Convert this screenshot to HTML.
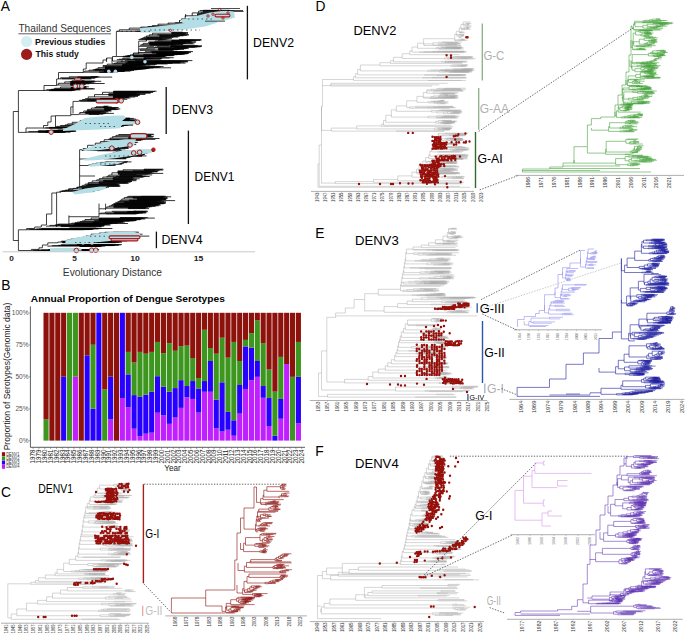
<!DOCTYPE html>
<html><head><meta charset="utf-8"><style>
html,body{margin:0;padding:0;background:#fff;}
svg{display:block;font-family:"Liberation Sans",sans-serif;}
</style></head><body>
<svg width="685" height="634" viewBox="0 0 685 634">
<rect width="685" height="634" fill="#fff"/>
<text x="0.8" y="10.8" font-size="13.8" fill="#000">A</text>
<text x="1.2" y="289.7" font-size="13.8" fill="#000">B</text>
<text x="0.9" y="497.2" font-size="13.8" fill="#000">C</text>
<text x="315.6" y="10.6" font-size="13.8" fill="#000">D</text>
<text x="315.2" y="238.1" font-size="13.8" fill="#000">E</text>
<text x="315.2" y="455.9" font-size="13.8" fill="#000">F</text>
<rect x="43.50" y="419.39" width="5.12" height="21.21" fill="#3d961e"/>
<rect x="43.50" y="312.80" width="5.12" height="106.59" fill="#8e120c"/>
<rect x="49.37" y="312.80" width="5.12" height="127.80" fill="#8e120c"/>
<rect x="55.24" y="312.80" width="5.12" height="127.80" fill="#8e120c"/>
<rect x="61.10" y="376.70" width="5.12" height="63.90" fill="#2800ff"/>
<rect x="61.10" y="312.80" width="5.12" height="63.90" fill="#8e120c"/>
<rect x="66.97" y="312.80" width="5.12" height="127.80" fill="#3d961e"/>
<rect x="72.84" y="376.70" width="5.12" height="63.90" fill="#c020ff"/>
<rect x="72.84" y="312.80" width="5.12" height="63.90" fill="#3d961e"/>
<rect x="78.71" y="312.80" width="5.12" height="127.80" fill="#8e120c"/>
<rect x="84.58" y="355.36" width="5.12" height="85.24" fill="#2800ff"/>
<rect x="84.58" y="312.80" width="5.12" height="42.56" fill="#8e120c"/>
<rect x="90.45" y="408.65" width="5.12" height="31.95" fill="#2800ff"/>
<rect x="90.45" y="344.75" width="5.12" height="63.90" fill="#3d961e"/>
<rect x="90.45" y="312.80" width="5.12" height="31.95" fill="#8e120c"/>
<rect x="96.31" y="312.80" width="5.12" height="127.80" fill="#2800ff"/>
<rect x="102.18" y="389.48" width="5.12" height="51.12" fill="#3d961e"/>
<rect x="102.18" y="312.80" width="5.12" height="76.68" fill="#8e120c"/>
<rect x="108.05" y="419.39" width="5.12" height="21.21" fill="#c020ff"/>
<rect x="108.05" y="376.70" width="5.12" height="42.69" fill="#2800ff"/>
<rect x="108.05" y="312.80" width="5.12" height="63.90" fill="#8e120c"/>
<rect x="113.92" y="312.80" width="5.12" height="127.80" fill="#8e120c"/>
<rect x="119.79" y="398.04" width="5.12" height="42.56" fill="#c020ff"/>
<rect x="119.79" y="312.80" width="5.12" height="85.24" fill="#2800ff"/>
<rect x="125.65" y="407.12" width="5.12" height="33.48" fill="#c020ff"/>
<rect x="125.65" y="374.40" width="5.12" height="32.72" fill="#2800ff"/>
<rect x="125.65" y="351.91" width="5.12" height="22.49" fill="#3d961e"/>
<rect x="125.65" y="312.80" width="5.12" height="39.11" fill="#8e120c"/>
<rect x="131.52" y="428.71" width="5.12" height="11.89" fill="#c020ff"/>
<rect x="131.52" y="395.10" width="5.12" height="33.61" fill="#2800ff"/>
<rect x="131.52" y="362.51" width="5.12" height="32.59" fill="#3d961e"/>
<rect x="131.52" y="312.80" width="5.12" height="49.71" fill="#8e120c"/>
<rect x="137.39" y="436.13" width="5.12" height="4.47" fill="#c020ff"/>
<rect x="137.39" y="396.89" width="5.12" height="39.23" fill="#2800ff"/>
<rect x="137.39" y="351.91" width="5.12" height="44.99" fill="#3d961e"/>
<rect x="137.39" y="312.80" width="5.12" height="39.11" fill="#8e120c"/>
<rect x="143.26" y="433.70" width="5.12" height="6.90" fill="#c020ff"/>
<rect x="143.26" y="394.72" width="5.12" height="38.98" fill="#2800ff"/>
<rect x="143.26" y="353.70" width="5.12" height="41.02" fill="#3d961e"/>
<rect x="143.26" y="312.80" width="5.12" height="40.90" fill="#8e120c"/>
<rect x="149.13" y="432.68" width="5.12" height="7.92" fill="#c020ff"/>
<rect x="149.13" y="391.78" width="5.12" height="40.90" fill="#2800ff"/>
<rect x="149.13" y="351.91" width="5.12" height="39.87" fill="#3d961e"/>
<rect x="149.13" y="312.80" width="5.12" height="39.11" fill="#8e120c"/>
<rect x="155.00" y="412.74" width="5.12" height="27.86" fill="#c020ff"/>
<rect x="155.00" y="376.19" width="5.12" height="36.55" fill="#2800ff"/>
<rect x="155.00" y="341.94" width="5.12" height="34.25" fill="#3d961e"/>
<rect x="155.00" y="312.80" width="5.12" height="29.14" fill="#8e120c"/>
<rect x="160.86" y="415.42" width="5.12" height="25.18" fill="#c020ff"/>
<rect x="160.86" y="386.80" width="5.12" height="28.63" fill="#2800ff"/>
<rect x="160.86" y="353.18" width="5.12" height="33.61" fill="#3d961e"/>
<rect x="160.86" y="312.80" width="5.12" height="40.38" fill="#8e120c"/>
<rect x="166.73" y="423.86" width="5.12" height="16.74" fill="#c020ff"/>
<rect x="166.73" y="391.78" width="5.12" height="32.08" fill="#2800ff"/>
<rect x="166.73" y="343.22" width="5.12" height="48.56" fill="#3d961e"/>
<rect x="166.73" y="312.80" width="5.12" height="30.42" fill="#8e120c"/>
<rect x="172.60" y="417.60" width="5.12" height="23.00" fill="#c020ff"/>
<rect x="172.60" y="388.07" width="5.12" height="29.52" fill="#2800ff"/>
<rect x="172.60" y="350.76" width="5.12" height="37.32" fill="#3d961e"/>
<rect x="172.60" y="312.80" width="5.12" height="37.96" fill="#8e120c"/>
<rect x="178.47" y="407.88" width="5.12" height="32.72" fill="#c020ff"/>
<rect x="178.47" y="380.15" width="5.12" height="27.73" fill="#2800ff"/>
<rect x="178.47" y="346.16" width="5.12" height="33.99" fill="#3d961e"/>
<rect x="178.47" y="312.80" width="5.12" height="33.36" fill="#8e120c"/>
<rect x="184.34" y="397.28" width="5.12" height="43.32" fill="#c020ff"/>
<rect x="184.34" y="386.03" width="5.12" height="11.25" fill="#2800ff"/>
<rect x="184.34" y="345.64" width="5.12" height="40.38" fill="#3d961e"/>
<rect x="184.34" y="312.80" width="5.12" height="32.84" fill="#8e120c"/>
<rect x="190.20" y="398.94" width="5.12" height="41.66" fill="#c020ff"/>
<rect x="190.20" y="381.05" width="5.12" height="17.89" fill="#2800ff"/>
<rect x="190.20" y="358.04" width="5.12" height="23.00" fill="#3d961e"/>
<rect x="190.20" y="312.80" width="5.12" height="45.24" fill="#8e120c"/>
<rect x="196.07" y="412.61" width="5.12" height="27.99" fill="#c020ff"/>
<rect x="196.07" y="388.46" width="5.12" height="24.15" fill="#2800ff"/>
<rect x="196.07" y="377.98" width="5.12" height="10.48" fill="#3d961e"/>
<rect x="196.07" y="312.80" width="5.12" height="65.18" fill="#8e120c"/>
<rect x="201.94" y="391.78" width="5.12" height="48.82" fill="#c020ff"/>
<rect x="201.94" y="381.05" width="5.12" height="10.74" fill="#2800ff"/>
<rect x="201.94" y="329.80" width="5.12" height="51.25" fill="#3d961e"/>
<rect x="201.94" y="312.80" width="5.12" height="17.00" fill="#8e120c"/>
<rect x="207.81" y="391.78" width="5.12" height="48.82" fill="#c020ff"/>
<rect x="207.81" y="360.98" width="5.12" height="30.80" fill="#2800ff"/>
<rect x="207.81" y="348.07" width="5.12" height="12.91" fill="#3d961e"/>
<rect x="207.81" y="312.80" width="5.12" height="35.27" fill="#8e120c"/>
<rect x="213.68" y="428.20" width="5.12" height="12.40" fill="#c020ff"/>
<rect x="213.68" y="399.58" width="5.12" height="28.63" fill="#2800ff"/>
<rect x="213.68" y="353.70" width="5.12" height="45.88" fill="#3d961e"/>
<rect x="213.68" y="312.80" width="5.12" height="40.90" fill="#8e120c"/>
<rect x="219.55" y="431.53" width="5.12" height="9.07" fill="#c020ff"/>
<rect x="219.55" y="382.32" width="5.12" height="49.20" fill="#2800ff"/>
<rect x="219.55" y="337.72" width="5.12" height="44.60" fill="#3d961e"/>
<rect x="219.55" y="312.80" width="5.12" height="24.92" fill="#8e120c"/>
<rect x="225.41" y="429.74" width="5.12" height="10.86" fill="#c020ff"/>
<rect x="225.41" y="411.85" width="5.12" height="17.89" fill="#2800ff"/>
<rect x="225.41" y="357.66" width="5.12" height="54.19" fill="#3d961e"/>
<rect x="225.41" y="312.80" width="5.12" height="44.86" fill="#8e120c"/>
<rect x="231.28" y="435.74" width="5.12" height="4.86" fill="#c020ff"/>
<rect x="231.28" y="420.28" width="5.12" height="15.46" fill="#2800ff"/>
<rect x="231.28" y="341.94" width="5.12" height="78.34" fill="#3d961e"/>
<rect x="231.28" y="312.80" width="5.12" height="29.14" fill="#8e120c"/>
<rect x="237.15" y="413.63" width="5.12" height="26.97" fill="#c020ff"/>
<rect x="237.15" y="385.01" width="5.12" height="28.63" fill="#2800ff"/>
<rect x="237.15" y="360.98" width="5.12" height="24.03" fill="#3d961e"/>
<rect x="237.15" y="312.80" width="5.12" height="48.18" fill="#8e120c"/>
<rect x="243.02" y="388.97" width="5.12" height="51.63" fill="#c020ff"/>
<rect x="243.02" y="346.41" width="5.12" height="42.56" fill="#2800ff"/>
<rect x="243.02" y="339.89" width="5.12" height="6.52" fill="#3d961e"/>
<rect x="243.02" y="312.80" width="5.12" height="27.09" fill="#8e120c"/>
<rect x="248.89" y="380.15" width="5.12" height="60.45" fill="#c020ff"/>
<rect x="248.89" y="347.69" width="5.12" height="32.46" fill="#2800ff"/>
<rect x="248.89" y="333.12" width="5.12" height="14.57" fill="#3d961e"/>
<rect x="248.89" y="312.80" width="5.12" height="20.32" fill="#8e120c"/>
<rect x="254.75" y="376.83" width="5.12" height="63.77" fill="#c020ff"/>
<rect x="254.75" y="360.98" width="5.12" height="15.85" fill="#2800ff"/>
<rect x="254.75" y="320.47" width="5.12" height="40.51" fill="#3d961e"/>
<rect x="254.75" y="312.80" width="5.12" height="7.67" fill="#8e120c"/>
<rect x="260.62" y="397.79" width="5.12" height="42.81" fill="#c020ff"/>
<rect x="260.62" y="386.03" width="5.12" height="11.76" fill="#2800ff"/>
<rect x="260.62" y="343.09" width="5.12" height="42.94" fill="#3d961e"/>
<rect x="260.62" y="312.80" width="5.12" height="30.29" fill="#8e120c"/>
<rect x="266.49" y="426.03" width="5.12" height="14.57" fill="#c020ff"/>
<rect x="266.49" y="398.04" width="5.12" height="27.99" fill="#2800ff"/>
<rect x="266.49" y="369.54" width="5.12" height="28.50" fill="#3d961e"/>
<rect x="266.49" y="312.80" width="5.12" height="56.74" fill="#8e120c"/>
<rect x="272.36" y="435.74" width="5.12" height="4.86" fill="#2800ff"/>
<rect x="272.36" y="391.65" width="5.12" height="44.09" fill="#3d961e"/>
<rect x="272.36" y="312.80" width="5.12" height="78.85" fill="#8e120c"/>
<rect x="278.23" y="418.75" width="5.12" height="21.85" fill="#c020ff"/>
<rect x="278.23" y="398.94" width="5.12" height="19.81" fill="#2800ff"/>
<rect x="278.23" y="356.89" width="5.12" height="42.05" fill="#3d961e"/>
<rect x="278.23" y="312.80" width="5.12" height="44.09" fill="#8e120c"/>
<rect x="284.10" y="364.05" width="5.12" height="76.55" fill="#c020ff"/>
<rect x="284.10" y="312.80" width="5.12" height="51.25" fill="#8e120c"/>
<rect x="289.96" y="376.83" width="5.12" height="63.77" fill="#3d961e"/>
<rect x="289.96" y="312.80" width="5.12" height="64.03" fill="#8e120c"/>
<rect x="295.83" y="423.22" width="5.12" height="17.38" fill="#c020ff"/>
<rect x="295.83" y="376.83" width="5.12" height="46.39" fill="#2800ff"/>
<rect x="295.83" y="341.94" width="5.12" height="34.89" fill="#3d961e"/>
<rect x="295.83" y="312.80" width="5.12" height="29.14" fill="#8e120c"/>
<line x1="30.4" y1="306.4" x2="30.4" y2="447.3" stroke="#333" stroke-width="0.8"/>
<line x1="30.4" y1="447.3" x2="305" y2="447.3" stroke="#333" stroke-width="0.8"/>
<text x="28.6" y="315.4" font-size="6.6" fill="#555" text-anchor="end">100%</text>
<line x1="28.9" y1="313.1" x2="30.4" y2="313.1" stroke="#555" stroke-width="0.5"/>
<text x="28.6" y="347.3" font-size="6.6" fill="#555" text-anchor="end">75%</text>
<line x1="28.9" y1="345" x2="30.4" y2="345" stroke="#555" stroke-width="0.5"/>
<text x="28.6" y="379.1" font-size="6.6" fill="#555" text-anchor="end">50%</text>
<line x1="28.9" y1="376.8" x2="30.4" y2="376.8" stroke="#555" stroke-width="0.5"/>
<text x="28.6" y="411.3" font-size="6.6" fill="#555" text-anchor="end">25%</text>
<line x1="28.9" y1="409" x2="30.4" y2="409" stroke="#555" stroke-width="0.5"/>
<text x="28.6" y="443" font-size="6.6" fill="#555" text-anchor="end">0%</text>
<line x1="28.9" y1="440.7" x2="30.4" y2="440.7" stroke="#555" stroke-width="0.5"/>
<line x1="33.1" y1="447.3" x2="33.1" y2="449" stroke="#555" stroke-width="0.5"/>
<text transform="translate(35.4,463.4) rotate(-90)" font-size="6.5" fill="#222" textLength="13.8" lengthAdjust="spacingAndGlyphs">1978</text>
<line x1="38.9" y1="447.3" x2="38.9" y2="449" stroke="#555" stroke-width="0.5"/>
<text transform="translate(41.2,463.4) rotate(-90)" font-size="6.5" fill="#222" textLength="13.8" lengthAdjust="spacingAndGlyphs">1979</text>
<line x1="44.8" y1="447.3" x2="44.8" y2="449" stroke="#555" stroke-width="0.5"/>
<text transform="translate(47.1,463.4) rotate(-90)" font-size="6.5" fill="#222" textLength="13.8" lengthAdjust="spacingAndGlyphs">1980</text>
<line x1="50.6" y1="447.3" x2="50.6" y2="449" stroke="#555" stroke-width="0.5"/>
<text transform="translate(52.9,463.4) rotate(-90)" font-size="6.5" fill="#222" textLength="13.8" lengthAdjust="spacingAndGlyphs">1981</text>
<line x1="56.5" y1="447.3" x2="56.5" y2="449" stroke="#555" stroke-width="0.5"/>
<text transform="translate(58.8,463.4) rotate(-90)" font-size="6.5" fill="#222" textLength="13.8" lengthAdjust="spacingAndGlyphs">1982</text>
<line x1="62.3" y1="447.3" x2="62.3" y2="449" stroke="#555" stroke-width="0.5"/>
<text transform="translate(64.6,463.4) rotate(-90)" font-size="6.5" fill="#222" textLength="13.8" lengthAdjust="spacingAndGlyphs">1983</text>
<line x1="68.1" y1="447.3" x2="68.1" y2="449" stroke="#555" stroke-width="0.5"/>
<text transform="translate(70.4,463.4) rotate(-90)" font-size="6.5" fill="#222" textLength="13.8" lengthAdjust="spacingAndGlyphs">1984</text>
<line x1="74" y1="447.3" x2="74" y2="449" stroke="#555" stroke-width="0.5"/>
<text transform="translate(76.3,463.4) rotate(-90)" font-size="6.5" fill="#222" textLength="13.8" lengthAdjust="spacingAndGlyphs">1985</text>
<line x1="79.8" y1="447.3" x2="79.8" y2="449" stroke="#555" stroke-width="0.5"/>
<text transform="translate(82.1,463.4) rotate(-90)" font-size="6.5" fill="#222" textLength="13.8" lengthAdjust="spacingAndGlyphs">1986</text>
<line x1="85.7" y1="447.3" x2="85.7" y2="449" stroke="#555" stroke-width="0.5"/>
<text transform="translate(88.0,463.4) rotate(-90)" font-size="6.5" fill="#222" textLength="13.8" lengthAdjust="spacingAndGlyphs">1987</text>
<line x1="91.5" y1="447.3" x2="91.5" y2="449" stroke="#555" stroke-width="0.5"/>
<text transform="translate(93.8,463.4) rotate(-90)" font-size="6.5" fill="#222" textLength="13.8" lengthAdjust="spacingAndGlyphs">1988</text>
<line x1="97.3" y1="447.3" x2="97.3" y2="449" stroke="#555" stroke-width="0.5"/>
<text transform="translate(99.6,463.4) rotate(-90)" font-size="6.5" fill="#222" textLength="13.8" lengthAdjust="spacingAndGlyphs">1989</text>
<line x1="103.2" y1="447.3" x2="103.2" y2="449" stroke="#555" stroke-width="0.5"/>
<text transform="translate(105.5,463.4) rotate(-90)" font-size="6.5" fill="#222" textLength="13.8" lengthAdjust="spacingAndGlyphs">1990</text>
<line x1="109" y1="447.3" x2="109" y2="449" stroke="#555" stroke-width="0.5"/>
<text transform="translate(111.3,463.4) rotate(-90)" font-size="6.5" fill="#222" textLength="13.8" lengthAdjust="spacingAndGlyphs">1991</text>
<line x1="114.9" y1="447.3" x2="114.9" y2="449" stroke="#555" stroke-width="0.5"/>
<text transform="translate(117.2,463.4) rotate(-90)" font-size="6.5" fill="#222" textLength="13.8" lengthAdjust="spacingAndGlyphs">1992</text>
<line x1="120.7" y1="447.3" x2="120.7" y2="449" stroke="#555" stroke-width="0.5"/>
<text transform="translate(123.0,463.4) rotate(-90)" font-size="6.5" fill="#222" textLength="13.8" lengthAdjust="spacingAndGlyphs">1993</text>
<line x1="126.5" y1="447.3" x2="126.5" y2="449" stroke="#555" stroke-width="0.5"/>
<text transform="translate(128.8,463.4) rotate(-90)" font-size="6.5" fill="#222" textLength="13.8" lengthAdjust="spacingAndGlyphs">1994</text>
<line x1="132.4" y1="447.3" x2="132.4" y2="449" stroke="#555" stroke-width="0.5"/>
<text transform="translate(134.7,463.4) rotate(-90)" font-size="6.5" fill="#222" textLength="13.8" lengthAdjust="spacingAndGlyphs">1995</text>
<line x1="138.2" y1="447.3" x2="138.2" y2="449" stroke="#555" stroke-width="0.5"/>
<text transform="translate(140.5,463.4) rotate(-90)" font-size="6.5" fill="#222" textLength="13.8" lengthAdjust="spacingAndGlyphs">1996</text>
<line x1="144.1" y1="447.3" x2="144.1" y2="449" stroke="#555" stroke-width="0.5"/>
<text transform="translate(146.4,463.4) rotate(-90)" font-size="6.5" fill="#222" textLength="13.8" lengthAdjust="spacingAndGlyphs">1997</text>
<line x1="149.9" y1="447.3" x2="149.9" y2="449" stroke="#555" stroke-width="0.5"/>
<text transform="translate(152.2,463.4) rotate(-90)" font-size="6.5" fill="#222" textLength="13.8" lengthAdjust="spacingAndGlyphs">1998</text>
<line x1="155.7" y1="447.3" x2="155.7" y2="449" stroke="#555" stroke-width="0.5"/>
<text transform="translate(158.0,463.4) rotate(-90)" font-size="6.5" fill="#222" textLength="13.8" lengthAdjust="spacingAndGlyphs">1999</text>
<line x1="161.6" y1="447.3" x2="161.6" y2="449" stroke="#555" stroke-width="0.5"/>
<text transform="translate(163.9,463.4) rotate(-90)" font-size="6.5" fill="#222" textLength="13.8" lengthAdjust="spacingAndGlyphs">2000</text>
<line x1="167.4" y1="447.3" x2="167.4" y2="449" stroke="#555" stroke-width="0.5"/>
<text transform="translate(169.7,463.4) rotate(-90)" font-size="6.5" fill="#222" textLength="13.8" lengthAdjust="spacingAndGlyphs">2001</text>
<line x1="173.3" y1="447.3" x2="173.3" y2="449" stroke="#555" stroke-width="0.5"/>
<text transform="translate(175.6,463.4) rotate(-90)" font-size="6.5" fill="#222" textLength="13.8" lengthAdjust="spacingAndGlyphs">2002</text>
<line x1="179.1" y1="447.3" x2="179.1" y2="449" stroke="#555" stroke-width="0.5"/>
<text transform="translate(181.4,463.4) rotate(-90)" font-size="6.5" fill="#222" textLength="13.8" lengthAdjust="spacingAndGlyphs">2003</text>
<line x1="184.9" y1="447.3" x2="184.9" y2="449" stroke="#555" stroke-width="0.5"/>
<text transform="translate(187.2,463.4) rotate(-90)" font-size="6.5" fill="#222" textLength="13.8" lengthAdjust="spacingAndGlyphs">2004</text>
<line x1="190.8" y1="447.3" x2="190.8" y2="449" stroke="#555" stroke-width="0.5"/>
<text transform="translate(193.1,463.4) rotate(-90)" font-size="6.5" fill="#222" textLength="13.8" lengthAdjust="spacingAndGlyphs">2005</text>
<line x1="196.6" y1="447.3" x2="196.6" y2="449" stroke="#555" stroke-width="0.5"/>
<text transform="translate(198.9,463.4) rotate(-90)" font-size="6.5" fill="#222" textLength="13.8" lengthAdjust="spacingAndGlyphs">2006</text>
<line x1="202.5" y1="447.3" x2="202.5" y2="449" stroke="#555" stroke-width="0.5"/>
<text transform="translate(204.8,463.4) rotate(-90)" font-size="6.5" fill="#222" textLength="13.8" lengthAdjust="spacingAndGlyphs">2007</text>
<line x1="208.3" y1="447.3" x2="208.3" y2="449" stroke="#555" stroke-width="0.5"/>
<text transform="translate(210.6,463.4) rotate(-90)" font-size="6.5" fill="#222" textLength="13.8" lengthAdjust="spacingAndGlyphs">2008</text>
<line x1="214.1" y1="447.3" x2="214.1" y2="449" stroke="#555" stroke-width="0.5"/>
<text transform="translate(216.4,463.4) rotate(-90)" font-size="6.5" fill="#222" textLength="13.8" lengthAdjust="spacingAndGlyphs">2009</text>
<line x1="220" y1="447.3" x2="220" y2="449" stroke="#555" stroke-width="0.5"/>
<text transform="translate(222.3,463.4) rotate(-90)" font-size="6.5" fill="#222" textLength="13.8" lengthAdjust="spacingAndGlyphs">2010</text>
<line x1="225.8" y1="447.3" x2="225.8" y2="449" stroke="#555" stroke-width="0.5"/>
<text transform="translate(228.1,463.4) rotate(-90)" font-size="6.5" fill="#222" textLength="13.8" lengthAdjust="spacingAndGlyphs">2011</text>
<line x1="231.7" y1="447.3" x2="231.7" y2="449" stroke="#555" stroke-width="0.5"/>
<text transform="translate(234.0,463.4) rotate(-90)" font-size="6.5" fill="#222" textLength="13.8" lengthAdjust="spacingAndGlyphs">2012</text>
<line x1="237.5" y1="447.3" x2="237.5" y2="449" stroke="#555" stroke-width="0.5"/>
<text transform="translate(239.8,463.4) rotate(-90)" font-size="6.5" fill="#222" textLength="13.8" lengthAdjust="spacingAndGlyphs">2013</text>
<line x1="243.3" y1="447.3" x2="243.3" y2="449" stroke="#555" stroke-width="0.5"/>
<text transform="translate(245.6,463.4) rotate(-90)" font-size="6.5" fill="#222" textLength="13.8" lengthAdjust="spacingAndGlyphs">2014</text>
<line x1="249.2" y1="447.3" x2="249.2" y2="449" stroke="#555" stroke-width="0.5"/>
<text transform="translate(251.5,463.4) rotate(-90)" font-size="6.5" fill="#222" textLength="13.8" lengthAdjust="spacingAndGlyphs">2015</text>
<line x1="255" y1="447.3" x2="255" y2="449" stroke="#555" stroke-width="0.5"/>
<text transform="translate(257.3,463.4) rotate(-90)" font-size="6.5" fill="#222" textLength="13.8" lengthAdjust="spacingAndGlyphs">2016</text>
<line x1="260.9" y1="447.3" x2="260.9" y2="449" stroke="#555" stroke-width="0.5"/>
<text transform="translate(263.2,463.4) rotate(-90)" font-size="6.5" fill="#222" textLength="13.8" lengthAdjust="spacingAndGlyphs">2017</text>
<line x1="266.7" y1="447.3" x2="266.7" y2="449" stroke="#555" stroke-width="0.5"/>
<text transform="translate(269.0,463.4) rotate(-90)" font-size="6.5" fill="#222" textLength="13.8" lengthAdjust="spacingAndGlyphs">2018</text>
<line x1="272.5" y1="447.3" x2="272.5" y2="449" stroke="#555" stroke-width="0.5"/>
<text transform="translate(274.8,463.4) rotate(-90)" font-size="6.5" fill="#222" textLength="13.8" lengthAdjust="spacingAndGlyphs">2019</text>
<line x1="278.4" y1="447.3" x2="278.4" y2="449" stroke="#555" stroke-width="0.5"/>
<text transform="translate(280.7,463.4) rotate(-90)" font-size="6.5" fill="#222" textLength="13.8" lengthAdjust="spacingAndGlyphs">2020</text>
<line x1="284.2" y1="447.3" x2="284.2" y2="449" stroke="#555" stroke-width="0.5"/>
<text transform="translate(286.5,463.4) rotate(-90)" font-size="6.5" fill="#222" textLength="13.8" lengthAdjust="spacingAndGlyphs">2021</text>
<line x1="290.1" y1="447.3" x2="290.1" y2="449" stroke="#555" stroke-width="0.5"/>
<text transform="translate(292.4,463.4) rotate(-90)" font-size="6.5" fill="#222" textLength="13.8" lengthAdjust="spacingAndGlyphs">2022</text>
<line x1="295.9" y1="447.3" x2="295.9" y2="449" stroke="#555" stroke-width="0.5"/>
<text transform="translate(298.2,463.4) rotate(-90)" font-size="6.5" fill="#222" textLength="13.8" lengthAdjust="spacingAndGlyphs">2023</text>
<line x1="301.7" y1="447.3" x2="301.7" y2="449" stroke="#555" stroke-width="0.5"/>
<text transform="translate(304.0,463.4) rotate(-90)" font-size="6.5" fill="#222" textLength="13.8" lengthAdjust="spacingAndGlyphs">2024</text>
<text x="172.5" y="471.2" font-size="8.2" fill="#222" text-anchor="middle">Year</text>
<text x="30.8" y="302.1" font-size="9.8" font-weight="700" fill="#000" textLength="194" lengthAdjust="spacingAndGlyphs">Annual Proportion of Dengue Serotypes</text>
<text transform="translate(9.5,450.3) rotate(-90)" font-size="9.2" fill="#222" textLength="147.7" lengthAdjust="spacingAndGlyphs">Proportion of Serotypes(Genomic data)</text>
<rect x="1.90" y="452.20" width="3.20" height="4.00" fill="#8e120c"/>
<text x="6.2" y="455.7" font-size="4.6" fill="#333" textLength="13.3" lengthAdjust="spacingAndGlyphs">DENV1</text>
<rect x="1.90" y="456.40" width="3.20" height="4.00" fill="#3d961e"/>
<text x="6.2" y="459.9" font-size="4.6" fill="#333" textLength="13.3" lengthAdjust="spacingAndGlyphs">DENV2</text>
<rect x="1.90" y="460.60" width="3.20" height="4.00" fill="#2800ff"/>
<text x="6.2" y="464.1" font-size="4.6" fill="#333" textLength="13.3" lengthAdjust="spacingAndGlyphs">DENV3</text>
<rect x="1.90" y="464.80" width="3.20" height="4.00" fill="#c020ff"/>
<text x="6.2" y="468.3" font-size="4.6" fill="#333" textLength="13.3" lengthAdjust="spacingAndGlyphs">DENV4</text>
<path d="M13.3 111.5V240.5M13.3 111.5H18.4M18.4 90.5V132.4M13.3 240.5H18.4M18.4 229.8V250.5M18.4 90.5H44M44 90.8V85.5H44M44 85.5V85.5H56.6M56.6 85.5V79H56.6M56.6 79V79H58.5M58.5 79V72.5H58.5M58.5 72.5V72.5H83.3M83.3 72.5V69H83.3M83.3 69V69H86.2M86.2 69V63H86.2M86.2 63V63H103M103 63V60H103M103 60V60H106.6M106.6 60V58H106.6M106.6 58V58H112.5M112.5 58V56.5H112.5M112.5 56.5V56.5H116.4M116.4 56.5V31.7H116.4M116.4 56.5H123M106.6 58V62M112.5 58V61H123M123 56.5V56.3H133.4M133.4 56.3V53H136M136 53V53H138.7M138.7 53V41.1H138.7M138.7 41.1V41.1H146.5M146.5 41.1V39.5H146.5M138.7 49H155M138.7 46.4H154M112 63.5V58M179.5 22.5V20.4M185.6 17V14M18.4 132.4H26M26 132.4V130H26M26 130V128H43.5M43.5 128V127.5H43.5M43.5 127.5V125.5H47.8M47.8 125.5V124H47.8M47.8 124V122H51.1M51.1 122V120H51.1M51.1 120V116H55.5M55.5 116V115.7H55.5M55.5 115.7V115.7H70.8M70.8 115.7V106.9H70.8M55.5 116V127M70.8 114.6H78.5M73 101.4V113.5M73 101.4H78.5M70.8 106.9H73M18.4 229.8H26.6M26.6 229.8V228.5H26.6M26.6 228.5V228.5H34.7M34.7 228.5V227H34.7M34.7 227V227H41.3M41.3 227V225H41.3M41.3 225V225H46.5M46.5 225V214H46.5M46.5 214V214H51.8M51.8 214V193H51.8M51.8 193V193H56.6M56.6 193V192.2H56.6M56.6 192.2V192.2H61M61 192.2V191.3H61M61 191.3V191.3H65M65 191.3V190.3H65M65 190.3V190.3H69M69 190.3V189.3H69M69 189.3V189.3H73M73 189.3V188.4H73M73 188.4V188.4H76.5M76.5 188.4V187.4H76.5M76.5 187.4V187.4H79.6M79.6 187.4V149.7H79.6M56.6 193V227M56.6 224.6H68.9M68.9 215.4V224.6M68.9 216.7H99M99 203.6V216.7M105.6 203.6V210M99 208.8H105.6M79.6 149.7H82M79.6 159H99M79.6 165.5H88.6M79.6 176H95M18.4 250.5H31.4M31.4 250.5V249.4H31.4M31.4 249.4V249.4H39M39 249.4V247.8H39M39 247.8V247.8H42.4M42.4 247.8V245H42.4M42.4 245V245H47.8M47.8 245V242.8H47.8M47.8 242.8V242.8H57.7" stroke="#111" stroke-width="0.8" fill="none"/>
<path d="M68.8 87H77.6M77.6 86.6V87.4M77.6 86.6H86.1M77.6 86.8H88.9M77.6 87H83.4M77.6 87.2H86.6M77.6 87.4H84.9M60.5 88.3H71M71 87.6V88.9M71 87.6H85.7M71 87.8H83.6M71 88H84.5M71 88.2H86.1M71 88.4H86.8M71 88.6H82.8M71 88.7H93.5M71 88.9H94.9M54.8 89.1H72.3M53.5 89.3H80M51 89.7H52.4M52.4 89.5V89.9M52.4 89.5H77.2M52.4 89.7H71.7M52.4 89.9H80.6M46.5 90.4H49.4M49.4 90.1V90.7M49.4 90.1H74M49.4 90.3H75.7M49.4 90.5H72.9M49.4 90.7H72.1M44 90.4V90.8M44 90.4H46.5M46.5 89.7V90.4M46.5 89.7H51M51 89.3V89.7M51 89.3H53.5M53.5 89.1V89.3M53.5 89.1H54.8M54.8 88.3V89.1M54.8 88.3H60.5M60.5 87V88.3M60.5 87H68.8M73.8 80.8H81.6M81.6 80.7V81M81.6 80.7H84.4M81.6 81H94.7M72.1 81.3H101.2M71 81.6H94.3M69.8 81.9H95.5M64.7 83.3H70.7M70.7 82.2V84.4M70.7 82.2H88.6M70.7 82.5H91.6M70.7 82.8H93.9M70.7 83.2H82.7M70.7 83.5H104.7M70.7 83.8H89.4M70.7 84.1H85.8M70.7 84.4H85.2M58.3 85H70.6M70.6 84.7V85.3M70.6 84.7H83.3M70.6 85H80.7M70.6 85.3H82.3M56.6 85V85.5M56.6 85H58.3M58.3 83.3V85M58.3 83.3H64.7M64.7 81.9V83.3M64.7 81.9H69.8M69.8 81.6V81.9M69.8 81.6H71M71 81.3V81.6M71 81.3H72.1M72.1 80.8V81.3M72.1 80.8H73.8M77.8 76.8H91.1M91.1 76.6V76.9M91.1 76.6H97.9M91.1 76.9H99.4M69.2 77.8H77.5M77.5 77.1V78.4M77.5 77.1H112.2M77.5 77.4H97.1M77.5 77.6H90M77.5 77.9H95.6M77.5 78.1H94.8M77.5 78.4H85.2M60.6 78.8H62M62 78.6V78.9M62 78.6H90.7M62 78.9H91.5M58.5 78.8V79M58.5 78.8H60.6M60.6 77.8V78.8M60.6 77.8H69.2M69.2 76.8V77.8M69.2 76.8H77.8M107.5 66.6H163.6M103.2 67.7H105.2M105.2 66.8V68.5M105.2 66.8H160.7M105.2 67.1H160.3M105.2 67.3H158.7M105.2 67.5H154.5M105.2 67.8H171.1M105.2 68H153.4M105.2 68.2H149.8M105.2 68.5H148.6M98 68.9H121.5M121.5 68.7V69.2M121.5 68.7H145.7M121.5 68.9H146.3M121.5 69.2H143.4M95.7 69.5H110.4M110.4 69.4V69.6M110.4 69.4H140.5M110.4 69.6H138.3M94.2 69.8H136.6M92.8 70.2H95M95 70.1V70.3M95 70.1H119.9M95 70.3H126.5M89 71.1H104M104 70.5V71.7M104 70.5H134M104 70.8H131.4M104 71H130.1M104 71.2H125.2M104 71.5H124.2M104 71.7H118.1M84.7 72.2H99.4M99.4 71.9V72.4M99.4 71.9H117.5M99.4 72.2H112.9M99.4 72.4H107.5M83.3 72.2V72.5M83.3 72.2H84.7M84.7 71.1V72.2M84.7 71.1H89M89 70.2V71.1M89 70.2H92.8M92.8 69.8V70.2M92.8 69.8H94.2M94.2 69.5V69.8M94.2 69.5H95.7M95.7 68.9V69.5M95.7 68.9H98M98 67.7V68.9M98 67.7H103.2M103.2 66.6V67.7M103.2 66.6H107.5M127 60.8H135.2M135.2 60.6V60.9M135.2 60.6H192.4M135.2 60.9H187.4M124.9 61.2H155M155 61.1V61.4M155 61.1H180.9M155 61.4H178.7M121.2 62.1H127.8M127.8 61.6V62.6M127.8 61.6H188.1M127.8 61.9H187.6M127.8 62.1H184.3M127.8 62.4H180.9M127.8 62.6H179.5M117.1 63.1H125.5M125.5 62.9V63.4M125.5 62.9H180.1M125.5 63.1H185.5M125.5 63.4H172.4M114.5 63.8H139.6M139.6 63.6V63.9M139.6 63.6H166.3M139.6 63.9H167.7M112.4 64.2H129.4M129.4 64.1V64.4M129.4 64.1H146M129.4 64.4H144.5M107.2 65.5H122.6M122.6 64.6V66.4M122.6 64.6H156.7M122.6 64.9H154.9M122.6 65.1H150.3M122.6 65.4H145.4M122.6 65.6H141.4M122.6 65.9H142.4M122.6 66.1H128.5M122.6 66.4H134.8M103 65.5V66.5M103 65.5H107.2M107.2 64.2V65.5M107.2 64.2H112.4M112.4 63.8V64.2M112.4 63.8H114.5M114.5 63.1V63.8M114.5 63.1H117.1M117.1 62.1V63.1M117.1 62.1H121.2M121.2 61.2V62.1M121.2 61.2H124.9M124.9 60.8V61.2M124.9 60.8H127M129.4 58.3H143.9M143.9 57.7V58.9M143.9 57.7H173.8M143.9 58H169.5M143.9 58.3H162.2M143.9 58.6H152.9M143.9 58.9H161.4M122.6 59.2H160.4M119.2 59.7H126.9M126.9 59.5V59.8M126.9 59.5H146.1M126.9 59.8H143.2M117 59.7V60M117 59.7H119.2M119.2 59.2V59.7M119.2 59.2H122.6M122.6 58.3V59.2M122.6 58.3H129.4M156.8 33.2H171.8M171.8 32.2V34.2M171.8 32.2H182.8M171.8 32.6H188.1M171.8 33H185.7M171.8 33.4H188M171.8 33.8H185.6M171.8 34.2H184.8M152.5 34.8H157.3M157.3 34.6V35M157.3 34.6H188.6M157.3 35H188.8M149.3 36H159.7M159.7 35.4V36.6M159.7 35.4H186.7M159.7 35.8H183.5M159.7 36.2H179.9M159.7 36.6H177.4M146.2 37.2H146.6M146.6 37V37.4M146.6 37H178.3M146.6 37.4H173.3M144 38H146.7M146.7 37.8V38.2M146.7 37.8H170.6M146.7 38.2H162.4M142.4 38.6H171.9M141.4 39H168.6M139.8 39.6H145.2M145.2 39.4V39.8M145.2 39.4H166.1M145.2 39.8H163.2M138.7 39.6V40M138.7 39.6H139.8M139.8 39V39.6M139.8 39H141.4M141.4 38.6V39M141.4 38.6H142.4M142.4 38V38.6M142.4 38H144M144 37.2V38M144 37.2H146.2M146.2 36V37.2M146.2 36H149.3M149.3 34.8V36M149.3 34.8H152.5M152.5 33.2V34.8M152.5 33.2H156.8M163.1 40H179.3M179.3 39.6V40.2M179.3 39.6H201.2M179.3 40H201.7M179.3 40.2H193.5M158.8 41H171.7M171.7 40.5V41.5M171.7 40.5H200.3M171.7 40.9H196.6M171.7 41.1H195.8M171.7 41.5H191.3M155 41.9H156.4M156.4 41.8V42M156.4 41.8H189.3M156.4 42H191.5M148.7 43.4H149.7M149.7 42.4V44.5M149.7 42.4H195.8M149.7 42.6H184.9M149.7 43H191.9M149.7 43.2H193M149.7 43.5H185.9M149.7 43.9H194.5M149.7 44.1H182.1M149.7 44.5H183.2M143.1 44.8H173.3M141.2 45.2H150.1M150.1 45V45.4M150.1 45H176.4M150.1 45.4H169.2M140 45.2V45.5M140 45.2H141.2M141.2 44.8V45.2M141.2 44.8H143.1M143.1 43.4V44.8M143.1 43.4H148.7M148.7 41.9V43.4M148.7 41.9H155M155 41V41.9M155 41H158.8M158.8 40V41M158.8 40H163.1M161.5 46.2H170.6M170.6 45.6V46.8M170.6 45.6H197.8M170.6 45.9H202M170.6 46.2H202M170.6 46.5H200.6M170.6 46.8H200.5M157.4 47H197.3M154.6 47.6H174.8M174.8 47.3V47.9M174.8 47.3H194.9M174.8 47.6H188.2M174.8 47.9H180M146.9 49.1H158.7M158.7 48.1V50.1M158.7 48.1H187.1M158.7 48.4H188.7M158.7 48.7H185.8M158.7 49H183.8M158.7 49.2H183.9M158.7 49.5H180.1M158.7 49.8H177.6M158.7 50.1H174.1M140.7 50.4H172.7M140 50.4V50.5M140 50.4H140.7M140.7 49.1V50.4M140.7 49.1H146.9M146.9 47.6V49.1M146.9 47.6H154.6M154.6 47V47.6M154.6 47H157.4M157.4 46.2V47M157.4 46.2H161.5M149 51.7H150.5M150.5 51.6V51.8M150.5 51.6H193M150.5 51.8H188.1M145.1 52.5H152.1M152.1 52V53M152.1 52H191M152.1 52.2H181.2M152.1 52.4H188.5M152.1 52.6H190.7M152.1 52.8H186.5M152.1 53H183.8M138.3 53.9H156.8M156.8 53.2V54.5M156.8 53.2H185.4M156.8 53.4H188.9M156.8 53.6H188.2M156.8 53.8H186.9M156.8 54H183.7M156.8 54.2H184.8M156.8 54.3H177.8M156.8 54.5H181.9M133 54.9H143.4M143.4 54.7V55.1M143.4 54.7H177.4M143.4 54.9H173.8M143.4 55.1H167.3M130.1 55.5H149.5M149.5 55.3V55.7M149.5 55.3H170.2M149.5 55.5H174.4M149.5 55.7H172.5M127.7 56H145.8M145.8 55.9V56.1M145.8 55.9H167M145.8 56.1H165.9M125.2 56.5H126.4M126.4 56.3V56.7M126.4 56.3H164.9M126.4 56.5H164.9M126.4 56.7H161.7M123.3 56.9H150.6M122.8 56.9V57M122.8 56.9H123.3M123.3 56.5V56.9M123.3 56.5H125.2M125.2 56V56.5M125.2 56H127.7M127.7 55.5V56M127.7 55.5H130.1M130.1 54.9V55.5M130.1 54.9H133M133 53.9V54.9M133 53.9H138.3M138.3 52.5V53.9M138.3 52.5H145.1M145.1 51.7V52.5M145.1 51.7H149M178.1 22.7H211.5M175.2 23.1H208.6M168 24.2H183.9M183.9 23.5V24.8M183.9 23.5H207.2M183.9 24H205.5M183.9 24.4H204.6M183.9 24.8H204.3M158 25.6H174M174 25.2V26.1M174 25.2H192.9M174 25.6H185.2M174 26.1H188.1M152.3 26.5H188.3M147.9 27.1H171.4M171.4 26.9V27.3M171.4 26.9H190.9M171.4 27.3H188.9M140.8 28.1H151.8M151.8 27.7V28.6M151.8 27.7H179.5M151.8 28.1H186.1M151.8 28.6H180.4M129.3 29.8H142.5M142.5 29V30.7M142.5 29H174.4M142.5 29.4H165.3M142.5 29.8H163.5M142.5 30.2H154.2M142.5 30.7H152.9M119.3 31.3H136.4M136.4 31.1V31.5M136.4 31.1H155.4M136.4 31.5H151.6M116.4 31.3V31.7M116.4 31.3H119.3M119.3 29.8V31.3M119.3 29.8H129.3M129.3 28.1V29.8M129.3 28.1H140.8M140.8 27.1V28.1M140.8 27.1H147.9M147.9 26.5V27.1M147.9 26.5H152.3M152.3 25.6V26.5M152.3 25.6H158M158 24.2V25.6M158 24.2H168M168 23.1V24.2M168 23.1H175.2M175.2 22.7V23.1M175.2 22.7H178.1M202.4 11.1H203.3M203.3 10.3V12M203.3 10.3H229.7M203.3 10.9H234.2M203.3 11.4H243.6M203.3 12H231.7M198.6 12.9H200.9M200.9 12.6V13.2M200.9 12.6H224.1M200.9 13.2H226.5M192.2 15.8H197.5M197.5 13.7V17.8M197.5 13.7H229.4M197.5 14.3H231.3M197.5 14.9H228.1M197.5 15.5H229.3M197.5 16H222.6M197.5 16.6H225.6M197.5 17.2H222.1M197.5 17.8H223.3M185.2 18.9H197M197 18.3V19.5M197 18.3H222.4M197 18.9H224.5M197 19.5H222.1M181.4 20.6H196.8M196.8 20.1V21.2M196.8 20.1H213M196.8 20.6H209.4M196.8 21.2H213.7M179.5 20.6V21.5M179.5 20.6H181.4M181.4 18.9V20.6M181.4 18.9H185.2M185.2 15.8V18.9M185.2 15.8H192.2M192.2 12.9V15.8M192.2 12.9H198.6M198.6 11.1V12.9M198.6 11.1H202.4M57.4 130.2H57.6M57.6 130.1V130.3M57.6 130.1H75.1M57.6 130.2H75.7M57.6 130.3H73.3M51.5 130.6H62.3M62.3 130.4V130.8M62.3 130.4H70.4M62.3 130.5H70.4M62.3 130.7H70.9M62.3 130.8H68.9M46.4 131H56.9M56.9 130.9V131M56.9 130.9H74.4M56.9 131H71.9M37.9 131.6H38.5M38.5 131.1V132M38.5 131.1H75.5M38.5 131.3H76.2M38.5 131.4H71.9M38.5 131.5H73.4M38.5 131.6H69.7M38.5 131.7H70.5M38.5 131.9H65.8M38.5 132H70.6M28.6 132.2H45.4M45.4 132.1V132.3M45.4 132.1H65.2M45.4 132.2H64.7M45.4 132.3H61.7M26 132.2V132.4M26 132.2H28.6M28.6 131.6V132.2M28.6 131.6H37.9M37.9 131V131.6M37.9 131H46.4M46.4 130.6V131M46.4 130.6H51.5M51.5 130.2V130.6M51.5 130.2H57.4M53.1 127.4H58.8M58.8 127.3V127.5M58.8 127.3H68.8M58.8 127.5H61.3M49.3 127.8H56.7M56.7 127.7V127.8M56.7 127.7H70.2M56.7 127.8H66.4M45.4 128.1H48.9M48.9 128V128.2M48.9 128H61.7M48.9 128.2H62.8M43.5 128.1V128.3M43.5 128.1H45.4M45.4 127.8V128.1M45.4 127.8H49.3M49.3 127.4V127.8M49.3 127.4H53.1M98.9 118.2H110M110 118.1V118.4M110 118.1H129.9M110 118.4H133.8M96.1 118.8H109.1M109.1 118.6V119.1M109.1 118.6H129.5M109.1 118.8H130.1M109.1 119.1H136M93.3 119.4H106M106 119.3V119.5M106 119.3H129.9M106 119.5H127.6M91.1 119.9H109.5M109.5 119.8V120M109.5 119.8H130.2M109.5 120H137.1M87.2 120.7H88.1M88.1 120.3V121.2M88.1 120.3H132.8M88.1 120.5H135M88.1 120.7H128.4M88.1 121H133.7M88.1 121.2H133.4M80 122.3H104.2M104.2 121.4V123.1M104.2 121.4H139.2M104.2 121.7H134.5M104.2 121.9H134.8M104.2 122.2H137.6M104.2 122.4H136.2M104.2 122.6H136.7M104.2 122.9H132.4M104.2 123.1H133.7M72.2 123.9H86.9M86.9 123.3V124.5M86.9 123.3H122.3M86.9 123.6H124.2M86.9 123.8H128.2M86.9 124.1H126.5M86.9 124.3H125.9M86.9 124.5H126.5M67.7 124.9H72.4M72.4 124.8V125M72.4 124.8H132.9M72.4 125H133.2M65 125.5H80.9M80.9 125.2V125.7M80.9 125.2H128.4M80.9 125.5H126.6M80.9 125.7H123.8M60.5 126.4H76.7M76.7 126V126.9M76.7 126H124.2M76.7 126.2H121.8M76.7 126.4H122.5M76.7 126.7H118.2M76.7 126.9H115.5M56.6 127.3H74.5M74.5 127.1V127.4M74.5 127.1H104.4M74.5 127.4H101.8M55.5 127.3V127.5M55.5 127.3H56.6M56.6 126.4V127.3M56.6 126.4H60.5M60.5 125.5V126.4M60.5 125.5H65M65 124.9V125.5M65 124.9H67.7M67.7 123.9V124.9M67.7 123.9H72.2M72.2 122.3V123.9M72.2 122.3H80M80 120.7V122.3M80 120.7H87.2M87.2 119.9V120.7M87.2 119.9H91.1M91.1 119.4V119.9M91.1 119.4H93.3M93.3 118.8V119.4M93.3 118.8H96.1M96.1 118.2V118.8M96.1 118.2H98.9M98.3 106.7H103.7M103.7 106.2V107.2M103.7 106.2H108.4M103.7 106.5H107.5M103.7 106.9H111.7M103.7 107.2H109.2M96.1 107.5H118.6M94.8 108.1H103.9M103.9 107.9V108.2M103.9 107.9H118M103.9 108.2H115.7M91.4 109.4H104.6M104.6 108.6V110.3M104.6 108.6H115.3M104.6 108.9H120.3M104.6 109.3H118.8M104.6 109.6H116.6M104.6 110H111.3M104.6 110.3H110.9M87.5 111H88M88 110.6V111.3M88 110.6H110.6M88 111H111.6M88 111.3H107.8M83.7 112.5H85.6M85.6 111.7V113.4M85.6 111.7H103.8M85.6 112H108.5M85.6 112.4H100.6M85.6 112.7H106.1M85.6 113.1H106.2M85.6 113.4H113.9M79.8 114.1H89M89 113.7V114.4M89 113.7H104.6M89 114.1H103.2M89 114.4H99.2M78.5 114.1V114.6M78.5 114.1H79.8M79.8 112.5V114.1M79.8 112.5H83.7M83.7 111V112.5M83.7 111H87.5M87.5 109.4V111M87.5 109.4H91.4M91.4 108.1V109.4M91.4 108.1H94.8M94.8 107.5V108.1M94.8 107.5H96.1M96.1 106.7V107.5M96.1 106.7H98.3M110.4 92.3H113.6M113.6 91.2V93.4M113.6 91.2H156.6M113.6 91.5H154.9M113.6 91.8H148.2M113.6 92.1H149.9M113.6 92.5H153.1M113.6 92.8H151M113.6 93.1H150.3M113.6 93.4H136.2M102.5 94.6H108.7M108.7 93.8V95.4M108.7 93.8H145.8M108.7 94.1H139.7M108.7 94.4H145.2M108.7 94.7H139.5M108.7 95.1H139.8M108.7 95.4H139.4M94.5 96.9H113.4M113.4 95.7V98M113.4 95.7H136.8M113.4 96H131.4M113.4 96.4H138M113.4 96.7H128.9M113.4 97H135.2M113.4 97.3H129.2M113.4 97.7H128.4M113.4 98H130.5M88.2 98.6H100.3M100.3 98.3V99M100.3 98.3H124.6M100.3 98.6H122.3M100.3 99H121.1M85.3 99.5H104.9M104.9 99.3V99.6M104.9 99.3H127.2M104.9 99.6H123.2M82.5 100.3H87.7M87.7 99.9V100.6M87.7 99.9H117.7M87.7 100.3H116.3M87.7 100.6H116.5M79.6 101.1H80.3M80.3 100.9V101.2M80.3 100.9H117.3M80.3 101.2H113.2M78.5 101.1V101.4M78.5 101.1H79.6M79.6 100.3V101.1M79.6 100.3H82.5M82.5 99.5V100.3M82.5 99.5H85.3M85.3 98.6V99.5M85.3 98.6H88.2M88.2 96.9V98.6M88.2 96.9H94.5M94.5 94.6V96.9M94.5 94.6H102.5M102.5 92.3V94.6M102.5 92.3H110.4M51.7 228.4H69.4M69.4 228.1V228.8M69.4 228.1H96.2M69.4 228.2H101.7M69.4 228.4H97.6M69.4 228.5H112.4M69.4 228.7H99.4M69.4 228.8H98M41.9 229H84M36.3 229.3H39.2M39.2 229.1V229.4M39.2 229.1H92.2M39.2 229.3H93.6M39.2 229.4H92.4M29.4 229.7H60.8M60.8 229.6V229.7M60.8 229.6H89.5M60.8 229.7H83.8M26.6 229.7V229.8M26.6 229.7H29.4M29.4 229.3V229.7M29.4 229.3H36.3M36.3 229V229.3M36.3 229H41.9M41.9 228.4V229M41.9 228.4H51.7M65 224.1H74.8M74.8 223.6V224.7M74.8 223.6H108.8M74.8 223.8H108.7M74.8 224H104.2M74.8 224.2H103.9M74.8 224.5H106.4M74.8 224.7H102M58.2 225H73.4M73.4 224.9V225.1M73.4 224.9H98.8M73.4 225.1H110.5M54.9 225.4H72.8M72.8 225.3V225.5M72.8 225.3H101.8M72.8 225.5H104.2M49.9 226.1H61.1M61.1 225.8V226.4M61.1 225.8H104.5M61.1 226H104.1M61.1 226.2H102.3M61.1 226.4H101M46.5 226.1V226.5M46.5 226.1H49.9M49.9 225.4V226.1M49.9 225.4H54.9M54.9 225V225.4M54.9 225H58.2M58.2 224.1V225M58.2 224.1H65M97.8 218H120.1M120.1 217.6V218.4M120.1 217.6H147.8M120.1 217.9H142M120.1 218.1H154.8M120.1 218.4H143.9M91.1 219.5H98.9M98.9 218.6V220.4M98.9 218.6H144.7M98.9 218.9H145.4M98.9 219.1H140.1M98.9 219.4H141.4M98.9 219.7H140.3M98.9 219.9H134M98.9 220.2H136.3M98.9 220.4H136.6M85 220.9H94.5M94.5 220.7V221.2M94.5 220.7H135.7M94.5 220.9H133.5M94.5 221.2H129.7M82.2 221.6H102.4M102.4 221.4V221.7M102.4 221.4H123.6M102.4 221.7H123.2M80 222.1H104.7M104.7 221.9V222.2M104.7 221.9H121.3M104.7 222.2H124.9M77.2 222.7H93M93 222.4V223M93 222.4H122.7M93 222.7H112.5M93 223H117.1M75 223.2H117.9M71.7 224H78.4M78.4 223.5V224.5M78.4 223.5H127.9M78.4 223.7H112.6M78.4 224H110.3M78.4 224.2H109.6M78.4 224.5H96M68.9 224V224.6M68.9 224H71.7M71.7 223.2V224M71.7 223.2H75M75 222.7V223.2M75 222.7H77.2M77.2 222.1V222.7M77.2 222.1H80M80 221.6V222.1M80 221.6H82.2M82.2 220.9V221.6M82.2 220.9H85M85 219.5V220.9M85 219.5H91.1M91.1 218V219.5M91.1 218H97.8M129.4 196.3H141.1M141.1 196.2V196.5M141.1 196.2H165.6M141.1 196.5H164.2M128.5 196.8H171.2M126.9 197.6H133M133 197.1V198.1M133 197.1H167.7M133 197.4H162.9M133 197.8H166.9M133 198.1H165.4M124.2 199H137.3M137.3 198.4V199.7M137.3 198.4H167.7M137.3 198.7H166.5M137.3 199H164.7M137.3 199.4H166M137.3 199.7H166.4M121.8 200.3H129.1M129.1 200V200.6M129.1 200H159.9M129.1 200.3H162.3M129.1 200.6H175.1M120.2 201.1H130.6M130.6 201V201.3M130.6 201H160.8M130.6 201.3H164M119.3 201.6H157.1M117.8 202.4H124.4M124.4 201.9V202.9M124.4 201.9H166M124.4 202.2H166M124.4 202.6H164.6M124.4 202.9H161.9M115.7 203.5H117M117 203.2V203.8M117 203.2H164.3M117 203.5H165.7M117 203.8H163.6M113.8 204.5H114.1M114.1 204.2V204.8M114.1 204.2H159.6M114.1 204.5H159.4M114.1 204.8H159.6M112.3 205.3H114.1M114.1 205.1V205.4M114.1 205.1H160.8M114.1 205.4H156.8M111.1 205.9H124.4M124.4 205.8V206.1M124.4 205.8H158.7M124.4 206.1H150.5M109.3 206.9H113.8M113.8 206.4V207.4M113.8 206.4H155.5M113.8 206.7H152.2M113.8 207H150.1M113.8 207.4H147.7M106.8 208.2H128.3M128.3 207.7V208.6M128.3 207.7H146.1M128.3 208H145.5M128.3 208.3H145.5M128.3 208.6H149.1M105.6 208.2V208.8M105.6 208.2H106.8M106.8 206.9V208.2M106.8 206.9H109.3M109.3 205.9V206.9M109.3 205.9H111.1M111.1 205.3V205.9M111.1 205.3H112.3M112.3 204.5V205.3M112.3 204.5H113.8M113.8 203.5V204.5M113.8 203.5H115.7M115.7 202.4V203.5M115.7 202.4H117.8M117.8 201.6V202.4M117.8 201.6H119.3M119.3 201.1V201.6M119.3 201.1H120.2M120.2 200.3V201.1M120.2 200.3H121.8M121.8 199V200.3M121.8 199H124.2M124.2 197.6V199M124.2 197.6H126.9M126.9 196.8V197.6M126.9 196.8H128.5M128.5 196.3V196.8M128.5 196.3H129.4M117.9 211.3H133.7M133.7 211.1V211.5M133.7 211.1H147.6M133.7 211.3H136M133.7 211.5H145.9M112.3 212.1H127.2M127.2 211.7V212.5M127.2 211.7H147.8M127.2 211.9H143.7M127.2 212.1H145.6M127.2 212.3H143.1M127.2 212.5H138.4M105.3 213.1H114.1M114.1 212.7V213.5M114.1 212.7H146.5M114.1 212.9H145.9M114.1 213.1H142.8M114.1 213.3H135.2M114.1 213.5H139.5M100.4 213.8H106.2M106.2 213.7V213.9M106.2 213.7H137.5M106.2 213.9H136.3M99 213.8V214M99 213.8H100.4M100.4 213.1V213.8M100.4 213.1H105.3M105.3 212.1V213.1M105.3 212.1H112.3M112.3 211.3V212.1M112.3 211.3H117.9M88 187.1H97.8M97.8 186.6V187.7M97.8 186.6H98.5M97.8 186.9H104M97.8 187.2H106.9M97.8 187.4H102.1M97.8 187.7H106.6M77.5 188.8H82.3M82.3 187.9V189.8M82.3 187.9H99.6M82.3 188.2H98.9M82.3 188.4H97.1M82.3 188.7H92.2M82.3 189H91M82.3 189.2H93.9M82.3 189.5H92.9M82.3 189.8H90.4M68.6 190.3H79.3M79.3 190V190.5M79.3 190H99.6M79.3 190.3H96.5M79.3 190.5H98.3M65.4 190.8H93.9M62.1 191.3H74.5M74.5 191V191.6M74.5 191H90.4M74.5 191.3H94.3M74.5 191.6H94.3M59.7 191.3V191.7M59.7 191.3H62.1M62.1 190.8V191.3M62.1 190.8H65.4M65.4 190.3V190.8M65.4 190.3H68.6M68.6 188.8V190.3M68.6 188.8H77.5M77.5 187.1V188.8M77.5 187.1H88M126 169.8H144.1M144.1 169.2V170.3M144.1 169.2H163.4M144.1 169.6H161.9M144.1 170H163.3M144.1 170.3H155.2M123 170.9H133M133 170.7V171.1M133 170.7H159.4M133 171.1H158.1M117.9 172.8H118.3M118.3 171.5V174.2M118.3 171.5H157.4M118.3 171.9H157.2M118.3 172.3H151.7M118.3 172.6H151.6M118.3 173H153.7M118.3 173.4H163.2M118.3 173.8H150M118.3 174.2H147.7M111.9 175.1H119.9M119.9 174.6V175.7M119.9 174.6H136.3M119.9 174.9H152.2M119.9 175.3H141.7M119.9 175.7H142.7M108.8 176.3H115.8M115.8 176.1V176.5M115.8 176.1H146.1M115.8 176.5H149.7M106.8 177.1H119M119 176.9V177.2M119 176.9H144.4M119 177.2H142.7M102.8 178.6H113.1M113.1 177.6V179.5M113.1 177.6H133M113.1 178H134.4M113.1 178.4H132.4M113.1 178.8H139.7M113.1 179.2H136.9M113.1 179.5H133.1M99.3 179.9H136.3M96.7 180.9H103.6M103.6 180.3V181.5M103.6 180.3H131.5M103.6 180.7H136.4M103.6 181.1H132M103.6 181.5H132M92.2 182.6H99M99 181.8V183.4M99 181.8H129.7M99 182.2H130.6M99 182.6H128M99 183H126.4M99 183.4H128.6M88.2 184.1H88.3M88.3 183.8V184.5M88.3 183.8H116.4M88.3 184.1H117.4M88.3 184.5H118.8M85.1 185.3H86.3M86.3 184.9V185.7M86.3 184.9H119.6M86.3 185.3H119.7M86.3 185.7H118.5M82.6 186.2H100M100 186.1V186.4M100 186.1H120.5M100 186.4H119.5M81.1 186.8H105.7M80.1 187.2H109.1M79.6 187.2V187.4M79.6 187.2H80.1M80.1 186.8V187.2M80.1 186.8H81.1M81.1 186.2V186.8M81.1 186.2H82.6M82.6 185.3V186.2M82.6 185.3H85.1M85.1 184.1V185.3M85.1 184.1H88.2M88.2 182.6V184.1M88.2 182.6H92.2M92.2 180.9V182.6M92.2 180.9H96.7M96.7 179.9V180.9M96.7 179.9H99.3M99.3 178.6V179.9M99.3 178.6H102.8M102.8 177.1V178.6M102.8 177.1H106.8M106.8 176.3V177.1M106.8 176.3H108.8M108.8 175.1V176.3M108.8 175.1H111.9M111.9 172.8V175.1M111.9 172.8H117.9M117.9 170.9V172.8M117.9 170.9H123M123 169.8V170.9M123 169.8H126M108 161.9H117M117 161.6V162.1M117 161.6H127.9M117 161.9H131.5M117 162.1H123.6M105.3 162.4H124.4M100.6 163.2H100.7M100.7 162.6V163.9M100.7 162.6H126.9M100.7 162.9H121.8M100.7 163.1H118.6M100.7 163.4H122.1M100.7 163.6H123.8M100.7 163.9H121.5M96 164.1H121.7M91.9 164.9H93.2M93.2 164.4V165.4M93.2 164.4H113.1M93.2 164.6H116.2M93.2 164.9H114.5M93.2 165.1H111.8M93.2 165.4H115.6M88.6 164.9V165.5M88.6 164.9H91.9M91.9 164.1V164.9M91.9 164.1H96M96 163.2V164.1M96 163.2H100.6M100.6 162.4V163.2M100.6 162.4H105.3M105.3 161.9V162.4M105.3 161.9H108M119 151.4H119.4M119.4 151.2V151.5M119.4 151.2H153.9M119.4 151.5H154.2M116.2 152.5H124.7M124.7 151.9V153M124.7 151.9H148.1M124.7 152.3H149M124.7 152.6H148.3M124.7 153H147.4M113.3 153.5H123.7M123.7 153.4V153.7M123.7 153.4H145.1M123.7 153.7H142.9M111.4 154.3H115.3M115.3 154.1V154.5M115.3 154.1H144.9M115.3 154.5H144.7M109 155.2H115.6M115.6 154.8V155.5M115.6 154.8H143.6M115.6 155.2H138.2M115.6 155.5H142.6M106.6 156.1H118.7M118.7 155.9V156.3M118.7 155.9H146.5M118.7 156.3H142M104.2 157H115.9M115.9 156.6V157.4M115.9 156.6H132.6M115.9 157H129.1M115.9 157.4H130.5M101.9 157.9H107.4M107.4 157.7V158.1M107.4 157.7H127.8M107.4 158.1H121.4M100 158.6H104.1M104.1 158.5V158.8M104.1 158.5H125.9M104.1 158.8H126.4M99 158.6V159M99 158.6H100M100 157.9V158.6M100 157.9H101.9M101.9 157V157.9M101.9 157H104.2M104.2 156.1V157M104.2 156.1H106.6M106.6 155.2V156.1M106.6 155.2H109M109 154.3V155.2M109 154.3H111.4M111.4 153.5V154.3M111.4 153.5H113.3M113.3 152.5V153.5M113.3 152.5H116.2M116.2 151.4V152.5M116.2 151.4H119M120.9 134.5H136.2M136.2 134.2V134.7M136.2 134.2H153.4M136.2 134.7H154.1M118.7 135.4H135.3M135.3 135.2V135.7M135.3 135.2H151M135.3 135.7H151.4M115.9 136.6H129.6M129.6 136.1V137.1M129.6 136.1H151.1M129.6 136.6H153.8M129.6 137.1H152.8M112.6 138H128.5M128.5 137.5V138.5M128.5 137.5H142.6M128.5 138H143.9M128.5 138.5H159.5M110.3 139H145.4M108.7 139.7H109.9M109.9 139.4V139.9M109.9 139.4H155.3M109.9 139.9H142.8M104.2 141.6H117.6M117.6 140.4V142.7M117.6 140.4H141.1M117.6 140.8H133.4M117.6 141.3H134M117.6 141.8H129.9M117.6 142.3H138.2M117.6 142.7H136.7M100.3 143.2H133.6M95.3 145.3H107.3M107.3 143.7V147M107.3 143.7H131.1M107.3 144.2H132M107.3 144.6H136.2M107.3 145.1H129.7M107.3 145.6H129.6M107.3 146H130.7M107.3 146.5H130.3M107.3 147H126.8M87.6 148.6H94.7M94.7 147.5V149.8M94.7 147.5H128.2M94.7 147.9H129.2M94.7 148.4H128.4M94.7 148.9H125.4M94.7 149.3H120.1M94.7 149.8H120.7M83.1 150.5H97.3M97.3 150.3V150.8M97.3 150.3H121.7M97.3 150.8H115.9M82 150.5V151M82 150.5H83.1M83.1 148.6V150.5M83.1 148.6H87.6M87.6 145.3V148.6M87.6 145.3H95.3M95.3 143.2V145.3M95.3 143.2H100.3M100.3 141.6V143.2M100.3 141.6H104.2M104.2 139.7V141.6M104.2 139.7H108.7M108.7 139V139.7M108.7 139H110.3M110.3 138V139M110.3 138H112.6M112.6 136.6V138M112.6 136.6H115.9M115.9 135.4V136.6M115.9 135.4H118.7M118.7 134.5V135.4M118.7 134.5H120.9M57.1 249.6H70M70 249.6V249.7M70 249.6H99.1M70 249.7H98.2M48.6 249.9H75M75 249.8V250.1M75 249.8H92.4M75 249.8H94.4M75 249.9H87.1M75 250.1H92.4M41.4 250.2H93.8M37.1 250.3H62.9M62.9 250.2V250.3M62.9 250.2H80M62.9 250.3H85.1M32.8 250.4H93.9M31.4 250.4V250.5M31.4 250.4H32.8M32.8 250.3V250.4M32.8 250.3H37.1M37.1 250.2V250.3M37.1 250.2H41.4M41.4 249.9V250.2M41.4 249.9H48.6M48.6 249.6V249.9M48.6 249.6H57.1M66.3 244.8H77.2M77.2 244.6V245.1M77.2 244.6H121.8M77.2 244.7H112.5M77.2 244.8H120.8M77.2 245H119M77.2 245.1H118.4M61.1 245.3H61.6M61.6 245.2V245.4M61.6 245.2H106.3M61.6 245.4H110.6M58.2 245.6H76.7M76.7 245.5V245.6M76.7 245.5H114.8M76.7 245.6H114.3M52.2 246.1H79.8M79.8 245.8V246.4M79.8 245.8H104.9M79.8 245.9H105.3M79.8 246H99.8M79.8 246.2H101.1M79.8 246.3H98.5M79.8 246.4H101.7M47.8 246.1V246.5M47.8 246.1H52.2M52.2 245.6V246.1M52.2 245.6H58.2M58.2 245.3V245.6M58.2 245.3H61.1M61.1 244.8V245.3M61.1 244.8H66.3M108.5 232.3H113.1M113.1 232.2V232.4M113.1 232.2H139M113.1 232.4H137.4M104.9 233.1H107.9M107.9 232.8V233.3M107.9 232.8H134.3M107.9 233.1H134M107.9 233.3H136.4M99.1 234.2H104.6M104.6 233.7V234.8M104.6 233.7H134.1M104.6 233.9H139.4M104.6 234.2H142.5M104.6 234.6H139.9M104.6 234.8H139.9M91.1 235.9H108.6M108.6 235.2V236.7M108.6 235.2H137.4M108.6 235.5H134M108.6 235.8H136.5M108.6 236.1H149.3M108.6 236.3H134.7M108.6 236.7H138.6M86 237H138.5M83.1 237.6H99.6M99.6 237.2V237.8M99.6 237.2H136.7M99.6 237.6H138.7M99.6 237.8H137.5M79.5 238.3H103.4M103.4 238.2V238.5M103.4 238.2H134.4M103.4 238.5H139.6M75.9 239.1H100M100 238.8V239.3M100 238.8H131.9M100 239.1H136.3M100 239.3H130.8M70.8 240.1H103M103 239.7V240.6M103 239.7H136.5M103 240H134.9M103 240.2H132.3M103 240.6H126.5M67.1 240.9H127.1M65.7 241.2H116.2M61.3 242.1H62.5M62.5 241.5V242.7M62.5 241.5H120.7M62.5 241.8H121.8M62.5 242.1H121.9M62.5 242.4H119.2M62.5 242.7H115.9M57.7 242.1V242.8M57.7 242.1H61.3M61.3 241.2V242.1M61.3 241.2H65.7M65.7 240.9V241.2M65.7 240.9H67.1M67.1 240.1V240.9M67.1 240.1H70.8M70.8 239.1V240.1M70.8 239.1H75.9M75.9 238.3V239.1M75.9 238.3H79.5M79.5 237.6V238.3M79.5 237.6H83.1M83.1 237V237.6M83.1 237H86M86 235.9V237M86 235.9H91.1M91.1 234.2V235.9M91.1 234.2H99.1M99.1 233.1V234.2M99.1 233.1H104.9M104.9 232.3V233.1M104.9 232.3H108.5" stroke="#000" stroke-width="0.8" fill="none"/>
<polygon points="140,28.2 150,27.2 170,25 190,22.2 211,19.8 218,22.5 205,26.5 185,29.5 165,31.5 150,32.5 140,32.5" fill="#b3dee6"/>
<polygon points="180,20 195,16.2 210,12.5 225,10.5 234,11.5 235,17.5 225,20.5 210,22 195,23 183,23.3" fill="#b3dee6"/>
<polygon points="63,129.5 75,124 85,118 100,116.5 115,115.6 124,115.6 126,118 122,121 135,121.2 139,122.8 135,124.3 122,125 120,128.2 100,129.5 80,130.2 63,131" fill="#b3dee6"/>
<polyline points="97,101.4 121,100.9" fill="none" stroke="#b3dee6" stroke-width="2.4" stroke-linecap="round" stroke-linejoin="round"/>
<polygon points="82,150 95,145 110,141 125,139.2 136,139.2 134,145.5 120,147.5 100,150 85,151" fill="#b3dee6"/>
<polygon points="82,159.6 100,155 120,151 140,149.2 153.4,149 152,152.5 135,155.5 115,158.3 95,160.2 85,160.6" fill="#b3dee6"/>
<polygon points="88,165 100,162.5 115,161.5 125,161.5 118,164 100,166 90,166.8" fill="#b3dee6"/>
<polygon points="72,192 85,188.5 100,186.5 107,186.5 104,189.5 90,192.5 75,194.5" fill="#b3dee6"/>
<polygon points="65.4,240.6 80,237 95,234 109,231.9 133,231.6 140,233.5 140,238.4 120,240 100,242 80,243.5 65.4,244.3" fill="#b3dee6"/>
<polygon points="50,248.3 65,247.8 80.7,248 82,250.5 65,251.6 50,251.6" fill="#b3dee6"/>
<path d="M75 242.6H100M90 236.2H108M100 126.5H118M85 123.5H112M150 30H200M188 19H215M95 147.5H122M105 156H132M100 164H115M117 31.3H150" stroke="#000" stroke-width="0.6" stroke-dasharray="1.5 3"/>
<path d="M200 10.5H243M211 8.5H240M205 21.2H225" stroke="#000" stroke-width="0.7"/>
<circle cx="78.5" cy="86" r="1.8" fill="#b3dee6"/><circle cx="108.8" cy="71.2" r="1.8" fill="#b3dee6"/><circle cx="115.4" cy="71.2" r="1.8" fill="#b3dee6"/><circle cx="131.8" cy="57.4" r="1.8" fill="#b3dee6"/><circle cx="145" cy="61.8" r="1.8" fill="#b3dee6"/><circle cx="83" cy="243" r="1.8" fill="#b3dee6"/><circle cx="92" cy="243" r="1.8" fill="#b3dee6"/>
<circle cx="75.3" cy="86.2" r="2.3" fill="#b3dee6" stroke="#b01515" stroke-width="1.0"/><circle cx="81.8" cy="86.2" r="2.3" fill="#b3dee6" stroke="#b01515" stroke-width="1.0"/><circle cx="51.1" cy="132.1" r="2.3" fill="#b3dee6" stroke="#b01515" stroke-width="1.0"/><circle cx="137.6" cy="122.2" r="2.3" fill="#b3dee6" stroke="#b01515" stroke-width="1.0"/><circle cx="116.8" cy="100.8" r="2.3" fill="#b3dee6" stroke="#b01515" stroke-width="1.0"/><circle cx="121.2" cy="100.8" r="2.3" fill="#b3dee6" stroke="#b01515" stroke-width="1.0"/><circle cx="111.8" cy="148.2" r="2.3" fill="#b3dee6" stroke="#b01515" stroke-width="1.0"/><circle cx="130" cy="145" r="2.3" fill="#b3dee6" stroke="#b01515" stroke-width="1.0"/><circle cx="133.7" cy="153" r="2.3" fill="#b3dee6" stroke="#b01515" stroke-width="1.0"/><circle cx="139.6" cy="152.3" r="2.3" fill="#b3dee6" stroke="#b01515" stroke-width="1.0"/><circle cx="76.3" cy="250.5" r="2.3" fill="#b3dee6" stroke="#b01515" stroke-width="1.0"/><circle cx="91.6" cy="250.2" r="2.3" fill="#b3dee6" stroke="#b01515" stroke-width="1.0"/><circle cx="95.8" cy="250.2" r="2.3" fill="#b3dee6" stroke="#b01515" stroke-width="1.0"/>
<circle cx="153.4" cy="149.7" r="1.8" fill="#b01515" stroke="#b01515" stroke-width="0.9"/>
<rect x="74.5" y="78" width="6.5" height="2.4" rx="1.2" fill="#b3dee6" stroke="#b01515" stroke-width="1.1"/>
<rect x="96" y="99.5" width="22" height="3.4" rx="1.7" fill="#b3dee6" stroke="#b01515" stroke-width="1.1"/>
<rect x="130.2" y="133.6" width="16.8" height="4.8" rx="2.4" fill="#b3dee6" stroke="#b01515" stroke-width="1.1"/>
<rect x="109" y="235.9" width="31" height="2.6" rx="1.3" fill="#b3dee6" stroke="#b01515" stroke-width="1.1"/>
<rect x="111" y="238.7" width="27" height="2.2" rx="1.1" fill="#b3dee6" stroke="#b01515" stroke-width="1.1"/>
<rect x="215" y="14.3" width="15" height="2.6" rx="1.3" fill="#b3dee6" stroke="#b01515" stroke-width="1.1"/>
<circle cx="219.6" cy="9.5" r="1.2" fill="none" stroke="#b01515" stroke-width="0.9"/><circle cx="213" cy="14.2" r="1.2" fill="none" stroke="#b01515" stroke-width="0.9"/><circle cx="170.3" cy="30.4" r="1.2" fill="none" stroke="#b01515" stroke-width="0.9"/><circle cx="223" cy="18" r="1.2" fill="none" stroke="#b01515" stroke-width="0.9"/><circle cx="228" cy="13" r="1.2" fill="none" stroke="#b01515" stroke-width="0.9"/><circle cx="208" cy="16" r="1.2" fill="none" stroke="#b01515" stroke-width="0.9"/>
<text x="18.4" y="31.9" font-size="10.1" fill="#333" textLength="92.6" lengthAdjust="spacingAndGlyphs">Thailand Sequences</text>
<line x1="18.4" y1="33.8" x2="111" y2="33.8" stroke="#333" stroke-width="0.8"/>
<circle cx="26.6" cy="41.5" r="5.6" fill="#d4eff2"/>
<circle cx="26.6" cy="54.4" r="5.6" fill="#9b1c1c"/>
<text x="35.1" y="45.1" font-size="9.6" font-weight="700" fill="#111" textLength="70.2" lengthAdjust="spacingAndGlyphs">Previous studies</text>
<text x="35.5" y="57.1" font-size="9.6" font-weight="700" fill="#111" textLength="43.3" lengthAdjust="spacingAndGlyphs">This study</text>
<text x="253" y="46.7" font-size="12.8" fill="#000" textLength="41" lengthAdjust="spacingAndGlyphs">DENV2</text>
<text x="172" y="114" font-size="12.8" fill="#000" textLength="41" lengthAdjust="spacingAndGlyphs">DENV3</text>
<text x="194.6" y="181.3" font-size="12.8" fill="#000" textLength="39.8" lengthAdjust="spacingAndGlyphs">DENV1</text>
<text x="161.4" y="243.7" font-size="12.8" fill="#000" textLength="41.2" lengthAdjust="spacingAndGlyphs">DENV4</text>
<line x1="247.4" y1="5.8" x2="247.4" y2="79.4" stroke="#111" stroke-width="1.3"/>
<line x1="166.2" y1="87" x2="166.2" y2="134" stroke="#111" stroke-width="1.3"/>
<line x1="188.4" y1="130.6" x2="188.4" y2="224" stroke="#111" stroke-width="1.3"/>
<line x1="156.4" y1="231.6" x2="156.4" y2="248.2" stroke="#111" stroke-width="1.3"/>
<line x1="2.5" y1="251.8" x2="255" y2="251.8" stroke="#c8c8c8" stroke-width="1.0"/>
<text x="11.6" y="261.2" font-size="7.4" font-weight="700" fill="#222" text-anchor="middle" textLength="4.6" lengthAdjust="spacingAndGlyphs">0</text>
<text x="74.6" y="261.2" font-size="7.4" font-weight="700" fill="#222" text-anchor="middle" textLength="4.6" lengthAdjust="spacingAndGlyphs">5</text>
<text x="135" y="261.2" font-size="7.4" font-weight="700" fill="#222" text-anchor="middle" textLength="9.6" lengthAdjust="spacingAndGlyphs">10</text>
<text x="198.6" y="261.2" font-size="7.4" font-weight="700" fill="#222" text-anchor="middle" textLength="9.6" lengthAdjust="spacingAndGlyphs">15</text>
<text x="62.8" y="275.7" font-size="10.6" fill="#333" textLength="99.2" lengthAdjust="spacingAndGlyphs">Evolutionary Distance</text>
<text x="38.3" y="493.3" font-size="12.9" fill="#000" textLength="34.8" lengthAdjust="spacingAndGlyphs">DENV1</text>
<path d="M121.9 483.6H125.1M121.9 483.9H126.7M121.9 483.6V483.9M120.6 483.8H121.9M120.6 484.2H125.7M120.6 483.8V484.2M116.7 484H120.6M119.7 484.5H127.8M121.7 484.7H129.2M121.7 485H126.2M121.7 484.7V485M120.7 484.9H121.7M122.6 485.3H128.4M122.6 485.6H127.8M122.6 485.3V485.6M120.7 485.4H122.6M120.7 484.9V485.4M119.7 485.1H120.7M119.7 484.5V485.1M116.7 484.8H119.7M116.7 484V484.8M113.4 484.4H116.7M116 485.8H124.2M117.3 486.1H126.9M117.3 486.4H127.1M117.3 486.1V486.4M116 486.2H117.3M116 485.8V486.2M113.4 486H116M113.4 484.4V486M99.6 485.2H113.4M123.5 488H123.9M123.5 488.2H128.5M123.5 488V488.2M122.9 488.1H123.5M122.9 488.5H126M122.9 488.1V488.5M120.9 488.3H122.9M124.4 488.7H128.9M124.4 489H124.8M124.4 488.7V489M123.1 488.8H124.4M124.9 489.2H125.3M124.9 489.5H129.2M124.9 489.2V489.5M123.1 489.4H124.9M123.1 488.8V489.4M121.6 489.1H123.1M124.7 489.7H126.5M125.3 490H126.6M127.1 490.3H128.5M127.1 490.5H127.5M127.1 490.3V490.5M126.4 490.4H127.1M126.4 490.8H128.5M126.4 490.4V490.8M125.3 490.6H126.4M125.3 490V490.6M124.7 490.3H125.3M124.7 489.7V490.3M123.5 490H124.7M123.5 491H129.1M123.5 490V491M121.6 490.5H123.5M121.6 489.1V490.5M120.9 489.8H121.6M120.9 488.3V489.8M99.6 489H120.9M99.6 485.2V489M97.3 488.1H99.6M104.4 492.8H125.4M104.4 493.3H118.7M104.4 492.8V493.3M99.8 493H104.4M99.8 493.8H121.5M99.8 493V493.8M97.3 493.4H99.8M97.3 488.1V493.4M95.4 492.1H97.3M109.7 495.3H131.9M112.1 495.6H131.4M112.1 495.9H124.3M112.1 495.6V495.9M109.7 495.7H112.1M109.7 495.3V495.7M101.9 495.5H109.7M101.9 496.1H124.1M101.9 495.5V496.1M95.4 495.8H101.9M95.4 492.1V495.8M93.9 494.9H95.4M94.4 497.2H129.6M107.7 497.5H129.1M107.7 497.7H127.6M107.7 497.5V497.7M102.8 497.6H107.7M102.8 498H127.6M102.8 497.6V498M94.4 497.8H102.8M94.4 497.2V497.8M93.9 497.5H94.4M93.9 494.9V497.5M90.3 496.9H93.9M108 500.1H123.5M108 500.5H119.2M108 500.1V500.5M106.6 500.3H108M106.6 501H122.4M106.6 500.3V501M102.8 500.6H106.6M109.7 501.4H120.8M109.7 501.9H122.5M109.7 501.4V501.9M104.8 501.7H109.7M104.8 502.4H122.2M104.8 501.7V502.4M102.8 502H104.8M102.8 500.6V502M90.3 501.3H102.8M90.3 496.9V501.3M89.3 500.2H90.3M107.8 503.8H114.7M107.8 504H117.5M107.8 503.8V504M104.9 503.9H107.8M104.9 504.2H116.5M104.9 503.9V504.2M100.8 504.1H104.9M100.8 504.5H115.6M100.8 504.1V504.5M98.8 504.3H100.8M98.8 504.7H112.2M98.8 504.3V504.7M89.3 504.5H98.8M89.3 500.2V504.5M87.3 503.4H89.3M93.2 506.2H108.5M93.2 506.6H109.1M93.2 506.2V506.6M89.4 506.4H93.2M94.8 507H110.5M99.7 507.4H110.4M100.6 507.9H110.4M100.6 508.3H107M100.6 507.9V508.3M99.7 508.1H100.6M99.7 507.4V508.1M94.8 507.8H99.7M94.8 507V507.8M89.4 507.4H94.8M89.4 506.4V507.4M87.8 506.9H89.4M93.2 508.7H111.3M93.2 509.2H109.3M93.2 508.7V509.2M87.8 508.9H93.2M87.8 506.9V508.9M87.3 507.9H87.8M87.3 503.4V507.9M85.7 506.8H87.3M102.7 511.6H111.7M104.6 512H115.9M104.6 512.4H111.3M104.6 512V512.4M102.7 512.2H104.6M102.7 511.6V512.2M100.5 511.9H102.7M100.5 512.7H113.2M100.5 511.9V512.7M96.6 512.3H100.5M96.6 513.1H117.4M96.6 512.3V513.1M89.3 512.7H96.6M89.3 513.5H118.4M89.3 512.7V513.5M87.4 513.1H89.3M87.4 513.8H113.4M87.4 513.1V513.8M85.7 513.5H87.4M85.7 506.8V513.5M85 511.8H85.7M106.5 515.5H115.4M106.5 515.8H114.7M106.5 515.5V515.8M105 515.6H106.5M105 516.1H113.3M105 515.6V516.1M85 515.9H105M85 511.8V515.9M84.4 514.8H85M107.6 517.3H119.2M113.6 517.5H116.4M113.6 517.8H119.5M113.6 517.5V517.8M111.9 517.6H113.6M111.9 518H115.8M111.9 517.6V518M111.1 517.8H111.9M111.1 518.3H111.5M111.1 517.8V518.3M110.4 518H111.1M110.4 518.5H114.8M110.4 518V518.5M107.6 518.3H110.4M107.6 517.3V518.3M84.4 517.8H107.6M84.4 514.8V517.8M83.7 517H84.4M96 520.8H113.8M96 521.1H108.9M96 520.8V521.1M88.3 520.9H96M95.5 521.4H115.2M102.8 521.7H114.3M108.2 522H116M108.2 522.3H115.8M108.2 522V522.3M106.7 522.1H108.2M106.7 522.6H115.3M106.7 522.1V522.6M105.3 522.3H106.7M105.3 522.8H109.6M105.3 522.3V522.8M102.8 522.6H105.3M102.8 521.7V522.6M100.3 522.1H102.8M100.3 523.1H114.8M100.3 522.1V523.1M97.3 522.6H100.3M97.3 523.4H113.2M97.3 522.6V523.4M95.5 523H97.3M95.5 521.4V523M94.2 522.2H95.5M94.2 523.7H117.9M94.2 522.2V523.7M88.3 523H94.2M88.3 520.9V523M83.7 522H88.3M83.7 517V522M83.1 520.7H83.7M108 525.8H117.9M109.4 526H115M111.2 526.3H119.1M112.4 526.5H121.5M112.4 526.8H120.7M112.4 526.5V526.8M111.2 526.7H112.4M111.2 526.3V526.7M109.4 526.5H111.2M109.4 526V526.5M108 526.2H109.4M108 525.8V526.2M106.8 526H108M111.1 527H117.2M111.1 527.3H117.9M111.1 527V527.3M106.8 527.2H111.1M106.8 526V527.2M103.9 526.6H106.8M109.5 527.6H113.3M109.5 527.8H121.1M109.5 527.6V527.8M103.9 527.7H109.5M103.9 526.6V527.7M83.1 527.1H103.9M83.1 520.7V527.1M82.4 525.5H83.1M123.4 529H125.9M125.1 529.3H126.3M126.1 529.6H126.5M126.1 529.9H129.6M126.1 529.6V529.9M125.1 529.8H126.1M125.1 529.3V529.8M124.1 529.5H125.1M124.1 530.3H127.9M124.1 529.5V530.3M123.4 529.9H124.1M123.4 529V529.9M122.7 529.4H123.4M122.7 530.6H126.6M122.7 529.4V530.6M121.8 530H122.7M121.8 530.9H129.6M121.8 530V530.9M120.6 530.5H121.8M122.4 531.3H129M122.4 531.6H122.8M122.4 531.3V531.6M120.6 531.4H122.4M120.6 530.5V531.4M119 531H120.6M119 531.9H127.4M119 531V531.9M116 531.4H119M116 532.3H126.8M116 531.4V532.3M82.4 531.9H116M82.4 525.5V531.9M81.8 530.3H82.4M120.6 533.7H121M120.6 533.9H126.7M120.6 533.7V533.9M119.9 533.8H120.6M119.9 534.1H122.7M119.9 533.8V534.1M118.3 533.9H119.9M120.4 534.3H127.2M122.7 534.6H123.3M122.7 534.8H125.6M122.7 534.6V534.8M120.4 534.7H122.7M120.4 534.3V534.7M118.3 534.5H120.4M118.3 533.9V534.5M115.2 534.2H118.3M115.2 535H120.1M115.2 534.2V535M110.8 534.6H115.2M115.3 535.2H128.1M115.3 535.5H128.7M115.3 535.2V535.5M110.8 535.4H115.3M110.8 534.6V535.4M81.8 535H110.8M81.8 530.3V535M81.1 533.8H81.8M81.1 536.7H133.6M81.1 533.8V536.7M80.5 536H81.1M114.9 537.9H129.3M114.9 538.2H129.7M114.9 537.9V538.2M110.8 538H114.9M117.5 538.5H126.3M121.2 538.8H131.9M121.2 539.1H126.6M121.2 538.8V539.1M117.5 539H121.2M117.5 538.5V539M113.2 538.7H117.5M113.2 539.4H131.7M113.2 538.7V539.4M110.8 539.1H113.2M110.8 538V539.1M106.8 538.6H110.8M112.6 539.7H128.4M112.6 540H132.5M112.6 539.7V540M106.8 539.9H112.6M106.8 538.6V539.9M104.9 539.2H106.8M104.9 540.3H131.8M104.9 539.2V540.3M101.9 539.8H104.9M106.8 540.6H132.3M106.8 540.9H130.4M106.8 540.6V540.9M101.9 540.8H106.8M101.9 539.8V540.8M94.1 540.3H101.9M102.2 541.3H132.8M102.2 541.6H131M102.2 541.3V541.6M94.1 541.4H102.2M94.1 540.3V541.4M80.5 540.8H94.1M80.5 536V540.8M79.8 539.6H80.5M110.5 543.2H133.1M113.2 543.6H129.3M113.2 543.9H132M113.2 543.6V543.9M110.5 543.8H113.2M110.5 543.2V543.8M103.1 543.5H110.5M111.8 544.3H129.6M116.1 544.6H132.5M120.4 545H132.8M120.4 545.4H132.2M120.4 545V545.4M118.8 545.2H120.4M118.8 545.7H130.2M118.8 545.2V545.7M116.1 545.4H118.8M116.1 544.6V545.4M111.8 545H116.1M111.8 544.3V545M106.1 544.7H111.8M106.1 546.1H132.6M106.1 544.7V546.1M103.1 545.4H106.1M103.1 543.5V545.4M79.8 544.4H103.1M79.8 539.6V544.4M79.2 543.2H79.8M108.7 548H124.2M108.7 548.4H131M108.7 548V548.4M100.4 548.2H108.7M117.7 548.8H130.5M117.7 549.2H127.2M117.7 548.8V549.2M113.7 549H117.7M113.7 549.6H130.8M113.7 549V549.6M110.5 549.3H113.7M110.5 550H129.8M110.5 549.3V550M108.3 549.6H110.5M108.3 550.4H130.4M108.3 549.6V550.4M100.4 550H108.3M100.4 548.2V550M79.2 549.1H100.4M79.2 543.2V549.1M78.5 547.6H79.2M121 551.5H127.4M121 551.9H127.8M121 551.5V551.9M117.4 551.7H121M117.4 552.2H127.7M117.4 551.7V552.2M116.1 552H117.4M123.2 552.6H129.4M123.2 552.9H129.7M123.2 552.6V552.9M120.2 552.7H123.2M120.2 553.2H129.8M120.2 552.7V553.2M118 553H120.2M118 553.6H124M118 553V553.6M116.1 553.3H118M116.1 552V553.3M114.1 552.6H116.1M118.4 553.9H129.2M118.4 554.3H131.1M118.4 553.9V554.3M114.1 554.1H118.4M114.1 552.6V554.1M108.5 553.4H114.1M111.3 554.6H127.6M111.3 555H127.3M111.3 554.6V555M108.5 554.8H111.3M108.5 553.4V554.8M78.5 554.1H108.5M78.5 547.6V554.1M77.9 552.5H78.5M83.3 556.9H121.2M83.3 557.5H119.9M83.3 556.9V557.5M77.9 557.2H83.3M77.9 552.5V557.2M75.7 556H77.9M101.1 559.8H125.5M114.9 560.1H127.7M114.9 560.4H130.5M114.9 560.1V560.4M108 560.2H114.9M110.3 560.7H127.8M110.3 560.9H124.8M110.3 560.7V560.9M108 560.8H110.3M108 560.2V560.8M105.9 560.5H108M111.4 561.2H121.4M111.4 561.5H125.4M111.4 561.2V561.5M105.9 561.4H111.4M105.9 560.5V561.4M101.1 560.9H105.9M101.1 559.8V560.9M75.7 560.4H101.1M75.7 556V560.4M69.3 559.3H75.7M87.8 563.5H123.5M104.7 563.8H122M104.7 564.1H118.1M104.7 563.8V564.1M100 563.9H104.7M100 564.4H121M100 563.9V564.4M97.9 564.2H100M97.9 564.8H114M97.9 564.2V564.8M92.9 564.5H97.9M102.8 565.1H119M108.6 565.4H110.4M108.6 565.7H114.8M108.6 565.4V565.7M107 565.6H108.6M107 566H119.3M107 565.6V566M102.8 565.8H107M102.8 565.1V565.8M99.1 565.4H102.8M99.1 566.4H117.3M99.1 565.4V566.4M96.4 565.9H99.1M96.4 566.7H116M96.4 565.9V566.7M94.5 566.3H96.4M94.5 567H116.3M94.5 566.3V567M92.9 566.7H94.5M92.9 564.5V566.7M87.8 565.6H92.9M87.8 563.5V565.6M69.3 564.5H87.8M69.3 559.3V564.5M63.6 563.2H69.3M85 569.5H102.2M85 569.7H106.2M85 569.5V569.7M82.4 569.6H85M82.4 570H105.3M82.4 569.6V570M79.3 569.8H82.4M98.2 570.2H101.1M100.4 570.5H107.7M100.4 570.7H106.6M100.4 570.5V570.7M98.2 570.6H100.4M98.2 570.2V570.6M95.9 570.4H98.2M95.9 570.9H103.4M95.9 570.4V570.9M93 570.7H95.9M93 571.2H108.7M93 570.7V571.2M87.7 570.9H93M87.7 571.4H102.7M87.7 570.9V571.4M79.3 571.2H87.7M79.3 569.8V571.2M75.4 570.5H79.3M75.4 571.7H106M75.4 570.5V571.7M71 571.1H75.4M71 571.9H106M71 571.1V571.9M63.6 571.5H71M63.6 563.2V571.5M57.1 569.4H63.6M84.3 573.5H104.9M88.9 573.8H104.6M88.9 574H105.6M88.9 573.8V574M85.7 573.9H88.9M93.3 574.3H97.3M93.3 574.6H105.4M93.3 574.3V574.6M89.2 574.4H93.3M89.2 574.8H104.9M89.2 574.4V574.8M85.7 574.6H89.2M85.7 573.9V574.6M84.3 574.3H85.7M84.3 573.5V574.3M57.1 573.9H84.3M57.1 569.4V573.9M55.1 572.8H57.1M55.1 575.7H109.2M55.1 572.8V575.7M45.3 575H55.1M90.8 577.6H109.1M97.6 577.9H102.5M97.6 578.1H111.7M97.6 577.9V578.1M90.8 578H97.6M90.8 577.6V578M83.6 577.8H90.8M83.6 578.4H110M83.6 577.8V578.4M78.6 578.1H83.6M99 578.6H111.4M99 578.9H110.7M99 578.6V578.9M94.8 578.8H99M94.8 579.2H111.8M94.8 578.8V579.2M92.2 579H94.8M92.2 579.4H109.7M92.2 579V579.4M87 579.2H92.2M87 579.7H104.1M87 579.2V579.7M78.6 579.4H87M78.6 578.1V579.4M45.3 578.8H78.6M45.3 575V578.8M38.4 577.8H45.3M97.8 580.6H104.6M98.6 580.9H105.3M100.2 581.3H100.6M100.2 581.6H102.4M100.2 581.3V581.6M98.6 581.4H100.2M98.6 580.9V581.4M97.8 581.2H98.6M97.8 580.6V581.2M95.6 580.9H97.8M95.6 582H100.3M95.6 580.9V582M38.4 581.4H95.6M38.4 577.8V581.4M35.4 580.5H38.4M35.4 582.9H104.7M35.4 580.5V582.9M30.8 582.3H35.4M80 584.2H90.9M80 584.4H94.4M80 584.2V584.4M30.8 584.3H80M30.8 582.3V584.3M7.8 583.8H30.8M92.5 586.3H114.6M99.7 587H108.5M99.7 587.6H114.2M99.7 587V587.6M92.5 587.3H99.7M92.5 586.3V587.3M82.7 586.8H92.5M82.7 588.3H121.8M82.7 586.8V588.3M67.3 587.5H82.7M125.8 589.8H133.4M127.7 590.3H129.2M129.5 590.7H130.5M129.5 591.1H133.3M129.5 590.7V591.1M127.7 590.9H129.5M127.7 590.3V590.9M125.8 590.6H127.7M125.8 589.8V590.6M125.2 590.2H125.8M125.2 591.6H135.6M125.2 590.2V591.6M67.3 590.9H125.2M67.3 587.5V590.9M60.4 590.1H67.3M117.2 592.8H121.6M117.2 593.4H126M117.2 592.8V593.4M116.1 593.1H117.2M116.1 593.9H120.5M116.1 593.1V593.9M113.5 593.5H116.1M118.1 594.5H124.7M118.1 595.1H124.8M118.1 594.5V595.1M113.5 594.8H118.1M113.5 593.5V594.8M60.4 594.1H113.5M60.4 590.1V594.1M52.5 593.1H60.4M108.9 596.3H126.8M117.3 597H126.9M117.3 597.7H128.8M117.3 597V597.7M115.1 597.3H117.3M115.1 598.3H123.1M115.1 597.3V598.3M108.9 597.8H115.1M108.9 596.3V597.8M105.5 597.1H108.9M105.5 599H131.1M105.5 597.1V599M52.5 598.1H105.5M52.5 593.1V598.1M46.6 596.8H52.5M114.2 601.3H131.9M114.2 601.9H125M114.2 601.3V601.9M46.6 601.6H114.2M46.6 596.8V601.6M37.6 600.4H46.6M101.6 603.4H136.5M109 603.9H136.2M120.7 604.3H130.9M120.7 604.8H134.3M120.7 604.3V604.8M116.2 604.6H120.7M116.2 605.3H131.7M116.2 604.6V605.3M115 604.9H116.2M115 605.7H124.6M115 604.9V605.7M111 605.3H115M111 606.2H133.5M111 605.3V606.2M109 605.8H111M109 603.9V605.8M101.6 604.8H109M101.6 603.4V604.8M37.6 604.1H101.6M37.6 600.4V604.1M26.5 603.2H37.6M107.3 608.7H129.3M107.3 609.4H130.6M107.3 608.7V609.4M103 609.1H107.3M103 610.1H127M103 609.1V610.1M100.9 609.6H103M100.9 610.8H130.4M100.9 609.6V610.8M98.5 610.2H100.9M98.5 611.5H129.7M98.5 610.2V611.5M26.5 610.9H98.5M26.5 603.2V610.9M16.8 609H26.5M110.4 613.6H121.2M110.4 614.1H130.8M110.4 613.6V614.1M108.9 613.8H110.4M115.8 614.6H130.3M115.8 615.1H130.1M115.8 614.6V615.1M114 614.9H115.8M114 615.6H128.9M114 614.9V615.6M110.5 615.2H114M110.5 616.1H126.6M110.5 615.2V616.1M108.9 615.7H110.5M108.9 613.8V615.7M100.3 614.8H108.9M100.3 616.6H124.9M100.3 614.8V616.6M16.8 615.7H100.3M16.8 609V615.7M11.2 614H16.8M81.8 618.9H118.2M81.8 619.6H120.5M81.8 618.9V619.6M11.2 619.3H81.8M11.2 614V619.3M7.8 617.9H11.2M7.8 583.8V617.9" stroke="#a4a4a4" stroke-width="0.45" fill="none"/>
<path d="M118.3 484.1a1.2 1.2 0 1 0 2.4 0a1.2 1.2 0 1 0 -2.4 0M120.4 484a1.2 1.2 0 1 0 2.4 0a1.2 1.2 0 1 0 -2.4 0M125.4 483.9a1.2 1.2 0 1 0 2.4 0a1.2 1.2 0 1 0 -2.4 0M127.3 483.8a1.2 1.2 0 1 0 2.4 0a1.2 1.2 0 1 0 -2.4 0M117.1 486.1a1.2 1.2 0 1 0 2.4 0a1.2 1.2 0 1 0 -2.4 0M120.8 485.7a1.2 1.2 0 1 0 2.4 0a1.2 1.2 0 1 0 -2.4 0M122.8 486.1a1.2 1.2 0 1 0 2.4 0a1.2 1.2 0 1 0 -2.4 0M124.2 486a1.2 1.2 0 1 0 2.4 0a1.2 1.2 0 1 0 -2.4 0M126.6 485.6a1.2 1.2 0 1 0 2.4 0a1.2 1.2 0 1 0 -2.4 0M117.9 487.8a1.2 1.2 0 1 0 2.4 0a1.2 1.2 0 1 0 -2.4 0M119.4 487.8a1.2 1.2 0 1 0 2.4 0a1.2 1.2 0 1 0 -2.4 0M121.1 487.9a1.2 1.2 0 1 0 2.4 0a1.2 1.2 0 1 0 -2.4 0M124.7 487.5a1.2 1.2 0 1 0 2.4 0a1.2 1.2 0 1 0 -2.4 0M126.9 487.3a1.2 1.2 0 1 0 2.4 0a1.2 1.2 0 1 0 -2.4 0M104.6 489.3a1.2 1.2 0 1 0 2.4 0a1.2 1.2 0 1 0 -2.4 0M106.1 488.8a1.2 1.2 0 1 0 2.4 0a1.2 1.2 0 1 0 -2.4 0M107.9 488.8a1.2 1.2 0 1 0 2.4 0a1.2 1.2 0 1 0 -2.4 0M110 488.8a1.2 1.2 0 1 0 2.4 0a1.2 1.2 0 1 0 -2.4 0M111.3 489.3a1.2 1.2 0 1 0 2.4 0a1.2 1.2 0 1 0 -2.4 0M112.9 489.1a1.2 1.2 0 1 0 2.4 0a1.2 1.2 0 1 0 -2.4 0M114.8 488.7a1.2 1.2 0 1 0 2.4 0a1.2 1.2 0 1 0 -2.4 0M104.9 490.4a1.2 1.2 0 1 0 2.4 0a1.2 1.2 0 1 0 -2.4 0M106.7 490.7a1.2 1.2 0 1 0 2.4 0a1.2 1.2 0 1 0 -2.4 0M108.4 490.6a1.2 1.2 0 1 0 2.4 0a1.2 1.2 0 1 0 -2.4 0M110.4 490.5a1.2 1.2 0 1 0 2.4 0a1.2 1.2 0 1 0 -2.4 0M112.4 490.9a1.2 1.2 0 1 0 2.4 0a1.2 1.2 0 1 0 -2.4 0M115.1 490.7a1.2 1.2 0 1 0 2.4 0a1.2 1.2 0 1 0 -2.4 0M106.1 492.7a1.2 1.2 0 1 0 2.4 0a1.2 1.2 0 1 0 -2.4 0M107.9 492.2a1.2 1.2 0 1 0 2.4 0a1.2 1.2 0 1 0 -2.4 0M109.6 492.4a1.2 1.2 0 1 0 2.4 0a1.2 1.2 0 1 0 -2.4 0M111.4 492.3a1.2 1.2 0 1 0 2.4 0a1.2 1.2 0 1 0 -2.4 0M112.7 492.6a1.2 1.2 0 1 0 2.4 0a1.2 1.2 0 1 0 -2.4 0M114.6 492.7a1.2 1.2 0 1 0 2.4 0a1.2 1.2 0 1 0 -2.4 0M116.2 492.7a1.2 1.2 0 1 0 2.4 0a1.2 1.2 0 1 0 -2.4 0M105.7 493.8a1.2 1.2 0 1 0 2.4 0a1.2 1.2 0 1 0 -2.4 0M107.4 493.8a1.2 1.2 0 1 0 2.4 0a1.2 1.2 0 1 0 -2.4 0M109.7 493.9a1.2 1.2 0 1 0 2.4 0a1.2 1.2 0 1 0 -2.4 0M111.4 494.4a1.2 1.2 0 1 0 2.4 0a1.2 1.2 0 1 0 -2.4 0M112.5 494.4a1.2 1.2 0 1 0 2.4 0a1.2 1.2 0 1 0 -2.4 0M115.9 494.2a1.2 1.2 0 1 0 2.4 0a1.2 1.2 0 1 0 -2.4 0M104.2 495.9a1.2 1.2 0 1 0 2.4 0a1.2 1.2 0 1 0 -2.4 0M106.4 495.6a1.2 1.2 0 1 0 2.4 0a1.2 1.2 0 1 0 -2.4 0M108.1 495.7a1.2 1.2 0 1 0 2.4 0a1.2 1.2 0 1 0 -2.4 0M109.7 495.5a1.2 1.2 0 1 0 2.4 0a1.2 1.2 0 1 0 -2.4 0M111.2 495.8a1.2 1.2 0 1 0 2.4 0a1.2 1.2 0 1 0 -2.4 0M112.6 495.6a1.2 1.2 0 1 0 2.4 0a1.2 1.2 0 1 0 -2.4 0M114.8 495.6a1.2 1.2 0 1 0 2.4 0a1.2 1.2 0 1 0 -2.4 0M105.9 497.3a1.2 1.2 0 1 0 2.4 0a1.2 1.2 0 1 0 -2.4 0M107.4 497.5a1.2 1.2 0 1 0 2.4 0a1.2 1.2 0 1 0 -2.4 0M109 497.7a1.2 1.2 0 1 0 2.4 0a1.2 1.2 0 1 0 -2.4 0M110.5 497.2a1.2 1.2 0 1 0 2.4 0a1.2 1.2 0 1 0 -2.4 0M112.6 497.4a1.2 1.2 0 1 0 2.4 0a1.2 1.2 0 1 0 -2.4 0M115.7 497.7a1.2 1.2 0 1 0 2.4 0a1.2 1.2 0 1 0 -2.4 0M105.8 499.2a1.2 1.2 0 1 0 2.4 0a1.2 1.2 0 1 0 -2.4 0M107.6 499.4a1.2 1.2 0 1 0 2.4 0a1.2 1.2 0 1 0 -2.4 0M109.1 498.9a1.2 1.2 0 1 0 2.4 0a1.2 1.2 0 1 0 -2.4 0M110.9 499.5a1.2 1.2 0 1 0 2.4 0a1.2 1.2 0 1 0 -2.4 0M112.9 499a1.2 1.2 0 1 0 2.4 0a1.2 1.2 0 1 0 -2.4 0M114.5 498.9a1.2 1.2 0 1 0 2.4 0a1.2 1.2 0 1 0 -2.4 0M116.1 498.9a1.2 1.2 0 1 0 2.4 0a1.2 1.2 0 1 0 -2.4 0M104.4 501a1.2 1.2 0 1 0 2.4 0a1.2 1.2 0 1 0 -2.4 0M106.3 501.2a1.2 1.2 0 1 0 2.4 0a1.2 1.2 0 1 0 -2.4 0M108.3 501.1a1.2 1.2 0 1 0 2.4 0a1.2 1.2 0 1 0 -2.4 0M109.5 500.8a1.2 1.2 0 1 0 2.4 0a1.2 1.2 0 1 0 -2.4 0M113.2 500.7a1.2 1.2 0 1 0 2.4 0a1.2 1.2 0 1 0 -2.4 0M115 501.2a1.2 1.2 0 1 0 2.4 0a1.2 1.2 0 1 0 -2.4 0M94.3 501.6a1.2 1.2 0 1 0 2.4 0a1.2 1.2 0 1 0 -2.4 0M96 502.1a1.2 1.2 0 1 0 2.4 0a1.2 1.2 0 1 0 -2.4 0M97.5 501.8a1.2 1.2 0 1 0 2.4 0a1.2 1.2 0 1 0 -2.4 0M99 501.9a1.2 1.2 0 1 0 2.4 0a1.2 1.2 0 1 0 -2.4 0M100.7 501.6a1.2 1.2 0 1 0 2.4 0a1.2 1.2 0 1 0 -2.4 0M102.5 501.6a1.2 1.2 0 1 0 2.4 0a1.2 1.2 0 1 0 -2.4 0M103.9 501.8a1.2 1.2 0 1 0 2.4 0a1.2 1.2 0 1 0 -2.4 0M105.2 501.9a1.2 1.2 0 1 0 2.4 0a1.2 1.2 0 1 0 -2.4 0M106.5 502a1.2 1.2 0 1 0 2.4 0a1.2 1.2 0 1 0 -2.4 0M108.1 501.8a1.2 1.2 0 1 0 2.4 0a1.2 1.2 0 1 0 -2.4 0M109.3 502a1.2 1.2 0 1 0 2.4 0a1.2 1.2 0 1 0 -2.4 0M111 502.1a1.2 1.2 0 1 0 2.4 0a1.2 1.2 0 1 0 -2.4 0M112.7 501.5a1.2 1.2 0 1 0 2.4 0a1.2 1.2 0 1 0 -2.4 0M97 513.7a1.2 1.2 0 1 0 2.4 0a1.2 1.2 0 1 0 -2.4 0M98.5 513.2a1.2 1.2 0 1 0 2.4 0a1.2 1.2 0 1 0 -2.4 0M100.2 513.2a1.2 1.2 0 1 0 2.4 0a1.2 1.2 0 1 0 -2.4 0M102.1 513.3a1.2 1.2 0 1 0 2.4 0a1.2 1.2 0 1 0 -2.4 0M103.6 513.5a1.2 1.2 0 1 0 2.4 0a1.2 1.2 0 1 0 -2.4 0M105.7 513.6a1.2 1.2 0 1 0 2.4 0a1.2 1.2 0 1 0 -2.4 0M107.7 513.7a1.2 1.2 0 1 0 2.4 0a1.2 1.2 0 1 0 -2.4 0M109 513.3a1.2 1.2 0 1 0 2.4 0a1.2 1.2 0 1 0 -2.4 0M111 513.6a1.2 1.2 0 1 0 2.4 0a1.2 1.2 0 1 0 -2.4 0M112.7 513.3a1.2 1.2 0 1 0 2.4 0a1.2 1.2 0 1 0 -2.4 0M115 513.6a1.2 1.2 0 1 0 2.4 0a1.2 1.2 0 1 0 -2.4 0M116.6 513.7a1.2 1.2 0 1 0 2.4 0a1.2 1.2 0 1 0 -2.4 0M118.4 513.8a1.2 1.2 0 1 0 2.4 0a1.2 1.2 0 1 0 -2.4 0M95.4 515.5a1.2 1.2 0 1 0 2.4 0a1.2 1.2 0 1 0 -2.4 0M97.2 515.4a1.2 1.2 0 1 0 2.4 0a1.2 1.2 0 1 0 -2.4 0M99.2 515.2a1.2 1.2 0 1 0 2.4 0a1.2 1.2 0 1 0 -2.4 0M101.4 515.6a1.2 1.2 0 1 0 2.4 0a1.2 1.2 0 1 0 -2.4 0M102.9 515.2a1.2 1.2 0 1 0 2.4 0a1.2 1.2 0 1 0 -2.4 0M104.7 515.2a1.2 1.2 0 1 0 2.4 0a1.2 1.2 0 1 0 -2.4 0M106.7 515.3a1.2 1.2 0 1 0 2.4 0a1.2 1.2 0 1 0 -2.4 0M109.8 515a1.2 1.2 0 1 0 2.4 0a1.2 1.2 0 1 0 -2.4 0M111.7 515.1a1.2 1.2 0 1 0 2.4 0a1.2 1.2 0 1 0 -2.4 0M114 515.5a1.2 1.2 0 1 0 2.4 0a1.2 1.2 0 1 0 -2.4 0M118.9 515.5a1.2 1.2 0 1 0 2.4 0a1.2 1.2 0 1 0 -2.4 0M95.1 517.3a1.2 1.2 0 1 0 2.4 0a1.2 1.2 0 1 0 -2.4 0M96.9 516.8a1.2 1.2 0 1 0 2.4 0a1.2 1.2 0 1 0 -2.4 0M98.9 517.1a1.2 1.2 0 1 0 2.4 0a1.2 1.2 0 1 0 -2.4 0M100.8 517.2a1.2 1.2 0 1 0 2.4 0a1.2 1.2 0 1 0 -2.4 0M105.9 517.1a1.2 1.2 0 1 0 2.4 0a1.2 1.2 0 1 0 -2.4 0M107.6 517.3a1.2 1.2 0 1 0 2.4 0a1.2 1.2 0 1 0 -2.4 0M109.3 517a1.2 1.2 0 1 0 2.4 0a1.2 1.2 0 1 0 -2.4 0M111.1 516.8a1.2 1.2 0 1 0 2.4 0a1.2 1.2 0 1 0 -2.4 0M113.4 517.3a1.2 1.2 0 1 0 2.4 0a1.2 1.2 0 1 0 -2.4 0M114.8 517.2a1.2 1.2 0 1 0 2.4 0a1.2 1.2 0 1 0 -2.4 0M116.6 517a1.2 1.2 0 1 0 2.4 0a1.2 1.2 0 1 0 -2.4 0M118.3 517.4a1.2 1.2 0 1 0 2.4 0a1.2 1.2 0 1 0 -2.4 0M96.9 518.6a1.2 1.2 0 1 0 2.4 0a1.2 1.2 0 1 0 -2.4 0M98.3 518.9a1.2 1.2 0 1 0 2.4 0a1.2 1.2 0 1 0 -2.4 0M100.6 518.6a1.2 1.2 0 1 0 2.4 0a1.2 1.2 0 1 0 -2.4 0M102.2 518.9a1.2 1.2 0 1 0 2.4 0a1.2 1.2 0 1 0 -2.4 0M103.7 518.8a1.2 1.2 0 1 0 2.4 0a1.2 1.2 0 1 0 -2.4 0M105.8 518.8a1.2 1.2 0 1 0 2.4 0a1.2 1.2 0 1 0 -2.4 0M107.2 519.2a1.2 1.2 0 1 0 2.4 0a1.2 1.2 0 1 0 -2.4 0M109.1 518.8a1.2 1.2 0 1 0 2.4 0a1.2 1.2 0 1 0 -2.4 0M111.2 518.6a1.2 1.2 0 1 0 2.4 0a1.2 1.2 0 1 0 -2.4 0M113.1 518.9a1.2 1.2 0 1 0 2.4 0a1.2 1.2 0 1 0 -2.4 0M114.6 518.8a1.2 1.2 0 1 0 2.4 0a1.2 1.2 0 1 0 -2.4 0M116.4 519.1a1.2 1.2 0 1 0 2.4 0a1.2 1.2 0 1 0 -2.4 0M118.3 519.2a1.2 1.2 0 1 0 2.4 0a1.2 1.2 0 1 0 -2.4 0M101 526.8a1.2 1.2 0 1 0 2.4 0a1.2 1.2 0 1 0 -2.4 0M105.4 527.1a1.2 1.2 0 1 0 2.4 0a1.2 1.2 0 1 0 -2.4 0M109 527.1a1.2 1.2 0 1 0 2.4 0a1.2 1.2 0 1 0 -2.4 0M110.8 527a1.2 1.2 0 1 0 2.4 0a1.2 1.2 0 1 0 -2.4 0M112.8 526.8a1.2 1.2 0 1 0 2.4 0a1.2 1.2 0 1 0 -2.4 0M119.2 526.9a1.2 1.2 0 1 0 2.4 0a1.2 1.2 0 1 0 -2.4 0M123.4 527.2a1.2 1.2 0 1 0 2.4 0a1.2 1.2 0 1 0 -2.4 0M125.2 526.9a1.2 1.2 0 1 0 2.4 0a1.2 1.2 0 1 0 -2.4 0M105.6 528.8a1.2 1.2 0 1 0 2.4 0a1.2 1.2 0 1 0 -2.4 0M107.3 529.1a1.2 1.2 0 1 0 2.4 0a1.2 1.2 0 1 0 -2.4 0M109.4 529.3a1.2 1.2 0 1 0 2.4 0a1.2 1.2 0 1 0 -2.4 0M115.2 528.8a1.2 1.2 0 1 0 2.4 0a1.2 1.2 0 1 0 -2.4 0M117.6 529.3a1.2 1.2 0 1 0 2.4 0a1.2 1.2 0 1 0 -2.4 0M119.4 529.1a1.2 1.2 0 1 0 2.4 0a1.2 1.2 0 1 0 -2.4 0M123.1 528.7a1.2 1.2 0 1 0 2.4 0a1.2 1.2 0 1 0 -2.4 0M125.3 528.7a1.2 1.2 0 1 0 2.4 0a1.2 1.2 0 1 0 -2.4 0M100.9 531.2a1.2 1.2 0 1 0 2.4 0a1.2 1.2 0 1 0 -2.4 0M103.4 531.1a1.2 1.2 0 1 0 2.4 0a1.2 1.2 0 1 0 -2.4 0M104.9 531.2a1.2 1.2 0 1 0 2.4 0a1.2 1.2 0 1 0 -2.4 0M108.9 531.1a1.2 1.2 0 1 0 2.4 0a1.2 1.2 0 1 0 -2.4 0M119 531a1.2 1.2 0 1 0 2.4 0a1.2 1.2 0 1 0 -2.4 0M121.2 531.2a1.2 1.2 0 1 0 2.4 0a1.2 1.2 0 1 0 -2.4 0M123.4 530.8a1.2 1.2 0 1 0 2.4 0a1.2 1.2 0 1 0 -2.4 0M99.6 533.1a1.2 1.2 0 1 0 2.4 0a1.2 1.2 0 1 0 -2.4 0M102.1 532.9a1.2 1.2 0 1 0 2.4 0a1.2 1.2 0 1 0 -2.4 0M106.2 533.2a1.2 1.2 0 1 0 2.4 0a1.2 1.2 0 1 0 -2.4 0M108.1 533.1a1.2 1.2 0 1 0 2.4 0a1.2 1.2 0 1 0 -2.4 0M111.7 533a1.2 1.2 0 1 0 2.4 0a1.2 1.2 0 1 0 -2.4 0M113.9 533.3a1.2 1.2 0 1 0 2.4 0a1.2 1.2 0 1 0 -2.4 0M116.2 533a1.2 1.2 0 1 0 2.4 0a1.2 1.2 0 1 0 -2.4 0M118 532.8a1.2 1.2 0 1 0 2.4 0a1.2 1.2 0 1 0 -2.4 0M119.9 533.2a1.2 1.2 0 1 0 2.4 0a1.2 1.2 0 1 0 -2.4 0M124.2 533.3a1.2 1.2 0 1 0 2.4 0a1.2 1.2 0 1 0 -2.4 0M125.7 533a1.2 1.2 0 1 0 2.4 0a1.2 1.2 0 1 0 -2.4 0M93.9 535.8a1.2 1.2 0 1 0 2.4 0a1.2 1.2 0 1 0 -2.4 0M95.5 536.1a1.2 1.2 0 1 0 2.4 0a1.2 1.2 0 1 0 -2.4 0M97.2 536.1a1.2 1.2 0 1 0 2.4 0a1.2 1.2 0 1 0 -2.4 0M103 535.9a1.2 1.2 0 1 0 2.4 0a1.2 1.2 0 1 0 -2.4 0M104.6 535.7a1.2 1.2 0 1 0 2.4 0a1.2 1.2 0 1 0 -2.4 0M106.2 536.2a1.2 1.2 0 1 0 2.4 0a1.2 1.2 0 1 0 -2.4 0M108.3 536a1.2 1.2 0 1 0 2.4 0a1.2 1.2 0 1 0 -2.4 0M109.8 536a1.2 1.2 0 1 0 2.4 0a1.2 1.2 0 1 0 -2.4 0M111.6 535.7a1.2 1.2 0 1 0 2.4 0a1.2 1.2 0 1 0 -2.4 0M113.9 535.7a1.2 1.2 0 1 0 2.4 0a1.2 1.2 0 1 0 -2.4 0M115.2 536.2a1.2 1.2 0 1 0 2.4 0a1.2 1.2 0 1 0 -2.4 0M117.5 535.9a1.2 1.2 0 1 0 2.4 0a1.2 1.2 0 1 0 -2.4 0M120.9 536.2a1.2 1.2 0 1 0 2.4 0a1.2 1.2 0 1 0 -2.4 0M122.3 536.1a1.2 1.2 0 1 0 2.4 0a1.2 1.2 0 1 0 -2.4 0M124.3 536a1.2 1.2 0 1 0 2.4 0a1.2 1.2 0 1 0 -2.4 0M126.1 535.8a1.2 1.2 0 1 0 2.4 0a1.2 1.2 0 1 0 -2.4 0M94.2 538a1.2 1.2 0 1 0 2.4 0a1.2 1.2 0 1 0 -2.4 0M96.1 537.8a1.2 1.2 0 1 0 2.4 0a1.2 1.2 0 1 0 -2.4 0M97.2 537.7a1.2 1.2 0 1 0 2.4 0a1.2 1.2 0 1 0 -2.4 0M99.5 538.1a1.2 1.2 0 1 0 2.4 0a1.2 1.2 0 1 0 -2.4 0M101 538a1.2 1.2 0 1 0 2.4 0a1.2 1.2 0 1 0 -2.4 0M103.2 537.5a1.2 1.2 0 1 0 2.4 0a1.2 1.2 0 1 0 -2.4 0M106.9 537.8a1.2 1.2 0 1 0 2.4 0a1.2 1.2 0 1 0 -2.4 0M108.3 538a1.2 1.2 0 1 0 2.4 0a1.2 1.2 0 1 0 -2.4 0M110.1 538a1.2 1.2 0 1 0 2.4 0a1.2 1.2 0 1 0 -2.4 0M113.6 538.1a1.2 1.2 0 1 0 2.4 0a1.2 1.2 0 1 0 -2.4 0M115.5 537.8a1.2 1.2 0 1 0 2.4 0a1.2 1.2 0 1 0 -2.4 0M117.3 537.6a1.2 1.2 0 1 0 2.4 0a1.2 1.2 0 1 0 -2.4 0M119.4 538a1.2 1.2 0 1 0 2.4 0a1.2 1.2 0 1 0 -2.4 0M124.8 537.9a1.2 1.2 0 1 0 2.4 0a1.2 1.2 0 1 0 -2.4 0M126.4 538.1a1.2 1.2 0 1 0 2.4 0a1.2 1.2 0 1 0 -2.4 0M96.5 539.3a1.2 1.2 0 1 0 2.4 0a1.2 1.2 0 1 0 -2.4 0M98.4 539.5a1.2 1.2 0 1 0 2.4 0a1.2 1.2 0 1 0 -2.4 0M100.2 539.5a1.2 1.2 0 1 0 2.4 0a1.2 1.2 0 1 0 -2.4 0M102.1 539.3a1.2 1.2 0 1 0 2.4 0a1.2 1.2 0 1 0 -2.4 0M103.8 539.7a1.2 1.2 0 1 0 2.4 0a1.2 1.2 0 1 0 -2.4 0M105.8 539.6a1.2 1.2 0 1 0 2.4 0a1.2 1.2 0 1 0 -2.4 0M109.2 539.6a1.2 1.2 0 1 0 2.4 0a1.2 1.2 0 1 0 -2.4 0M110.9 539.4a1.2 1.2 0 1 0 2.4 0a1.2 1.2 0 1 0 -2.4 0M112.8 539.3a1.2 1.2 0 1 0 2.4 0a1.2 1.2 0 1 0 -2.4 0M114.9 539.9a1.2 1.2 0 1 0 2.4 0a1.2 1.2 0 1 0 -2.4 0M116.6 539.5a1.2 1.2 0 1 0 2.4 0a1.2 1.2 0 1 0 -2.4 0M118.4 539.6a1.2 1.2 0 1 0 2.4 0a1.2 1.2 0 1 0 -2.4 0M120.1 539.9a1.2 1.2 0 1 0 2.4 0a1.2 1.2 0 1 0 -2.4 0M121.9 539.8a1.2 1.2 0 1 0 2.4 0a1.2 1.2 0 1 0 -2.4 0M123.9 539.3a1.2 1.2 0 1 0 2.4 0a1.2 1.2 0 1 0 -2.4 0M125.1 539.5a1.2 1.2 0 1 0 2.4 0a1.2 1.2 0 1 0 -2.4 0M127.4 539.9a1.2 1.2 0 1 0 2.4 0a1.2 1.2 0 1 0 -2.4 0M94.9 541.1a1.2 1.2 0 1 0 2.4 0a1.2 1.2 0 1 0 -2.4 0M96.6 541.1a1.2 1.2 0 1 0 2.4 0a1.2 1.2 0 1 0 -2.4 0M98.2 541.1a1.2 1.2 0 1 0 2.4 0a1.2 1.2 0 1 0 -2.4 0M100.1 541.5a1.2 1.2 0 1 0 2.4 0a1.2 1.2 0 1 0 -2.4 0M104 541.5a1.2 1.2 0 1 0 2.4 0a1.2 1.2 0 1 0 -2.4 0M105.4 541.7a1.2 1.2 0 1 0 2.4 0a1.2 1.2 0 1 0 -2.4 0M107.5 541.5a1.2 1.2 0 1 0 2.4 0a1.2 1.2 0 1 0 -2.4 0M109.4 541.6a1.2 1.2 0 1 0 2.4 0a1.2 1.2 0 1 0 -2.4 0M111.2 541.7a1.2 1.2 0 1 0 2.4 0a1.2 1.2 0 1 0 -2.4 0M113.1 541.1a1.2 1.2 0 1 0 2.4 0a1.2 1.2 0 1 0 -2.4 0M114.9 541.3a1.2 1.2 0 1 0 2.4 0a1.2 1.2 0 1 0 -2.4 0M116.3 541.3a1.2 1.2 0 1 0 2.4 0a1.2 1.2 0 1 0 -2.4 0M118.2 541.2a1.2 1.2 0 1 0 2.4 0a1.2 1.2 0 1 0 -2.4 0M120.3 541.3a1.2 1.2 0 1 0 2.4 0a1.2 1.2 0 1 0 -2.4 0M122.1 541.5a1.2 1.2 0 1 0 2.4 0a1.2 1.2 0 1 0 -2.4 0M123.9 541.7a1.2 1.2 0 1 0 2.4 0a1.2 1.2 0 1 0 -2.4 0M125 541.6a1.2 1.2 0 1 0 2.4 0a1.2 1.2 0 1 0 -2.4 0M127.1 541.7a1.2 1.2 0 1 0 2.4 0a1.2 1.2 0 1 0 -2.4 0M95.3 543.1a1.2 1.2 0 1 0 2.4 0a1.2 1.2 0 1 0 -2.4 0M96.9 543.4a1.2 1.2 0 1 0 2.4 0a1.2 1.2 0 1 0 -2.4 0M98.9 543.3a1.2 1.2 0 1 0 2.4 0a1.2 1.2 0 1 0 -2.4 0M102.2 543.4a1.2 1.2 0 1 0 2.4 0a1.2 1.2 0 1 0 -2.4 0M104.3 543.2a1.2 1.2 0 1 0 2.4 0a1.2 1.2 0 1 0 -2.4 0M106.1 543.1a1.2 1.2 0 1 0 2.4 0a1.2 1.2 0 1 0 -2.4 0M108.2 543.4a1.2 1.2 0 1 0 2.4 0a1.2 1.2 0 1 0 -2.4 0M109.8 543.1a1.2 1.2 0 1 0 2.4 0a1.2 1.2 0 1 0 -2.4 0M113.3 543.4a1.2 1.2 0 1 0 2.4 0a1.2 1.2 0 1 0 -2.4 0M116.9 543.3a1.2 1.2 0 1 0 2.4 0a1.2 1.2 0 1 0 -2.4 0M118.6 543.3a1.2 1.2 0 1 0 2.4 0a1.2 1.2 0 1 0 -2.4 0M120.2 542.9a1.2 1.2 0 1 0 2.4 0a1.2 1.2 0 1 0 -2.4 0M122.2 542.9a1.2 1.2 0 1 0 2.4 0a1.2 1.2 0 1 0 -2.4 0M124.2 543.1a1.2 1.2 0 1 0 2.4 0a1.2 1.2 0 1 0 -2.4 0M125.8 543.5a1.2 1.2 0 1 0 2.4 0a1.2 1.2 0 1 0 -2.4 0M127.8 543.1a1.2 1.2 0 1 0 2.4 0a1.2 1.2 0 1 0 -2.4 0M92.7 569.2a1.2 1.2 0 1 0 2.4 0a1.2 1.2 0 1 0 -2.4 0M94.1 569.3a1.2 1.2 0 1 0 2.4 0a1.2 1.2 0 1 0 -2.4 0M95.3 569.2a1.2 1.2 0 1 0 2.4 0a1.2 1.2 0 1 0 -2.4 0M97 569.2a1.2 1.2 0 1 0 2.4 0a1.2 1.2 0 1 0 -2.4 0M98.3 569.1a1.2 1.2 0 1 0 2.4 0a1.2 1.2 0 1 0 -2.4 0M99.7 569.3a1.2 1.2 0 1 0 2.4 0a1.2 1.2 0 1 0 -2.4 0M101.4 569.3a1.2 1.2 0 1 0 2.4 0a1.2 1.2 0 1 0 -2.4 0M102.9 569.3a1.2 1.2 0 1 0 2.4 0a1.2 1.2 0 1 0 -2.4 0M104.1 569.2a1.2 1.2 0 1 0 2.4 0a1.2 1.2 0 1 0 -2.4 0M105.4 569.4a1.2 1.2 0 1 0 2.4 0a1.2 1.2 0 1 0 -2.4 0M106.8 568.9a1.2 1.2 0 1 0 2.4 0a1.2 1.2 0 1 0 -2.4 0M100.5 579.2a1.2 1.2 0 1 0 2.4 0a1.2 1.2 0 1 0 -2.4 0M101.8 579.2a1.2 1.2 0 1 0 2.4 0a1.2 1.2 0 1 0 -2.4 0M103.7 579a1.2 1.2 0 1 0 2.4 0a1.2 1.2 0 1 0 -2.4 0M105.9 579.6a1.2 1.2 0 1 0 2.4 0a1.2 1.2 0 1 0 -2.4 0M107.5 579.3a1.2 1.2 0 1 0 2.4 0a1.2 1.2 0 1 0 -2.4 0M109.4 579.3a1.2 1.2 0 1 0 2.4 0a1.2 1.2 0 1 0 -2.4 0M110.9 579a1.2 1.2 0 1 0 2.4 0a1.2 1.2 0 1 0 -2.4 0M91.2 581.1a1.2 1.2 0 1 0 2.4 0a1.2 1.2 0 1 0 -2.4 0M94.7 581a1.2 1.2 0 1 0 2.4 0a1.2 1.2 0 1 0 -2.4 0M96.2 581.3a1.2 1.2 0 1 0 2.4 0a1.2 1.2 0 1 0 -2.4 0M98.1 581.3a1.2 1.2 0 1 0 2.4 0a1.2 1.2 0 1 0 -2.4 0M99.8 581.4a1.2 1.2 0 1 0 2.4 0a1.2 1.2 0 1 0 -2.4 0M101.6 580.8a1.2 1.2 0 1 0 2.4 0a1.2 1.2 0 1 0 -2.4 0M103.9 581.4a1.2 1.2 0 1 0 2.4 0a1.2 1.2 0 1 0 -2.4 0M73.2 583.1a1.2 1.2 0 1 0 2.4 0a1.2 1.2 0 1 0 -2.4 0M75.3 582.6a1.2 1.2 0 1 0 2.4 0a1.2 1.2 0 1 0 -2.4 0M77.1 583a1.2 1.2 0 1 0 2.4 0a1.2 1.2 0 1 0 -2.4 0M79.2 582.6a1.2 1.2 0 1 0 2.4 0a1.2 1.2 0 1 0 -2.4 0M84.5 583a1.2 1.2 0 1 0 2.4 0a1.2 1.2 0 1 0 -2.4 0M86.1 582.9a1.2 1.2 0 1 0 2.4 0a1.2 1.2 0 1 0 -2.4 0M89.7 582.9a1.2 1.2 0 1 0 2.4 0a1.2 1.2 0 1 0 -2.4 0M91.5 583.2a1.2 1.2 0 1 0 2.4 0a1.2 1.2 0 1 0 -2.4 0M93.4 582.9a1.2 1.2 0 1 0 2.4 0a1.2 1.2 0 1 0 -2.4 0M72.9 584.5a1.2 1.2 0 1 0 2.4 0a1.2 1.2 0 1 0 -2.4 0M74.4 584.9a1.2 1.2 0 1 0 2.4 0a1.2 1.2 0 1 0 -2.4 0M76.7 584.8a1.2 1.2 0 1 0 2.4 0a1.2 1.2 0 1 0 -2.4 0M94.8 492a1.2 1.2 0 1 0 2.4 0a1.2 1.2 0 1 0 -2.4 0M122.8 491.5a1.2 1.2 0 1 0 2.4 0a1.2 1.2 0 1 0 -2.4 0M126.8 492a1.2 1.2 0 1 0 2.4 0a1.2 1.2 0 1 0 -2.4 0M37 617a1.2 1.2 0 1 0 2.4 0a1.2 1.2 0 1 0 -2.4 0M42.5 617a1.2 1.2 0 1 0 2.4 0a1.2 1.2 0 1 0 -2.4 0M44.3 617a1.2 1.2 0 1 0 2.4 0a1.2 1.2 0 1 0 -2.4 0M70.8 615.7a1.2 1.2 0 1 0 2.4 0a1.2 1.2 0 1 0 -2.4 0M73.3 615.7a1.2 1.2 0 1 0 2.4 0a1.2 1.2 0 1 0 -2.4 0M75.4 615.7a1.2 1.2 0 1 0 2.4 0a1.2 1.2 0 1 0 -2.4 0M134.8 545.8a1.2 1.2 0 1 0 2.4 0a1.2 1.2 0 1 0 -2.4 0M125.6 554.2a1.2 1.2 0 1 0 2.4 0a1.2 1.2 0 1 0 -2.4 0M122.8 563.7a1.2 1.2 0 1 0 2.4 0a1.2 1.2 0 1 0 -2.4 0M124.8 564.5a1.2 1.2 0 1 0 2.4 0a1.2 1.2 0 1 0 -2.4 0M126.5 565a1.2 1.2 0 1 0 2.4 0a1.2 1.2 0 1 0 -2.4 0M111.8 578.7a1.2 1.2 0 1 0 2.4 0a1.2 1.2 0 1 0 -2.4 0M115.5 583.8a1.2 1.2 0 1 0 2.4 0a1.2 1.2 0 1 0 -2.4 0M128.3 490a1.2 1.2 0 1 0 2.4 0a1.2 1.2 0 1 0 -2.4 0" fill="#960f0a"/>
<line x1="1" y1="623.2" x2="149" y2="623.2" stroke="#9a9a9a" stroke-width="0.8"/>
<text transform="translate(8.3,633.3) rotate(-90)" font-size="4.6" fill="#333" textLength="8.6" lengthAdjust="spacingAndGlyphs">1941</text>
<text transform="translate(15,633.3) rotate(-90)" font-size="4.6" fill="#333" textLength="8.6" lengthAdjust="spacingAndGlyphs">1945</text>
<text transform="translate(21.7,633.3) rotate(-90)" font-size="4.6" fill="#333" textLength="8.6" lengthAdjust="spacingAndGlyphs">1949</text>
<text transform="translate(28.4,633.3) rotate(-90)" font-size="4.6" fill="#333" textLength="8.6" lengthAdjust="spacingAndGlyphs">1953</text>
<text transform="translate(35.1,633.3) rotate(-90)" font-size="4.6" fill="#333" textLength="8.6" lengthAdjust="spacingAndGlyphs">1957</text>
<text transform="translate(41.8,633.3) rotate(-90)" font-size="4.6" fill="#333" textLength="8.6" lengthAdjust="spacingAndGlyphs">1961</text>
<text transform="translate(48.5,633.3) rotate(-90)" font-size="4.6" fill="#333" textLength="8.6" lengthAdjust="spacingAndGlyphs">1965</text>
<text transform="translate(55.2,633.3) rotate(-90)" font-size="4.6" fill="#333" textLength="8.6" lengthAdjust="spacingAndGlyphs">1969</text>
<text transform="translate(61.9,633.3) rotate(-90)" font-size="4.6" fill="#333" textLength="8.6" lengthAdjust="spacingAndGlyphs">1973</text>
<text transform="translate(68.6,633.3) rotate(-90)" font-size="4.6" fill="#333" textLength="8.6" lengthAdjust="spacingAndGlyphs">1977</text>
<text transform="translate(75.3,633.3) rotate(-90)" font-size="4.6" fill="#333" textLength="8.6" lengthAdjust="spacingAndGlyphs">1981</text>
<text transform="translate(82,633.3) rotate(-90)" font-size="4.6" fill="#333" textLength="8.6" lengthAdjust="spacingAndGlyphs">1985</text>
<text transform="translate(88.7,633.3) rotate(-90)" font-size="4.6" fill="#333" textLength="8.6" lengthAdjust="spacingAndGlyphs">1989</text>
<text transform="translate(95.4,633.3) rotate(-90)" font-size="4.6" fill="#333" textLength="8.6" lengthAdjust="spacingAndGlyphs">1993</text>
<text transform="translate(102.1,633.3) rotate(-90)" font-size="4.6" fill="#333" textLength="8.6" lengthAdjust="spacingAndGlyphs">1997</text>
<text transform="translate(108.8,633.3) rotate(-90)" font-size="4.6" fill="#333" textLength="8.6" lengthAdjust="spacingAndGlyphs">2001</text>
<text transform="translate(115.5,633.3) rotate(-90)" font-size="4.6" fill="#333" textLength="8.6" lengthAdjust="spacingAndGlyphs">2005</text>
<text transform="translate(122.2,633.3) rotate(-90)" font-size="4.6" fill="#333" textLength="8.6" lengthAdjust="spacingAndGlyphs">2009</text>
<text transform="translate(128.9,633.3) rotate(-90)" font-size="4.6" fill="#333" textLength="8.6" lengthAdjust="spacingAndGlyphs">2013</text>
<text transform="translate(135.6,633.3) rotate(-90)" font-size="4.6" fill="#333" textLength="8.6" lengthAdjust="spacingAndGlyphs">2017</text>
<text transform="translate(142.3,633.3) rotate(-90)" font-size="4.6" fill="#333" textLength="8.6" lengthAdjust="spacingAndGlyphs">2021</text>
<text transform="translate(149,633.3) rotate(-90)" font-size="4.6" fill="#333" textLength="8.6" lengthAdjust="spacingAndGlyphs">2025</text>
<path d="M6.6 623.2V624.5M13.3 623.2V624.5M20 623.2V624.5M26.7 623.2V624.5M33.4 623.2V624.5M40.1 623.2V624.5M46.8 623.2V624.5M53.5 623.2V624.5M60.2 623.2V624.5M66.9 623.2V624.5M73.6 623.2V624.5M80.3 623.2V624.5M87 623.2V624.5M93.7 623.2V624.5M100.4 623.2V624.5M107.1 623.2V624.5M113.8 623.2V624.5M120.5 623.2V624.5M127.2 623.2V624.5M133.9 623.2V624.5M140.6 623.2V624.5M147.3 623.2V624.5" stroke="#9a9a9a" stroke-width="0.5" fill="none"/>
<line x1="143.4" y1="484.2" x2="143.4" y2="583.2" stroke="#a8201a" stroke-width="1.4"/>
<line x1="142.7" y1="605.7" x2="142.7" y2="616" stroke="#e8a0a0" stroke-width="1.2"/>
<text x="145.3" y="537.8" font-size="13" fill="#000" textLength="14" lengthAdjust="spacingAndGlyphs">G-I</text>
<text x="145.3" y="615.3" font-size="13" fill="#c0c0c0" textLength="17" lengthAdjust="spacingAndGlyphs">G-II</text>
<line x1="143.9" y1="484.2" x2="283.6" y2="484.2" stroke="#444" stroke-width="0.8" stroke-dasharray="1.4 1.4"/>
<line x1="143.9" y1="583.8" x2="171" y2="612.3" stroke="#444" stroke-width="0.8" stroke-dasharray="1.4 1.4"/>
<path d="M171.4 598V613M171.4 598V598M171.4 598H205.7M205.7 590V598M205.7 590V590M205.7 590H234.8M234.8 582V590M234.8 560V582M234.8 560H237M237 533V560M237 533H240.5M240.5 518V533M240.5 518H244M244 508V518M244 508H254M254 487V508M254 487H256.5M171.4 613H225M205.7 598V606M205.7 606H222M240.7 597.1H254.9M240.7 597.4H252.4M240.7 597.1V597.4M238 597.3H240.7M248.9 597.7H255M248.9 598H254.6M248.9 597.7V598M247.5 597.9H248.9M247.5 598.3H251.7M247.5 597.9V598.3M245.6 598.1H247.5M245.6 598.6H253.2M245.6 598.1V598.6M244 598.3H245.6M244 598.9H254.3M244 598.3V598.9M241.9 598.6H244M241.9 599.2H251.9M241.9 598.6V599.2M238 598.9H241.9M238 597.3V598.9M236.6 598.1H238M243 599.5H251.4M243 599.8H246M243 599.5V599.8M241.7 599.6H243M244.7 600.1H253.2M247.2 600.3H247.6M247.2 600.6H247.6M247.2 600.3V600.6M246.2 600.5H247.2M246.2 600.9H249.9M246.2 600.5V600.9M244.7 600.7H246.2M244.7 600.1V600.7M241.7 600.4H244.7M241.7 599.6V600.4M238.6 600H241.7M244.6 601.2H251.1M244.6 601.5H251.1M244.6 601.2V601.5M243.4 601.4H244.6M243.4 601.8H248.5M243.4 601.4V601.8M241 601.6H243.4M241 602.1H247.1M241 601.6V602.1M240.2 601.8H241M245.6 602.4H246.2M245.6 602.7H249M245.6 602.4V602.7M244.8 602.5H245.6M245.4 603H245.8M245.4 603.3H245.8M245.4 603V603.3M244.8 603.1H245.4M244.8 602.5V603.1M243.5 602.8H244.8M243.5 603.5H244.6M243.5 602.8V603.5M241.9 603.2H243.5M241.9 603.8H246.7M241.9 603.2V603.8M240.2 603.5H241.9M240.2 601.8V603.5M238.6 602.7H240.2M238.6 600V602.7M236.6 601.3H238.6M236.6 598.1V601.3M230.7 599.7H236.6M230.7 604.6H254.5M230.7 599.7V604.6M226.2 603.4H230.7M231.2 605.9H244.5M232.6 606.3H239.1M232.6 606.7H236.7M232.6 606.3V606.7M231.2 606.5H232.6M231.2 605.9V606.5M226.7 606.2H231.2M232.7 607.1H242.9M237.6 607.4H244M237.6 607.8H243.3M237.6 607.4V607.8M235.4 607.6H237.6M235.4 608.2H238.6M235.4 607.6V608.2M232.7 607.9H235.4M232.7 607.1V607.9M230.9 607.5H232.7M239.9 608.5H240.3M239.9 608.9H240.9M239.9 608.5V608.9M238.3 608.7H239.9M238.3 609.3H239.8M238.3 608.7V609.3M236.5 609H238.3M236.5 609.6H239.8M236.5 609V609.6M234.6 609.3H236.5M237.4 610H237.8M237.4 610.4H237.8M237.4 610V610.4M236.1 610.2H237.4M236.1 610.8H240.6M236.1 610.2V610.8M234.6 610.5H236.1M234.6 609.3V610.5M233.6 609.9H234.6M233.6 611.1H237.9M233.6 609.9V611.1M230.9 610.5H233.6M230.9 607.5V610.5M228.9 609H230.9M231.4 611.5H237.9M231.4 611.9H237.6M231.4 611.5V611.9M228.9 611.7H231.4M228.9 609V611.7M226.7 610.3H228.9M226.7 606.2V610.3M226.2 608.3H226.7M226.2 603.4V608.3M225.6 607.1H226.2M226.1 612.7H233.7M226.1 612.9H235.2M226.1 612.7V612.9M225.6 612.8H226.1M225.6 607.1V612.8M222 611.4H225.6M222 606V611.4M248.9 574H285.8M281.3 575.2H287.7M282.1 575.7H285.4M282.1 576.1H288.2M282.1 575.7V576.1M281.3 575.9H282.1M281.3 575.2V575.9M280.8 575.5H281.3M283.3 576.5H284.5M283.6 576.9H287.1M283.6 577.3H285.1M283.6 576.9V577.3M283.3 577.1H283.6M283.3 576.5V577.1M282.1 576.8H283.3M282.1 577.7H282.8M282.1 576.8V577.7M280.8 577.3H282.1M280.8 575.5V577.3M280 576.4H280.8M281 578.1H284.1M281 578.6H283.5M281 578.1V578.6M280 578.3H281M280 576.4V578.3M248.9 577.4H280M248.9 574V577.4M247 576.5H248.9M275.3 579.5H283.1M276.5 580H280.2M276.5 580.4H281.4M276.5 580V580.4M276.1 580.2H276.5M277.4 580.8H278.9M277.4 581.3H278M277.4 580.8V581.3M276.1 581.1H277.4M276.1 580.2V581.1M275.3 580.6H276.1M275.3 579.5V580.6M272.7 580.1H275.3M272.7 581.7H279.5M272.7 580.1V581.7M270.4 580.9H272.7M271.5 582.2H276.3M271.5 582.6H275M271.5 582.2V582.6M270.4 582.4H271.5M270.4 580.9V582.4M269 581.6H270.4M269 583.1H271.8M269 581.6V583.1M265 582.4H269M267.9 583.5H275.8M267.9 584H268.3M267.9 583.5V584M265 583.7H267.9M265 582.4V583.7M247 583H265M247 576.5V583M244 581.4H247M251.5 585.9H260.7M256 586.3H259.8M256 586.8H261.8M256 586.3V586.8M255.3 586.6H256M255.3 587.3H258.5M255.3 586.6V587.3M253.6 587H255.3M256.1 587.8H259.7M256.1 588.3H256.5M256.1 587.8V588.3M255.3 588.1H256.1M255.3 588.8H257.5M255.3 588.1V588.8M253.6 588.4H255.3M253.6 587V588.4M251.5 587.7H253.6M251.5 585.9V587.7M249.9 586.8H251.5M253.5 589.3H255.3M253.5 589.8H254.7M253.5 589.3V589.8M252.6 589.6H253.5M252.6 590.3H256.6M252.6 589.6V590.3M251.1 589.9H252.6M251.1 590.8H254.2M251.1 589.9V590.8M249.9 590.4H251.1M249.9 586.8V590.4M247.7 588.6H249.9M247.7 591.3H252.9M247.7 588.6V591.3M244.5 589.9H247.7M246.8 591.8H252.8M246.8 592.3H251.3M246.8 591.8V592.3M245.8 592H246.8M245.8 592.8H246.3M245.8 592V592.8M244.5 592.4H245.8M244.5 589.9V592.4M244 591.2H244.5M244 581.4V591.2M242.6 588.7H244M252.5 593.6H267.6M255.6 594H261M255.6 594.4H262M255.6 594V594.4M254.4 594.2H255.6M256.3 594.8H261.2M258.7 595.2H260.9M258.7 595.6H263.4M258.7 595.2V595.6M256.3 595.4H258.7M256.3 594.8V595.4M255.6 595.1H256.3M256.7 596H262.2M256.7 596.4H260.7M256.7 596V596.4M255.6 596.2H256.7M255.6 595.1V596.2M254.8 595.6H255.6M254.8 596.8H260M254.8 595.6V596.8M254.4 596.2H254.8M254.4 594.2V596.2M252.5 595.2H254.4M252.5 593.6V595.2M242.6 594.4H252.5M242.6 588.7V594.4M237 593H242.6M237 585V593M284.1 553.8H291.4M284.1 554.4H288.9M284.1 553.8V554.4M282 554.1H284.1M284.5 555H288.1M284.5 555.6H287.7M284.5 555V555.6M283.8 555.3H284.5M283.8 556.2H287.2M283.8 555.3V556.2M282.8 555.8H283.8M282.8 556.8H285M282.8 555.8V556.8M282 556.3H282.8M282 554.1V556.3M280.3 555.2H282M280.3 557.5H283.4M280.3 555.2V557.5M278.5 556.3H280.3M280 558.1H283.8M280 558.7H282.2M280 558.1V558.7M278.5 558.4H280M278.5 556.3V558.4M276.4 557.4H278.5M277.6 559.3H278M277.6 559.9H279.6M277.6 559.3V559.9M276.4 559.6H277.6M276.4 557.4V559.6M275.1 558.5H276.4M276.4 560.5H282M276.4 561.1H281.9M276.4 560.5V561.1M275.1 560.8H276.4M275.1 558.5V560.8M250.7 559.6H275.1M250.7 561.9H291M250.7 559.6V561.9M250 561.3H250.7M250 562.9H291.7M250 561.3V562.9M246.5 562.5H250M280.7 564H281.1M280.7 564.4H284.6M280.7 564V564.4M279.1 564.2H280.7M279.1 564.9H283.5M279.1 564.2V564.9M276.9 564.5H279.1M276.9 565.3H283M276.9 564.5V565.3M276.3 564.9H276.9M277.3 565.8H289M277.9 566.2H282.2M280.5 566.6H285M280.5 567.1H282.3M280.5 566.6V567.1M277.9 566.9H280.5M277.9 566.2V566.9M277.3 566.5H277.9M277.3 565.8V566.5M276.3 566.1H277.3M276.3 564.9V566.1M274.3 565.5H276.3M274.3 567.5H285.7M274.3 565.5V567.5M272.9 566.5H274.3M273.5 568H285.8M276.5 568.4H283.2M276.5 568.8H278.2M276.5 568.4V568.8M273.5 568.6H276.5M273.5 568V568.6M272.9 568.3H273.5M272.9 566.5V568.3M246.5 567.4H272.9M246.5 562.5V567.4M244.4 566.2H246.5M285.9 569.7H292M285.9 570.3H288.7M285.9 569.7V570.3M284.4 570H285.9M284.4 570.8H289.1M284.4 570V570.8M282.1 570.4H284.4M282.1 571.4H286M282.1 570.4V571.4M280.4 570.9H282.1M280.4 572H283.4M280.4 570.9V572M279.6 571.4H280.4M279.6 572.5H286.3M279.6 571.4V572.5M244.4 572H279.6M244.4 566.2V572M238 570.5H244.4M238 563V570.5M263.2 533.3H276.3M266.2 534H276.1M266.2 534.6H273.4M266.2 534V534.6M263.2 534.3H266.2M263.2 533.3V534.3M261.3 533.8H263.2M261.3 535.2H270.6M261.3 533.8V535.2M260 534.5H261.3M269.4 535.9H269.8M269.4 536.5H274.5M269.4 535.9V536.5M268.4 536.2H269.4M268.4 537.2H269.7M268.4 536.2V537.2M266.3 536.7H268.4M267.6 537.8H272.4M267.6 538.5H268M267.6 537.8V538.5M267.2 538.1H267.6M267.2 539.1H272.4M267.2 538.1V539.1M266.3 538.6H267.2M266.3 536.7V538.6M264.1 537.6H266.3M266.1 539.7H272.9M268.5 540.4H268.9M268.5 541H271.7M268.5 540.4V541M266.9 540.7H268.5M266.9 541.7H269.7M266.9 540.7V541.7M266.1 541.2H266.9M266.1 539.7V541.2M264.1 540.5H266.1M264.1 537.6V540.5M262.4 539.1H264.1M262.4 542.3H270.8M262.4 539.1V542.3M260 540.7H262.4M260 534.5V540.7M245.5 537.6H260M259 543.3H269.5M259 543.8H263M259 543.3V543.8M256.1 543.5H259M256.1 544.3H265.5M256.1 543.5V544.3M254.9 543.9H256.1M262 544.8H266.7M262 545.3H265.9M262 544.8V545.3M259.9 545.1H262M262.4 545.8H269.2M262.4 546.3H265.6M262.4 545.8V546.3M259.9 546.1H262.4M259.9 545.1V546.1M258.3 545.6H259.9M259.1 546.8H267.8M259.1 547.3H264.2M259.1 546.8V547.3M258.3 547.1H259.1M258.3 545.6V547.1M254.9 546.3H258.3M254.9 543.9V546.3M245.5 545.1H254.9M245.5 537.6V545.1M243.6 543.2H245.5M265.5 548.5H265.9M265.5 548.9H265.9M265.5 548.5V548.9M264.3 548.7H265.5M264.3 549.3H264.7M264.3 548.7V549.3M263.9 549H264.3M265.6 549.8H267.8M265.6 550.2H266M265.6 549.8V550.2M265 550H265.6M265 550.6H266.1M265 550V550.6M263.9 550.3H265M263.9 549V550.3M263.3 549.7H263.9M263.3 551.1H264.8M263.3 549.7V551.1M261.8 550.4H263.3M261.8 551.5H267M261.8 550.4V551.5M259.8 550.9H261.8M262.1 551.9H266.4M262.8 552.4H265.3M262.8 552.8H266.6M262.8 552.4V552.8M262.1 552.6H262.8M262.1 551.9V552.6M259.8 552.2H262.1M259.8 550.9V552.2M243.6 551.6H259.8M243.6 543.2V551.6M240.5 549.5H243.6M240.5 543V549.5M278.1 504.2H281.1M278.1 504.7H278.5M278.1 504.2V504.7M277.3 504.4H278.1M277.3 505.1H280.6M277.3 504.4V505.1M276.1 504.8H277.3M276.1 505.6H276.5M276.1 504.8V505.6M275.2 505.2H276.1M275.2 506H278M275.2 505.2V506M273.3 505.6H275.2M273.3 506.4H277.9M273.3 505.6V506.4M272.5 506H273.3M275 506.9H278.5M275 507.3H276.4M275 506.9V507.3M272.5 507.1H275M272.5 506V507.1M270.8 506.6H272.5M275.8 507.8H276.2M275.8 508.2H278.8M275.8 507.8V508.2M275.2 508H275.8M275.2 508.7H275.6M275.2 508V508.7M273.7 508.3H275.2M275.5 509.1H280.5M275.5 509.5H280.2M275.5 509.1V509.5M274.9 509.3H275.5M274.9 510H275.3M274.9 509.3V510M273.7 509.7H274.9M273.7 508.3V509.7M270.8 509H273.7M270.8 506.6V509M268.8 507.8H270.8M268.8 510.4H278.4M268.8 507.8V510.4M258.8 509.1H268.8M258.8 511.4H278.1M258.8 509.1V511.4M258.1 510.8H258.8M258.1 512.2H275.5M258.1 510.8V512.2M257.5 511.9H258.1M263.1 514H266.3M267.4 514.4H267.8M268.7 514.8H270.7M268.7 515.2H269.1M268.7 514.8V515.2M267.4 515H268.7M267.4 514.4V515M265.4 514.7H267.4M267.1 515.7H268.4M268.9 516.1H271.6M268.9 516.5H271.5M268.9 516.1V516.5M268.7 516.3H268.9M268.7 516.9H269.1M268.7 516.3V516.9M267.9 516.6H268.7M267.9 517.3H268.3M267.9 516.6V517.3M267.1 517H267.9M267.1 515.7V517M265.4 516.3H267.1M265.4 514.7V516.3M263.1 515.5H265.4M263.1 514V515.5M260.5 514.7H263.1M260.5 517.8H265.7M260.5 514.7V517.8M258 516.3H260.5M258 518.2H268.9M258 516.3V518.2M257.5 517.2H258M257.5 511.9V517.2M256.8 515.9H257.5M258.6 519H261.7M259.6 519.7H261.6M259.6 520.3H260M259.6 519.7V520.3M259.4 520H259.6M259.4 520.9H259.8M259.4 520V520.9M258.6 520.5H259.4M258.6 519V520.5M257.3 519.7H258.6M257.3 521.6H260.8M257.3 519.7V521.6M256.8 520.7H257.3M256.8 515.9V520.7M256.2 519.5H256.8M264.8 522.6H272.8M264.8 523.1H272.2M264.8 522.6V523.1M262.7 522.8H264.8M266.1 523.7H271.7M266.1 524.3H267.1M266.1 523.7V524.3M263.8 524H266.1M263.8 524.8H267.5M263.8 524V524.8M262.7 524.4H263.8M262.7 522.8V524.4M261.3 523.6H262.7M261.3 525.4H268.1M261.3 523.6V525.4M260.5 524.5H261.3M260.5 526H270.1M260.5 524.5V526M259.1 525.2H260.5M259.1 526.5H259.5M259.1 525.2V526.5M256.2 525.9H259.1M256.2 519.5V525.9M255.5 524.3H256.2M259.7 527.8H266.1M261 528.3H266.5M261 528.8H268.2M261 528.3V528.8M259.7 528.6H261M259.7 527.8V528.6M258.3 528.2H259.7M258.3 529.3H265.3M258.3 528.2V529.3M256.9 528.8H258.3M259.8 529.8H265.8M261.8 530.3H262.3M261.8 530.8H264.7M261.8 530.3V530.8M260.2 530.5H261.8M260.2 531.3H264.6M260.2 530.5V531.3M259.8 530.9H260.2M259.8 529.8V530.9M256.9 530.4H259.8M256.9 528.8V530.4M256 529.6H256.9M256 531.8H258.3M256 529.6V531.8M255.5 530.7H256M255.5 524.3V530.7M244 529.1H255.5M244 518V529.1M282.6 484H286.2M283.7 484.7H286.5M283.7 485.4H285.2M283.7 484.7V485.4M282.6 485.1H283.7M282.6 484V485.1M282.2 484.6H282.6M282.2 486.1H286.3M282.2 484.6V486.1M280.4 485.4H282.2M282 486.8H284.3M282 487.5H284.5M282 486.8V487.5M280.8 487.2H282M283.9 488.2H284.3M283.9 488.9H285.8M283.9 488.2V488.9M282.5 488.6H283.9M282.5 489.6H284.7M282.5 488.6V489.6M280.8 489.1H282.5M280.8 487.2V489.1M280.4 488.1H280.8M280.4 485.4V488.1M266.9 486.7H280.4M266.9 491.3H289.1M266.9 486.7V491.3M263.8 490.2H266.9M285.2 493H289.5M285.2 493.6H285.6M285.2 493V493.6M283.9 493.3H285.2M283.9 494.2H287.4M283.9 493.3V494.2M281.5 493.8H283.9M283.6 494.9H284M284.6 495.5H286.9M284.6 496.1H289.1M284.6 495.5V496.1M283.6 495.8H284.6M283.6 494.9V495.8M282.6 495.3H283.6M282.6 496.7H288.1M282.6 495.3V496.7M281.5 496H282.6M281.5 493.8V496M281.1 494.9H281.5M281.1 497.3H281.5M281.1 494.9V497.3M279.1 496.1H281.1M279.1 498H279.5M279.1 496.1V498M263.8 497H279.1M263.8 490.2V497M263 495.3H263.8M263 499.6H283.7M263 495.3V499.6M260.6 498.6H263M273.5 500.8H275.8M273.5 501.3H279.3M273.5 500.8V501.3M272.2 501.1H273.5M272.2 501.8H275.7M272.2 501.1V501.8M270.5 501.5H272.2M270.5 502.3H278.4M270.5 501.5V502.3M268.3 501.9H270.5M268.3 502.8H279.2M268.3 501.9V502.8M265.7 502.3H268.3M267.5 503.3H277.9M267.5 503.8H277.8M267.5 503.3V503.8M265.7 503.5H267.5M265.7 502.3V503.5M261.1 502.9H265.7M264.9 504.3H276.3M264.9 504.8H267.2M264.9 504.3V504.8M261.1 504.5H264.9M261.1 502.9V504.5M260.6 503.7H261.1M260.6 498.6V503.7M256.5 502.4H260.6M256.5 487V502.4" stroke="#8a0e0a" stroke-width="0.6" fill="none"/>
<line x1="165.3" y1="615.9" x2="306.9" y2="615.9" stroke="#9a9a9a" stroke-width="0.8"/>
<text transform="translate(176.6,626.5) rotate(-90)" font-size="4.8" fill="#333" textLength="9.7" lengthAdjust="spacingAndGlyphs">1968</text>
<text transform="translate(188,626.5) rotate(-90)" font-size="4.8" fill="#333" textLength="9.7" lengthAdjust="spacingAndGlyphs">1973</text>
<text transform="translate(199.4,626.5) rotate(-90)" font-size="4.8" fill="#333" textLength="9.7" lengthAdjust="spacingAndGlyphs">1978</text>
<text transform="translate(210.8,626.5) rotate(-90)" font-size="4.8" fill="#333" textLength="9.7" lengthAdjust="spacingAndGlyphs">1983</text>
<text transform="translate(222.2,626.5) rotate(-90)" font-size="4.8" fill="#333" textLength="9.7" lengthAdjust="spacingAndGlyphs">1988</text>
<text transform="translate(233.6,626.5) rotate(-90)" font-size="4.8" fill="#333" textLength="9.7" lengthAdjust="spacingAndGlyphs">1993</text>
<text transform="translate(245,626.5) rotate(-90)" font-size="4.8" fill="#333" textLength="9.7" lengthAdjust="spacingAndGlyphs">1998</text>
<text transform="translate(256.4,626.5) rotate(-90)" font-size="4.8" fill="#333" textLength="9.7" lengthAdjust="spacingAndGlyphs">2003</text>
<text transform="translate(267.8,626.5) rotate(-90)" font-size="4.8" fill="#333" textLength="9.7" lengthAdjust="spacingAndGlyphs">2008</text>
<text transform="translate(279.2,626.5) rotate(-90)" font-size="4.8" fill="#333" textLength="9.7" lengthAdjust="spacingAndGlyphs">2013</text>
<text transform="translate(290.6,626.5) rotate(-90)" font-size="4.8" fill="#333" textLength="9.7" lengthAdjust="spacingAndGlyphs">2018</text>
<text transform="translate(302,626.5) rotate(-90)" font-size="4.8" fill="#333" textLength="9.7" lengthAdjust="spacingAndGlyphs">2023</text>
<path d="M174.9 615.9V617.2M186.3 615.9V617.2M197.7 615.9V617.2M209.1 615.9V617.2M220.5 615.9V617.2M231.9 615.9V617.2M243.3 615.9V617.2M254.7 615.9V617.2M266.1 615.9V617.2M277.5 615.9V617.2M288.9 615.9V617.2M300.3 615.9V617.2" stroke="#9a9a9a" stroke-width="0.5" fill="none"/>
<text x="353.4" y="35" font-size="12.9" fill="#000" textLength="43" lengthAdjust="spacingAndGlyphs">DENV2</text>
<path d="M463.3 22H470.5M466.6 23.2H470.3M467.5 23.7H471.4M467.5 24.1H469.1M467.5 23.7V24.1M466.6 23.9H467.5M466.6 23.2V23.9M465.8 23.5H466.6M467.7 24.5H469.2M467.7 24.9H468.8M467.7 24.5V24.9M467.2 24.7H467.7M467.2 25.4H467.6M467.2 24.7V25.4M465.8 25H467.2M465.8 23.5V25M463.8 24.3H465.8M463.8 25.8H471.4M463.8 24.3V25.8M463.3 25H463.8M463.3 22V25M461 24.3H463.3M466 26.9H471.2M466.9 27.3H469.1M466.9 27.7H470.1M466.9 27.3V27.7M466 27.5H466.9M466 26.9V27.5M464.2 27.2H466M467.3 28.1H468.2M467.3 28.5H468.6M467.3 28.1V28.5M466.5 28.3H467.3M466.5 28.9H469.5M466.5 28.3V28.9M464.2 28.6H466.5M464.2 27.2V28.6M462.8 27.9H464.2M462.8 29.3H470.9M462.8 27.9V29.3M461.5 28.6H462.8M461.5 29.7H465.3M461.5 28.6V29.7M461 29.2H461.5M461 24.3V29.2M459.3 27.9H461M460.6 31.8H462.5M460.6 32.1H464.7M460.6 31.8V32.1M460.2 32H460.6M460.2 32.5H461.8M460.2 32V32.5M459.8 32.2H460.2M459.8 32.8H464.5M459.8 32.2V32.8M459.3 32.5H459.8M459.3 27.9V32.5M456.3 31.4H459.3M456.8 34.4H464.1M459.2 34.8H464.2M459.2 35.2H464M459.2 34.8V35.2M458.8 35H459.2M462.5 35.6H464.3M462.9 36H463.3M462.9 36.4H463.3M462.9 36V36.4M462.5 36.2H462.9M462.5 35.6V36.2M461.6 35.9H462.5M461.6 36.8H462M461.6 35.9V36.8M461 36.3H461.6M461 37.2H461.4M461 36.3V37.2M459.7 36.7H461M460.3 37.6H460.7M460.3 38H460.7M460.3 37.6V38M459.7 37.8H460.3M459.7 36.7V37.8M458.8 37.3H459.7M458.8 35V37.3M456.8 36.1H458.8M456.8 34.4V36.1M456.3 35.2H456.8M456.3 31.4V35.2M454.7 34.3H456.3M462.1 38.9H463.3M462.1 39.3H465.2M462.1 38.9V39.3M461.5 39.1H462.1M461.5 39.7H464.7M461.5 39.1V39.7M459.1 39.4H461.5M459.1 40.2H467.9M459.1 39.4V40.2M455.2 39.8H459.1M455.2 40.6H465.3M455.2 39.8V40.6M454.7 40.2H455.2M454.7 34.3V40.2M423.6 38.7H454.7M443 42H461.8M443 42.4H457.7M443 42V42.4M438.5 42.2H443M441.3 42.8H458M446.7 43.2H460.4M448 43.6H460.1M448 44H460.2M448 43.6V44M446.7 43.8H448M446.7 43.2V43.8M445.2 43.5H446.7M445.2 44.4H456.2M445.2 43.5V44.4M441.3 43.9H445.2M441.3 42.8V43.9M438.5 43.4H441.3M438.5 42.2V43.4M432.9 42.8H438.5M438.1 44.7H457.2M438.1 45.1H461.4M438.1 44.7V45.1M432.9 44.9H438.1M432.9 42.8V44.9M424.1 43.9H432.9M424.1 45.5H460.7M424.1 43.9V45.5M423.6 44.7H424.1M423.6 38.7V44.7M417.6 43.2H423.6M446.8 46.7H457.2M446.8 46.9H461.8M446.8 46.7V46.9M441 46.8H446.8M445.5 47.2H461.3M445.5 47.4H461.1M445.5 47.2V47.4M442.4 47.3H445.5M442.4 47.6H463.4M442.4 47.3V47.6M441 47.4H442.4M441 46.8V47.4M437.9 47.1H441M450.5 47.9H462.4M454.3 48.1H461.2M454.3 48.3H461.4M454.3 48.1V48.3M450.5 48.2H454.3M450.5 47.9V48.2M445.5 48H450.5M445.5 48.5H460.9M445.5 48V48.5M437.9 48.3H445.5M437.9 47.1V48.3M436 47.7H437.9M439.3 48.8H459.1M439.3 49H463.9M439.3 48.8V49M436 48.9H439.3M436 47.7V48.9M417.6 48.3H436M417.6 43.2V48.3M412.1 47H417.6M438.3 51.2H464M443.7 51.4H465.4M443.7 51.7H466.5M443.7 51.4V51.7M438.3 51.5H443.7M438.3 51.2V51.5M432.7 51.4H438.3M432.7 51.9H463.3M432.7 51.4V51.9M423.6 51.6H432.7M423.6 52.1H466.1M423.6 51.6V52.1M419.4 51.9H423.6M419.4 52.4H463.7M419.4 51.9V52.4M412.1 52.1H419.4M412.1 47V52.1M409.8 50.9H412.1M409.8 54.7H459.7M409.8 50.9V54.7M402.2 53.7H409.8M455.3 56.5H472.8M455.3 56.9H471.3M455.3 56.5V56.9M451.3 56.7H455.3M453.3 57.2H473.1M458.5 57.6H471.8M461.2 58H471.5M461.2 58.3H475.6M461.2 58V58.3M458.5 58.1H461.2M458.5 57.6V58.1M453.3 57.9H458.5M453.3 57.2V57.9M451.3 57.6H453.3M451.3 56.7V57.6M447.9 57.1H451.3M447.9 58.7H467.5M447.9 57.1V58.7M444.5 57.9H447.9M444.5 59H473.8M444.5 57.9V59M402.2 58.5H444.5M402.2 53.7V58.5M393.4 57.3H402.2M445.4 61.2H467.6M448.1 61.5H463.3M448.1 61.8H466.1M448.1 61.5V61.8M445.4 61.6H448.1M445.4 61.2V61.6M441.6 61.4H445.4M444.6 62.1H466.8M444.6 62.4H461.9M444.6 62.1V62.4M441.6 62.2H444.6M441.6 61.4V62.2M393.4 61.8H441.6M393.4 57.3V61.8M390.4 60.7H393.4M390.4 63.4H462.6M390.4 60.7V63.4M379.9 62.7H390.4M453.2 64.8H467.7M457.8 65.1H466.8M463.2 65.3H468.2M463.2 65.6H463.6M463.2 65.3V65.6M461.6 65.5H463.2M461.6 65.9H462M461.6 65.5V65.9M460.8 65.7H461.6M460.8 66.2H466.3M460.8 65.7V66.2M457.8 66H460.8M457.8 65.1V66M453.2 65.5H457.8M453.2 64.8V65.5M451 65.1H453.2M451 66.5H466.7M451 65.1V66.5M379.9 65.8H451M379.9 62.7V65.8M360.4 65H379.9M452.9 68.7H473.7M463.9 68.9H474.2M463.9 69.1H473.3M463.9 68.9V69.1M462.7 69H463.9M462.7 69.4H471.9M462.7 69V69.4M460.6 69.2H462.7M460.6 69.6H471.7M460.6 69.2V69.6M455.1 69.4H460.6M455.1 69.8H472.1M455.1 69.4V69.8M452.9 69.6H455.1M452.9 68.7V69.6M445.5 69.2H452.9M445.5 70H468.9M445.5 69.2V70M440.6 69.6H445.5M440.6 70.2H474.5M440.6 69.6V70.2M431.2 69.9H440.6M431.2 70.5H472.2M431.2 69.9V70.5M427.9 70.2H431.2M441.5 70.7H473.2M450.9 70.9H470.6M453.3 71.1H469.3M453.3 71.3H472.1M453.3 71.1V71.3M450.9 71.2H453.3M450.9 70.9V71.2M445.2 71.1H450.9M445.2 71.5H467.2M445.2 71.1V71.5M441.5 71.3H445.2M441.5 70.7V71.3M439.4 71H441.5M454 71.8H470.5M454 72H472.4M454 71.8V72M450.4 71.9H454M450.4 72.2H469.2M450.4 71.9V72.2M449.2 72H450.4M449.2 72.4H468.5M449.2 72V72.4M439.4 72.2H449.2M439.4 71V72.2M427.9 71.6H439.4M427.9 70.2V71.6M360.4 70.9H427.9M360.4 65V70.9M357.7 69.4H360.4M424.9 74.5H466.2M448.8 74.8H464.7M448.8 75H461.4M448.8 74.8V75M445.6 74.9H448.8M445.6 75.3H465.6M445.6 74.9V75.3M437.2 75.1H445.6M437.2 75.6H465.9M437.2 75.1V75.6M424.9 75.4H437.2M424.9 74.5V75.4M357.7 74.9H424.9M357.7 69.4V74.9M355.6 73.6H357.7M432.2 77.3H465.9M432.2 77.7H465.5M432.2 77.3V77.7M422.8 77.5H432.2M422.8 78.1H467.1M422.8 77.5V78.1M355.6 77.8H422.8M355.6 73.6V77.8M353.5 76.7H355.6M428.2 80.4H461.6M428.2 80.5H466M428.2 80.4V80.5M353.5 80.4H428.2M353.5 76.7V80.4M322.5 79.5H353.5M331.1 83.3H447.7M331.1 84.9H439.3M331.1 83.3V84.9M330.5 84.5H331.1M330.5 86H432M330.5 84.5V86M322.5 85.6H330.5M445.2 88.2H465.6M445.2 88.6H460.5M445.2 88.2V88.6M438.5 88.4H445.2M443.5 88.9H460.8M443.5 89.3H466M443.5 88.9V89.3M438.5 89.1H443.5M438.5 88.4V89.1M436.7 88.7H438.5M442.2 89.7H461.2M442.2 90H462M442.2 89.7V90M436.7 89.8H442.2M436.7 88.7V89.8M430.9 89.3H436.7M430.9 90.4H463.1M430.9 89.3V90.4M427.2 89.8H430.9M433.9 90.8H462.3M433.9 91.1H464.4M433.9 90.8V91.1M427.2 91H433.9M427.2 89.8V91M426.7 90.4H427.2M433 92.8H458.5M441.9 93.1H456.8M441.9 93.4H454.4M441.9 93.1V93.4M439.9 93.3H441.9M442.7 93.7H454.5M442.7 94H454.9M442.7 93.7V94M439.9 93.9H442.7M439.9 93.3V93.9M433 93.6H439.9M433 92.8V93.6M426.7 93.2H433M426.7 90.4V93.2M423.3 92.5H426.7M440.1 94.8H448M444.8 95.1H455.8M444.8 95.3H458M444.8 95.1V95.3M442.2 95.2H444.8M446 95.6H448.1M449.6 95.9H458.2M450.9 96.1H457.2M450.9 96.4H455.7M450.9 96.1V96.4M449.6 96.2H450.9M449.6 95.9V96.2M446 96H449.6M446 95.6V96M442.2 95.8H446M442.2 95.2V95.8M440.1 95.5H442.2M440.1 94.8V95.5M439 95.2H440.1M439 96.6H455M439 95.2V96.6M433.4 95.9H439M438.5 96.9H456.9M443.1 97.1H458.2M446.1 97.4H454.8M446.1 97.6H458.3M446.1 97.4V97.6M443.1 97.5H446.1M443.1 97.1V97.5M438.5 97.3H443.1M438.5 96.9V97.3M433.4 97.1H438.5M433.4 95.9V97.1M431.1 96.5H433.4M431.1 97.9H455.8M431.1 96.5V97.9M423.8 97.2H431.1M429.6 98.1H455.1M429.6 98.4H457.7M429.6 98.1V98.4M423.8 98.2H429.6M423.8 97.2V98.2M423.3 97.7H423.8M423.3 92.5V97.7M416.9 96.4H423.3M441.1 100.3H445.1M441.1 100.6H443.2M441.1 100.3V100.6M440.2 100.5H441.1M440.2 101H444.4M440.2 100.5V101M437.7 100.7H440.2M437.7 101.3H444M437.7 100.7V101.3M433.1 101H437.7M433.1 101.7H448.4M433.1 101V101.7M430.8 101.4H433.1M430.8 102H441.6M430.8 101.4V102M428.3 101.7H430.8M434.4 102.4H447M440.5 102.7H440.9M441.6 103.1H448.5M441.6 103.4H444.8M441.6 103.1V103.4M440.5 103.3H441.6M440.5 102.7V103.3M437.6 103H440.5M437.6 103.8H445.8M437.6 103V103.8M434.4 103.4H437.6M434.4 102.4V103.4M428.3 102.9H434.4M428.3 101.7V102.9M416.9 102.3H428.3M416.9 96.4V102.3M406.7 100.8H416.9M415.9 106.3H453M438.3 106.7H453.4M438.3 107.1H452.9M438.3 106.7V107.1M433.5 106.9H438.3M433.5 107.4H456.1M433.5 106.9V107.4M427.3 107.2H433.5M427.3 107.8H454.7M427.3 107.2V107.8M415.9 107.5H427.3M415.9 106.3V107.5M409.3 106.9H415.9M409.3 108.2H449.4M409.3 106.9V108.2M406.7 107.6H409.3M406.7 100.8V107.6M396.3 105.9H406.7M441.5 110H461.4M441.5 110.4H460.4M441.5 110V110.4M439 110.2H441.5M439 110.8H461.2M439 110.2V110.8M431.3 110.5H439M436.8 111.1H458.6M447.3 111.5H462.1M454 111.8H461.7M454 112.2H460.9M454 111.8V112.2M453.5 112H454M453.5 112.6H459.7M453.5 112V112.6M451.7 112.3H453.5M451.7 112.9H462.3M451.7 112.3V112.9M450.7 112.6H451.7M450.7 113.3H460.5M450.7 112.6V113.3M447.3 113H450.7M447.3 111.5V113M443.5 112.2H447.3M443.5 113.7H458.8M443.5 112.2V113.7M436.8 112.9H443.5M436.8 111.1V112.9M431.3 112H436.8M431.3 110.5V112M396.3 111.3H431.3M396.3 105.9V111.3M391.4 109.9H396.3M436.8 115.7H455.4M444.8 116.1H459.5M444.8 116.4H458.1M444.8 116.1V116.4M443.4 116.2H444.8M443.4 116.7H455.2M443.4 116.2V116.7M441.7 116.5H443.4M441.7 117.1H455.5M441.7 116.5V117.1M436.8 116.8H441.7M436.8 115.7V116.8M428 116.3H436.8M439.5 117.4H456.9M439.5 117.8H458.5M439.5 117.4V117.8M436 117.6H439.5M436 118.1H456.6M436 117.6V118.1M428 117.9H436M428 116.3V117.9M391.4 117.1H428M391.4 109.9V117.1M385.8 115.3H391.4M441.1 120.4H452M443.1 120.7H451M443.1 120.9H446.7M443.1 120.7V120.9M441.1 120.8H443.1M441.1 120.4V120.8M438.1 120.6H441.1M446 121.1H456.5M446 121.4H456.8M446 121.1V121.4M444 121.3H446M446.8 121.6H455M447.4 121.9H452.6M447.4 122.1H455.1M447.4 121.9V122.1M446.8 122H447.4M446.8 121.6V122M444 121.8H446.8M444 121.3V121.8M442.8 121.5H444M442.8 122.3H455M442.8 121.5V122.3M441.5 121.9H442.8M441.5 122.6H454.5M441.5 121.9V122.6M438.1 122.2H441.5M438.1 120.6V122.2M435.7 121.4H438.1M440.3 122.8H451.2M446.1 123H455.2M446.1 123.3H447.9M446.1 123V123.3M443.7 123.2H446.1M443.7 123.5H451.4M443.7 123.2V123.5M443 123.3H443.7M443 123.7H452.8M443 123.3V123.7M440.3 123.5H443M440.3 122.8V123.5M435.7 123.2H440.3M435.7 121.4V123.2M385.8 122.3H435.7M385.8 115.3V122.3M383.5 120.5H385.8M383.5 125.3H450.8M383.5 120.5V125.3M381.6 124.1H383.5M381.6 126.4H453.3M381.6 124.1V126.4M356.7 125.9H381.6M437.3 127.7H452.2M441.9 127.9H451.4M444.6 128.2H449.6M444.6 128.5H452M444.6 128.2V128.5M441.9 128.3H444.6M441.9 127.9V128.3M438.9 128.1H441.9M438.9 128.7H450.7M438.9 128.1V128.7M437.3 128.4H438.9M437.3 127.7V128.4M434.6 128H437.3M443.3 129H451M445.1 129.3H448.5M445.1 129.5H450M445.1 129.3V129.5M443.3 129.4H445.1M443.3 129V129.4M441.6 129.2H443.3M441.6 129.8H450.5M441.6 129.2V129.8M437.7 129.5H441.6M437.7 130H449.9M437.7 129.5V130M434.6 129.8H437.7M434.6 128V129.8M356.7 128.9H434.6M356.7 125.9V128.9M331.2 128.1H356.7M396.5 130.9H444M396.5 131.3H444.6M396.5 130.9V131.3M331.2 131.1H396.5M331.2 128.1V131.1M321.5 130.4H331.2M445.1 133.2H468M445.1 133.6H467.9M445.1 133.2V133.6M438.6 133.4H445.1M452.1 133.9H462.9M453.8 134.3H466M454.6 134.7H464.9M454.6 135H466M454.6 134.7V135M453.8 134.9H454.6M453.8 134.3V134.9M452.1 134.6H453.8M452.1 133.9V134.6M449.5 134.3H452.1M449.5 135.4H465.9M449.5 134.3V135.4M442.2 134.8H449.5M442.2 135.8H464.8M442.2 134.8V135.8M438.6 135.3H442.2M438.6 133.4V135.3M438.1 134.3H438.6M449.3 138H459.4M449.3 138.2H461.2M449.3 138V138.2M446.9 138.1H449.3M446.9 138.5H462.8M446.9 138.1V138.5M444.9 138.3H446.9M446.9 138.7H462.6M456.3 139H462.4M456.3 139.2H462.9M456.3 139V139.2M453.1 139.1H456.3M453.7 139.4H461.6M453.7 139.7H464.4M453.7 139.4V139.7M453.1 139.6H453.7M453.1 139.1V139.6M450.6 139.3H453.1M451.4 139.9H461.8M455 140.2H462.3M455 140.4H463.6M455 140.2V140.4M451.4 140.3H455M451.4 139.9V140.3M450.6 140.1H451.4M450.6 139.3V140.1M446.9 139.7H450.6M446.9 138.7V139.7M444.9 139.2H446.9M444.9 138.3V139.2M438.6 138.8H444.9M438.6 140.6H462M438.6 138.8V140.6M438.1 139.7H438.6M438.1 134.3V139.7M435.9 138.4H438.1M448.8 142.9H460.6M448.8 143.2H459.1M448.8 142.9V143.2M442.2 143H448.8M442.2 143.6H460.5M442.2 143V143.6M438.9 143.3H442.2M438.9 143.9H452.8M438.9 143.3V143.9M436.4 143.6H438.9M436.4 144.3H455.9M436.4 143.6V144.3M435.9 143.9H436.4M435.9 138.4V143.9M433.9 142.5H435.9M438.1 146.6H462.4M444.2 147H465.3M444.2 147.4H468.5M444.2 147V147.4M438.1 147.2H444.2M438.1 146.6V147.2M434.5 146.9H438.1M434.5 147.7H465.1M434.5 146.9V147.7M433.9 147.3H434.5M433.9 142.5V147.3M432.4 146.1H433.9M455.4 148.7H469.8M456.5 149H467.7M456.5 149.4H466.5M456.5 149V149.4M455.4 149.2H456.5M455.4 148.7V149.2M450.3 148.9H455.4M453.1 149.7H469.1M453.1 150H468.5M453.1 149.7V150M451.9 149.9H453.1M451.9 150.4H466.4M451.9 149.9V150.4M450.3 150.1H451.9M450.3 148.9V150.1M432.4 149.5H450.3M432.4 146.1V149.5M431.6 148.7H432.4M439.7 151.4H463.4M439.7 151.8H459.1M439.7 151.4V151.8M437.9 151.6H439.7M437.9 152.2H461.9M437.9 151.6V152.2M431.6 151.9H437.9M431.6 148.7V151.9M429.8 151.1H431.6M440.4 154.4H465.9M446.6 154.8H468.3M451.4 155.2H468.5M455.4 155.5H464.8M455.4 155.9H468.1M455.4 155.5V155.9M451.4 155.7H455.4M451.4 155.2V155.7M446.6 155.5H451.4M446.6 154.8V155.5M440.4 155.1H446.6M440.4 154.4V155.1M437.2 154.8H440.4M437.2 156.3H467.4M437.2 154.8V156.3M434.5 155.5H437.2M434.5 156.7H467.6M434.5 155.5V156.7M429.8 156.1H434.5M429.8 151.1V156.1M428.8 154.8H429.8M450.7 157.6H467.4M458.7 157.8H461.9M458.7 158.1H467.4M458.7 157.8V158.1M457.4 158H458.7M457.4 158.4H463.3M457.4 158V158.4M454.9 158.2H457.4M454.9 158.6H463.2M454.9 158.2V158.6M450.7 158.4H454.9M450.7 157.6V158.4M444.8 158H450.7M451.5 158.9H467.4M454.4 159.1H463.6M454.4 159.4H463M454.4 159.1V159.4M451.5 159.2H454.4M451.5 158.9V159.2M444.8 159H451.5M444.8 158V159M428.8 158.5H444.8M428.8 154.8V158.5M425.6 157.6H428.8M427.7 161.3H455.5M427.7 161.6H457.2M427.7 161.3V161.6M426.1 161.5H427.7M435 161.8H457.3M447.2 162.1H454.3M448.5 162.4H457.7M448.5 162.6H452.5M448.5 162.4V162.6M447.2 162.5H448.5M447.2 162.1V162.5M445.7 162.3H447.2M445.7 162.9H455.8M445.7 162.3V162.9M441.2 162.6H445.7M441.2 163.1H456.2M441.2 162.6V163.1M435 162.9H441.2M435 161.8V162.9M430.3 162.4H435M438 163.4H456.6M438 163.6H457.2M438 163.4V163.6M430.3 163.5H438M430.3 162.4V163.5M426.1 162.9H430.3M426.1 161.5V162.9M425.6 162.2H426.1M425.6 157.6V162.2M422.8 161H425.6M436.3 165.7H457.1M436.3 166.1H455.7M436.3 165.7V166.1M433.3 165.9H436.3M433.3 166.4H459.1M433.3 165.9V166.4M426.8 166.1H433.3M426.8 166.7H451.4M426.8 166.1V166.7M423.3 166.4H426.8M423.3 167.1H459.3M423.3 166.4V167.1M422.8 166.8H423.3M422.8 161V166.8M419 165.3H422.8M427.5 168.4H452.9M436.6 168.7H458.1M436.6 169H455.7M436.6 168.7V169M427.5 168.9H436.6M427.5 168.4V168.9M423.9 168.6H427.5M443.2 169.3H454.1M445 169.6H455.6M445 170H457.8M445 169.6V170M443.2 169.8H445M443.2 169.3V169.8M441 169.6H443.2M441 170.3H457.8M441 169.6V170.3M437.1 169.9H441M437.1 170.6H449.8M437.1 169.9V170.6M430.5 170.3H437.1M430.5 170.9H450.5M430.5 170.3V170.9M423.9 170.6H430.5M423.9 168.6V170.6M419.5 169.6H423.9M426.8 171.2H454.3M426.8 171.5H452.3M426.8 171.2V171.5M419.5 171.4H426.8M419.5 169.6V171.4M419 170.5H419.5M419 165.3V170.5M416.5 169.2H419M426.7 172.4H458.6M435.3 172.7H459.4M437.4 172.9H459.3M437.4 173.2H460.1M437.4 172.9V173.2M435.3 173.1H437.4M435.3 172.7V173.1M426.7 172.9H435.3M426.7 172.4V172.9M417 172.6H426.7M421.2 173.5H457.9M432.4 173.7H459.9M432.4 174H455.6M432.4 173.7V174M421.2 173.9H432.4M421.2 173.5V173.9M417 173.7H421.2M417 172.6V173.7M416.5 173.2H417M416.5 169.2V173.2M411.9 172.2H416.5M441.9 176.4H464.7M456.2 176.9H464.2M456.2 177.3H462M456.2 176.9V177.3M451.7 177.1H456.2M451.7 177.7H462.9M451.7 177.1V177.7M447.8 177.4H451.7M452.9 178.2H463.6M452.9 178.6H464.1M452.9 178.2V178.6M447.8 178.4H452.9M447.8 177.4V178.4M441.9 177.9H447.8M441.9 176.4V177.9M411.9 177.2H441.9M411.9 172.2V177.2M397.8 175.9H411.9M397.8 180.8H461.8M397.8 175.9V180.8M373.5 179.6H397.8M373.5 182.3H464.2M373.5 179.6V182.3M335.2 181.6H373.5M430.7 183.4H461M430.7 183.8H462.8M430.7 183.4V183.8M335.2 183.6H430.7M335.2 181.6V183.6M321.5 183.1H335.2M322.5 79.5V106.5M321.5 106.5H322.5M321.5 106.5V183.1M321.5 106.5V130.4M319.2 145V186.3M319.2 145H321.5M318 164V187.3M318 164H319.2M319.2 186.3H460M318 187.3H470" stroke="#a4a4a4" stroke-width="0.45" fill="none"/>
<path d="M465.1 37.3a1.2 1.2 0 1 0 2.4 0a1.2 1.2 0 1 0 -2.4 0M466.4 37.3a1.2 1.2 0 1 0 2.4 0a1.2 1.2 0 1 0 -2.4 0M445.4 55.2a1.2 1.2 0 1 0 2.4 0a1.2 1.2 0 1 0 -2.4 0M449.8 55.5a1.2 1.2 0 1 0 2.4 0a1.2 1.2 0 1 0 -2.4 0M449.8 57.8a1.2 1.2 0 1 0 2.4 0a1.2 1.2 0 1 0 -2.4 0M445.4 77a1.2 1.2 0 1 0 2.4 0a1.2 1.2 0 1 0 -2.4 0M407 132.9a1.2 1.2 0 1 0 2.4 0a1.2 1.2 0 1 0 -2.4 0M411.6 132.9a1.2 1.2 0 1 0 2.4 0a1.2 1.2 0 1 0 -2.4 0M443.8 176.1a1.2 1.2 0 1 0 2.4 0a1.2 1.2 0 1 0 -2.4 0M445.5 183.7a1.2 1.2 0 1 0 2.4 0a1.2 1.2 0 1 0 -2.4 0M459.5 182a1.2 1.2 0 1 0 2.4 0a1.2 1.2 0 1 0 -2.4 0M433.8 184.3a1.2 1.2 0 1 0 2.4 0a1.2 1.2 0 1 0 -2.4 0M425.7 183.7a1.2 1.2 0 1 0 2.4 0a1.2 1.2 0 1 0 -2.4 0M446.1 187.2a1.2 1.2 0 1 0 2.4 0a1.2 1.2 0 1 0 -2.4 0M398.8 183.2a1.2 1.2 0 1 0 2.4 0a1.2 1.2 0 1 0 -2.4 0M407.3 183.5a1.2 1.2 0 1 0 2.4 0a1.2 1.2 0 1 0 -2.4 0M411.4 183.5a1.2 1.2 0 1 0 2.4 0a1.2 1.2 0 1 0 -2.4 0M464.2 133.5a1.2 1.2 0 1 0 2.4 0a1.2 1.2 0 1 0 -2.4 0M464.8 141.5a1.2 1.2 0 1 0 2.4 0a1.2 1.2 0 1 0 -2.4 0M468.3 141.5a1.2 1.2 0 1 0 2.4 0a1.2 1.2 0 1 0 -2.4 0M458.8 156.5a1.2 1.2 0 1 0 2.4 0a1.2 1.2 0 1 0 -2.4 0M357.8 184a1.2 1.2 0 1 0 2.4 0a1.2 1.2 0 1 0 -2.4 0M378.8 184a1.2 1.2 0 1 0 2.4 0a1.2 1.2 0 1 0 -2.4 0M389.8 184a1.2 1.2 0 1 0 2.4 0a1.2 1.2 0 1 0 -2.4 0M391.8 184a1.2 1.2 0 1 0 2.4 0a1.2 1.2 0 1 0 -2.4 0M431.3 136.7a1.2 1.2 0 1 0 2.4 0a1.2 1.2 0 1 0 -2.4 0M433.6 137.1a1.2 1.2 0 1 0 2.4 0a1.2 1.2 0 1 0 -2.4 0M435.4 137.2a1.2 1.2 0 1 0 2.4 0a1.2 1.2 0 1 0 -2.4 0M436.9 137.3a1.2 1.2 0 1 0 2.4 0a1.2 1.2 0 1 0 -2.4 0M439.2 136.9a1.2 1.2 0 1 0 2.4 0a1.2 1.2 0 1 0 -2.4 0M433.8 139a1.2 1.2 0 1 0 2.4 0a1.2 1.2 0 1 0 -2.4 0M435.5 139.2a1.2 1.2 0 1 0 2.4 0a1.2 1.2 0 1 0 -2.4 0M437.7 138.8a1.2 1.2 0 1 0 2.4 0a1.2 1.2 0 1 0 -2.4 0M439.4 139.2a1.2 1.2 0 1 0 2.4 0a1.2 1.2 0 1 0 -2.4 0M431.2 140.9a1.2 1.2 0 1 0 2.4 0a1.2 1.2 0 1 0 -2.4 0M432.9 140.9a1.2 1.2 0 1 0 2.4 0a1.2 1.2 0 1 0 -2.4 0M435 140.5a1.2 1.2 0 1 0 2.4 0a1.2 1.2 0 1 0 -2.4 0M437.1 141.1a1.2 1.2 0 1 0 2.4 0a1.2 1.2 0 1 0 -2.4 0M438.7 140.8a1.2 1.2 0 1 0 2.4 0a1.2 1.2 0 1 0 -2.4 0M457.2 134.3a1.2 1.2 0 1 0 2.4 0a1.2 1.2 0 1 0 -2.4 0M452.6 136.2a1.2 1.2 0 1 0 2.4 0a1.2 1.2 0 1 0 -2.4 0M454.5 135.7a1.2 1.2 0 1 0 2.4 0a1.2 1.2 0 1 0 -2.4 0M456.6 135.6a1.2 1.2 0 1 0 2.4 0a1.2 1.2 0 1 0 -2.4 0M454 139.5a1.2 1.2 0 1 0 2.4 0a1.2 1.2 0 1 0 -2.4 0M432.9 142.9a1.2 1.2 0 1 0 2.4 0a1.2 1.2 0 1 0 -2.4 0M435.1 142.8a1.2 1.2 0 1 0 2.4 0a1.2 1.2 0 1 0 -2.4 0M437.3 142.8a1.2 1.2 0 1 0 2.4 0a1.2 1.2 0 1 0 -2.4 0M439.2 142.5a1.2 1.2 0 1 0 2.4 0a1.2 1.2 0 1 0 -2.4 0M440.6 142.9a1.2 1.2 0 1 0 2.4 0a1.2 1.2 0 1 0 -2.4 0M442.7 143a1.2 1.2 0 1 0 2.4 0a1.2 1.2 0 1 0 -2.4 0M444.3 142.9a1.2 1.2 0 1 0 2.4 0a1.2 1.2 0 1 0 -2.4 0M431.7 144.8a1.2 1.2 0 1 0 2.4 0a1.2 1.2 0 1 0 -2.4 0M433.8 144.7a1.2 1.2 0 1 0 2.4 0a1.2 1.2 0 1 0 -2.4 0M435.8 144.8a1.2 1.2 0 1 0 2.4 0a1.2 1.2 0 1 0 -2.4 0M437.3 144.5a1.2 1.2 0 1 0 2.4 0a1.2 1.2 0 1 0 -2.4 0M439.2 144.7a1.2 1.2 0 1 0 2.4 0a1.2 1.2 0 1 0 -2.4 0M441.2 144.5a1.2 1.2 0 1 0 2.4 0a1.2 1.2 0 1 0 -2.4 0M443.5 144.8a1.2 1.2 0 1 0 2.4 0a1.2 1.2 0 1 0 -2.4 0M445 144.6a1.2 1.2 0 1 0 2.4 0a1.2 1.2 0 1 0 -2.4 0M432.3 146.6a1.2 1.2 0 1 0 2.4 0a1.2 1.2 0 1 0 -2.4 0M434.4 146.3a1.2 1.2 0 1 0 2.4 0a1.2 1.2 0 1 0 -2.4 0M436.2 146.9a1.2 1.2 0 1 0 2.4 0a1.2 1.2 0 1 0 -2.4 0M438.3 146.9a1.2 1.2 0 1 0 2.4 0a1.2 1.2 0 1 0 -2.4 0M440.2 146.8a1.2 1.2 0 1 0 2.4 0a1.2 1.2 0 1 0 -2.4 0M442.4 146.6a1.2 1.2 0 1 0 2.4 0a1.2 1.2 0 1 0 -2.4 0M443.8 146.9a1.2 1.2 0 1 0 2.4 0a1.2 1.2 0 1 0 -2.4 0M431.4 148.7a1.2 1.2 0 1 0 2.4 0a1.2 1.2 0 1 0 -2.4 0M433.6 148.5a1.2 1.2 0 1 0 2.4 0a1.2 1.2 0 1 0 -2.4 0M435.2 148.5a1.2 1.2 0 1 0 2.4 0a1.2 1.2 0 1 0 -2.4 0M437 148.4a1.2 1.2 0 1 0 2.4 0a1.2 1.2 0 1 0 -2.4 0M439.4 148.6a1.2 1.2 0 1 0 2.4 0a1.2 1.2 0 1 0 -2.4 0M441 148.5a1.2 1.2 0 1 0 2.4 0a1.2 1.2 0 1 0 -2.4 0M442.9 148.3a1.2 1.2 0 1 0 2.4 0a1.2 1.2 0 1 0 -2.4 0M445.2 148.3a1.2 1.2 0 1 0 2.4 0a1.2 1.2 0 1 0 -2.4 0M445.5 142.4a1.2 1.2 0 1 0 2.4 0a1.2 1.2 0 1 0 -2.4 0M450.4 142.3a1.2 1.2 0 1 0 2.4 0a1.2 1.2 0 1 0 -2.4 0M455.2 142.3a1.2 1.2 0 1 0 2.4 0a1.2 1.2 0 1 0 -2.4 0M457.8 142.3a1.2 1.2 0 1 0 2.4 0a1.2 1.2 0 1 0 -2.4 0M462.6 142.4a1.2 1.2 0 1 0 2.4 0a1.2 1.2 0 1 0 -2.4 0M464.5 142.5a1.2 1.2 0 1 0 2.4 0a1.2 1.2 0 1 0 -2.4 0M452.7 144.7a1.2 1.2 0 1 0 2.4 0a1.2 1.2 0 1 0 -2.4 0M455 144.6a1.2 1.2 0 1 0 2.4 0a1.2 1.2 0 1 0 -2.4 0M434.6 156.6a1.2 1.2 0 1 0 2.4 0a1.2 1.2 0 1 0 -2.4 0M439 156.4a1.2 1.2 0 1 0 2.4 0a1.2 1.2 0 1 0 -2.4 0M440.4 156.3a1.2 1.2 0 1 0 2.4 0a1.2 1.2 0 1 0 -2.4 0M442.8 156.6a1.2 1.2 0 1 0 2.4 0a1.2 1.2 0 1 0 -2.4 0M444.4 156.2a1.2 1.2 0 1 0 2.4 0a1.2 1.2 0 1 0 -2.4 0M446 156.4a1.2 1.2 0 1 0 2.4 0a1.2 1.2 0 1 0 -2.4 0M448.1 156.6a1.2 1.2 0 1 0 2.4 0a1.2 1.2 0 1 0 -2.4 0M450.3 156.3a1.2 1.2 0 1 0 2.4 0a1.2 1.2 0 1 0 -2.4 0M452.3 156a1.2 1.2 0 1 0 2.4 0a1.2 1.2 0 1 0 -2.4 0M453.8 156.2a1.2 1.2 0 1 0 2.4 0a1.2 1.2 0 1 0 -2.4 0M435.4 158.4a1.2 1.2 0 1 0 2.4 0a1.2 1.2 0 1 0 -2.4 0M437.5 158.4a1.2 1.2 0 1 0 2.4 0a1.2 1.2 0 1 0 -2.4 0M440.8 158.2a1.2 1.2 0 1 0 2.4 0a1.2 1.2 0 1 0 -2.4 0M443.3 158.3a1.2 1.2 0 1 0 2.4 0a1.2 1.2 0 1 0 -2.4 0M447 158.2a1.2 1.2 0 1 0 2.4 0a1.2 1.2 0 1 0 -2.4 0M449 158.5a1.2 1.2 0 1 0 2.4 0a1.2 1.2 0 1 0 -2.4 0M450.9 158a1.2 1.2 0 1 0 2.4 0a1.2 1.2 0 1 0 -2.4 0M452.7 158.3a1.2 1.2 0 1 0 2.4 0a1.2 1.2 0 1 0 -2.4 0M454.3 158.5a1.2 1.2 0 1 0 2.4 0a1.2 1.2 0 1 0 -2.4 0M435.4 160.4a1.2 1.2 0 1 0 2.4 0a1.2 1.2 0 1 0 -2.4 0M437.3 160a1.2 1.2 0 1 0 2.4 0a1.2 1.2 0 1 0 -2.4 0M438.8 160.1a1.2 1.2 0 1 0 2.4 0a1.2 1.2 0 1 0 -2.4 0M441.3 159.8a1.2 1.2 0 1 0 2.4 0a1.2 1.2 0 1 0 -2.4 0M442.8 160.2a1.2 1.2 0 1 0 2.4 0a1.2 1.2 0 1 0 -2.4 0M445 160a1.2 1.2 0 1 0 2.4 0a1.2 1.2 0 1 0 -2.4 0M446.8 160.2a1.2 1.2 0 1 0 2.4 0a1.2 1.2 0 1 0 -2.4 0M450.2 160.3a1.2 1.2 0 1 0 2.4 0a1.2 1.2 0 1 0 -2.4 0M454.1 160.1a1.2 1.2 0 1 0 2.4 0a1.2 1.2 0 1 0 -2.4 0M431.2 160.7a1.2 1.2 0 1 0 2.4 0a1.2 1.2 0 1 0 -2.4 0M432.9 160.6a1.2 1.2 0 1 0 2.4 0a1.2 1.2 0 1 0 -2.4 0M438.7 160.4a1.2 1.2 0 1 0 2.4 0a1.2 1.2 0 1 0 -2.4 0M440.2 160.1a1.2 1.2 0 1 0 2.4 0a1.2 1.2 0 1 0 -2.4 0M442.2 160.3a1.2 1.2 0 1 0 2.4 0a1.2 1.2 0 1 0 -2.4 0M431.8 162.3a1.2 1.2 0 1 0 2.4 0a1.2 1.2 0 1 0 -2.4 0M434 162.6a1.2 1.2 0 1 0 2.4 0a1.2 1.2 0 1 0 -2.4 0M435.7 162.1a1.2 1.2 0 1 0 2.4 0a1.2 1.2 0 1 0 -2.4 0M437.5 162.3a1.2 1.2 0 1 0 2.4 0a1.2 1.2 0 1 0 -2.4 0M430.7 164.5a1.2 1.2 0 1 0 2.4 0a1.2 1.2 0 1 0 -2.4 0M432.8 164.1a1.2 1.2 0 1 0 2.4 0a1.2 1.2 0 1 0 -2.4 0M437 164.2a1.2 1.2 0 1 0 2.4 0a1.2 1.2 0 1 0 -2.4 0M438.6 164.3a1.2 1.2 0 1 0 2.4 0a1.2 1.2 0 1 0 -2.4 0M440.4 164.1a1.2 1.2 0 1 0 2.4 0a1.2 1.2 0 1 0 -2.4 0M442.7 164.3a1.2 1.2 0 1 0 2.4 0a1.2 1.2 0 1 0 -2.4 0M433.1 166.1a1.2 1.2 0 1 0 2.4 0a1.2 1.2 0 1 0 -2.4 0M435.4 166.3a1.2 1.2 0 1 0 2.4 0a1.2 1.2 0 1 0 -2.4 0M439.2 166a1.2 1.2 0 1 0 2.4 0a1.2 1.2 0 1 0 -2.4 0M443.1 166a1.2 1.2 0 1 0 2.4 0a1.2 1.2 0 1 0 -2.4 0M419.1 164.7a1.2 1.2 0 1 0 2.4 0a1.2 1.2 0 1 0 -2.4 0M420.9 165.2a1.2 1.2 0 1 0 2.4 0a1.2 1.2 0 1 0 -2.4 0M423.1 165.1a1.2 1.2 0 1 0 2.4 0a1.2 1.2 0 1 0 -2.4 0M424.8 165.3a1.2 1.2 0 1 0 2.4 0a1.2 1.2 0 1 0 -2.4 0M426.7 165.2a1.2 1.2 0 1 0 2.4 0a1.2 1.2 0 1 0 -2.4 0M428.8 164.9a1.2 1.2 0 1 0 2.4 0a1.2 1.2 0 1 0 -2.4 0M430.8 165.1a1.2 1.2 0 1 0 2.4 0a1.2 1.2 0 1 0 -2.4 0M432.2 164.9a1.2 1.2 0 1 0 2.4 0a1.2 1.2 0 1 0 -2.4 0M434.4 164.9a1.2 1.2 0 1 0 2.4 0a1.2 1.2 0 1 0 -2.4 0M436.4 165.1a1.2 1.2 0 1 0 2.4 0a1.2 1.2 0 1 0 -2.4 0M420.3 166.6a1.2 1.2 0 1 0 2.4 0a1.2 1.2 0 1 0 -2.4 0M421.8 167.1a1.2 1.2 0 1 0 2.4 0a1.2 1.2 0 1 0 -2.4 0M424 166.7a1.2 1.2 0 1 0 2.4 0a1.2 1.2 0 1 0 -2.4 0M425.6 166.6a1.2 1.2 0 1 0 2.4 0a1.2 1.2 0 1 0 -2.4 0M427.8 167.1a1.2 1.2 0 1 0 2.4 0a1.2 1.2 0 1 0 -2.4 0M430 166.9a1.2 1.2 0 1 0 2.4 0a1.2 1.2 0 1 0 -2.4 0M431.9 167a1.2 1.2 0 1 0 2.4 0a1.2 1.2 0 1 0 -2.4 0M433.2 166.8a1.2 1.2 0 1 0 2.4 0a1.2 1.2 0 1 0 -2.4 0M435.6 167.2a1.2 1.2 0 1 0 2.4 0a1.2 1.2 0 1 0 -2.4 0M437.5 166.7a1.2 1.2 0 1 0 2.4 0a1.2 1.2 0 1 0 -2.4 0M420.8 168.5a1.2 1.2 0 1 0 2.4 0a1.2 1.2 0 1 0 -2.4 0M422.3 169a1.2 1.2 0 1 0 2.4 0a1.2 1.2 0 1 0 -2.4 0M424.6 169.1a1.2 1.2 0 1 0 2.4 0a1.2 1.2 0 1 0 -2.4 0M426.3 169.1a1.2 1.2 0 1 0 2.4 0a1.2 1.2 0 1 0 -2.4 0M429.9 168.8a1.2 1.2 0 1 0 2.4 0a1.2 1.2 0 1 0 -2.4 0M432.2 169.1a1.2 1.2 0 1 0 2.4 0a1.2 1.2 0 1 0 -2.4 0M433.8 168.6a1.2 1.2 0 1 0 2.4 0a1.2 1.2 0 1 0 -2.4 0M436 168.8a1.2 1.2 0 1 0 2.4 0a1.2 1.2 0 1 0 -2.4 0M418.6 170.8a1.2 1.2 0 1 0 2.4 0a1.2 1.2 0 1 0 -2.4 0M420.4 170.6a1.2 1.2 0 1 0 2.4 0a1.2 1.2 0 1 0 -2.4 0M422.6 170.5a1.2 1.2 0 1 0 2.4 0a1.2 1.2 0 1 0 -2.4 0M424.1 170.6a1.2 1.2 0 1 0 2.4 0a1.2 1.2 0 1 0 -2.4 0M426.5 170.6a1.2 1.2 0 1 0 2.4 0a1.2 1.2 0 1 0 -2.4 0M428.1 170.6a1.2 1.2 0 1 0 2.4 0a1.2 1.2 0 1 0 -2.4 0M429.8 170.6a1.2 1.2 0 1 0 2.4 0a1.2 1.2 0 1 0 -2.4 0M432.2 170.4a1.2 1.2 0 1 0 2.4 0a1.2 1.2 0 1 0 -2.4 0M433.9 170.7a1.2 1.2 0 1 0 2.4 0a1.2 1.2 0 1 0 -2.4 0M435.9 170.6a1.2 1.2 0 1 0 2.4 0a1.2 1.2 0 1 0 -2.4 0M418.9 172.3a1.2 1.2 0 1 0 2.4 0a1.2 1.2 0 1 0 -2.4 0M420.7 172.3a1.2 1.2 0 1 0 2.4 0a1.2 1.2 0 1 0 -2.4 0M422.8 172.5a1.2 1.2 0 1 0 2.4 0a1.2 1.2 0 1 0 -2.4 0M426.3 172.9a1.2 1.2 0 1 0 2.4 0a1.2 1.2 0 1 0 -2.4 0M428.1 172.8a1.2 1.2 0 1 0 2.4 0a1.2 1.2 0 1 0 -2.4 0M430.1 172.6a1.2 1.2 0 1 0 2.4 0a1.2 1.2 0 1 0 -2.4 0M432.1 172.9a1.2 1.2 0 1 0 2.4 0a1.2 1.2 0 1 0 -2.4 0M434.1 172.7a1.2 1.2 0 1 0 2.4 0a1.2 1.2 0 1 0 -2.4 0M436.1 172.5a1.2 1.2 0 1 0 2.4 0a1.2 1.2 0 1 0 -2.4 0M419.6 174.5a1.2 1.2 0 1 0 2.4 0a1.2 1.2 0 1 0 -2.4 0M421.9 174.3a1.2 1.2 0 1 0 2.4 0a1.2 1.2 0 1 0 -2.4 0M423.9 174.3a1.2 1.2 0 1 0 2.4 0a1.2 1.2 0 1 0 -2.4 0M425.8 174.6a1.2 1.2 0 1 0 2.4 0a1.2 1.2 0 1 0 -2.4 0M427.3 174.2a1.2 1.2 0 1 0 2.4 0a1.2 1.2 0 1 0 -2.4 0M429.2 174.8a1.2 1.2 0 1 0 2.4 0a1.2 1.2 0 1 0 -2.4 0M431.3 174.7a1.2 1.2 0 1 0 2.4 0a1.2 1.2 0 1 0 -2.4 0M433 174.4a1.2 1.2 0 1 0 2.4 0a1.2 1.2 0 1 0 -2.4 0M435.3 174.6a1.2 1.2 0 1 0 2.4 0a1.2 1.2 0 1 0 -2.4 0M437 174.5a1.2 1.2 0 1 0 2.4 0a1.2 1.2 0 1 0 -2.4 0M419.9 176.7a1.2 1.2 0 1 0 2.4 0a1.2 1.2 0 1 0 -2.4 0M421.2 176.3a1.2 1.2 0 1 0 2.4 0a1.2 1.2 0 1 0 -2.4 0M423.7 176.4a1.2 1.2 0 1 0 2.4 0a1.2 1.2 0 1 0 -2.4 0M425.7 176.2a1.2 1.2 0 1 0 2.4 0a1.2 1.2 0 1 0 -2.4 0M427.3 176.1a1.2 1.2 0 1 0 2.4 0a1.2 1.2 0 1 0 -2.4 0M429.2 176.2a1.2 1.2 0 1 0 2.4 0a1.2 1.2 0 1 0 -2.4 0M430.9 176.5a1.2 1.2 0 1 0 2.4 0a1.2 1.2 0 1 0 -2.4 0M432.7 176.7a1.2 1.2 0 1 0 2.4 0a1.2 1.2 0 1 0 -2.4 0M434.7 176.5a1.2 1.2 0 1 0 2.4 0a1.2 1.2 0 1 0 -2.4 0M437.1 176.5a1.2 1.2 0 1 0 2.4 0a1.2 1.2 0 1 0 -2.4 0M420.7 178a1.2 1.2 0 1 0 2.4 0a1.2 1.2 0 1 0 -2.4 0M424 178.4a1.2 1.2 0 1 0 2.4 0a1.2 1.2 0 1 0 -2.4 0M426.2 178.4a1.2 1.2 0 1 0 2.4 0a1.2 1.2 0 1 0 -2.4 0M428.3 178a1.2 1.2 0 1 0 2.4 0a1.2 1.2 0 1 0 -2.4 0M432.2 178.3a1.2 1.2 0 1 0 2.4 0a1.2 1.2 0 1 0 -2.4 0M433.9 178.2a1.2 1.2 0 1 0 2.4 0a1.2 1.2 0 1 0 -2.4 0M435.4 178.2a1.2 1.2 0 1 0 2.4 0a1.2 1.2 0 1 0 -2.4 0M419.2 180.2a1.2 1.2 0 1 0 2.4 0a1.2 1.2 0 1 0 -2.4 0M421.4 180.4a1.2 1.2 0 1 0 2.4 0a1.2 1.2 0 1 0 -2.4 0M422.9 180a1.2 1.2 0 1 0 2.4 0a1.2 1.2 0 1 0 -2.4 0M424.9 180.4a1.2 1.2 0 1 0 2.4 0a1.2 1.2 0 1 0 -2.4 0M426.8 180a1.2 1.2 0 1 0 2.4 0a1.2 1.2 0 1 0 -2.4 0M428.7 180.5a1.2 1.2 0 1 0 2.4 0a1.2 1.2 0 1 0 -2.4 0M432.5 180.4a1.2 1.2 0 1 0 2.4 0a1.2 1.2 0 1 0 -2.4 0M434.6 180.5a1.2 1.2 0 1 0 2.4 0a1.2 1.2 0 1 0 -2.4 0M436.3 180a1.2 1.2 0 1 0 2.4 0a1.2 1.2 0 1 0 -2.4 0M421.6 182.4a1.2 1.2 0 1 0 2.4 0a1.2 1.2 0 1 0 -2.4 0M423.2 182.2a1.2 1.2 0 1 0 2.4 0a1.2 1.2 0 1 0 -2.4 0M425.2 182.3a1.2 1.2 0 1 0 2.4 0a1.2 1.2 0 1 0 -2.4 0M427.3 182.2a1.2 1.2 0 1 0 2.4 0a1.2 1.2 0 1 0 -2.4 0M428.9 182.3a1.2 1.2 0 1 0 2.4 0a1.2 1.2 0 1 0 -2.4 0M430.7 182a1.2 1.2 0 1 0 2.4 0a1.2 1.2 0 1 0 -2.4 0M433 182.2a1.2 1.2 0 1 0 2.4 0a1.2 1.2 0 1 0 -2.4 0M434.9 182a1.2 1.2 0 1 0 2.4 0a1.2 1.2 0 1 0 -2.4 0M436.7 182.4a1.2 1.2 0 1 0 2.4 0a1.2 1.2 0 1 0 -2.4 0" fill="#960f0a"/>
<line x1="311" y1="191.4" x2="474" y2="191.4" stroke="#9a9a9a" stroke-width="0.8"/>
<text transform="translate(318.7,201.9) rotate(-90)" font-size="4.8" fill="#333" textLength="9.3" lengthAdjust="spacingAndGlyphs">1943</text>
<text transform="translate(326.9,201.9) rotate(-90)" font-size="4.8" fill="#333" textLength="9.3" lengthAdjust="spacingAndGlyphs">1947</text>
<text transform="translate(335.1,201.9) rotate(-90)" font-size="4.8" fill="#333" textLength="9.3" lengthAdjust="spacingAndGlyphs">1951</text>
<text transform="translate(343.3,201.9) rotate(-90)" font-size="4.8" fill="#333" textLength="9.3" lengthAdjust="spacingAndGlyphs">1955</text>
<text transform="translate(351.5,201.9) rotate(-90)" font-size="4.8" fill="#333" textLength="9.3" lengthAdjust="spacingAndGlyphs">1959</text>
<text transform="translate(359.7,201.9) rotate(-90)" font-size="4.8" fill="#333" textLength="9.3" lengthAdjust="spacingAndGlyphs">1963</text>
<text transform="translate(367.9,201.9) rotate(-90)" font-size="4.8" fill="#333" textLength="9.3" lengthAdjust="spacingAndGlyphs">1967</text>
<text transform="translate(376.1,201.9) rotate(-90)" font-size="4.8" fill="#333" textLength="9.3" lengthAdjust="spacingAndGlyphs">1971</text>
<text transform="translate(384.3,201.9) rotate(-90)" font-size="4.8" fill="#333" textLength="9.3" lengthAdjust="spacingAndGlyphs">1975</text>
<text transform="translate(392.5,201.9) rotate(-90)" font-size="4.8" fill="#333" textLength="9.3" lengthAdjust="spacingAndGlyphs">1979</text>
<text transform="translate(400.7,201.9) rotate(-90)" font-size="4.8" fill="#333" textLength="9.3" lengthAdjust="spacingAndGlyphs">1983</text>
<text transform="translate(408.9,201.9) rotate(-90)" font-size="4.8" fill="#333" textLength="9.3" lengthAdjust="spacingAndGlyphs">1987</text>
<text transform="translate(417.1,201.9) rotate(-90)" font-size="4.8" fill="#333" textLength="9.3" lengthAdjust="spacingAndGlyphs">1991</text>
<text transform="translate(425.3,201.9) rotate(-90)" font-size="4.8" fill="#333" textLength="9.3" lengthAdjust="spacingAndGlyphs">1995</text>
<text transform="translate(433.5,201.9) rotate(-90)" font-size="4.8" fill="#333" textLength="9.3" lengthAdjust="spacingAndGlyphs">1999</text>
<text transform="translate(441.7,201.9) rotate(-90)" font-size="4.8" fill="#333" textLength="9.3" lengthAdjust="spacingAndGlyphs">2003</text>
<text transform="translate(449.9,201.9) rotate(-90)" font-size="4.8" fill="#333" textLength="9.3" lengthAdjust="spacingAndGlyphs">2007</text>
<text transform="translate(458.1,201.9) rotate(-90)" font-size="4.8" fill="#333" textLength="9.3" lengthAdjust="spacingAndGlyphs">2011</text>
<text transform="translate(466.3,201.9) rotate(-90)" font-size="4.8" fill="#333" textLength="9.3" lengthAdjust="spacingAndGlyphs">2015</text>
<text transform="translate(474.5,201.9) rotate(-90)" font-size="4.8" fill="#333" textLength="9.3" lengthAdjust="spacingAndGlyphs">2019</text>
<text transform="translate(482.7,201.9) rotate(-90)" font-size="4.8" fill="#333" textLength="9.3" lengthAdjust="spacingAndGlyphs">2023</text>
<path d="M317 191.4V192.7M325.2 191.4V192.7M333.4 191.4V192.7M341.6 191.4V192.7M349.8 191.4V192.7M358 191.4V192.7M366.2 191.4V192.7M374.4 191.4V192.7M382.6 191.4V192.7M390.8 191.4V192.7M399 191.4V192.7M407.2 191.4V192.7M415.4 191.4V192.7M423.6 191.4V192.7M431.8 191.4V192.7M440 191.4V192.7M448.2 191.4V192.7M456.4 191.4V192.7M464.6 191.4V192.7M472.8 191.4V192.7M481 191.4V192.7" stroke="#9a9a9a" stroke-width="0.5" fill="none"/>
<line x1="482.3" y1="23.4" x2="482.3" y2="80.5" stroke="#8fae8a" stroke-width="1.3"/>
<line x1="478.7" y1="88" x2="478.7" y2="129.8" stroke="#8fae8a" stroke-width="1.3"/>
<line x1="475.5" y1="132" x2="475.5" y2="188" stroke="#2f6b2a" stroke-width="1.4"/>
<text x="483.4" y="59.5" font-size="13" fill="#b0b0b0" textLength="21" lengthAdjust="spacingAndGlyphs">G-C</text>
<text x="479.7" y="112.7" font-size="13" fill="#b0b0b0" textLength="29.3" lengthAdjust="spacingAndGlyphs">G-AA</text>
<text x="477.4" y="163" font-size="13" fill="#000" textLength="25.3" lengthAdjust="spacingAndGlyphs">G-AI</text>
<path d="M522.4 169V172M522.4 169V169M522.4 169H549.8M549.8 167V169M549.8 167V167M549.8 167H563M563 163V167M563 163V163M563 163H574M574 146.7V163M574 146.7V146.7M574 146.7H587.4M587.4 125V146.7M587.4 125V125M587.4 125H591.4M591.4 118.6V125M591.4 118.6V118.6M591.4 118.6H600.8M600.8 117V118.6M600.8 117V117M600.8 117H615M615 105V117M615 105H618M618 95V105M618 95H622M622 85V95M622 85H626M626 72V85M626 72H629M629 55V72M629 55H631M631 26V55M631 26H632M522.4 172H651M522.4 170.5H600M549.8 168.5H640M563 166H620M633 155.2H642.7M633 155.7H643.1M633 155.2V155.7M631.9 155.5H633M637.3 156.2H647.9M637.3 156.6H649.2M637.3 156.2V156.6M631.9 156.4H637.3M631.9 155.5V156.4M628.6 155.9H631.9M628.6 157.1H651.7M628.6 155.9V157.1M625.1 156.5H628.6M637.4 157.5H647.9M639.8 158H650.5M645.6 158.5H652.5M645.6 158.9H651.3M645.6 158.5V158.9M643 158.7H645.6M643 159.4H656M643 158.7V159.4M642.2 159H643M642.2 159.8H654M642.2 159V159.8M639.8 159.4H642.2M639.8 158V159.4M637.4 158.7H639.8M637.4 157.5V158.7M631.4 158.1H637.4M634.9 160.3H656.9M639.5 160.8H651.9M641.5 161.2H654.2M641.5 161.7H646.9M641.5 161.2V161.7M639.5 161.5H641.5M639.5 160.8V161.5M634.9 161.1H639.5M634.9 160.3V161.1M631.4 160.7H634.9M631.4 158.1V160.7M629 159.4H631.4M629 162.1H651.9M629 159.4V162.1M625.1 160.8H629M625.1 156.5V160.8M615.6 158.6H625.1M632.8 163.3H637.7M632.8 163.8H639.9M632.8 163.3V163.8M630.7 163.5H632.8M630.7 164.3H640.5M630.7 163.5V164.3M627.6 163.9H630.7M632.5 164.8H638.4M632.5 165.3H638.2M632.5 164.8V165.3M630.2 165H632.5M630.2 165.8H634.3M630.2 165V165.8M627.6 165.4H630.2M627.6 163.9V165.4M615.6 164.7H627.6M615.6 158.6V164.7M574 163.1H615.6M574 160V163.1M627.7 139H638.4M627.7 139.6H637.2M627.7 139V139.6M625.9 139.3H627.7M634.9 140.3H635.3M634.9 140.9H635.7M634.9 140.3V140.9M634.4 140.6H634.9M634.4 141.5H639.1M634.4 140.6V141.5M633.3 141H634.4M633.3 142.1H638.8M633.3 141V142.1M630.6 141.6H633.3M633.4 142.8H639.2M633.4 143.4H636.2M633.4 142.8V143.4M630.6 143.1H633.4M630.6 141.6V143.1M629.4 142.3H630.6M629.4 144H642.9M629.4 142.3V144M625.9 143.2H629.4M625.9 139.3V143.2M606.2 141.3H625.9M638.8 145.8H643.7M638.8 146.2H639.2M638.8 145.8V146.2M637.6 146H638.8M637.6 146.6H641.6M637.6 146V146.6M634.5 146.3H637.6M638 147H638.5M640.5 147.4H641.7M640.5 147.8H642.3M640.5 147.4V147.8M639.8 147.6H640.5M639.8 148.2H640.4M639.8 147.6V148.2M638.9 147.9H639.8M638.9 148.6H639.3M638.9 147.9V148.6M638 148.3H638.9M638 147V148.3M637.1 147.6H638M637.1 149H642.1M637.1 147.6V149M636.9 148.3H637.1M637.8 149.4H638.2M637.8 149.8H641.3M637.8 149.4V149.8M636.9 149.6H637.8M636.9 148.3V149.6M636.4 149H636.9M637.1 150.2H640.2M637.1 150.6H637.5M637.1 150.2V150.6M636.4 150.4H637.1M636.4 149V150.4M635.4 149.7H636.4M636.6 151H639.9M636.6 151.4H638.1M636.6 151V151.4M635.4 151.2H636.6M635.4 149.7V151.2M634.5 150.5H635.4M634.5 146.3V150.5M633.8 148.4H634.5M633.8 151.8H637.6M633.8 148.4V151.8M632.1 150.1H633.8M632.1 152.2H638.1M632.1 150.1V152.2M630.6 151.2H632.1M632.1 152.6H637.8M632.1 153H634.6M632.1 152.6V153M630.6 152.8H632.1M630.6 151.2V152.8M606.2 152H630.6M606.2 141.3V152M605.6 149.3H606.2M625.1 154.1H632.8M625.1 154.6H630.7M625.1 154.1V154.6M605.6 154.3H625.1M605.6 149.3V154.3M587.4 153.1H605.6M587.4 147V153.1M630 120.2H634.5M632.2 120.6H635.6M632.2 121H632.6M632.2 120.6V121M630 120.8H632.2M630 120.2V120.8M627.9 120.5H630M627.9 121.4H635.7M627.9 120.5V121.4M626.2 121H627.9M630.2 121.8H638.3M632.4 122.2H632.8M632.4 122.6H638.7M632.4 122.2V122.6M630.2 122.4H632.4M630.2 121.8V122.4M627.9 122.1H630.2M627.9 123H636.5M627.9 122.1V123M626.2 122.6H627.9M626.2 121V122.6M625.3 121.8H626.2M629.2 123.5H631M629.2 123.9H637.8M629.2 123.5V123.9M625.3 123.7H629.2M625.3 121.8V123.7M609.6 122.7H625.3M625.2 125.4H632.2M627.3 126.1H634.2M627.3 126.7H637.1M627.3 126.1V126.7M625.2 126.4H627.3M625.2 125.4V126.4M623.2 125.9H625.2M623.2 127.4H631.3M623.2 125.9V127.4M622.5 126.6H623.2M622.5 128H632.7M622.5 126.6V128M620 127.3H622.5M620 128.7H633.3M620 127.3V128.7M609.6 128H620M609.6 122.7V128M608.6 126.7H609.6M630.7 129.6H637.4M630.7 129.9H633.1M630.7 129.6V129.9M629.4 129.7H630.7M629.4 130.3H636.8M629.4 129.7V130.3M626.6 130H629.4M629.2 130.7H632.2M629.2 131.1H630.4M629.2 130.7V131.1M626.6 130.9H629.2M626.6 130V130.9M623.7 130.4H626.6M623.7 131.4H634.2M623.7 130.4V131.4M619.9 130.9H623.7M619.9 131.8H634.5M619.9 130.9V131.8M608.6 131.4H619.9M608.6 126.7V131.4M591.4 130.2H608.6M591.4 128V130.2M622.3 104.1H633.6M622.3 104.4H630.5M622.3 104.1V104.4M620.9 104.2H622.3M626.1 104.6H632.8M628.9 104.9H631.4M628.9 105.1H633M628.9 104.9V105.1M628.3 105H628.9M628.3 105.4H632.3M628.3 105V105.4M626.1 105.2H628.3M626.1 104.6V105.2M623.5 104.9H626.1M623.5 105.6H628.6M623.5 104.9V105.6M620.9 105.3H623.5M620.9 104.2V105.3M618.7 104.8H620.9M629.3 105.9H632.5M630.2 106.1H630.6M630.2 106.4H630.6M630.2 106.1V106.4M629.3 106.2H630.2M629.3 105.9V106.2M627.7 106H629.3M627.7 106.6H631.6M627.7 106V106.6M625.5 106.3H627.7M625.5 106.8H629.1M625.5 106.3V106.8M622.1 106.6H625.5M627.3 107.1H630.2M627.3 107.3H632.1M627.3 107.1V107.3M626.4 107.2H627.3M626.4 107.6H631.5M626.4 107.2V107.6M625.4 107.4H626.4M625.4 107.8H632.5M625.4 107.4V107.8M624.7 107.6H625.4M625.1 108.1H628.7M628.2 108.3H628.6M628.2 108.6H628.6M628.2 108.3V108.6M627.8 108.5H628.2M627.8 108.8H632.4M627.8 108.5V108.8M626.1 108.6H627.8M626.1 109.1H630.2M626.1 108.6V109.1M625.1 108.9H626.1M625.1 108.1V108.9M624.7 108.5H625.1M624.7 107.6V108.5M622.1 108H624.7M622.1 106.6V108M619.9 107.3H622.1M628 109.3H628.9M628 109.6H631.9M628 109.3V109.6M626.5 109.4H628M627.9 109.8H628.3M627.9 110.1H628.3M627.9 109.8V110.1M626.5 109.9H627.9M626.5 109.4V109.9M625.4 109.7H626.5M625.4 110.3H626.4M625.4 109.7V110.3M624.3 110H625.4M624.3 110.6H629.6M624.3 110V110.6M623.2 110.3H624.3M623.2 110.8H626.7M623.2 110.3V110.8M619.9 110.5H623.2M619.9 107.3V110.5M618.7 108.9H619.9M618.7 104.8V108.9M618.2 106.8H618.7M618.2 112.1H640.8M618.2 106.8V112.1M616.5 110.8H618.2M639 113.7H639.4M639 114H642.8M639 113.7V114M637.9 113.8H639M637.9 114.2H640.6M637.9 113.8V114.2M637 114H637.9M640.6 114.4H642.8M640.6 114.7H641M640.6 114.4V114.7M638.9 114.6H640.6M641.1 114.9H642.1M641.1 115.2H641.5M641.1 114.9V115.2M640.5 115.1H641.1M640.5 115.4H643M640.5 115.1V115.4M638.9 115.2H640.5M638.9 114.6V115.2M637 114.9H638.9M637 114V114.9M633.9 114.5H637M633.9 115.7H635.8M633.9 114.5V115.7M630.1 115.1H633.9M633.6 115.9H642.7M636.6 116.2H637M636.6 116.4H638.6M636.6 116.2V116.4M633.6 116.3H636.6M633.6 115.9V116.3M632.6 116.1H633.6M632.6 116.7H637.9M632.6 116.1V116.7M630.1 116.4H632.6M630.1 115.1V116.4M627.8 115.7H630.1M627.8 116.9H631.6M627.8 115.7V116.9M624.3 116.3H627.8M632.8 117.1H639.1M632.8 117.4H642.1M632.8 117.1V117.4M628.9 117.3H632.8M628.9 117.6H635.4M628.9 117.3V117.6M624.3 117.4H628.9M624.3 116.3V117.4M621.6 116.9H624.3M621.6 117.9H640M621.6 116.9V117.9M616.5 117.4H621.6M616.5 110.8V117.4M615 115.7H616.5M615 112V115.7M636.1 86.1H648.1M636.8 86.4H642.8M636.8 86.6H650.4M636.8 86.4V86.6M636.1 86.5H636.8M636.1 86.1V86.5M631.3 86.3H636.1M631.3 86.9H642.6M631.3 86.3V86.9M629.1 86.6H631.3M645.8 87.1H646.2M645.8 87.4H649.5M645.8 87.1V87.4M645.2 87.3H645.8M646.7 87.6H651.5M646.7 87.9H651.4M646.7 87.6V87.9M645.2 87.8H646.7M645.2 87.3V87.8M643.8 87.5H645.2M643.8 88.2H645.2M643.8 87.5V88.2M641.1 87.8H643.8M643.7 88.4H651.4M643.7 88.7H650.4M643.7 88.4V88.7M641.1 88.5H643.7M641.1 87.8V88.5M639.9 88.2H641.1M641.6 88.9H650.7M641.6 89.2H649.3M641.6 88.9V89.2M639.9 89H641.6M639.9 88.2V89M637.3 88.6H639.9M637.3 89.4H652.3M637.3 88.6V89.4M632 89H637.3M632 89.7H636.5M632 89V89.7M629.1 89.3H632M629.1 86.6V89.3M623.1 88H629.1M623.1 89.9H645.2M623.1 88V89.9M622.6 88.9H623.1M640 91H656.8M640 91.4H653.5M640 91V91.4M632.8 91.2H640M637.5 91.8H651.9M645.4 92.3H654.3M647 92.7H654.2M647 93.1H652.8M647 92.7V93.1M645.4 92.9H647M645.4 92.3V92.9M642.7 92.6H645.4M644.1 93.5H654.9M646.6 94H647.6M646.6 94.4H647M646.6 94V94.4M644.1 94.2H646.6M644.1 93.5V94.2M642.7 93.9H644.1M642.7 92.6V93.9M637.5 93.2H642.7M637.5 91.8V93.2M632.8 92.5H637.5M632.8 91.2V92.5M623.8 91.9H632.8M645 94.8H652.9M647.3 95.3H648.1M647.3 95.7H647.7M647.3 95.3V95.7M645.4 95.5H647.3M645.4 96.1H649.5M645.4 95.5V96.1M645 95.8H645.4M645 94.8V95.8M643.9 95.3H645M643.9 96.5H652.1M643.9 95.3V96.5M641.3 95.9H643.9M641.3 97H647.4M641.3 95.9V97M639.5 96.5H641.3M639.5 97.4H649.6M639.5 96.5V97.4M637.4 96.9H639.5M637.4 97.8H637.8M637.4 96.9V97.8M632.9 97.4H637.4M641.9 98.3H648.4M641.9 98.7H645.5M641.9 98.3V98.7M638.9 98.5H641.9M638.9 99.1H639.3M638.9 98.5V99.1M636.8 98.8H638.9M636.8 99.5H643.4M636.8 98.8V99.5M632.9 99.2H636.8M632.9 97.4V99.2M628.3 98.3H632.9M628.3 100H643.6M628.3 98.3V100M623.8 99.1H628.3M623.8 91.9V99.1M623.3 95.5H623.8M637.4 101.2H643.6M637.4 101.4H648.9M637.4 101.2V101.4M631.6 101.3H637.4M644.6 101.7H650.5M644.6 102H645M644.6 101.7V102M642.9 101.8H644.6M642.9 102.3H643.3M642.9 101.8V102.3M641.8 102.1H642.9M641.8 102.5H647.1M641.8 102.1V102.5M638.4 102.3H641.8M638.4 102.8H650.2M638.4 102.3V102.8M637.6 102.5H638.4M637.6 103.1H643.4M637.6 102.5V103.1M633.7 102.8H637.6M633.7 103.3H649.2M633.7 102.8V103.3M631.6 103.1H633.7M631.6 101.3V103.1M623.8 102.2H631.6M627 103.6H646.1M627 103.9H643.5M627 103.6V103.9M623.8 103.7H627M623.8 102.2V103.7M623.3 103H623.8M623.3 95.5V103M622.6 101.1H623.3M622.6 88.9V101.1M622 98.1H622.6M622 97V98.1M644.4 72.1H656.7M649 72.4H649.4M649 72.7H652.9M649 72.4V72.7M647.6 72.6H649M647.6 73H656M647.6 72.6V73M645.2 72.8H647.6M649.6 73.3H656.2M651.8 73.5H652.4M651.8 73.8H656.2M651.8 73.5V73.8M649.6 73.7H651.8M649.6 73.3V73.7M647.5 73.5H649.6M650.4 74.1H653.2M650.4 74.4H651.4M650.4 74.1V74.4M647.5 74.3H650.4M647.5 73.5V74.3M645.2 73.9H647.5M645.2 72.8V73.9M644.4 73.3H645.2M644.4 72.1V73.3M640.3 72.7H644.4M651.9 74.7H657.7M653.4 75H653.8M653.4 75.2H654.6M653.4 75V75.2M651.9 75.1H653.4M651.9 74.7V75.1M651 74.9H651.9M651 75.5H651.4M651 74.9V75.5M649.3 75.2H651M649.3 75.8H655.2M649.3 75.2V75.8M645.8 75.5H649.3M645.8 76.1H653.7M645.8 75.5V76.1M642.8 75.8H645.8M642.8 76.4H653.3M642.8 75.8V76.4M640.3 76.1H642.8M640.3 72.7V76.1M635.8 74.4H640.3M644.7 76.6H654M644.7 76.9H653.8M644.7 76.6V76.9M640.1 76.8H644.7M652.1 77.2H659.5M652.1 77.5H660.9M652.1 77.2V77.5M648.7 77.3H652.1M648.7 77.8H649.1M648.7 77.3V77.8M646.6 77.6H648.7M646.6 78.1H654.9M646.6 77.6V78.1M644.4 77.8H646.6M644.4 78.3H660M644.4 77.8V78.3M640.1 78.1H644.4M640.1 76.8V78.1M635.8 77.4H640.1M635.8 74.4V77.4M628.2 75.9H635.8M630 79.2H644.7M634.4 79.6H638M634.4 80H640.6M634.4 79.6V80M630 79.8H634.4M630 79.2V79.8M628.7 79.5H630M634.7 80.4H636.5M636.4 80.8H636.8M636.4 81.2H644.6M636.4 80.8V81.2M634.7 81H636.4M634.7 80.4V81M633.7 80.7H634.7M634.9 81.6H638M639.5 82H640M639.5 82.4H639.9M639.5 82V82.4M639 82.2H639.5M639 82.8H640.5M639 82.2V82.8M636.8 82.5H639M636.8 83.2H637.2M636.8 82.5V83.2M634.9 82.9H636.8M634.9 81.6V82.9M633.7 82.3H634.9M633.7 80.7V82.3M632.3 81.5H633.7M632.3 83.6H643M632.3 81.5V83.6M628.7 82.6H632.3M628.7 79.5V82.6M628.2 81H628.7M628.2 75.9V81M627.5 79.8H628.2M628 85.4H640.1M628 85.8H646.7M628 85.4V85.8M627.5 85.6H628M627.5 79.8V85.6M626 84.2H627.5M626 80V84.2M662.7 50.1H663.7M662.7 50.4H665.8M662.7 50.1V50.4M660.2 50.3H662.7M660.2 50.7H661.9M660.2 50.3V50.7M656.7 50.5H660.2M656.7 51H665M656.7 50.5V51M652.8 50.8H656.7M663.1 51.3H663.5M663.1 51.6H666.1M663.1 51.3V51.6M661.2 51.4H663.1M664 51.9H664.4M664 52.2H666.3M664 51.9V52.2M663.2 52H664M663.2 52.4H667.9M663.2 52V52.4M662.3 52.2H663.2M662.3 52.7H665.3M662.3 52.2V52.7M661.2 52.5H662.3M661.2 51.4V52.5M659.9 52H661.2M659.9 53H660.7M659.9 52V53M657.2 52.5H659.9M657.2 53.3H657.6M657.2 52.5V53.3M652.8 52.9H657.2M652.8 50.8V52.9M651.8 51.8H652.8M651.8 53.6H664.9M651.8 51.8V53.6M650.4 52.7H651.8M650.4 53.9H662.5M650.4 52.7V53.9M648.4 53.3H650.4M657.7 54.2H658.1M659.1 54.4H664.6M661 54.7H664.2M661 55H663.4M661 54.7V55M660 54.9H661M660 55.3H664.7M660 54.9V55.3M659.1 55.1H660M659.1 54.4V55.1M657.7 54.8H659.1M657.7 54.2V54.8M656.8 54.5H657.7M656.8 55.6H665.7M656.8 54.5V55.6M653.7 55H656.8M653.7 55.9H662.9M653.7 55V55.9M652.8 55.5H653.7M654.7 56.2H660.4M657.8 56.5H661.3M657.8 56.7H658.2M657.8 56.5V56.7M654.7 56.6H657.8M654.7 56.2V56.6M652.8 56.4H654.7M652.8 55.5V56.4M648.4 55.9H652.8M648.4 53.3V55.9M632.2 54.6H648.4M658.8 57.5H662M658.8 57.8H659.2M658.8 57.5V57.8M658.5 57.6H658.8M658.5 58.2H658.9M658.5 57.6V58.2M658 57.9H658.5M658 58.5H658.4M658 57.9V58.5M656.5 58.2H658M656.5 58.9H661.5M656.5 58.2V58.9M655.2 58.5H656.5M655.2 59.2H655.6M655.2 58.5V59.2M654.7 58.9H655.2M655.4 59.6H655.8M656 59.9H657.4M656 60.3H656.4M656 59.9V60.3M655.4 60.1H656M655.4 59.6V60.1M654.7 59.8H655.4M654.7 58.9V59.8M654.1 59.3H654.7M655.1 60.6H656.6M655.1 60.9H655.5M655.1 60.6V60.9M654.1 60.8H655.1M654.1 59.3V60.8M653.2 60.1H654.1M653.2 61.3H654.8M653.2 60.1V61.3M650.9 60.7H653.2M650.9 61.6H653.1M650.9 60.7V61.6M649.6 61.2H650.9M649.6 62H653.1M649.6 61.2V62M646.9 61.6H649.6M646.9 62.3H651.7M646.9 61.6V62.3M642 62H646.9M642 62.7H658.8M642 62V62.7M636.1 62.3H642M636.1 63H647.6M636.1 62.3V63M632.7 62.7H636.1M641.1 63.4H654.9M641.1 63.7H657.1M641.1 63.4V63.7M640 63.6H641.1M640 64.1H656.2M640 63.6V64.1M632.7 63.8H640M632.7 62.7V63.8M632.2 63.2H632.7M632.2 54.6V63.2M631.5 61.1H632.2M643.7 64.8H651.1M646.2 65.1H656.6M647.2 65.4H657.2M647.2 65.7H660.7M647.2 65.4V65.7M646.2 65.6H647.2M646.2 65.1V65.6M643.7 65.3H646.2M643.7 64.8V65.3M641.5 65.1H643.7M644.6 66.1H654.2M644.6 66.4H650.8M644.6 66.1V66.4M641.5 66.2H644.6M641.5 65.1V66.2M637 65.6H641.5M637 66.7H658.8M637 65.6V66.7M632 66.2H637M642.7 67H653.5M642.7 67.3H655.6M642.7 67V67.3M641 67.2H642.7M648.7 67.7H658.3M652 68H658M652 68.3H652.4M652 68V68.3M651.2 68.2H652M651.2 68.6H657.1M651.2 68.2V68.6M648.7 68.4H651.2M648.7 67.7V68.4M647 68H648.7M647 69H654.8M647 68V69M644 68.5H647M648.3 69.3H654.6M650.7 69.6H652.2M650.7 69.9H652.4M650.7 69.6V69.9M649.1 69.8H650.7M649.1 70.2H656.4M649.1 69.8V70.2M648.3 70H649.1M648.3 69.3V70M647.7 69.6H648.3M647.7 70.6H653.6M647.7 69.6V70.6M644 70.1H647.7M644 68.5V70.1M642.8 69.3H644M645 70.9H651.2M645 71.2H653.8M645 70.9V71.2M642.8 71H645M642.8 69.3V71M641 70.2H642.8M641 67.2V70.2M634.9 68.7H641M640.3 71.5H653.5M640.3 71.8H651.3M640.3 71.5V71.8M634.9 71.7H640.3M634.9 68.7V71.7M632 70.2H634.9M632 66.2V70.2M631.5 68.2H632M631.5 61.1V68.2M630 66.4H631.5M630 60V66.4M640.1 30.2H651.7M641.6 30.5H652.6M644.8 30.9H653M644.8 31.2H649.9M644.8 30.9V31.2M641.6 31.1H644.8M641.6 30.5V31.1M640.1 30.8H641.6M640.1 30.2V30.8M638.8 30.5H640.1M640.2 31.6H640.6M646.4 32H648.2M646.4 32.3H650.4M646.4 32V32.3M644.2 32.1H646.4M644.2 32.7H651.1M644.2 32.1V32.7M640.2 32.4H644.2M640.2 31.6V32.4M638.8 32H640.2M638.8 30.5V32M635.6 31.2H638.8M646.2 33H653.5M646.2 33.4H651.7M646.2 33V33.4M644.8 33.2H646.2M644.8 33.7H650.8M644.8 33.2V33.7M644.3 33.5H644.8M644.3 34.1H652M644.3 33.5V34.1M641.9 33.8H644.3M641.9 34.5H642.3M641.9 33.8V34.5M641 34.1H641.9M645.7 34.8H652.2M647.5 35.2H648.2M647.5 35.5H649.6M647.5 35.2V35.5M645.7 35.3H647.5M645.7 34.8V35.3M644.7 35.1H645.7M644.7 35.9H645.8M644.7 35.1V35.9M643.2 35.5H644.7M644.5 36.2H649.7M644.5 36.6H652.9M644.5 36.2V36.6M643.2 36.4H644.5M643.2 35.5V36.4M641 35.9H643.2M641 34.1V35.9M635.6 35H641M635.6 31.2V35M633.2 33.1H635.6M648.4 37.3H656.1M650.2 37.6H650.6M650.2 37.9H657.9M650.2 37.6V37.9M648.4 37.8H650.2M648.4 37.3V37.8M645.9 37.5H648.4M649.8 38.2H654.1M649.8 38.6H650.2M649.8 38.2V38.6M645.9 38.4H649.8M645.9 37.5V38.4M644.2 38H645.9M654.4 38.9H654.8M654.8 39.2H655.2M654.8 39.5H657.2M654.8 39.2V39.5M654.4 39.3H654.8M654.4 38.9V39.3M653.6 39.1H654.4M653.6 39.8H655.6M653.6 39.1V39.8M652.1 39.4H653.6M652.1 40.1H652.5M652.1 39.4V40.1M651.2 39.8H652.1M651.2 40.4H657.1M651.2 39.8V40.4M648.3 40.1H651.2M648.3 40.7H655.6M648.3 40.1V40.7M644.2 40.4H648.3M644.2 38V40.4M639.3 39.2H644.2M651 41H653.4M651 41.3H655.6M651 41V41.3M649.3 41.2H651M653.5 41.7H657.5M654.8 42H655.2M654.8 42.3H657.2M654.8 42V42.3M653.7 42.1H654.8M653.7 42.6H654.1M653.7 42.1V42.6M653.5 42.3H653.7M653.5 41.7V42.3M651.8 42H653.5M651.8 42.9H654.9M651.8 42V42.9M650.7 42.4H651.8M650.7 43.2H654.6M650.7 42.4V43.2M649.3 42.8H650.7M649.3 41.2V42.8M647.7 42H649.3M647.7 43.5H648.1M647.7 42V43.5M646.4 42.8H647.7M646.4 43.8H646.8M646.4 42.8V43.8M645.2 43.3H646.4M645.2 44.1H654.6M645.2 43.3V44.1M643.9 43.7H645.2M647.5 44.4H651.8M649.9 44.7H650.3M649.9 45.1H651.7M649.9 44.7V45.1M648.5 44.9H649.9M648.5 45.4H649.4M648.5 44.9V45.4M647.5 45.1H648.5M647.5 44.4V45.1M643.9 44.8H647.5M643.9 43.7V44.8M639.3 44.2H643.9M639.3 39.2V44.2M633.7 41.7H639.3M636 45.7H655.7M640.4 46H649.2M640.4 46.3H640.8M640.4 46V46.3M637.3 46.1H640.4M641.8 46.6H645.9M641.8 46.9H652M641.8 46.6V46.9M637.3 46.8H641.8M637.3 46.1V46.8M636 46.4H637.3M636 45.7V46.4M633.7 46.1H636M633.7 41.7V46.1M633.2 43.9H633.7M633.2 33.1V43.9M632.5 41.2H633.2M640 48.3H641.8M640 48.7H644.7M640 48.3V48.7M638.9 48.5H640M638.9 49H645.3M638.9 48.5V49M636.7 48.8H638.9M636.7 49.4H645.4M636.7 48.8V49.4M633.4 49.1H636.7M633.4 49.8H646.4M633.4 49.1V49.8M632.5 49.5H633.4M632.5 41.2V49.5M631 47.4H632.5M631 40V47.4M656.1 18.7H660.1M658.9 19.2H659.3M660.1 19.6H660.5M660.1 20H660.5M660.1 19.6V20M658.9 19.8H660.1M658.9 19.2V19.8M656.1 19.5H658.9M656.1 18.7V19.5M652.3 19.1H656.1M652.3 20.5H667.3M652.3 19.1V20.5M649.4 19.8H652.3M649.4 20.9H665M649.4 19.8V20.9M644.6 20.3H649.4M644.6 21.3H661.6M644.6 20.3V21.3M643 20.8H644.6M643 21.8H657.8M643 20.8V21.8M634.5 21.3H643M642.1 22.5H668.7M642.1 22.8H672.3M642.1 22.5V22.8M635 22.7H642.1M657.9 23.1H673.4M657.9 23.4H667M657.9 23.1V23.4M654.2 23.3H657.9M654.2 23.7H672M654.2 23.3V23.7M653 23.5H654.2M660.1 24H662.4M660.1 24.3H669.1M660.1 24V24.3M656.1 24.1H660.1M662 24.6H666.1M662 24.9H662.4M662 24.6V24.9M660.3 24.7H662M662.5 25.2H662.9M664 25.5H664.4M664 25.8H664.4M664 25.5V25.8M662.5 25.6H664M662.5 25.2V25.6M660.3 25.4H662.5M660.3 24.7V25.4M657.6 25.1H660.3M657.6 26.1H667.5M657.6 25.1V26.1M656.1 25.6H657.6M656.1 24.1V25.6M653 24.9H656.1M653 23.5V24.9M647.1 24.2H653M647.1 26.4H660.7M647.1 24.2V26.4M642.9 25.3H647.1M657.8 26.6H660.3M657.8 26.9H663M657.8 26.6V26.9M656 26.8H657.8M656 27.2H658.2M656 26.8V27.2M654.4 27H656M654.4 27.5H657.3M654.4 27V27.5M653.3 27.3H654.4M653.3 27.8H655M653.3 27.3V27.8M650 27.5H653.3M650 28.1H657M650 27.5V28.1M647 27.8H650M647 28.4H663M647 27.8V28.4M642.9 28.1H647M642.9 25.3V28.1M635 26.7H642.9M635 22.7V26.7M634.5 24.7H635M634.5 21.3V24.7M633.5 23.8H634.5M634 29.8H659.8M634 29.9H661.6M634 29.8V29.9M633.5 29.9H634M633.5 23.8V29.9M632 28.4H633.5M632 26V28.4" stroke="#379a2c" stroke-width="0.55" fill="none"/>
<line x1="515.3" y1="175.4" x2="684" y2="175.4" stroke="#9a9a9a" stroke-width="0.8"/>
<text transform="translate(530.4,188) rotate(-90)" font-size="5.5" fill="#333" textLength="11" lengthAdjust="spacingAndGlyphs">1966</text>
<text transform="translate(543.2,188) rotate(-90)" font-size="5.5" fill="#333" textLength="11" lengthAdjust="spacingAndGlyphs">1971</text>
<text transform="translate(556,188) rotate(-90)" font-size="5.5" fill="#333" textLength="11" lengthAdjust="spacingAndGlyphs">1976</text>
<text transform="translate(568.8,188) rotate(-90)" font-size="5.5" fill="#333" textLength="11" lengthAdjust="spacingAndGlyphs">1981</text>
<text transform="translate(581.6,188) rotate(-90)" font-size="5.5" fill="#333" textLength="11" lengthAdjust="spacingAndGlyphs">1986</text>
<text transform="translate(594.4,188) rotate(-90)" font-size="5.5" fill="#333" textLength="11" lengthAdjust="spacingAndGlyphs">1991</text>
<text transform="translate(607.2,188) rotate(-90)" font-size="5.5" fill="#333" textLength="11" lengthAdjust="spacingAndGlyphs">1996</text>
<text transform="translate(620,188) rotate(-90)" font-size="5.5" fill="#333" textLength="11" lengthAdjust="spacingAndGlyphs">2001</text>
<text transform="translate(632.8,188) rotate(-90)" font-size="5.5" fill="#333" textLength="11" lengthAdjust="spacingAndGlyphs">2006</text>
<text transform="translate(645.6,188) rotate(-90)" font-size="5.5" fill="#333" textLength="11" lengthAdjust="spacingAndGlyphs">2011</text>
<text transform="translate(658.4,188) rotate(-90)" font-size="5.5" fill="#333" textLength="11" lengthAdjust="spacingAndGlyphs">2016</text>
<text transform="translate(671.2,188) rotate(-90)" font-size="5.5" fill="#333" textLength="11" lengthAdjust="spacingAndGlyphs">2021</text>
<path d="M528.4 175.4V176.7M541.2 175.4V176.7M554 175.4V176.7M566.8 175.4V176.7M579.6 175.4V176.7M592.4 175.4V176.7M605.2 175.4V176.7M618 175.4V176.7M630.8 175.4V176.7M643.6 175.4V176.7M656.4 175.4V176.7M669.2 175.4V176.7" stroke="#9a9a9a" stroke-width="0.5" fill="none"/>
<line x1="478.7" y1="131.4" x2="633.1" y2="27.9" stroke="#444" stroke-width="0.8" stroke-dasharray="1.4 1.4"/>
<line x1="479.7" y1="189.9" x2="517.5" y2="175.8" stroke="#444" stroke-width="0.8" stroke-dasharray="1.4 1.4"/>
<text x="354.9" y="244.8" font-size="12.9" fill="#000" textLength="43.8" lengthAdjust="spacingAndGlyphs">DENV3</text>
<path d="M451.4 228.2H456.8M453.1 228.6H456.1M453.1 229H453.5M453.1 228.6V229M451.4 228.8H453.1M451.4 228.2V228.8M449 228.5H451.4M449 229.3H457.1M449 228.5V229.3M448.5 228.9H449M451.2 231.7H456.2M451.2 232H453.7M451.2 231.7V232M450 231.9H451.2M454.2 232.3H454.6M454.2 232.6H456M454.2 232.3V232.6M452.7 232.5H454.2M452.7 232.9H455.4M452.7 232.5V232.9M451.6 232.7H452.7M451.6 233.2H456.1M451.6 232.7V233.2M450 233H451.6M450 231.9V233M449.5 232.4H450M449.5 233.5H451.8M449.5 232.4V233.5M449 233H449.5M451.3 233.8H455.7M452.4 234.1H454.2M452.4 234.4H452.8M452.4 234.1V234.4M451.3 234.3H452.4M451.3 233.8V234.3M449 234.1H451.3M449 233V234.1M448.5 233.5H449M448.5 228.9V233.5M447.3 232.4H448.5M454.5 235.9H460.9M457 236.1H461.8M457 236.4H457.4M457 236.1V236.4M454.5 236.3H457M454.5 235.9V236.3M452 236.1H454.5M454.9 236.7H459.8M454.9 236.9H460.3M454.9 236.7V236.9M453 236.8H454.9M456.6 237.2H463.3M456.6 237.5H458.7M456.6 237.2V237.5M454.3 237.3H456.6M454.3 237.7H461.5M454.3 237.3V237.7M453 237.5H454.3M453 236.8V237.5M452 237.2H453M452 236.1V237.2M447.8 236.6H452M449.7 238H458.1M449.7 238.3H457.3M449.7 238V238.3M447.8 238.1H449.7M447.8 236.6V238.1M447.3 237.4H447.8M447.3 232.4V237.4M443 236.1H447.3M446.8 240.2H458.6M446.8 240.7H450.2M446.8 240.2V240.7M443.5 240.5H446.8M448.5 241.1H457.2M448.5 241.6H455.3M448.5 241.1V241.6M446.8 241.3H448.5M446.8 242H454.4M446.8 241.3V242M443.5 241.7H446.8M443.5 240.5V241.7M443 241.1H443.5M443 236.1V241.1M435.4 239.8H443M443.4 243.1H457.9M443.4 243.4H453.8M443.4 243.1V243.4M437.6 243.2H443.4M437.6 243.7H450.1M437.6 243.2V243.7M435.9 243.4H437.6M442.9 243.9H457.6M442.9 244.2H456.3M442.9 243.9V244.2M435.9 244.1H442.9M435.9 243.4V244.1M435.4 243.8H435.9M435.4 239.8V243.8M428.7 242.8H435.4M428.7 245.9H458.1M428.7 242.8V245.9M421.3 245.1H428.7M421.3 247.6H455.5M421.3 245.1V247.6M413 247H421.3M413.7 249.5H456.6M426.6 249.8H459.4M432.5 250.1H458.9M435.7 250.4H456.9M435.7 250.7H458M435.7 250.4V250.7M432.5 250.6H435.7M432.5 250.1V250.6M426.6 250.3H432.5M426.6 249.8V250.3M413.7 250.1H426.6M413.7 249.5V250.1M413 249.8H413.7M413 247V249.8M406.4 249.1H413M413.7 252.8H458.8M423.4 253.2H452.3M436.1 253.6H449.1M436.1 254.1H452.3M436.1 253.6V254.1M430 253.9H436.1M430 254.5H451.8M430 253.9V254.5M423.4 254.2H430M423.4 253.2V254.2M417.9 253.7H423.4M427.3 254.9H450.6M427.3 255.3H456.1M427.3 254.9V255.3M417.9 255.1H427.3M417.9 253.7V255.1M413.7 254.4H417.9M413.7 252.8V254.4M406.4 253.6H413.7M406.4 249.1V253.6M405.7 252.5H406.4M441.6 257.8H442.8M441.6 258.2H450.4M441.6 257.8V258.2M437.7 258H441.6M437.7 258.7H444.6M437.7 258V258.7M435.9 258.4H437.7M438.9 259.1H449.9M438.9 259.6H448.1M438.9 259.1V259.6M435.9 259.3H438.9M435.9 258.4V259.3M430 258.8H435.9M430 260H450.8M430 258.8V260M422.4 259.4H430M422.4 260.4H447.4M422.4 259.4V260.4M420.2 259.9H422.4M420.2 260.9H448.2M420.2 259.9V260.9M415.3 260.4H420.2M415.3 261.3H448.9M415.3 260.4V261.3M405.7 260.9H415.3M405.7 252.5V260.9M405.1 258.8H405.7M431 262.8H452.7M431 263.2H446.4M431 262.8V263.2M426.8 263H431M444.7 263.5H450.4M444.7 263.9H453.7M444.7 263.5V263.9M442.5 263.7H444.7M442.5 264.3H448.9M442.5 263.7V264.3M438.4 264H442.5M438.4 264.7H452M438.4 264V264.7M433.9 264.4H438.4M433.9 265.1H450.1M433.9 264.4V265.1M426.8 264.7H433.9M426.8 263V264.7M405.1 263.9H426.8M405.1 258.8V263.9M404.4 262.6H405.1M410.2 267.5H451.3M419.4 268H451.9M425 268.4H451.5M425 268.9H450.4M425 268.4V268.9M419.4 268.6H425M419.4 268V268.6M410.2 268.3H419.4M410.2 267.5V268.3M404.4 267.9H410.2M404.4 262.6V267.9M403.8 266.6H404.4M434 270.9H449.9M435.5 271.2H449.4M435.5 271.5H447.2M435.5 271.2V271.5M434 271.3H435.5M434 270.9V271.3M430.9 271.1H434M430.9 271.7H451M430.9 271.1V271.7M425.2 271.4H430.9M431.7 272H449.7M438.7 272.3H443.2M438.7 272.6H449.3M438.7 272.3V272.6M437.7 272.5H438.7M437.7 272.9H451.5M437.7 272.5V272.9M431.7 272.7H437.7M431.7 272V272.7M425.2 272.4H431.7M425.2 271.4V272.4M420 271.9H425.2M429.1 273.2H444M429.1 273.5H449.3M429.1 273.2V273.5M420 273.4H429.1M420 271.9V273.4M403.8 272.6H420M403.8 266.6V272.6M403.1 271.1H403.8M403.1 274.8H453.3M403.1 271.1V274.8M402.5 273.9H403.1M440.5 276H454.8M443.1 276.3H452.3M447.1 276.6H450.2M448.8 276.9H450.1M448.8 277.3H453.7M448.8 276.9V277.3M447.1 277.1H448.8M447.1 276.6V277.1M446.7 276.9H447.1M446.7 277.6H451.7M446.7 276.9V277.6M444.5 277.2H446.7M444.5 277.9H453.8M444.5 277.2V277.9M443.1 277.6H444.5M443.1 276.3V277.6M440.5 276.9H443.1M440.5 276V276.9M434.9 276.5H440.5M434.9 278.2H448.3M434.9 276.5V278.2M429.2 277.3H434.9M429.2 278.5H450.9M429.2 277.3V278.5M419.3 277.9H429.2M419.3 278.8H453.7M419.3 277.9V278.8M402.5 278.4H419.3M402.5 273.9V278.4M401.8 277.3H402.5M422.4 280.9H446.3M429.7 281.2H448.8M429.7 281.4H445.8M429.7 281.2V281.4M422.4 281.3H429.7M422.4 280.9V281.3M414.7 281.1H422.4M414.7 281.7H443.4M414.7 281.1V281.7M409.1 281.4H414.7M430.7 282H449.2M430.7 282.3H446.9M430.7 282V282.3M424.3 282.1H430.7M430.5 282.6H438M430.5 282.8H446.8M430.5 282.6V282.8M424.3 282.7H430.5M424.3 282.1V282.7M420 282.4H424.3M420 283.1H447.4M420 282.4V283.1M409.1 282.8H420M409.1 281.4V282.8M403.7 282.1H409.1M428.9 283.4H447.5M428.9 283.7H444.7M428.9 283.4V283.7M424 283.5H428.9M424 283.9H445.3M424 283.5V283.9M416.6 283.7H424M416.6 284.2H446.5M416.6 283.7V284.2M403.7 284H416.6M403.7 282.1V284M401.8 283H403.7M401.8 277.3V283M401.2 281.6H401.8M401.7 285.7H444.2M401.7 286.2H440.7M401.7 285.7V286.2M401.2 285.9H401.7M401.2 281.6V285.9M400.5 284.8H401.2M420 288.6H436.6M420 289H439M420 288.6V289M413.5 288.8H420M423.6 289.4H436.2M424.8 289.8H432.9M424.8 290.2H433M424.8 289.8V290.2M423.6 290H424.8M423.6 289.4V290M417.4 289.7H423.6M417.4 290.6H438.9M417.4 289.7V290.6M413.5 290.1H417.4M413.5 288.8V290.1M407.2 289.5H413.5M407.2 291H439.5M407.2 289.5V291M403 290.2H407.2M403 291.4H436M403 290.2V291.4M400.5 290.8H403M400.5 284.8V290.8M378.3 289.3H400.5M433.7 293.4H444.9M437.3 293.6H443.1M439.6 293.9H444.5M439.6 294.2H445.5M439.6 293.9V294.2M437.3 294.1H439.6M437.3 293.6V294.1M433.7 293.8H437.3M433.7 293.4V293.8M430.7 293.6H433.7M430.7 294.5H444.3M430.7 293.6V294.5M426.2 294H430.7M426.2 294.7H445.5M426.2 294V294.7M420 294.4H426.2M420 295H440.2M420 294.4V295M412.3 294.7H420M416.8 295.3H442.3M425.4 295.6H445.5M425.4 295.9H445.7M425.4 295.6V295.9M416.8 295.7H425.4M416.8 295.3V295.7M412.3 295.5H416.8M412.3 294.7V295.5M378.3 295.1H412.3M378.3 289.3V295.1M364.7 293.7H378.3M436.6 297.1H473.6M443.3 297.4H474.3M443.3 297.6H476.4M443.3 297.4V297.6M436.6 297.5H443.3M436.6 297.1V297.5M428 297.3H436.6M452.9 297.8H475.5M452.9 298.1H473.6M452.9 297.8V298.1M449.7 297.9H452.9M449.7 298.3H470.2M449.7 297.9V298.3M439.9 298.1H449.7M439.9 298.5H467.4M439.9 298.1V298.5M428 298.3H439.9M428 297.3V298.3M421.2 297.8H428M421.2 299.6H464.9M421.2 297.8V299.6M412.3 299.2H421.2M441.5 301H463.6M447.6 301.3H467M458.3 301.6H462.9M458.3 302H465M458.3 301.6V302M454.7 301.8H458.3M454.7 302.3H463.5M454.7 301.8V302.3M450.8 302H454.7M450.8 302.6H466.8M450.8 302V302.6M447.6 302.3H450.8M447.6 301.3V302.3M445.3 301.8H447.6M445.3 302.9H467.7M445.3 301.8V302.9M441.5 302.4H445.3M441.5 301V302.4M412.3 301.7H441.5M412.3 299.2V301.7M407.2 301.1H412.3M431.1 304.2H457.4M431.1 304.7H456.1M431.1 304.2V304.7M407.2 304.5H431.1M407.2 301.1V304.5M397.6 303.6H407.2M451.4 307H467.9M452.7 307.3H471.8M452.7 307.7H467.6M452.7 307.3V307.7M451.4 307.5H452.7M451.4 307V307.5M444.8 307.2H451.4M444.8 308.1H467.5M444.8 307.2V308.1M397.6 307.6H444.8M397.6 303.6V307.6M384.1 306.6H397.6M460.8 310H462.1M460.8 310.4H469.5M460.8 310V310.4M457.5 310.2H460.8M457.5 310.8H460.4M457.5 310.2V310.8M455.9 310.5H457.5M455.9 311.2H466.5M455.9 310.5V311.2M450.5 310.9H455.9M450.5 311.6H465M450.5 310.9V311.6M448.9 311.2H450.5M451.3 312H469.2M451.3 312.4H467.7M451.3 312V312.4M448.9 312.2H451.3M448.9 311.2V312.2M447.2 311.7H448.9M447.2 312.8H468.4M447.2 311.7V312.8M384.1 312.3H447.2M384.1 306.6V312.3M364.7 310.9H384.1M432.3 318.6H442.9M433.6 318.9H437.9M433.6 319.1H441.9M433.6 318.9V319.1M432.3 319H433.6M432.3 318.6V319M431.3 318.8H432.3M437.8 319.4H438.7M437.8 319.7H438.2M437.8 319.4V319.7M436.8 319.5H437.8M439.3 319.9H439.7M439.3 320.2H441.2M439.3 319.9V320.2M438.2 320H439.3M438.2 320.4H438.6M438.2 320V320.4M437.5 320.2H438.2M437.5 320.7H441.8M437.5 320.2V320.7M436.8 320.5H437.5M436.8 319.5V320.5M436.4 320H436.8M436.4 320.9H437.8M436.4 320V320.9M434.8 320.5H436.4M438.9 321.2H442M438.9 321.4H439.3M438.9 321.2V321.4M438.1 321.3H438.9M438.1 321.7H441M438.1 321.3V321.7M437.4 321.5H438.1M437.4 322H437.8M437.4 321.5V322M436.2 321.7H437.4M436.2 322.2H436.6M436.2 321.7V322.2M434.8 322H436.2M434.8 320.5V322M431.3 321.2H434.8M431.3 318.8V321.2M407.6 320H431.3M408.3 324.7H437.8M416.4 325.2H439.4M416.4 325.8H433.2M416.4 325.2V325.8M408.3 325.5H416.4M408.3 324.7V325.5M407.6 325.1H408.3M407.6 320V325.1M405.3 323.8H407.6M434.5 327.9H437.1M434.5 328.3H440.4M434.5 327.9V328.3M433.2 328.1H434.5M435.4 328.7H441M435.4 329.2H437.1M435.4 328.7V329.2M434.7 329H435.4M434.7 329.6H441M434.7 329V329.6M433.2 329.3H434.7M433.2 328.1V329.3M432.6 328.7H433.2M432.6 330H439.5M432.6 328.7V330M430.2 329.3H432.6M430.2 330.4H440.9M430.2 329.3V330.4M405.3 329.9H430.2M405.3 323.8V329.9M403.4 328.4H405.3M426.8 332.2H441.6M426.8 332.5H439.6M426.8 332.2V332.5M422.1 332.3H426.8M429.9 332.7H442M438.2 333H442.6M438.2 333.2H440.1M438.2 333V333.2M436.5 333.1H438.2M436.5 333.5H443.5M436.5 333.1V333.5M434.7 333.3H436.5M434.7 333.7H443.6M434.7 333.3V333.7M432 333.5H434.7M432 334H443.2M432 333.5V334M429.9 333.8H432M429.9 332.7V333.8M424.4 333.2H429.9M424.4 334.2H441.8M424.4 333.2V334.2M422.1 333.7H424.4M422.1 332.3V333.7M403.4 333H422.1M403.4 328.4V333M401.4 331.9H403.4M433.3 336.2H447.8M438.8 336.6H444.7M440.3 336.9H446M440.3 337.2H446.6M440.3 336.9V337.2M438.8 337.1H440.3M438.8 336.6V337.1M438.2 336.8H438.8M438.2 337.6H447.9M438.2 336.8V337.6M433.3 337.2H438.2M433.3 336.2V337.2M431.9 336.7H433.3M433.1 337.9H448.2M433.1 338.3H449.4M433.1 337.9V338.3M431.9 338.1H433.1M431.9 336.7V338.1M401.4 337.4H431.9M401.4 331.9V337.4M400.3 336H401.4M433.9 339.7H445M435.8 340H444.5M435.8 340.3H442.1M435.8 340V340.3M434.5 340.2H435.8M434.5 340.6H440.2M434.5 340.2V340.6M433.9 340.4H434.5M433.9 339.7V340.4M430.1 340.1H433.9M430.1 340.9H442.9M430.1 340.1V340.9M400.3 340.5H430.1M400.3 336V340.5M399.5 339.4H400.3M434.8 341.9H445.9M436.4 342.2H446M436.4 342.5H445.3M436.4 342.2V342.5M434.8 342.3H436.4M434.8 341.9V342.3M434 342.1H434.8M437.9 342.7H445.7M437.9 343H444.7M437.9 342.7V343M436.7 342.9H437.9M438.9 343.3H444.3M440.2 343.6H443.6M440.2 343.9H446M440.2 343.6V343.9M438.9 343.8H440.2M438.9 343.3V343.8M436.7 343.6H438.9M436.7 342.9V343.6M434 343.2H436.7M434 342.1V343.2M399.5 342.7H434M399.5 339.4V342.7M398.5 341.8H399.5M417.8 346H446M431.3 346.4H445.9M431.3 346.8H445.9M431.3 346.4V346.8M429.1 346.6H431.3M429.1 347.2H445.9M429.1 346.6V347.2M423.1 346.9H429.1M423.1 347.7H444.3M423.1 346.9V347.7M417.8 347.3H423.1M417.8 346V347.3M411.5 346.6H417.8M411.5 348.1H444.1M411.5 346.6V348.1M398.5 347.4H411.5M398.5 341.8V347.4M397.7 346H398.5M429.6 349.3H436.9M433 349.6H434.7M433 349.9H441.4M433 349.6V349.9M429.6 349.7H433M429.6 349.3V349.7M424.9 349.5H429.6M424.9 350.2H441M424.9 349.5V350.2M420 349.9H424.9M420 350.6H439.8M420 349.9V350.6M415.2 350.2H420M415.2 350.9H441.8M415.2 350.2V350.9M408.9 350.6H415.2M408.9 351.2H440.8M408.9 350.6V351.2M397.7 350.9H408.9M397.7 346V350.9M397 349.7H397.7M429.2 352.4H438.8M429.2 352.7H436.7M429.2 352.4V352.7M424 352.5H429.2M424 353H434.1M424 352.5V353M419.7 352.8H424M419.7 353.3H441.7M419.7 352.8V353.3M418.3 353H419.7M423.6 353.6H439.4M423.6 353.8H439.1M423.6 353.6V353.8M418.3 353.7H423.6M418.3 353V353.7M415.9 353.4H418.3M415.9 354.1H437.4M415.9 353.4V354.1M397 353.7H415.9M397 349.7V353.7M395.8 352.7H397M434.6 355.8H439.7M437.7 356.1H442.3M444.2 356.3H444.6M444.2 356.5H444.6M444.2 356.3V356.5M443.6 356.4H444.2M443.6 356.8H446.7M443.6 356.4V356.8M442.7 356.6H443.6M442.7 357H443.1M442.7 356.6V357M441.9 356.8H442.7M441.9 357.2H446.2M441.9 356.8V357.2M439.7 357H441.9M439.7 357.5H446.4M439.7 357V357.5M437.7 357.2H439.7M437.7 356.1V357.2M436.5 356.7H437.7M439.2 357.7H441.8M444.3 357.9H444.7M444.3 358.2H446.9M444.3 357.9V358.2M442.9 358.1H444.3M442.9 358.4H444.7M442.9 358.1V358.4M442.4 358.2H442.9M442.4 358.6H446.3M442.4 358.2V358.6M441.6 358.4H442.4M441.6 358.9H445.1M441.6 358.4V358.9M439.2 358.7H441.6M439.2 357.7V358.7M436.5 358.2H439.2M436.5 356.7V358.2M434.6 357.4H436.5M434.6 355.8V357.4M395.8 356.6H434.6M395.8 352.7V356.6M394.5 355.7H395.8M394.5 361H446M394.5 355.7V361M391.3 359.7H394.5M426 362.7H447.1M426 363H448.3M426 362.7V363M424.3 362.8H426M424.3 363.3H447.1M424.3 362.8V363.3M422.3 363.1H424.3M425.9 363.6H447.2M425.9 363.9H448.2M425.9 363.6V363.9M422.3 363.8H425.9M422.3 363.1V363.8M418.4 363.4H422.3M418.4 364.2H446.8M418.4 363.4V364.2M391.3 363.8H418.4M391.3 359.7V363.8M387.7 362.8H391.3M429.2 366H440M429.2 366.5H448.6M429.2 366V366.5M426.3 366.2H429.2M436.6 366.9H449.5M436.6 367.3H449M436.6 366.9V367.3M432.7 367.1H436.6M432.7 367.8H449.2M432.7 367.1V367.8M426.3 367.4H432.7M426.3 366.2V367.4M387.7 366.8H426.3M387.7 362.8V366.8M385.3 365.8H387.7M385.3 370.2H447.4M385.3 365.8V370.2M378.3 369.1H385.3M421.7 372.2H445.9M434.8 372.6H447.9M434.8 372.9H451.1M434.8 372.6V372.9M432.4 372.8H434.8M432.4 373.3H449.6M432.4 372.8V373.3M428.4 373H432.4M428.4 373.7H450.4M428.4 373V373.7M423.2 373.4H428.4M431.7 374H452.3M435.5 374.4H446M435.5 374.8H448.9M435.5 374.4V374.8M431.7 374.6H435.5M431.7 374V374.6M423.2 374.3H431.7M423.2 373.4V374.3M421.7 373.8H423.2M421.7 372.2V373.8M378.3 373H421.7M378.3 369.1V373M372.8 372H378.3M443.5 376.8H446.6M445.4 377H446.4M445.4 377.3H445.8M445.4 377V377.3M444.9 377.1H445.4M444.9 377.5H446.1M444.9 377.1V377.5M443.5 377.3H444.9M443.5 376.8V377.3M440 377H443.5M440 377.7H450M440 377V377.7M439 377.4H440M439 378H447.7M439 377.4V378M435.5 377.7H439M437 378.2H451.1M437 378.5H452.6M437 378.2V378.5M435.5 378.4H437M435.5 377.7V378.4M372.8 378H435.5M372.8 372V378M368.2 376.5H372.8M368.2 380.3H440.4M368.2 376.5V380.3M344.5 379.4H368.2M439.1 382.4H457M448.7 382.7H458.6M448.7 383.1H454.8M448.7 382.7V383.1M446.2 382.9H448.7M446.2 383.4H451.4M446.2 382.9V383.4M443.2 383.2H446.2M443.2 383.8H451.5M443.2 383.2V383.8M439.1 383.5H443.2M439.1 382.4V383.5M344.5 382.9H439.1M344.5 379.4V382.9M326.8 382H344.5M452.2 386.2H477.8M463.6 386.7H478.1M463.6 387.1H477.8M463.6 386.7V387.1M460.8 386.9H463.6M460.8 387.5H474.5M460.8 386.9V387.5M454.2 387.2H460.8M460.4 388H472.5M463.5 388.4H471.9M463.5 388.9H474M463.5 388.4V388.9M460.4 388.6H463.5M460.4 388V388.6M454.2 388.3H460.4M454.2 387.2V388.3M452.2 387.8H454.2M452.2 386.2V387.8M395.5 387H452.2M425.1 390.6H470M429.6 391.1H468.7M429.6 391.6H462.9M429.6 391.1V391.6M425.1 391.3H429.6M425.1 390.6V391.3M395.5 391H425.1M395.5 387V391M321.5 390H395.5M436.3 394.2H453M436.3 394.7H455M436.3 394.2V394.7M327.5 394.4H436.3M415.4 396.9H456.7M415.4 397.3H456M415.4 396.9V397.3M327.5 397.1H415.4M327.5 394.4V397.1M318.5 396.4H327.5M364.7 293.7V310.9M354.1 299.5H364.7M354.1 299.5V308M345.3 308H354.1M345.3 308V313M335.6 313H345.3M335.6 313V317.4M335.6 315.9H477.5M326.8 317.4H335.6M326.8 317.4V382M321.5 350.9H326.8M321.5 350.9V390M318.5 373V396.4M318.5 373H321.5" stroke="#a4a4a4" stroke-width="0.45" fill="none"/>
<path d="M457 303.4a1.2 1.2 0 1 0 2.4 0a1.2 1.2 0 1 0 -2.4 0M458.6 303.7a1.2 1.2 0 1 0 2.4 0a1.2 1.2 0 1 0 -2.4 0M462.3 303.6a1.2 1.2 0 1 0 2.4 0a1.2 1.2 0 1 0 -2.4 0M463.8 303.5a1.2 1.2 0 1 0 2.4 0a1.2 1.2 0 1 0 -2.4 0M465.6 303.5a1.2 1.2 0 1 0 2.4 0a1.2 1.2 0 1 0 -2.4 0M467.3 303.8a1.2 1.2 0 1 0 2.4 0a1.2 1.2 0 1 0 -2.4 0M452.2 305.4a1.2 1.2 0 1 0 2.4 0a1.2 1.2 0 1 0 -2.4 0M453.8 305.3a1.2 1.2 0 1 0 2.4 0a1.2 1.2 0 1 0 -2.4 0M457.4 305.5a1.2 1.2 0 1 0 2.4 0a1.2 1.2 0 1 0 -2.4 0M459.1 305.5a1.2 1.2 0 1 0 2.4 0a1.2 1.2 0 1 0 -2.4 0M460.5 305.3a1.2 1.2 0 1 0 2.4 0a1.2 1.2 0 1 0 -2.4 0M462.3 305.6a1.2 1.2 0 1 0 2.4 0a1.2 1.2 0 1 0 -2.4 0M464.3 305.1a1.2 1.2 0 1 0 2.4 0a1.2 1.2 0 1 0 -2.4 0M465.8 305.7a1.2 1.2 0 1 0 2.4 0a1.2 1.2 0 1 0 -2.4 0M467.4 305.5a1.2 1.2 0 1 0 2.4 0a1.2 1.2 0 1 0 -2.4 0M441.7 306.9a1.2 1.2 0 1 0 2.4 0a1.2 1.2 0 1 0 -2.4 0M443.5 307a1.2 1.2 0 1 0 2.4 0a1.2 1.2 0 1 0 -2.4 0M445.3 307.2a1.2 1.2 0 1 0 2.4 0a1.2 1.2 0 1 0 -2.4 0M447 307.2a1.2 1.2 0 1 0 2.4 0a1.2 1.2 0 1 0 -2.4 0M448.3 307.2a1.2 1.2 0 1 0 2.4 0a1.2 1.2 0 1 0 -2.4 0M450.1 306.8a1.2 1.2 0 1 0 2.4 0a1.2 1.2 0 1 0 -2.4 0M451.6 307a1.2 1.2 0 1 0 2.4 0a1.2 1.2 0 1 0 -2.4 0M453.2 307.3a1.2 1.2 0 1 0 2.4 0a1.2 1.2 0 1 0 -2.4 0M454.9 307.1a1.2 1.2 0 1 0 2.4 0a1.2 1.2 0 1 0 -2.4 0M457 306.9a1.2 1.2 0 1 0 2.4 0a1.2 1.2 0 1 0 -2.4 0M458.8 307.1a1.2 1.2 0 1 0 2.4 0a1.2 1.2 0 1 0 -2.4 0M460.5 306.9a1.2 1.2 0 1 0 2.4 0a1.2 1.2 0 1 0 -2.4 0M463.4 307.3a1.2 1.2 0 1 0 2.4 0a1.2 1.2 0 1 0 -2.4 0M436.1 309a1.2 1.2 0 1 0 2.4 0a1.2 1.2 0 1 0 -2.4 0M437.6 308.7a1.2 1.2 0 1 0 2.4 0a1.2 1.2 0 1 0 -2.4 0M439.4 308.7a1.2 1.2 0 1 0 2.4 0a1.2 1.2 0 1 0 -2.4 0M441 308.8a1.2 1.2 0 1 0 2.4 0a1.2 1.2 0 1 0 -2.4 0M443.2 309a1.2 1.2 0 1 0 2.4 0a1.2 1.2 0 1 0 -2.4 0M444.9 309a1.2 1.2 0 1 0 2.4 0a1.2 1.2 0 1 0 -2.4 0M446.3 308.9a1.2 1.2 0 1 0 2.4 0a1.2 1.2 0 1 0 -2.4 0M448 309.1a1.2 1.2 0 1 0 2.4 0a1.2 1.2 0 1 0 -2.4 0M449.7 308.5a1.2 1.2 0 1 0 2.4 0a1.2 1.2 0 1 0 -2.4 0M451.1 308.9a1.2 1.2 0 1 0 2.4 0a1.2 1.2 0 1 0 -2.4 0M453 309.1a1.2 1.2 0 1 0 2.4 0a1.2 1.2 0 1 0 -2.4 0M439.8 320.5a1.2 1.2 0 1 0 2.4 0a1.2 1.2 0 1 0 -2.4 0M441.8 320.4a1.2 1.2 0 1 0 2.4 0a1.2 1.2 0 1 0 -2.4 0M444.6 320.6a1.2 1.2 0 1 0 2.4 0a1.2 1.2 0 1 0 -2.4 0M433.8 308.8a1.2 1.2 0 1 0 2.4 0a1.2 1.2 0 1 0 -2.4 0M424.8 327a1.2 1.2 0 1 0 2.4 0a1.2 1.2 0 1 0 -2.4 0M432.8 326a1.2 1.2 0 1 0 2.4 0a1.2 1.2 0 1 0 -2.4 0M436.8 325a1.2 1.2 0 1 0 2.4 0a1.2 1.2 0 1 0 -2.4 0M439.8 327a1.2 1.2 0 1 0 2.4 0a1.2 1.2 0 1 0 -2.4 0M442.8 326a1.2 1.2 0 1 0 2.4 0a1.2 1.2 0 1 0 -2.4 0M448.5 333.3a1.2 1.2 0 1 0 2.4 0a1.2 1.2 0 1 0 -2.4 0M399.8 376a1.2 1.2 0 1 0 2.4 0a1.2 1.2 0 1 0 -2.4 0M403.8 376a1.2 1.2 0 1 0 2.4 0a1.2 1.2 0 1 0 -2.4 0M399.8 385.4a1.2 1.2 0 1 0 2.4 0a1.2 1.2 0 1 0 -2.4 0M403.8 385.4a1.2 1.2 0 1 0 2.4 0a1.2 1.2 0 1 0 -2.4 0M415.8 383.6a1.2 1.2 0 1 0 2.4 0a1.2 1.2 0 1 0 -2.4 0M422.8 384.8a1.2 1.2 0 1 0 2.4 0a1.2 1.2 0 1 0 -2.4 0M425.4 378.9a1.2 1.2 0 1 0 2.4 0a1.2 1.2 0 1 0 -2.4 0M443.8 377.7a1.2 1.2 0 1 0 2.4 0a1.2 1.2 0 1 0 -2.4 0M365.8 384a1.2 1.2 0 1 0 2.4 0a1.2 1.2 0 1 0 -2.4 0M388.8 384.5a1.2 1.2 0 1 0 2.4 0a1.2 1.2 0 1 0 -2.4 0M396.8 384.5a1.2 1.2 0 1 0 2.4 0a1.2 1.2 0 1 0 -2.4 0M465.8 392a1.2 1.2 0 1 0 2.4 0a1.2 1.2 0 1 0 -2.4 0M451.8 389a1.2 1.2 0 1 0 2.4 0a1.2 1.2 0 1 0 -2.4 0M419.9 331.4a1.2 1.2 0 1 0 2.4 0a1.2 1.2 0 1 0 -2.4 0M425.1 331.4a1.2 1.2 0 1 0 2.4 0a1.2 1.2 0 1 0 -2.4 0M427.6 331.5a1.2 1.2 0 1 0 2.4 0a1.2 1.2 0 1 0 -2.4 0M430 331.6a1.2 1.2 0 1 0 2.4 0a1.2 1.2 0 1 0 -2.4 0M432.5 331.3a1.2 1.2 0 1 0 2.4 0a1.2 1.2 0 1 0 -2.4 0M437.7 331.3a1.2 1.2 0 1 0 2.4 0a1.2 1.2 0 1 0 -2.4 0M442.6 331.7a1.2 1.2 0 1 0 2.4 0a1.2 1.2 0 1 0 -2.4 0M422.6 333.7a1.2 1.2 0 1 0 2.4 0a1.2 1.2 0 1 0 -2.4 0M427.8 333.3a1.2 1.2 0 1 0 2.4 0a1.2 1.2 0 1 0 -2.4 0M432.5 333.7a1.2 1.2 0 1 0 2.4 0a1.2 1.2 0 1 0 -2.4 0M435 333.4a1.2 1.2 0 1 0 2.4 0a1.2 1.2 0 1 0 -2.4 0M437.7 333.6a1.2 1.2 0 1 0 2.4 0a1.2 1.2 0 1 0 -2.4 0M440.2 333.4a1.2 1.2 0 1 0 2.4 0a1.2 1.2 0 1 0 -2.4 0M422.5 335.3a1.2 1.2 0 1 0 2.4 0a1.2 1.2 0 1 0 -2.4 0M425 335.4a1.2 1.2 0 1 0 2.4 0a1.2 1.2 0 1 0 -2.4 0M427.8 335.4a1.2 1.2 0 1 0 2.4 0a1.2 1.2 0 1 0 -2.4 0M430.1 335.7a1.2 1.2 0 1 0 2.4 0a1.2 1.2 0 1 0 -2.4 0M432.4 335.6a1.2 1.2 0 1 0 2.4 0a1.2 1.2 0 1 0 -2.4 0M435.3 335.6a1.2 1.2 0 1 0 2.4 0a1.2 1.2 0 1 0 -2.4 0M437.8 335.6a1.2 1.2 0 1 0 2.4 0a1.2 1.2 0 1 0 -2.4 0M440.1 335.3a1.2 1.2 0 1 0 2.4 0a1.2 1.2 0 1 0 -2.4 0M420 337.3a1.2 1.2 0 1 0 2.4 0a1.2 1.2 0 1 0 -2.4 0M422.7 337.6a1.2 1.2 0 1 0 2.4 0a1.2 1.2 0 1 0 -2.4 0M424.9 337.6a1.2 1.2 0 1 0 2.4 0a1.2 1.2 0 1 0 -2.4 0M427.4 337.6a1.2 1.2 0 1 0 2.4 0a1.2 1.2 0 1 0 -2.4 0M432.6 337.3a1.2 1.2 0 1 0 2.4 0a1.2 1.2 0 1 0 -2.4 0M435 337.4a1.2 1.2 0 1 0 2.4 0a1.2 1.2 0 1 0 -2.4 0M420.1 339.5a1.2 1.2 0 1 0 2.4 0a1.2 1.2 0 1 0 -2.4 0M422.4 339.7a1.2 1.2 0 1 0 2.4 0a1.2 1.2 0 1 0 -2.4 0M427.8 339.4a1.2 1.2 0 1 0 2.4 0a1.2 1.2 0 1 0 -2.4 0M430.2 339.5a1.2 1.2 0 1 0 2.4 0a1.2 1.2 0 1 0 -2.4 0M432.5 339.6a1.2 1.2 0 1 0 2.4 0a1.2 1.2 0 1 0 -2.4 0M435 339.6a1.2 1.2 0 1 0 2.4 0a1.2 1.2 0 1 0 -2.4 0M437.7 339.5a1.2 1.2 0 1 0 2.4 0a1.2 1.2 0 1 0 -2.4 0M440.1 339.6a1.2 1.2 0 1 0 2.4 0a1.2 1.2 0 1 0 -2.4 0M442.6 339.6a1.2 1.2 0 1 0 2.4 0a1.2 1.2 0 1 0 -2.4 0M444.6 341.2a1.2 1.2 0 1 0 2.4 0a1.2 1.2 0 1 0 -2.4 0M446.7 341.5a1.2 1.2 0 1 0 2.4 0a1.2 1.2 0 1 0 -2.4 0M448.8 341.5a1.2 1.2 0 1 0 2.4 0a1.2 1.2 0 1 0 -2.4 0M450.6 341.4a1.2 1.2 0 1 0 2.4 0a1.2 1.2 0 1 0 -2.4 0M454.3 341.7a1.2 1.2 0 1 0 2.4 0a1.2 1.2 0 1 0 -2.4 0M456.1 341.1a1.2 1.2 0 1 0 2.4 0a1.2 1.2 0 1 0 -2.4 0M458 341.2a1.2 1.2 0 1 0 2.4 0a1.2 1.2 0 1 0 -2.4 0M460.3 341.1a1.2 1.2 0 1 0 2.4 0a1.2 1.2 0 1 0 -2.4 0M444.1 343.4a1.2 1.2 0 1 0 2.4 0a1.2 1.2 0 1 0 -2.4 0M446.2 343.6a1.2 1.2 0 1 0 2.4 0a1.2 1.2 0 1 0 -2.4 0M447.9 343.2a1.2 1.2 0 1 0 2.4 0a1.2 1.2 0 1 0 -2.4 0M449.8 343.6a1.2 1.2 0 1 0 2.4 0a1.2 1.2 0 1 0 -2.4 0M452.3 343.2a1.2 1.2 0 1 0 2.4 0a1.2 1.2 0 1 0 -2.4 0M453.7 343.5a1.2 1.2 0 1 0 2.4 0a1.2 1.2 0 1 0 -2.4 0M457.5 343.3a1.2 1.2 0 1 0 2.4 0a1.2 1.2 0 1 0 -2.4 0M459.8 343.5a1.2 1.2 0 1 0 2.4 0a1.2 1.2 0 1 0 -2.4 0M444.7 345a1.2 1.2 0 1 0 2.4 0a1.2 1.2 0 1 0 -2.4 0M446.2 345.3a1.2 1.2 0 1 0 2.4 0a1.2 1.2 0 1 0 -2.4 0M448.2 344.9a1.2 1.2 0 1 0 2.4 0a1.2 1.2 0 1 0 -2.4 0M450.2 344.9a1.2 1.2 0 1 0 2.4 0a1.2 1.2 0 1 0 -2.4 0M452.1 345.3a1.2 1.2 0 1 0 2.4 0a1.2 1.2 0 1 0 -2.4 0M454 345.2a1.2 1.2 0 1 0 2.4 0a1.2 1.2 0 1 0 -2.4 0M456 345.3a1.2 1.2 0 1 0 2.4 0a1.2 1.2 0 1 0 -2.4 0M457.8 345a1.2 1.2 0 1 0 2.4 0a1.2 1.2 0 1 0 -2.4 0M415.6 344.8a1.2 1.2 0 1 0 2.4 0a1.2 1.2 0 1 0 -2.4 0M420.7 345.1a1.2 1.2 0 1 0 2.4 0a1.2 1.2 0 1 0 -2.4 0M423 345a1.2 1.2 0 1 0 2.4 0a1.2 1.2 0 1 0 -2.4 0M425.7 345.2a1.2 1.2 0 1 0 2.4 0a1.2 1.2 0 1 0 -2.4 0M430.8 345a1.2 1.2 0 1 0 2.4 0a1.2 1.2 0 1 0 -2.4 0M433.4 345a1.2 1.2 0 1 0 2.4 0a1.2 1.2 0 1 0 -2.4 0M440.9 344.9a1.2 1.2 0 1 0 2.4 0a1.2 1.2 0 1 0 -2.4 0M420.8 347a1.2 1.2 0 1 0 2.4 0a1.2 1.2 0 1 0 -2.4 0M425.6 347a1.2 1.2 0 1 0 2.4 0a1.2 1.2 0 1 0 -2.4 0M430.6 347.1a1.2 1.2 0 1 0 2.4 0a1.2 1.2 0 1 0 -2.4 0M433.3 347a1.2 1.2 0 1 0 2.4 0a1.2 1.2 0 1 0 -2.4 0M435.6 347a1.2 1.2 0 1 0 2.4 0a1.2 1.2 0 1 0 -2.4 0M438.3 347a1.2 1.2 0 1 0 2.4 0a1.2 1.2 0 1 0 -2.4 0M440.7 346.8a1.2 1.2 0 1 0 2.4 0a1.2 1.2 0 1 0 -2.4 0M415.6 348.8a1.2 1.2 0 1 0 2.4 0a1.2 1.2 0 1 0 -2.4 0M418 349a1.2 1.2 0 1 0 2.4 0a1.2 1.2 0 1 0 -2.4 0M423.1 349.2a1.2 1.2 0 1 0 2.4 0a1.2 1.2 0 1 0 -2.4 0M425.9 349.1a1.2 1.2 0 1 0 2.4 0a1.2 1.2 0 1 0 -2.4 0M430.8 349.1a1.2 1.2 0 1 0 2.4 0a1.2 1.2 0 1 0 -2.4 0M433.3 349a1.2 1.2 0 1 0 2.4 0a1.2 1.2 0 1 0 -2.4 0M435.7 348.9a1.2 1.2 0 1 0 2.4 0a1.2 1.2 0 1 0 -2.4 0M440.6 348.9a1.2 1.2 0 1 0 2.4 0a1.2 1.2 0 1 0 -2.4 0M443.3 349a1.2 1.2 0 1 0 2.4 0a1.2 1.2 0 1 0 -2.4 0M415.6 351.1a1.2 1.2 0 1 0 2.4 0a1.2 1.2 0 1 0 -2.4 0M420.9 350.8a1.2 1.2 0 1 0 2.4 0a1.2 1.2 0 1 0 -2.4 0M423.3 351.2a1.2 1.2 0 1 0 2.4 0a1.2 1.2 0 1 0 -2.4 0M425.6 351a1.2 1.2 0 1 0 2.4 0a1.2 1.2 0 1 0 -2.4 0M428.1 350.9a1.2 1.2 0 1 0 2.4 0a1.2 1.2 0 1 0 -2.4 0M433.1 350.8a1.2 1.2 0 1 0 2.4 0a1.2 1.2 0 1 0 -2.4 0M435.8 351.1a1.2 1.2 0 1 0 2.4 0a1.2 1.2 0 1 0 -2.4 0M438.3 350.9a1.2 1.2 0 1 0 2.4 0a1.2 1.2 0 1 0 -2.4 0M440.5 350.9a1.2 1.2 0 1 0 2.4 0a1.2 1.2 0 1 0 -2.4 0M418.4 353a1.2 1.2 0 1 0 2.4 0a1.2 1.2 0 1 0 -2.4 0M420.7 353a1.2 1.2 0 1 0 2.4 0a1.2 1.2 0 1 0 -2.4 0M425.8 353.1a1.2 1.2 0 1 0 2.4 0a1.2 1.2 0 1 0 -2.4 0M428.2 352.8a1.2 1.2 0 1 0 2.4 0a1.2 1.2 0 1 0 -2.4 0M433.1 353.2a1.2 1.2 0 1 0 2.4 0a1.2 1.2 0 1 0 -2.4 0M438.3 353.1a1.2 1.2 0 1 0 2.4 0a1.2 1.2 0 1 0 -2.4 0M440.6 353.2a1.2 1.2 0 1 0 2.4 0a1.2 1.2 0 1 0 -2.4 0M443.2 352.9a1.2 1.2 0 1 0 2.4 0a1.2 1.2 0 1 0 -2.4 0M418.3 355.1a1.2 1.2 0 1 0 2.4 0a1.2 1.2 0 1 0 -2.4 0M420.8 355a1.2 1.2 0 1 0 2.4 0a1.2 1.2 0 1 0 -2.4 0M425.5 355.1a1.2 1.2 0 1 0 2.4 0a1.2 1.2 0 1 0 -2.4 0M428.1 355.2a1.2 1.2 0 1 0 2.4 0a1.2 1.2 0 1 0 -2.4 0M430.8 354.8a1.2 1.2 0 1 0 2.4 0a1.2 1.2 0 1 0 -2.4 0M433.2 355a1.2 1.2 0 1 0 2.4 0a1.2 1.2 0 1 0 -2.4 0M435.7 355.2a1.2 1.2 0 1 0 2.4 0a1.2 1.2 0 1 0 -2.4 0M438.3 355.1a1.2 1.2 0 1 0 2.4 0a1.2 1.2 0 1 0 -2.4 0M440.7 354.9a1.2 1.2 0 1 0 2.4 0a1.2 1.2 0 1 0 -2.4 0M443.4 355.1a1.2 1.2 0 1 0 2.4 0a1.2 1.2 0 1 0 -2.4 0M418.1 357a1.2 1.2 0 1 0 2.4 0a1.2 1.2 0 1 0 -2.4 0M420.9 357a1.2 1.2 0 1 0 2.4 0a1.2 1.2 0 1 0 -2.4 0M423.1 357.1a1.2 1.2 0 1 0 2.4 0a1.2 1.2 0 1 0 -2.4 0M425.8 357.1a1.2 1.2 0 1 0 2.4 0a1.2 1.2 0 1 0 -2.4 0M428.1 356.9a1.2 1.2 0 1 0 2.4 0a1.2 1.2 0 1 0 -2.4 0M430.6 357.1a1.2 1.2 0 1 0 2.4 0a1.2 1.2 0 1 0 -2.4 0M435.7 357a1.2 1.2 0 1 0 2.4 0a1.2 1.2 0 1 0 -2.4 0M438.2 357a1.2 1.2 0 1 0 2.4 0a1.2 1.2 0 1 0 -2.4 0M440.6 356.9a1.2 1.2 0 1 0 2.4 0a1.2 1.2 0 1 0 -2.4 0M443.3 357a1.2 1.2 0 1 0 2.4 0a1.2 1.2 0 1 0 -2.4 0M415.7 359.1a1.2 1.2 0 1 0 2.4 0a1.2 1.2 0 1 0 -2.4 0M418 358.8a1.2 1.2 0 1 0 2.4 0a1.2 1.2 0 1 0 -2.4 0M420.8 358.9a1.2 1.2 0 1 0 2.4 0a1.2 1.2 0 1 0 -2.4 0M423.4 359.1a1.2 1.2 0 1 0 2.4 0a1.2 1.2 0 1 0 -2.4 0M425.7 359.2a1.2 1.2 0 1 0 2.4 0a1.2 1.2 0 1 0 -2.4 0M428.4 358.8a1.2 1.2 0 1 0 2.4 0a1.2 1.2 0 1 0 -2.4 0M430.8 359a1.2 1.2 0 1 0 2.4 0a1.2 1.2 0 1 0 -2.4 0M435.7 359.2a1.2 1.2 0 1 0 2.4 0a1.2 1.2 0 1 0 -2.4 0M438 359.2a1.2 1.2 0 1 0 2.4 0a1.2 1.2 0 1 0 -2.4 0M440.6 359a1.2 1.2 0 1 0 2.4 0a1.2 1.2 0 1 0 -2.4 0M415.5 360.8a1.2 1.2 0 1 0 2.4 0a1.2 1.2 0 1 0 -2.4 0M418.2 361a1.2 1.2 0 1 0 2.4 0a1.2 1.2 0 1 0 -2.4 0M423.2 360.9a1.2 1.2 0 1 0 2.4 0a1.2 1.2 0 1 0 -2.4 0M425.5 361a1.2 1.2 0 1 0 2.4 0a1.2 1.2 0 1 0 -2.4 0M430.8 360.9a1.2 1.2 0 1 0 2.4 0a1.2 1.2 0 1 0 -2.4 0M435.8 360.9a1.2 1.2 0 1 0 2.4 0a1.2 1.2 0 1 0 -2.4 0M438 361.1a1.2 1.2 0 1 0 2.4 0a1.2 1.2 0 1 0 -2.4 0M443.1 360.8a1.2 1.2 0 1 0 2.4 0a1.2 1.2 0 1 0 -2.4 0M418.4 363a1.2 1.2 0 1 0 2.4 0a1.2 1.2 0 1 0 -2.4 0M420.8 362.9a1.2 1.2 0 1 0 2.4 0a1.2 1.2 0 1 0 -2.4 0M423.2 363a1.2 1.2 0 1 0 2.4 0a1.2 1.2 0 1 0 -2.4 0M425.5 362.8a1.2 1.2 0 1 0 2.4 0a1.2 1.2 0 1 0 -2.4 0M428.1 362.8a1.2 1.2 0 1 0 2.4 0a1.2 1.2 0 1 0 -2.4 0M430.6 363a1.2 1.2 0 1 0 2.4 0a1.2 1.2 0 1 0 -2.4 0M433.3 363.1a1.2 1.2 0 1 0 2.4 0a1.2 1.2 0 1 0 -2.4 0M435.7 362.9a1.2 1.2 0 1 0 2.4 0a1.2 1.2 0 1 0 -2.4 0M438.3 363a1.2 1.2 0 1 0 2.4 0a1.2 1.2 0 1 0 -2.4 0M440.6 363.1a1.2 1.2 0 1 0 2.4 0a1.2 1.2 0 1 0 -2.4 0M443.3 363.2a1.2 1.2 0 1 0 2.4 0a1.2 1.2 0 1 0 -2.4 0M415.9 365.2a1.2 1.2 0 1 0 2.4 0a1.2 1.2 0 1 0 -2.4 0M423.2 364.8a1.2 1.2 0 1 0 2.4 0a1.2 1.2 0 1 0 -2.4 0M428.3 365.2a1.2 1.2 0 1 0 2.4 0a1.2 1.2 0 1 0 -2.4 0M430.5 365a1.2 1.2 0 1 0 2.4 0a1.2 1.2 0 1 0 -2.4 0M433.4 364.9a1.2 1.2 0 1 0 2.4 0a1.2 1.2 0 1 0 -2.4 0M435.8 365a1.2 1.2 0 1 0 2.4 0a1.2 1.2 0 1 0 -2.4 0M438 364.8a1.2 1.2 0 1 0 2.4 0a1.2 1.2 0 1 0 -2.4 0M440.5 365a1.2 1.2 0 1 0 2.4 0a1.2 1.2 0 1 0 -2.4 0M415.8 366.8a1.2 1.2 0 1 0 2.4 0a1.2 1.2 0 1 0 -2.4 0M423.1 366.9a1.2 1.2 0 1 0 2.4 0a1.2 1.2 0 1 0 -2.4 0M428.2 367a1.2 1.2 0 1 0 2.4 0a1.2 1.2 0 1 0 -2.4 0M430.6 366.9a1.2 1.2 0 1 0 2.4 0a1.2 1.2 0 1 0 -2.4 0M433.4 367a1.2 1.2 0 1 0 2.4 0a1.2 1.2 0 1 0 -2.4 0M435.5 367a1.2 1.2 0 1 0 2.4 0a1.2 1.2 0 1 0 -2.4 0M438.2 367.1a1.2 1.2 0 1 0 2.4 0a1.2 1.2 0 1 0 -2.4 0M440.6 367a1.2 1.2 0 1 0 2.4 0a1.2 1.2 0 1 0 -2.4 0M418.3 368.8a1.2 1.2 0 1 0 2.4 0a1.2 1.2 0 1 0 -2.4 0M420.6 369a1.2 1.2 0 1 0 2.4 0a1.2 1.2 0 1 0 -2.4 0M423.1 369.1a1.2 1.2 0 1 0 2.4 0a1.2 1.2 0 1 0 -2.4 0M425.5 369a1.2 1.2 0 1 0 2.4 0a1.2 1.2 0 1 0 -2.4 0M428.4 369.1a1.2 1.2 0 1 0 2.4 0a1.2 1.2 0 1 0 -2.4 0M430.7 368.8a1.2 1.2 0 1 0 2.4 0a1.2 1.2 0 1 0 -2.4 0M433.3 369.2a1.2 1.2 0 1 0 2.4 0a1.2 1.2 0 1 0 -2.4 0M435.7 369.1a1.2 1.2 0 1 0 2.4 0a1.2 1.2 0 1 0 -2.4 0M438.2 369.2a1.2 1.2 0 1 0 2.4 0a1.2 1.2 0 1 0 -2.4 0M440.7 369.1a1.2 1.2 0 1 0 2.4 0a1.2 1.2 0 1 0 -2.4 0M415.8 371.1a1.2 1.2 0 1 0 2.4 0a1.2 1.2 0 1 0 -2.4 0M418.2 371.1a1.2 1.2 0 1 0 2.4 0a1.2 1.2 0 1 0 -2.4 0M420.6 371a1.2 1.2 0 1 0 2.4 0a1.2 1.2 0 1 0 -2.4 0M425.7 371a1.2 1.2 0 1 0 2.4 0a1.2 1.2 0 1 0 -2.4 0M428.4 370.9a1.2 1.2 0 1 0 2.4 0a1.2 1.2 0 1 0 -2.4 0M430.8 371.2a1.2 1.2 0 1 0 2.4 0a1.2 1.2 0 1 0 -2.4 0M433.4 371a1.2 1.2 0 1 0 2.4 0a1.2 1.2 0 1 0 -2.4 0M435.8 371a1.2 1.2 0 1 0 2.4 0a1.2 1.2 0 1 0 -2.4 0M438.2 371.1a1.2 1.2 0 1 0 2.4 0a1.2 1.2 0 1 0 -2.4 0M440.8 370.8a1.2 1.2 0 1 0 2.4 0a1.2 1.2 0 1 0 -2.4 0M415.6 372.9a1.2 1.2 0 1 0 2.4 0a1.2 1.2 0 1 0 -2.4 0M420.7 373a1.2 1.2 0 1 0 2.4 0a1.2 1.2 0 1 0 -2.4 0M423.1 373.2a1.2 1.2 0 1 0 2.4 0a1.2 1.2 0 1 0 -2.4 0M425.5 373.2a1.2 1.2 0 1 0 2.4 0a1.2 1.2 0 1 0 -2.4 0M430.8 373.1a1.2 1.2 0 1 0 2.4 0a1.2 1.2 0 1 0 -2.4 0M433.1 373.2a1.2 1.2 0 1 0 2.4 0a1.2 1.2 0 1 0 -2.4 0M435.8 372.9a1.2 1.2 0 1 0 2.4 0a1.2 1.2 0 1 0 -2.4 0M438.4 373.1a1.2 1.2 0 1 0 2.4 0a1.2 1.2 0 1 0 -2.4 0M415.8 374.9a1.2 1.2 0 1 0 2.4 0a1.2 1.2 0 1 0 -2.4 0M418.3 375.1a1.2 1.2 0 1 0 2.4 0a1.2 1.2 0 1 0 -2.4 0M420.8 374.9a1.2 1.2 0 1 0 2.4 0a1.2 1.2 0 1 0 -2.4 0M423.3 374.8a1.2 1.2 0 1 0 2.4 0a1.2 1.2 0 1 0 -2.4 0M425.7 375.1a1.2 1.2 0 1 0 2.4 0a1.2 1.2 0 1 0 -2.4 0M428.3 374.8a1.2 1.2 0 1 0 2.4 0a1.2 1.2 0 1 0 -2.4 0M430.6 374.9a1.2 1.2 0 1 0 2.4 0a1.2 1.2 0 1 0 -2.4 0M433.3 375.1a1.2 1.2 0 1 0 2.4 0a1.2 1.2 0 1 0 -2.4 0M435.6 375a1.2 1.2 0 1 0 2.4 0a1.2 1.2 0 1 0 -2.4 0M438.1 375a1.2 1.2 0 1 0 2.4 0a1.2 1.2 0 1 0 -2.4 0M441.6 379.2a1.2 1.2 0 1 0 2.4 0a1.2 1.2 0 1 0 -2.4 0M443.5 379.4a1.2 1.2 0 1 0 2.4 0a1.2 1.2 0 1 0 -2.4 0M445.8 379.7a1.2 1.2 0 1 0 2.4 0a1.2 1.2 0 1 0 -2.4 0M447.5 379.3a1.2 1.2 0 1 0 2.4 0a1.2 1.2 0 1 0 -2.4 0M449.5 379.2a1.2 1.2 0 1 0 2.4 0a1.2 1.2 0 1 0 -2.4 0M451.4 379.3a1.2 1.2 0 1 0 2.4 0a1.2 1.2 0 1 0 -2.4 0M453.6 379.5a1.2 1.2 0 1 0 2.4 0a1.2 1.2 0 1 0 -2.4 0M455 379.5a1.2 1.2 0 1 0 2.4 0a1.2 1.2 0 1 0 -2.4 0M457.3 379.2a1.2 1.2 0 1 0 2.4 0a1.2 1.2 0 1 0 -2.4 0M461 379.7a1.2 1.2 0 1 0 2.4 0a1.2 1.2 0 1 0 -2.4 0M443.1 381.3a1.2 1.2 0 1 0 2.4 0a1.2 1.2 0 1 0 -2.4 0M444.7 381.5a1.2 1.2 0 1 0 2.4 0a1.2 1.2 0 1 0 -2.4 0M446.4 381.6a1.2 1.2 0 1 0 2.4 0a1.2 1.2 0 1 0 -2.4 0M448.3 381.3a1.2 1.2 0 1 0 2.4 0a1.2 1.2 0 1 0 -2.4 0M450.5 381.1a1.2 1.2 0 1 0 2.4 0a1.2 1.2 0 1 0 -2.4 0M452.1 381.2a1.2 1.2 0 1 0 2.4 0a1.2 1.2 0 1 0 -2.4 0M454.3 381a1.2 1.2 0 1 0 2.4 0a1.2 1.2 0 1 0 -2.4 0M456.4 381.1a1.2 1.2 0 1 0 2.4 0a1.2 1.2 0 1 0 -2.4 0M458.4 381.5a1.2 1.2 0 1 0 2.4 0a1.2 1.2 0 1 0 -2.4 0M460.1 381.6a1.2 1.2 0 1 0 2.4 0a1.2 1.2 0 1 0 -2.4 0M442 382.9a1.2 1.2 0 1 0 2.4 0a1.2 1.2 0 1 0 -2.4 0M444.3 383.5a1.2 1.2 0 1 0 2.4 0a1.2 1.2 0 1 0 -2.4 0M449.6 383a1.2 1.2 0 1 0 2.4 0a1.2 1.2 0 1 0 -2.4 0M451.6 383.5a1.2 1.2 0 1 0 2.4 0a1.2 1.2 0 1 0 -2.4 0M453.4 383.3a1.2 1.2 0 1 0 2.4 0a1.2 1.2 0 1 0 -2.4 0M455.4 383a1.2 1.2 0 1 0 2.4 0a1.2 1.2 0 1 0 -2.4 0M457.5 383a1.2 1.2 0 1 0 2.4 0a1.2 1.2 0 1 0 -2.4 0M459.1 383.4a1.2 1.2 0 1 0 2.4 0a1.2 1.2 0 1 0 -2.4 0M461.4 383.4a1.2 1.2 0 1 0 2.4 0a1.2 1.2 0 1 0 -2.4 0" fill="#960f0a"/>
<line x1="309.8" y1="400.5" x2="487" y2="400.5" stroke="#9a9a9a" stroke-width="0.8"/>
<text transform="translate(319.9,411.5) rotate(-90)" font-size="5.0" fill="#333" textLength="9.7" lengthAdjust="spacingAndGlyphs">1953</text>
<text transform="translate(329.3,411.5) rotate(-90)" font-size="5.0" fill="#333" textLength="9.7" lengthAdjust="spacingAndGlyphs">1957</text>
<text transform="translate(338.7,411.5) rotate(-90)" font-size="5.0" fill="#333" textLength="9.7" lengthAdjust="spacingAndGlyphs">1961</text>
<text transform="translate(348.1,411.5) rotate(-90)" font-size="5.0" fill="#333" textLength="9.7" lengthAdjust="spacingAndGlyphs">1965</text>
<text transform="translate(357.5,411.5) rotate(-90)" font-size="5.0" fill="#333" textLength="9.7" lengthAdjust="spacingAndGlyphs">1969</text>
<text transform="translate(366.9,411.5) rotate(-90)" font-size="5.0" fill="#333" textLength="9.7" lengthAdjust="spacingAndGlyphs">1973</text>
<text transform="translate(376.3,411.5) rotate(-90)" font-size="5.0" fill="#333" textLength="9.7" lengthAdjust="spacingAndGlyphs">1977</text>
<text transform="translate(385.7,411.5) rotate(-90)" font-size="5.0" fill="#333" textLength="9.7" lengthAdjust="spacingAndGlyphs">1981</text>
<text transform="translate(395.1,411.5) rotate(-90)" font-size="5.0" fill="#333" textLength="9.7" lengthAdjust="spacingAndGlyphs">1985</text>
<text transform="translate(404.5,411.5) rotate(-90)" font-size="5.0" fill="#333" textLength="9.7" lengthAdjust="spacingAndGlyphs">1989</text>
<text transform="translate(413.9,411.5) rotate(-90)" font-size="5.0" fill="#333" textLength="9.7" lengthAdjust="spacingAndGlyphs">1993</text>
<text transform="translate(423.3,411.5) rotate(-90)" font-size="5.0" fill="#333" textLength="9.7" lengthAdjust="spacingAndGlyphs">1997</text>
<text transform="translate(432.7,411.5) rotate(-90)" font-size="5.0" fill="#333" textLength="9.7" lengthAdjust="spacingAndGlyphs">2001</text>
<text transform="translate(442.1,411.5) rotate(-90)" font-size="5.0" fill="#333" textLength="9.7" lengthAdjust="spacingAndGlyphs">2005</text>
<text transform="translate(451.5,411.5) rotate(-90)" font-size="5.0" fill="#333" textLength="9.7" lengthAdjust="spacingAndGlyphs">2009</text>
<text transform="translate(460.9,411.5) rotate(-90)" font-size="5.0" fill="#333" textLength="9.7" lengthAdjust="spacingAndGlyphs">2013</text>
<text transform="translate(470.3,411.5) rotate(-90)" font-size="5.0" fill="#333" textLength="9.7" lengthAdjust="spacingAndGlyphs">2017</text>
<text transform="translate(479.7,411.5) rotate(-90)" font-size="5.0" fill="#333" textLength="9.7" lengthAdjust="spacingAndGlyphs">2021</text>
<text transform="translate(489.1,411.5) rotate(-90)" font-size="5.0" fill="#333" textLength="9.7" lengthAdjust="spacingAndGlyphs">2025</text>
<path d="M318.1 400.5V401.8M327.5 400.5V401.8M336.9 400.5V401.8M346.3 400.5V401.8M355.7 400.5V401.8M365.1 400.5V401.8M374.5 400.5V401.8M383.9 400.5V401.8M393.3 400.5V401.8M402.7 400.5V401.8M412.1 400.5V401.8M421.5 400.5V401.8M430.9 400.5V401.8M440.3 400.5V401.8M449.7 400.5V401.8M459.1 400.5V401.8M468.5 400.5V401.8M477.9 400.5V401.8M487.3 400.5V401.8" stroke="#9a9a9a" stroke-width="0.5" fill="none"/>
<line x1="477.2" y1="303.2" x2="477.2" y2="312.8" stroke="#2a55a8" stroke-width="1.3"/>
<line x1="482.5" y1="321" x2="482.5" y2="383" stroke="#2a55a8" stroke-width="1.4"/>
<line x1="484.8" y1="383.6" x2="484.8" y2="393.2" stroke="#9bb0d8" stroke-width="1.3"/>
<line x1="467.9" y1="394" x2="467.9" y2="400.5" stroke="#2a55a8" stroke-width="1.3"/>
<text x="479.7" y="312.6" font-size="13" fill="#000" textLength="25" lengthAdjust="spacingAndGlyphs">G-III</text>
<text x="484.3" y="356.7" font-size="13" fill="#000" textLength="20.5" lengthAdjust="spacingAndGlyphs">G-II</text>
<text x="486.9" y="392.5" font-size="13" fill="#b0b0b0" textLength="17" lengthAdjust="spacingAndGlyphs">G-I</text>
<text x="469.6" y="400.3" font-size="7" fill="#000" textLength="14.5" lengthAdjust="spacingAndGlyphs">G-IV</text>
<path d="M517.5 319.5V327M517.5 319.5V319.5M517.5 319.5H524.2M524.2 316.5V319.5M524.2 316.5V316.5M524.2 316.5H535.5M535.5 313.5V316.5M535.5 313.5V313.5M535.5 313.5H539.2M539.2 310.5V313.5M539.2 310.5V310.5M539.2 310.5H544.5M544.5 294.7V310.5M544.5 294.7V294.7M544.5 294.7H547.5M547.5 294.7V294.7M547.5 294.7H555M555 288V294.7M555 288V288M555 288H558M558 274.5V288M558 274.5V274.5M558 274.5H562.5M562.5 267.7V274.5M562.5 267.7V267.7M562.5 267.7H570M570 263V267.7M570 263V263M570 263H580.5M580.5 250.5V263M580.5 250.5V250.5M580.5 250.5H585M588.1 249H594.1M596.1 250.6H596.5M596.1 251.2H596.5M596.1 250.6V251.2M595.5 250.9H596.1M595.5 251.7H595.9M595.5 250.9V251.7M595 251.3H595.5M595 252.3H596.8M595 251.3V252.3M593.9 251.8H595M593.9 252.8H597.9M593.9 251.8V252.8M592.8 252.3H593.9M592.8 253.4H597.1M592.8 252.3V253.4M590.9 252.8H592.8M590.9 253.9H596.1M590.9 252.8V253.9M588.1 253.4H590.9M588.1 249V253.4M587.5 252.3H588.1M593.4 256.2H595.9M593.4 256.7H594.8M593.4 256.2V256.7M592.5 256.5H593.4M592.5 257.3H596.2M592.5 256.5V257.3M591.2 256.9H592.5M591.2 257.9H592.9M591.2 256.9V257.9M590.8 257.4H591.2M590.8 258.4H595.3M590.8 257.4V258.4M589.8 257.9H590.8M589.8 259H594.8M589.8 257.9V259M588 258.4H589.8M588 259.6H595.1M588 258.4V259.6M587.5 259H588M587.5 252.3V259M586.8 257.3H587.5M587.3 261.6H597.5M587.3 262.4H596.9M587.3 261.6V262.4M586.8 262H587.3M586.8 257.3V262M586.2 260.8H586.8M590 264.1H593M590 264.8H595.8M590 264.1V264.8M588.8 264.5H590M588.8 265.6H593.6M588.8 264.5V265.6M586.2 265H588.8M586.2 260.8V265M585.5 264H586.2M587.4 267.9H594.1M587.4 268.3H594.1M587.4 267.9V268.3M585.5 268.1H587.4M585.5 264V268.1M580.5 267H585.5M580.5 258V267M566.9 268.5H578.1M569 270.5H575.7M569 271.6H575.6M569 270.5V271.6M567.4 271.1H569M567.4 272.7H573.9M567.4 271.1V272.7M566.9 271.9H567.4M566.9 268.5V271.9M566.2 271H566.9M566.7 274.8H573.7M567.8 275.4H572.5M567.8 276.1H572.4M567.8 275.4V276.1M566.7 275.8H567.8M566.7 274.8V275.8M566.2 275.3H566.7M566.2 271V275.3M565.6 274.2H566.2M566.1 278.1H570.8M567.8 278.7H569.7M567.8 279.4H570.9M567.8 278.7V279.4M567.4 279.1H567.8M567.4 280.1H569.4M567.4 279.1V280.1M567.2 279.6H567.4M567.2 280.7H570.9M567.2 279.6V280.7M566.1 280.1H567.2M566.1 278.1V280.1M565.6 279.1H566.1M565.6 274.2V279.1M562.5 277.9H565.6M562.5 272V277.9M574.9 284.4H586.8M574.9 285.2H585.9M574.9 284.4V285.2M562.5 284.8H574.9M571.3 287.6H580.9M572.3 288.2H579.9M572.7 288.9H577.4M573.1 289.5H578.8M573.1 290.2H575.5M573.1 289.5V290.2M572.7 289.9H573.1M572.7 288.9V289.9M572.3 289.4H572.7M572.3 288.2V289.4M571.3 288.8H572.3M571.3 287.6V288.8M568.6 288.2H571.3M568.6 290.8H574M568.6 288.2V290.8M562.5 289.5H568.6M562.5 284.8V289.5M561.8 288.3H562.5M561.8 292.2H575M561.8 288.3V292.2M561.2 291.2H561.8M561.7 294.2H569.6M564.9 295H571.2M564.9 295.8H570.3M564.9 295V295.8M563.9 295.4H564.9M563.9 296.6H567.3M563.9 295.4V296.6M561.7 296H563.9M561.7 294.2V296M561.2 295.1H561.7M561.2 291.2V295.1M560.5 294.1H561.2M561 298.7H568.4M561 298.9H569.6M561 298.7V298.9M560.5 298.8H561M560.5 294.1V298.8M555 297.6H560.5M555 292V297.6M556.9 300.3H563.2M556.9 301H564.4M556.9 300.3V301M555 300.7H556.9M555 301.7H564.2M555 300.7V301.7M553.5 301.2H555M553.5 302.4H562.8M553.5 301.2V302.4M551.3 301.8H553.5M551.3 303.1H564.7M551.3 301.8V303.1M550.8 302.5H551.3M554.9 305.3H563.5M554.9 306.4H565.1M554.9 305.3V306.4M550.8 305.9H554.9M550.8 302.5V305.9M549.7 305H550.8M556.5 309.3H569.9M556.5 310.7H570.3M556.5 309.3V310.7M549.7 310H556.5M549.7 305V310M548.6 308.7H549.7M564.4 313.3H572.5M564.4 314H570.9M564.4 313.3V314M562.2 313.6H564.4M562.2 314.7H573.6M562.2 313.6V314.7M548.6 314.1H562.2M548.6 308.7V314.1M544.5 312.8H548.6M544.5 305V312.8M549.5 317.3H563.1M549.5 318.9H560.3M549.5 317.3V318.9M531 318.1H549.5M533 321.9H555M533 323.2H551.8M533 321.9V323.2M531 322.6H533M531 318.1V322.6M528.8 321.5H531M530.3 325.6H548.5M530.3 326.5H545.9M530.3 325.6V326.5M528.8 326.1H530.3M528.8 321.5V326.1M524.2 324.9H528.8M524.2 321V324.9" stroke="#8c88ee" stroke-width="0.55" fill="none"/>
<line x1="514" y1="329.8" x2="601.9" y2="329.8" stroke="#9a9a9a" stroke-width="0.8"/>
<text transform="translate(520.7,340) rotate(-90)" font-size="3.2" fill="#666" textLength="7" lengthAdjust="spacingAndGlyphs">1964</text>
<text transform="translate(530.2,340) rotate(-90)" font-size="3.2" fill="#666" textLength="7" lengthAdjust="spacingAndGlyphs">1970</text>
<text transform="translate(539.7,340) rotate(-90)" font-size="3.2" fill="#666" textLength="7" lengthAdjust="spacingAndGlyphs">1976</text>
<text transform="translate(549.2,340) rotate(-90)" font-size="3.2" fill="#666" textLength="7" lengthAdjust="spacingAndGlyphs">1982</text>
<text transform="translate(558.7,340) rotate(-90)" font-size="3.2" fill="#666" textLength="7" lengthAdjust="spacingAndGlyphs">1988</text>
<text transform="translate(568.2,340) rotate(-90)" font-size="3.2" fill="#666" textLength="7" lengthAdjust="spacingAndGlyphs">1994</text>
<text transform="translate(577.7,340) rotate(-90)" font-size="3.2" fill="#666" textLength="7" lengthAdjust="spacingAndGlyphs">2000</text>
<text transform="translate(587.2,340) rotate(-90)" font-size="3.2" fill="#666" textLength="7" lengthAdjust="spacingAndGlyphs">2006</text>
<text transform="translate(596.7,340) rotate(-90)" font-size="3.2" fill="#666" textLength="7" lengthAdjust="spacingAndGlyphs">2012</text>
<path d="M519.5 329.8V331.1M529 329.8V331.1M538.5 329.8V331.1M548 329.8V331.1M557.5 329.8V331.1M567 329.8V331.1M576.5 329.8V331.1M586 329.8V331.1M595.5 329.8V331.1" stroke="#9a9a9a" stroke-width="0.5" fill="none"/>
<path d="M517.1 387.4V396.4M517.1 387.4V387.4M517.1 387.4H549.5M549.5 379V387.4M549.5 379V379M549.5 379H566M566 364.3V379M566 364.3V364.3M566 364.3H583.4M583.4 353V364.3M583.4 353V353M583.4 353H599M599 338.5V353M599 338.5V338.5M599 338.5H612.4M612.4 332V338.5M612.4 332V332M612.4 332H621.4M621.4 258.5V332M517.1 396.4H600M549.5 395H590M566 394H580M645.6 377.1H659.7M653.1 377.3H656.3M653.1 377.5H658.3M653.1 377.3V377.5M652.2 377.4H653.1M654.7 377.7H659.5M654.7 377.9H658.1M654.7 377.7V377.9M653.8 377.8H654.7M653.8 378.2H660.5M653.8 377.8V378.2M652.2 378H653.8M652.2 377.4V378M650.5 377.7H652.2M650.5 378.4H658.4M650.5 377.7V378.4M649.5 378H650.5M654.6 378.6H659.9M655 378.8H659.8M655 379H657.9M655 378.8V379M654.6 378.9H655M654.6 378.6V378.9M652.5 378.7H654.6M652.5 379.2H660.6M652.5 378.7V379.2M649.5 379H652.5M649.5 378V379M648.1 378.5H649.5M653.1 379.4H660.6M654.4 379.6H655.4M654.4 379.8H656.4M654.4 379.6V379.8M653.1 379.7H654.4M653.1 379.4V379.7M652.4 379.6H653.1M652.4 380.1H661.1M652.4 379.6V380.1M651 379.8H652.4M651 380.3H660.6M651 379.8V380.3M648.1 380H651M648.1 378.5V380M645.6 379.3H648.1M645.6 377.1V379.3M643.7 378.2H645.6M646.6 380.5H658.7M653 380.7H659M653 380.9H663.3M653 380.7V380.9M650.2 380.8H653M650.2 381.1H660.8M650.2 380.8V381.1M646.6 381H650.2M646.6 380.5V381M643.7 380.7H646.6M643.7 378.2V380.7M641.5 379.5H643.7M649.9 381.3H663.1M654.1 381.5H660.8M654.1 381.7H664.1M654.1 381.5V381.7M649.9 381.6H654.1M649.9 381.3V381.6M649 381.5H649.9M655.5 382H664.4M655.5 382.2H659.3M655.5 382V382.2M651.8 382.1H655.5M652.6 382.4H664.6M652.6 382.6H663.2M652.6 382.4V382.6M651.8 382.5H652.6M651.8 382.1V382.5M649 382.3H651.8M649 381.5V382.3M644.3 381.9H649M644.3 382.8H659M644.3 381.9V382.8M641.5 382.3H644.3M641.5 379.5V382.3M622.7 380.9H641.5M651.5 383.8H665.1M651.5 384H662.1M651.5 383.8V384M650.4 383.9H651.5M660.6 384.3H661.8M662 384.5H662.4M662 384.8H664M662 384.5V384.8M660.9 384.7H662M661.4 385H664.9M661.4 385.3H663M661.4 385V385.3M660.9 385.2H661.4M660.9 384.7V385.2M660.6 384.9H660.9M660.6 384.3V384.9M660.3 384.6H660.6M660.3 385.5H660.7M660.3 384.6V385.5M658.4 385.1H660.3M660.6 385.8H661.1M660.6 386H661M660.6 385.8V386M659.8 385.9H660.6M660.5 386.3H664.4M660.5 386.5H660.9M660.5 386.3V386.5M659.8 386.4H660.5M659.8 385.9V386.4M658.4 386.2H659.8M658.4 385.1V386.2M658 385.6H658.4M658 386.8H660M658 385.6V386.8M655.4 386.2H658M655.4 387H655.9M655.4 386.2V387M653.3 386.6H655.4M653.3 387.3H660.5M653.3 386.6V387.3M650.4 387H653.3M650.4 383.9V387M645.5 385.4H650.4M648.9 387.5H658.4M654.4 387.8H663.1M654.4 388H660.1M654.4 387.8V388M653.6 387.9H654.4M653.6 388.3H655.2M653.6 387.9V388.3M651 388.1H653.6M651 388.5H661.3M651 388.1V388.5M650.2 388.3H651M650.2 388.8H661.3M650.2 388.3V388.8M648.9 388.6H650.2M648.9 387.5V388.6M645.5 388H648.9M645.5 385.4V388M622.7 386.7H645.5M622.7 380.9V386.7M621 385.3H622.7M621 389.3H656.2M621 385.3V389.3M601 388.3H621M635.1 390.6H655.2M648.2 390.8H653.2M648.2 391.1H653.1M648.2 390.8V391.1M646.3 391H648.2M646.3 391.4H652.5M646.3 391V391.4M644.2 391.2H646.3M644.2 391.6H652.4M644.2 391.2V391.6M641.1 391.4H644.2M641.1 391.9H642.7M641.1 391.4V391.9M637.5 391.6H641.1M637.5 392.2H649.4M637.5 391.6V392.2M635.1 391.9H637.5M635.1 390.6V391.9M632.3 391.2H635.1M633.6 392.4H647.9M633.6 392.7H645.8M633.6 392.4V392.7M632.3 392.6H633.6M632.3 391.2V392.6M629.8 391.9H632.3M632.1 393H645.1M632.1 393.2H641.9M632.1 393V393.2M629.8 393.1H632.1M629.8 391.9V393.1M625.1 392.5H629.8M628.6 393.5H638.9M628.6 393.8H638.5M628.6 393.5V393.8M625.1 393.7H628.6M625.1 392.5V393.7M622.1 393.1H625.1M622.9 394.1H638.2M623.7 394.3H636.2M623.7 394.6H634.4M623.7 394.3V394.6M622.9 394.5H623.7M622.9 394.1V394.5M622.1 394.3H622.9M622.1 393.1V394.3M616.5 393.7H622.1M616.5 394.9H632.6M616.5 393.7V394.9M601 394.3H616.5M601 388.3V394.3M590 392.8H601M590 392.8V394.5M656.1 342.6H657.2M657.2 342.9H657.6M657.2 343.2H657.6M657.2 342.9V343.2M656.1 343H657.2M656.1 342.6V343M654.9 342.8H656.1M654.9 343.4H656.7M654.9 342.8V343.4M653.1 343.1H654.9M653.1 343.7H655.8M653.1 343.1V343.7M650.4 343.4H653.1M653.1 344H659.5M655.2 344.2H660.9M655.2 344.5H655.6M655.2 344.2V344.5M653.1 344.4H655.2M653.1 344V344.4M650.4 344.2H653.1M650.4 343.4V344.2M646.5 343.8H650.4M651.7 344.8H652.1M655.3 345H658.7M656.3 345.3H657.5M656.3 345.6H657.2M656.3 345.3V345.6M655.3 345.5H656.3M655.3 345V345.5M654.1 345.2H655.3M654.1 345.9H660.9M654.1 345.2V345.9M651.7 345.6H654.1M651.7 344.8V345.6M649.7 345.2H651.7M655.6 346.1H659.2M660.7 346.4H661.1M661.3 346.7H661.7M661.5 346.9H661.9M661.5 347.2H661.9M661.5 346.9V347.2M661.3 347.1H661.5M661.3 346.7V347.1M660.7 346.9H661.3M660.7 346.4V346.9M660.5 346.6H660.7M660.5 347.5H663.4M660.5 346.6V347.5M659.8 347H660.5M659.8 347.7H661.6M659.8 347V347.7M658.9 347.4H659.8M658.9 348H659.3M658.9 347.4V348M657.7 347.7H658.9M657.7 348.3H662.4M657.7 347.7V348.3M655.6 348H657.7M655.6 346.1V348M652.9 347H655.6M652.9 348.5H664.2M652.9 347V348.5M649.7 347.8H652.9M649.7 345.2V347.8M647.7 346.5H649.7M650.6 348.8H664.7M651.9 349.1H664.2M651.9 349.3H661.3M651.9 349.1V349.3M650.6 349.2H651.9M650.6 348.8V349.2M647.7 349H650.6M647.7 346.5V349M646.5 347.7H647.7M646.5 343.8V347.7M629 345.8H646.5M652.2 351.1H664.7M658.6 351.5H660.7M661.5 351.9H663.1M661.8 352.3H665.1M661.8 352.7H662.3M661.8 352.3V352.7M661.5 352.5H661.8M661.5 351.9V352.5M661.3 352.2H661.5M662.2 353.1H662.6M662.9 353.5H663.3M662.9 353.9H664.5M662.9 353.5V353.9M662.2 353.7H662.9M662.2 353.1V353.7M661.9 353.4H662.2M661.9 354.3H662.3M661.9 353.4V354.3M661.5 353.8H661.9M661.5 354.7H661.9M661.5 353.8V354.7M661.3 354.2H661.5M661.3 352.2V354.2M660 353.2H661.3M660 355.1H661.3M660 353.2V355.1M659.1 354.1H660M659.1 355.5H659.9M659.1 354.1V355.5M658.6 354.8H659.1M658.6 351.5V354.8M657 353.1H658.6M659.1 355.9H659.5M659.1 356.3H659.5M659.1 355.9V356.3M657 356.1H659.1M657 353.1V356.1M654.8 354.6H657M654.8 356.7H663M654.8 354.6V356.7M652.2 355.6H654.8M652.2 351.1V355.6M648.6 353.3H652.2M648.6 357.1H661.8M648.6 353.3V357.1M646.8 355.2H648.6M651.7 357.5H662.2M656.8 357.9H663M656.8 358.3H662.9M656.8 357.9V358.3M655.7 358.1H656.8M655.7 358.7H661.8M655.7 358.1V358.7M654.6 358.4H655.7M654.6 359.1H657.7M654.6 358.4V359.1M651.7 358.7H654.6M651.7 357.5V358.7M650.4 358.1H651.7M650.4 359.5H660.9M650.4 358.1V359.5M646.8 358.8H650.4M646.8 355.2V358.8M629 357H646.8M629 345.8V357M624.1 354.2H629M641.1 360.2H644.3M644 360.5H652.2M644 360.7H651.6M644 360.5V360.7M641.1 360.6H644M641.1 360.2V360.6M639.1 360.4H641.1M639.1 360.9H650M639.1 360.4V360.9M637.9 360.7H639.1M644.5 361.2H651M644.5 361.4H651.9M644.5 361.2V361.4M642.9 361.3H644.5M646.5 361.6H650.3M646.5 361.9H648.6M646.5 361.6V361.9M645.9 361.8H646.5M645.9 362.1H646.3M645.9 361.8V362.1M644.8 361.9H645.9M646 362.3H649.3M647.8 362.6H650.5M647.8 362.8H650.8M647.8 362.6V362.8M646.9 362.7H647.8M648 363H648.8M648 363.3H648.4M648 363V363.3M646.9 363.2H648M646.9 362.7V363.2M646 362.9H646.9M646 362.3V362.9M645.2 362.6H646M645.2 363.5H650.4M645.2 362.6V363.5M644.8 363.1H645.2M644.8 361.9V363.1M644.4 362.5H644.8M645.6 363.7H646.2M646.2 364H648.6M646.2 364.2H646.6M646.2 364V364.2M645.6 364.1H646.2M645.6 363.7V364.1M644.4 363.9H645.6M644.4 362.5V363.9M643.6 363.2H644.4M645.9 364.5H646.3M645.9 364.7H649.8M645.9 364.5V364.7M644.9 364.6H645.9M644.9 364.9H646.3M644.9 364.6V364.9M643.6 364.7H644.9M643.6 363.2V364.7M642.9 364H643.6M642.9 361.3V364M641.3 362.6H642.9M641.3 365.2H649.1M641.3 362.6V365.2M637.9 363.9H641.3M637.9 360.7V363.9M624.1 362.3H637.9M624.1 354.2V362.3M618.3 360.3H624.1M629 365.8H652M644.5 366.1H655.6M644.5 366.5H649.2M644.5 366.1V366.5M643.8 366.3H644.5M643.8 366.8H648.5M643.8 366.3V366.8M642.3 366.6H643.8M642.3 367.2H651M642.3 366.6V367.2M640.6 366.9H642.3M643.3 367.5H649.8M643.3 367.9H651.5M643.3 367.5V367.9M640.6 367.7H643.3M640.6 366.9V367.7M639.8 367.3H640.6M639.8 368.2H652.3M639.8 367.3V368.2M636.6 367.7H639.8M636.6 368.6H653M636.6 367.7V368.6M629 368.1H636.6M629 365.8V368.1M624.5 367H629M640.8 368.9H649.4M640.8 369.3H649.5M640.8 368.9V369.3M636.2 369.1H640.8M636.2 369.6H651.8M636.2 369.1V369.6M634.6 369.3H636.2M634.6 370H649.3M634.6 369.3V370M630.2 369.6H634.6M641.6 370.3H643.8M641.6 370.7H645.4M641.6 370.3V370.7M640.8 370.5H641.6M640.8 371H645.5M640.8 370.5V371M638.6 370.7H640.8M638.6 371.4H647.1M638.6 370.7V371.4M636 371H638.6M636 371.7H642.9M636 371V371.7M635.2 371.4H636M635.2 372H639.7M635.2 371.4V372M630.2 371.7H635.2M630.2 369.6V371.7M624.5 370.7H630.2M624.5 367V370.7M618.3 368.8H624.5M618.3 360.3V368.8M615.6 366.7H618.3M631.4 372.8H648.5M634.3 373H645.2M634.3 373.2H642.4M634.3 373V373.2M631.4 373.1H634.3M631.4 372.8V373.1M630.1 372.9H631.4M630.1 373.4H643.5M630.1 372.9V373.4M625.1 373.2H630.1M633.1 373.6H643.9M638.7 373.8H644.3M638.7 374H644.7M638.7 373.8V374M636.5 373.9H638.7M641 374.3H643.9M641 374.5H644.2M641 374.3V374.5M639.3 374.4H641M639.3 374.7H644.8M639.3 374.4V374.7M637.4 374.5H639.3M637.4 374.9H644.1M637.4 374.5V374.9M636.5 374.7H637.4M636.5 373.9V374.7M633.1 374.3H636.5M633.1 373.6V374.3M629.2 374H633.1M633.5 375.1H642.9M633.5 375.3H640.4M633.5 375.1V375.3M629.2 375.2H633.5M629.2 374V375.2M625.1 374.6H629.2M625.1 373.2V374.6M615.6 373.9H625.1M615.6 366.7V373.9M599 372.1H615.6M599 368V372.1M671.8 306.7H673.7M671.8 307H672.9M671.8 306.7V307M670.6 306.9H671.8M673.1 307.4H673.5M673.8 307.8H675.1M673.8 308.1H674.2M673.8 307.8V308.1M673.1 307.9H673.8M673.1 307.4V307.9M672.5 307.7H673.1M672.5 308.5H674.3M672.5 307.7V308.5M672.2 308.1H672.5M672.2 308.8H675.4M672.2 308.1V308.8M671.8 308.4H672.2M672.4 309.2H672.8M672.4 309.5H672.8M672.4 309.2V309.5M671.8 309.4H672.4M671.8 308.4V309.4M671.4 308.9H671.8M671.4 309.9H674.5M671.4 308.9V309.9M670.6 309.4H671.4M670.6 306.9V309.4M670.3 308.1H670.6M672.7 310.3H673.1M672.7 310.6H674.4M672.7 310.3V310.6M671.5 310.4H672.7M671.5 311H672.6M671.5 310.4V311M670.3 310.7H671.5M670.3 308.1V310.7M669.8 309.4H670.3M670.8 311.3H674.9M670.8 311.7H671.2M670.8 311.3V311.7M669.8 311.5H670.8M669.8 309.4V311.5M669.2 310.5H669.8M673.1 312.1H674.3M673.1 312.4H673.5M673.1 312.1V312.4M672.7 312.2H673.1M672.7 312.8H673.1M672.7 312.2V312.8M671.7 312.5H672.7M671.7 313.1H672.1M671.7 312.5V313.1M671.1 312.8H671.7M671.1 313.5H674.2M671.1 312.8V313.5M670 313.1H671.1M670 313.8H676.2M670 313.1V313.8M669.2 313.5H670M669.2 310.5V313.5M666.9 312H669.2M668.2 314.2H675.6M668.2 314.6H674M668.2 314.2V314.6M666.9 314.4H668.2M666.9 312V314.4M646.9 313.2H666.9M666 316.2H667.5M666 316.4H672.9M666 316.2V316.4M664.9 316.3H666M664.9 316.7H667.2M664.9 316.3V316.7M661.3 316.5H664.9M662.3 316.9H669.9M662.3 317.1H669.5M662.3 316.9V317.1M661.3 317H662.3M661.3 316.5V317M658.5 316.7H661.3M665.8 317.3H672.5M669.4 317.5H670.7M670.4 317.7H672.2M670.4 317.9H674.1M670.4 317.7V317.9M669.4 317.8H670.4M669.4 317.5V317.8M668.3 317.6H669.4M668.3 318.1H671.7M668.3 317.6V318.1M665.8 317.9H668.3M665.8 317.3V317.9M662.4 317.6H665.8M662.4 318.3H672M662.4 317.6V318.3M658.5 317.9H662.4M658.5 316.7V317.9M654.4 317.3H658.5M665.2 318.5H668M665.2 318.7H672.5M665.2 318.5V318.7M662 318.6H665.2M662 318.9H672.2M662 318.6V318.9M659.8 318.8H662M659.8 319.2H668.3M659.8 318.8V319.2M654.4 319H659.8M654.4 317.3V319M653.3 318.2H654.4M663.1 319.4H668.4M666.5 319.6H667.8M666.5 319.8H672.8M666.5 319.6V319.8M665.7 319.7H666.5M665.7 320H671.4M665.7 319.7V320M664.8 319.8H665.7M664.8 320.2H671.7M664.8 319.8V320.2M663.1 320H664.8M663.1 319.4V320M661.7 319.7H663.1M663.5 320.4H663.9M663.5 320.6H671.6M663.5 320.4V320.6M661.7 320.5H663.5M661.7 319.7V320.5M658.7 320.1H661.7M658.7 320.8H672M658.7 320.1V320.8M653.3 320.5H658.7M653.3 318.2V320.5M647.4 319.3H653.3M667.4 321H671.2M667.4 321.2H668.1M667.4 321V321.2M665.3 321.1H667.4M665.3 321.4H671.2M665.3 321.1V321.4M662.5 321.3H665.3M662.5 321.7H664.4M662.5 321.3V321.7M660.5 321.5H662.5M660.5 321.9H669.8M660.5 321.5V321.9M659.8 321.7H660.5M659.8 322.1H670M659.8 321.7V322.1M658.5 321.9H659.8M658.5 322.3H670.4M658.5 321.9V322.3M655.3 322.1H658.5M657.1 322.5H671M658.4 322.7H670.9M658.4 322.9H667.6M658.4 322.7V322.9M657.1 322.8H658.4M657.1 322.5V322.8M655.3 322.6H657.1M655.3 322.1V322.6M653.4 322.4H655.3M658 323.1H667.6M658 323.3H670.9M658 323.1V323.3M653.4 323.2H658M653.4 322.4V323.2M647.4 322.8H653.4M647.4 319.3V322.8M646.9 321H647.4M646.9 313.2V321M638.9 319.1H646.9M647 325.1H664M652.2 325.4H665.1M652.2 325.8H657.6M652.2 325.4V325.8M647 325.6H652.2M647 325.1V325.6M639.4 325.4H647M640.8 326.1H663.5M656.9 326.4H659.7M656.9 326.7H662.1M656.9 326.4V326.7M654.6 326.6H656.9M654.6 327H660.4M654.6 326.6V327M652.8 326.8H654.6M652.8 327.4H660.3M652.8 326.8V327.4M652.2 327.1H652.8M655.4 327.7H660.2M655.4 328H655.8M655.4 327.7V328M654 327.8H655.4M654 328.3H660.2M654 327.8V328.3M653.5 328.1H654M653.5 328.6H659.6M653.5 328.1V328.6M652.2 328.4H653.5M652.2 327.1V328.4M650.5 327.7H652.2M650.5 329H657.8M650.5 327.7V329M649.8 328.3H650.5M650.5 329.3H658.1M650.5 329.6H658M650.5 329.3V329.6M649.8 329.4H650.5M649.8 328.3V329.4M645.1 328.9H649.8M645.1 329.9H656.2M645.1 328.9V329.9M643.6 329.4H645.1M650.4 330.2H658.2M650.4 330.6H653.7M650.4 330.2V330.6M648.3 330.4H650.4M648.3 330.9H659.3M648.3 330.4V330.9M647.1 330.6H648.3M647.1 331.2H657.1M647.1 330.6V331.2M643.6 330.9H647.1M643.6 329.4V330.9M640.8 330.2H643.6M640.8 326.1V330.2M639.4 328.1H640.8M639.4 325.4V328.1M638.9 326.7H639.4M638.9 319.1V326.7M630.1 324.8H638.9M632.2 332.3H661.9M639.3 332.7H663.8M646.8 333H664.2M646.8 333.4H662.3M646.8 333V333.4M644.8 333.2H646.8M649.5 333.8H657.2M649.5 334.2H661.1M649.5 333.8V334.2M647.5 334H649.5M647.5 334.6H657.3M647.5 334V334.6M644.8 334.3H647.5M644.8 333.2V334.3M639.3 333.8H644.8M639.3 332.7V333.8M634.3 333.2H639.3M641.7 335H659.1M648.9 335.3H655.1M648.9 335.7H651.4M648.9 335.3V335.7M646.8 335.5H648.9M646.8 336.1H656.5M646.8 335.5V336.1M646.1 335.8H646.8M646.1 336.5H653.5M646.1 335.8V336.5M645 336.1H646.1M645 336.9H654.5M645 336.1V336.9M641.7 336.5H645M641.7 335V336.5M638.4 335.7H641.7M643.2 337.2H652.9M643.2 337.6H652.6M643.2 337.2V337.6M639.9 337.4H643.2M639.9 338H647.8M639.9 337.4V338M638.4 337.7H639.9M638.4 335.7V337.7M634.3 336.7H638.4M634.3 333.2V336.7M632.2 335H634.3M632.2 332.3V335M630.6 333.6H632.2M632.9 338.4H649.7M637.1 338.8H646.7M638.7 339.1H646.6M638.7 339.5H644.7M638.7 339.1V339.5M637.1 339.3H638.7M637.1 338.8V339.3M632.9 339H637.1M632.9 338.4V339M630.6 338.7H632.9M630.6 333.6V338.7M630.1 336.2H630.6M630.1 324.8V336.2M628.6 333.3H630.1M629.1 340.7H629.5M629.1 340.9H634.9M629.1 340.7V340.9M628.6 340.8H629.1M628.6 333.3V340.8M621.4 338.9H628.6M621.4 332V338.9M651.7 273.5H658.7M651.7 274.6H661.2M651.7 273.5V274.6M644 274.3H651.7M658.4 275.9H664.9M659.1 276.2H667.2M659.1 276.4H667M659.1 276.2V276.4M658.4 276.3H659.1M658.4 275.9V276.3M655.9 276.1H658.4M661.5 276.7H666.7M661.5 277H661.9M661.5 276.7V277M659.5 276.9H661.5M659.5 277.3H666M659.5 276.9V277.3M657.2 277.1H659.5M657.2 277.6H665.3M657.2 277.1V277.6M655.9 277.3H657.2M655.9 276.1V277.3M654.1 276.7H655.9M654.1 277.8H664.8M654.1 276.7V277.8M652.1 277.3H654.1M662.9 278.1H663.3M664.8 278.4H665.2M664.8 278.7H665.2M664.8 278.4V278.7M663.6 278.5H664.8M663.6 279H668.2M663.6 278.5V279M662.9 278.8H663.6M662.9 278.1V278.8M661.3 278.4H662.9M661.3 279.3H666.9M661.3 278.4V279.3M660.2 278.8H661.3M660.2 279.5H665.6M660.2 278.8V279.5M658.6 279.2H660.2M658.6 279.8H659M658.6 279.2V279.8M655.2 279.5H658.6M655.2 280.1H667.3M655.2 279.5V280.1M654 279.8H655.2M660.4 280.4H666.1M662.2 280.7H667.3M665.3 280.9H665.7M665.3 281.2H665.7M665.3 280.9V281.2M665 281.1H665.3M665 281.5H665.4M665 281.1V281.5M664.7 281.3H665M664.7 281.8H667.4M664.7 281.3V281.8M663.8 281.5H664.7M663.8 282.1H666M663.8 281.5V282.1M662.2 281.8H663.8M662.2 280.7V281.8M660.4 281.2H662.2M660.4 280.4V281.2M658.1 280.8H660.4M658.1 282.3H663.1M658.1 280.8V282.3M655.8 281.6H658.1M659.6 282.6H668.8M659.6 282.9H665.6M659.6 282.6V282.9M655.8 282.8H659.6M655.8 281.6V282.8M654 282.2H655.8M654 279.8V282.2M652.1 281H654M652.1 277.3V281M650.2 279.1H652.1M650.2 283.2H667.5M650.2 279.1V283.2M647.9 281.2H650.2M647.9 283.5H669.1M647.9 281.2V283.5M644.5 282.3H647.9M657.6 283.8H669.2M657.6 284H665.2M657.6 283.8V284M653 283.9H657.6M653 284.3H667.1M653 283.9V284.3M649.6 284.1H653M649.6 284.6H668.6M649.6 284.1V284.6M648.1 284.4H649.6M648.1 284.9H665.6M648.1 284.4V284.9M646.2 284.6H648.1M646.2 285.2H669.1M646.2 284.6V285.2M644.5 284.9H646.2M644.5 282.3V284.9M644 283.6H644.5M644 274.3V283.6M638.4 281.3H644M658.1 286.6H665.1M658.1 286.8H662.7M658.1 286.6V286.8M657 286.7H658.1M657 287.1H665.2M657 286.7V287.1M654.4 286.9H657M654.4 287.3H667M654.4 286.9V287.3M649.9 287.1H654.4M649.9 287.6H665.2M649.9 287.1V287.6M646.2 287.3H649.9M659.4 287.8H666.1M659.4 288.1H667.8M659.4 287.8V288.1M656.7 288H659.4M656.7 288.4H666M656.7 288V288.4M652 288.2H656.7M652 288.6H667.6M652 288.2V288.6M650.3 288.4H652M658.7 288.9H667M658.7 289.1H665.7M658.7 288.9V289.1M657 289H658.7M658.4 289.4H665.4M661.1 289.6H663.4M661.1 289.9H662.2M661.1 289.6V289.9M660.7 289.8H661.1M660.7 290.1H664.4M660.7 289.8V290.1M659.1 290H660.7M659.1 290.4H665.8M659.1 290V290.4M658.4 290.2H659.1M658.4 289.4V290.2M657.6 289.8H658.4M657.6 290.7H659.8M657.6 289.8V290.7M657 290.2H657.6M657 289V290.2M654.7 289.6H657M656.7 290.9H663.6M656.7 291.2H658.7M656.7 290.9V291.2M654.7 291H656.7M654.7 289.6V291M650.3 290.3H654.7M650.3 288.4V290.3M646.2 289.4H650.3M646.2 287.3V289.4M640.4 288.4H646.2M646.2 291.4H664.8M646.2 291.7H662.6M646.2 291.4V291.7M643.5 291.6H646.2M645.5 291.9H659.6M651.1 292.2H664.2M651.1 292.5H663.6M651.1 292.2V292.5M645.5 292.3H651.1M645.5 291.9V292.3M643.5 292.1H645.5M643.5 291.6V292.1M640.4 291.8H643.5M640.4 288.4V291.8M638.4 290.1H640.4M638.4 281.3V290.1M630.2 287.9H638.4M641.3 294.3H654.8M648.8 294.6H657.9M648.8 294.8H653.1M648.8 294.6V294.8M644.4 294.7H648.8M644.4 295.1H654M644.4 294.7V295.1M642.9 294.9H644.4M642.9 295.4H654.4M642.9 294.9V295.4M641.3 295.2H642.9M641.3 294.3V295.2M636.8 294.7H641.3M645.7 295.7H656.9M645.7 296H654.8M645.7 295.7V296M643.9 295.9H645.7M643.9 296.3H651.7M643.9 295.9V296.3M641.3 296.1H643.9M647 296.6H652.4M647 296.9H655.3M647 296.6V296.9M646.2 296.7H647M647.3 297.2H651.4M647.3 297.4H652M647.3 297.2V297.4M646.2 297.3H647.3M646.2 296.7V297.3M645.1 297H646.2M645.1 297.7H649.6M645.1 297V297.7M641.3 297.4H645.1M641.3 296.1V297.4M638.5 296.7H641.3M641.4 298H648.1M644.4 298.3H646M644.4 298.6H645.8M644.4 298.3V298.6M643.6 298.5H644.4M643.6 298.9H648.1M643.6 298.5V298.9M641.4 298.7H643.6M641.4 298V298.7M638.5 298.4H641.4M638.5 296.7V298.4M636.8 297.5H638.5M636.8 294.7V297.5M630.7 296.1H636.8M645.2 299.2H651.3M645.2 299.5H649.4M645.2 299.2V299.5M644.1 299.3H645.2M644.1 299.8H649.1M644.1 299.3V299.8M642.2 299.5H644.1M642.2 300.1H646.8M642.2 299.5V300.1M638.9 299.8H642.2M638.9 300.3H647M638.9 299.8V300.3M635.6 300.1H638.9M635.6 300.6H645.3M635.6 300.1V300.6M634.2 300.4H635.6M639 300.9H646.5M639 301.2H640.5M639 300.9V301.2M636.8 301.1H639M636.8 301.5H641.7M636.8 301.1V301.5M634.2 301.3H636.8M634.2 300.4V301.3M633.5 300.8H634.2M633.5 301.8H645.1M633.5 300.8V301.8M630.7 301.3H633.5M630.7 296.1V301.3M630.2 298.7H630.7M630.2 287.9V298.7M626.6 296H630.2M629.9 302.9H638.4M629.9 303.1H635.2M629.9 302.9V303.1M628.6 303H629.9M629.9 303.3H634.3M632 303.6H637.4M633.5 303.8H635.8M634 304H634.4M634 304.2H636.8M634 304V304.2M633.7 304.1H634M634.3 304.4H634.7M634.3 304.6H634.7M634.3 304.4V304.6M633.7 304.5H634.3M633.7 304.1V304.5M633.5 304.3H633.7M633.5 303.8V304.3M632.6 304H633.5M632.6 304.8H633M632.6 304V304.8M632 304.4H632.6M632 303.6V304.4M630.9 304H632M631.9 305H632.3M631.9 305.3H634.6M631.9 305V305.3M630.9 305.2H631.9M630.9 304V305.2M630.4 304.6H630.9M630.4 305.5H630.8M630.4 304.6V305.5M629.9 305H630.4M629.9 303.3V305M628.6 304.2H629.9M628.6 303V304.2M627.7 303.6H628.6M627.7 305.7H632.2M627.7 303.6V305.7M627.1 304.6H627.7M627.1 305.9H633M627.1 304.6V305.9M626.6 305.3H627.1M626.6 296V305.3M621.4 303H626.6M621.4 300V303M652.3 239.1H663.5M653 239.4H664.8M655.1 239.7H664.3M655.1 239.9H662.1M655.1 239.7V239.9M653 239.8H655.1M653 239.4V239.8M652.3 239.6H653M652.3 239.1V239.6M651.1 239.4H652.3M651.1 240.2H664.9M651.1 239.4V240.2M646.2 239.8H651.1M651 240.5H663.4M654 240.7H663.2M654.7 241H659.3M656.5 241.3H660.6M656.5 241.5H661.7M656.5 241.3V241.5M654.7 241.4H656.5M654.7 241V241.4M654 241.2H654.7M654 240.7V241.2M651 241H654M651 240.5V241M646.2 240.7H651M646.2 239.8V240.7M643.5 240.2H646.2M654 241.8H659.7M659.1 242.1H665.2M659.1 242.3H664.4M659.1 242.1V242.3M658.5 242.2H659.1M658.5 242.6H664.3M658.5 242.2V242.6M655.4 242.4H658.5M655.4 242.9H665.6M655.4 242.4V242.9M654 242.6H655.4M654 241.8V242.6M651.6 242.2H654M651.6 243.1H666.5M651.6 242.2V243.1M649.4 242.7H651.6M649.4 243.4H663.4M649.4 242.7V243.4M643.5 243H649.4M643.5 240.2V243M641.9 241.6H643.5M655.7 243.7H662.4M661.2 243.9H666.8M662.6 244.2H666.9M663.3 244.5H666.3M664.1 244.7H667.3M664.1 245H666.7M664.1 244.7V245M663.3 244.9H664.1M663.3 244.5V244.9M662.6 244.7H663.3M662.6 244.2V244.7M661.2 244.4H662.6M661.2 243.9V244.4M659.5 244.2H661.2M659.5 245.2H664.9M659.5 244.2V245.2M658.6 244.7H659.5M658.6 245.5H663.3M658.6 244.7V245.5M655.7 245.1H658.6M655.7 243.7V245.1M654.9 244.4H655.7M654.9 245.8H663.8M654.9 244.4V245.8M653.2 245.1H654.9M653.2 246H667.5M653.2 245.1V246M648.5 245.6H653.2M652 246.3H660.1M654.8 246.6H666.8M657.9 246.8H663.6M657.9 247.1H665.3M657.9 246.8V247.1M654.8 247H657.9M654.8 246.6V247M652 246.8H654.8M652 246.3V246.8M648.5 246.5H652M648.5 245.6V246.5M643.4 246.1H648.5M657.7 247.4H666.5M657.7 247.6H667.1M657.7 247.4V247.6M654.7 247.5H657.7M654.7 247.9H664.9M654.7 247.5V247.9M651.8 247.7H654.7M655.2 248.2H664.9M655.2 248.4H664.8M655.2 248.2V248.4M651.8 248.3H655.2M651.8 247.7V248.3M648.2 248H651.8M648.2 248.7H667.8M648.2 248V248.7M643.4 248.4H648.2M643.4 246.1V248.4M641.9 247.2H643.4M641.9 241.6V247.2M641.4 244.4H641.9M661.3 249.3H662.9M661.3 249.5H667.9M661.3 249.3V249.5M660.8 249.4H661.3M661.3 249.7H666.5M661.3 250H665.6M661.3 249.7V250M660.8 249.9H661.3M660.8 249.4V249.9M659.3 249.6H660.8M659.3 250.2H665.9M659.3 249.6V250.2M658.3 249.9H659.3M658.3 250.5H665.5M658.3 249.9V250.5M656.5 250.2H658.3M664.2 250.7H664.6M665.1 250.9H669.2M665.1 251.2H667.9M665.1 250.9V251.2M664.2 251.1H665.1M664.2 250.7V251.1M661.9 250.9H664.2M661.9 251.4H667.2M661.9 250.9V251.4M660.3 251.1H661.9M664 251.7H668.8M664 251.9H669.2M664 251.7V251.9M662.4 251.8H664M664.3 252.1H669M665.2 252.4H665.6M665.2 252.6H669M665.2 252.4V252.6M664.3 252.5H665.2M664.3 252.1V252.5M662.4 252.3H664.3M662.4 251.8V252.3M660.3 252H662.4M660.3 251.1V252M657.8 251.6H660.3M657.8 252.8H667.2M657.8 251.6V252.8M656.5 252.2H657.8M656.5 250.2V252.2M654.6 251.2H656.5M654.6 253.1H661.3M654.6 251.2V253.1M652 252.1H654.6M653 253.3H667.6M653 253.6H666.6M653 253.3V253.6M652 253.4H653M652 252.1V253.4M649.3 252.8H652M649.3 253.8H663.8M649.3 252.8V253.8M641.4 253.3H649.3M641.4 244.4V253.3M634.7 251.1H641.4M660.6 255.6H664.8M660.6 255.8H664.3M660.6 255.6V255.8M658.5 255.7H660.6M661 256H661.4M661.7 256.3H662.1M662.7 256.5H665.4M662.7 256.8H664.1M662.7 256.5V256.8M662 256.6H662.7M662 257H662.4M662 256.6V257M661.7 256.8H662M661.7 256.3V256.8M661 256.5H661.7M661 256V256.5M660.4 256.3H661M660.4 257.2H664.4M660.4 256.3V257.2M658.5 256.8H660.4M658.5 255.7V256.8M657.7 256.2H658.5M657.7 257.5H663.3M657.7 256.2V257.5M656.4 256.8H657.7M660.4 257.7H665.2M660.4 258H660.8M660.4 257.7V258M659 257.8H660.4M659 258.2H664.7M659 257.8V258.2M657.4 258H659M657.4 258.4H662.2M657.4 258V258.4M656.4 258.2H657.4M656.4 256.8V258.2M654.4 257.5H656.4M654.4 258.7H663.3M654.4 257.5V258.7M652.4 258.1H654.4M654.5 258.9H659.8M654.5 259.1H661M654.5 258.9V259.1M652.4 259H654.5M652.4 258.1V259M650.4 258.6H652.4M658.3 259.4H658.7M661 259.6H663.7M661 259.9H661.4M661 259.6V259.9M660 259.7H661M660 260.1H662.5M660 259.7V260.1M659 259.9H660M659 260.3H660.9M659 259.9V260.3M658.3 260.1H659M658.3 259.4V260.1M656.3 259.8H658.3M656.3 260.6H661.1M656.3 259.8V260.6M653 260.2H656.3M653 260.8H659.5M653 260.2V260.8M650.4 260.5H653M650.4 258.6V260.5M648.8 259.5H650.4M652.2 261.1H661.8M655.3 261.3H656.5M655.3 261.5H662.8M655.3 261.3V261.5M652.2 261.4H655.3M652.2 261.1V261.4M648.8 261.2H652.2M648.8 259.5V261.2M634.7 260.4H648.8M634.7 251.1V260.4M627.1 258.1H634.7M652.7 263.1H659.8M652.7 263.4H655.7M652.7 263.1V263.4M652 263.3H652.7M652 263.7H657.9M652 263.3V263.7M651.3 263.5H652M653.5 263.9H659.9M653.5 264.2H659.4M653.5 263.9V264.2M652.5 264H653.5M653.5 264.4H653.9M653.5 264.7H658.3M653.5 264.4V264.7M653 264.6H653.5M653 264.9H658.7M653 264.6V264.9M652.5 264.7H653M652.5 264V264.7M651.3 264.4H652.5M651.3 263.5V264.4M647.5 263.9H651.3M652.5 265.2H658.6M652.5 265.5H659.1M652.5 265.2V265.5M649.9 265.3H652.5M654.9 265.7H658.5M654.9 266H655.3M654.9 265.7V266M653.5 265.8H654.9M654.9 266.2H655.3M655.5 266.5H658.4M655.5 266.7H656M655.5 266.5V266.7M654.9 266.6H655.5M654.9 266.2V266.6M653.5 266.4H654.9M653.5 265.8V266.4M652.4 266.1H653.5M652.4 267H657.7M652.4 266.1V267M650.9 266.6H652.4M650.9 267.3H651.3M650.9 266.6V267.3M649.9 266.9H650.9M649.9 265.3V266.9M647.5 266.1H649.9M647.5 263.9V266.1M644.3 265H647.5M650.3 267.5H651.9M650.3 267.8H656.1M650.3 267.5V267.8M647.9 267.6H650.3M647.9 268H651.6M647.9 267.6V268M644.3 267.8H647.9M644.3 265V267.8M639.2 266.4H644.3M640.5 268.3H645.5M641.9 268.5H656M644.1 268.8H648.1M646.4 269H650.2M648.1 269.3H653M648.1 269.6H650.2M648.1 269.3V269.6M646.4 269.4H648.1M646.4 269V269.4M645.7 269.2H646.4M646.9 269.8H652.6M646.9 270.1H651.1M646.9 269.8V270.1M645.7 269.9H646.9M645.7 269.2V269.9M644.1 269.6H645.7M644.1 268.8V269.6M641.9 269.2H644.1M641.9 268.5V269.2M640.5 268.9H641.9M640.5 268.3V268.9M639.2 268.6H640.5M639.2 266.4V268.6M627.1 267.5H639.2M627.1 258.1V267.5M624.6 265.1H627.1M647.3 271.3H649.8M647.3 271.6H651.2M647.3 271.3V271.6M646.6 271.4H647.3M646.6 271.9H652.4M646.6 271.4V271.9M646.1 271.7H646.6M646.1 272.2H650.9M646.1 271.7V272.2M645.6 271.9H646.1M645.6 272.5H646M645.6 271.9V272.5M641.8 272.2H645.6M641.8 272.8H653.5M641.8 272.2V272.8M624.6 272.5H641.8M624.6 265.1V272.5M621.4 270.7H624.6M621.4 258.5V270.7" stroke="#1f1fa0" stroke-width="0.6" fill="none"/>
<line x1="509.4" y1="399.4" x2="684.4" y2="399.4" stroke="#9a9a9a" stroke-width="0.8"/>
<text transform="translate(522.9,413) rotate(-90)" font-size="5.8" fill="#333" textLength="12.2" lengthAdjust="spacingAndGlyphs">1964</text>
<text transform="translate(536.3,413) rotate(-90)" font-size="5.8" fill="#333" textLength="12.2" lengthAdjust="spacingAndGlyphs">1969</text>
<text transform="translate(549.7,413) rotate(-90)" font-size="5.8" fill="#333" textLength="12.2" lengthAdjust="spacingAndGlyphs">1974</text>
<text transform="translate(563.1,413) rotate(-90)" font-size="5.8" fill="#333" textLength="12.2" lengthAdjust="spacingAndGlyphs">1979</text>
<text transform="translate(576.5,413) rotate(-90)" font-size="5.8" fill="#333" textLength="12.2" lengthAdjust="spacingAndGlyphs">1984</text>
<text transform="translate(589.9,413) rotate(-90)" font-size="5.8" fill="#333" textLength="12.2" lengthAdjust="spacingAndGlyphs">1989</text>
<text transform="translate(603.3,413) rotate(-90)" font-size="5.8" fill="#333" textLength="12.2" lengthAdjust="spacingAndGlyphs">1994</text>
<text transform="translate(616.7,413) rotate(-90)" font-size="5.8" fill="#333" textLength="12.2" lengthAdjust="spacingAndGlyphs">1999</text>
<text transform="translate(630.1,413) rotate(-90)" font-size="5.8" fill="#333" textLength="12.2" lengthAdjust="spacingAndGlyphs">2004</text>
<text transform="translate(643.5,413) rotate(-90)" font-size="5.8" fill="#333" textLength="12.2" lengthAdjust="spacingAndGlyphs">2009</text>
<text transform="translate(656.9,413) rotate(-90)" font-size="5.8" fill="#333" textLength="12.2" lengthAdjust="spacingAndGlyphs">2014</text>
<text transform="translate(670.3,413) rotate(-90)" font-size="5.8" fill="#333" textLength="12.2" lengthAdjust="spacingAndGlyphs">2019</text>
<text transform="translate(683.7,413) rotate(-90)" font-size="5.8" fill="#333" textLength="12.2" lengthAdjust="spacingAndGlyphs">2024</text>
<path d="M520.8 399.4V400.7M534.2 399.4V400.7M547.6 399.4V400.7M561 399.4V400.7M574.4 399.4V400.7M587.8 399.4V400.7M601.2 399.4V400.7M614.6 399.4V400.7M628 399.4V400.7M641.4 399.4V400.7M654.8 399.4V400.7M668.2 399.4V400.7M681.6 399.4V400.7" stroke="#9a9a9a" stroke-width="0.5" fill="none"/>
<line x1="481" y1="299.6" x2="580.9" y2="249.7" stroke="#444" stroke-width="0.8" stroke-dasharray="1.4 1.4"/>
<line x1="482.3" y1="314" x2="516.5" y2="329.8" stroke="#444" stroke-width="0.8" stroke-dasharray="1.4 1.4"/>
<line x1="481" y1="308.8" x2="621.6" y2="262.8" stroke="#aaa" stroke-width="0.7" stroke-dasharray="1.4 1.4"/>
<line x1="501.5" y1="388.7" x2="517.3" y2="395" stroke="#444" stroke-width="0.8" stroke-dasharray="1.4 1.4"/>
<text x="354.9" y="467.6" font-size="12.9" fill="#000" textLength="43.8" lengthAdjust="spacingAndGlyphs">DENV4</text>
<path d="M434.2 455.7H442.7M437.5 456.2H439.7M437.5 456.7H443M437.5 456.2V456.7M435.8 456.5H437.5M435.8 457.2H441.2M435.8 456.5V457.2M434.2 456.8H435.8M434.2 455.7V456.8M432.2 456.3H434.2M432.2 457.7H443.5M432.2 456.3V457.7M431.7 457H432.2M434.3 459.9H438.1M435.2 460.2H435.9M435.2 460.5H437.1M435.2 460.2V460.5M434.3 460.4H435.2M434.3 459.9V460.4M433.3 460.2H434.3M433.3 460.8H434.5M433.3 460.2V460.8M432.7 460.5H433.3M432.7 461.1H437.2M432.7 460.5V461.1M432.2 460.8H432.7M433.9 461.4H436.5M434.3 461.7H434.7M434.8 461.9H438M434.8 462.2H437.1M434.8 461.9V462.2M434.3 462.1H434.8M434.3 461.7V462.1M433.9 461.9H434.3M433.9 461.4V461.9M432.2 461.6H433.9M432.2 460.8V461.6M431.7 461.2H432.2M431.7 457V461.2M429.9 460.1H431.7M433.9 463.7H443.5M433.9 464.1H442.3M433.9 463.7V464.1M430.4 463.9H433.9M439.7 464.5H440.1M439.7 464.9H445.1M439.7 464.5V464.9M437.3 464.7H439.7M439.4 465.3H443.2M439.4 465.7H445.7M439.4 465.3V465.7M437.3 465.5H439.4M437.3 464.7V465.5M436.2 465.1H437.3M436.2 466.1H445.8M436.2 465.1V466.1M433.8 465.6H436.2M433.8 466.5H443.9M433.8 465.6V466.5M430.4 466H433.8M430.4 463.9V466M429.9 465H430.4M429.9 460.1V465M428.5 463.8H429.9M436 468.4H444M442.3 468.7H445M442.3 469H442.7M442.3 468.7V469M440.8 468.8H442.3M440.8 469.2H443.9M440.8 468.8V469.2M438.9 469H440.8M438.9 469.5H444.6M438.9 469V469.5M436 469.3H438.9M436 468.4V469.3M435.4 468.8H436M435.4 469.8H443.9M435.4 468.8V469.8M432.5 469.3H435.4M432.5 470.1H444.4M432.5 469.3V470.1M428.5 469.7H432.5M428.5 463.8V469.7M426.6 468.2H428.5M432.6 471.7H440.1M432.6 472.3H436.5M432.6 471.7V472.3M431.9 472H432.6M431.9 472.9H435.8M431.9 472V472.9M429 472.4H431.9M430.5 473.5H433.9M430.5 474H440.9M430.5 473.5V474M429 473.7H430.5M429 472.4V473.7M427.1 473.1H429M427.1 474.6H438M427.1 473.1V474.6M426.6 473.9H427.1M426.6 468.2V473.9M424.9 472.4H426.6M430.4 476.1H442.5M430.4 476.6H438M430.4 476.1V476.6M428.9 476.3H430.4M428.9 477.1H442.2M428.9 476.3V477.1M425.4 476.7H428.9M429.8 477.6H441.1M430.6 478.1H440M430.6 478.5H438.5M430.6 478.1V478.5M429.8 478.3H430.6M429.8 477.6V478.3M428 477.9H429.8M428 479H439.6M428 477.9V479M425.4 478.5H428M425.4 476.7V478.5M424.9 477.6H425.4M424.9 472.4V477.6M423.3 476.3H424.9M430 481H437.2M431.5 481.3H434.6M433.1 481.6H433.5M433.1 481.9H437.2M433.1 481.6V481.9M431.5 481.7H433.1M431.5 481.3V481.7M430 481.5H431.5M430 481V481.5M428.5 481.2H430M431 482.2H436.8M431 482.5H436M431 482.2V482.5M428.5 482.3H431M428.5 481.2V482.3M424.7 481.8H428.5M424.7 482.8H431.7M424.7 481.8V482.8M423.8 482.3H424.7M425.5 483.1H432.5M428.7 483.4H434.3M428.7 483.7H436.7M428.7 483.4V483.7M426.1 483.5H428.7M426.1 484H437M426.1 483.5V484M425.5 483.8H426.1M425.5 483.1V483.8M423.8 483.4H425.5M423.8 482.3V483.4M423.3 482.8H423.8M423.3 476.3V482.8M421.8 481.2H423.3M429.7 486.1H432.5M431.5 486.5H434.3M431.5 486.9H433M431.5 486.5V486.9M430.7 486.7H431.5M430.7 487.3H431.1M430.7 486.7V487.3M429.7 487H430.7M429.7 486.1V487M429.2 486.6H429.7M429.2 487.7H432.2M429.2 486.6V487.7M426.9 487.2H429.2M426.9 488.1H432.6M426.9 487.2V488.1M424.3 487.7H426.9M424.3 488.6H432.2M424.3 487.7V488.6M422.3 488.1H424.3M422.3 489H433.1M422.3 488.1V489M421.8 488.5H422.3M421.8 481.2V488.5M420.1 486.7H421.8M423.5 491.2H429.5M425 491.5H425.7M425 491.8H428.2M425 491.5V491.8M423.5 491.7H425M423.5 491.2V491.7M421.5 491.4H423.5M421.5 492.1H428.8M421.5 491.4V492.1M420.6 491.8H421.5M424.9 492.4H430.2M425.3 492.6H425.7M425.3 492.9H429.9M425.3 492.6V492.9M424.9 492.8H425.3M424.9 492.4V492.8M423 492.6H424.9M426.1 493.2H429M426.1 493.5H426.5M426.1 493.2V493.5M425.8 493.4H426.1M426.1 493.8H430.3M426.1 494.1H429.5M426.1 493.8V494.1M425.8 493.9H426.1M425.8 493.4V493.9M424.1 493.6H425.8M424.1 494.4H426.5M424.1 493.6V494.4M423 494H424.1M423 492.6V494M421.8 493.3H423M421.8 494.6H427.6M421.8 493.3V494.6M420.6 494H421.8M420.6 491.8V494M420.1 492.9H420.6M420.1 486.7V492.9M418.5 491.3H420.1M426.5 496.9H439.2M426.5 497.3H435.6M426.5 496.9V497.3M420.8 497.1H426.5M432.4 497.6H434.3M432.4 498H435.5M432.4 497.6V498M429.6 497.8H432.4M429.6 498.4H437.3M429.6 497.8V498.4M429 498.1H429.6M429 498.8H437.3M429 498.1V498.8M426.2 498.4H429M429 499.2H436.6M429 499.5H437.6M429 499.2V499.5M426.8 499.3H429M426.8 499.9H434M426.8 499.3V499.9M426.2 499.6H426.8M426.2 498.4V499.6M420.8 499H426.2M420.8 497.1V499M418.5 498.1H420.8M418.5 491.3V498.1M417.3 496.4H418.5M419 501.2H429.9M421.2 501.8H431.5M421.2 502.3H430M421.2 501.8V502.3M419 502H421.2M419 501.2V502M417.8 501.6H419M417.8 502.9H434.1M417.8 501.6V502.9M417.3 502.3H417.8M417.3 496.4V502.3M416.2 500.8H417.3M424.4 504.6H429.7M424.4 504.9H430.7M424.4 504.6V504.9M422.2 504.7H424.4M422.2 505.1H427.9M422.2 504.7V505.1M420.1 504.9H422.2M420.1 505.4H421.4M420.1 504.9V505.4M418.5 505.2H420.1M418.5 505.7H426.9M418.5 505.2V505.7M416.2 505.5H418.5M416.2 500.8V505.5M415 504.3H416.2M415.5 506.8H434.5M426 507.3H436.9M426 507.8H437.1M426 507.3V507.8M422.7 507.6H426M422.7 508.4H433.3M422.7 507.6V508.4M420.9 508H422.7M420.9 508.9H431.4M420.9 508V508.9M415.5 508.4H420.9M415.5 506.8V508.4M415 507.6H415.5M415 504.3V507.6M414 506.8H415M422.2 510.4H436.3M422.2 510.8H432.8M422.2 510.4V510.8M421.2 510.6H422.2M421.2 511.2H427.2M421.2 510.6V511.2M414 510.9H421.2M414 506.8V510.9M412 509.9H414M426.1 513.2H431.8M429 513.5H429.4M429 513.8H431.7M429 513.5V513.8M428.7 513.6H429M428.7 514.1H431.1M428.7 513.6V514.1M427.1 513.9H428.7M428.6 514.4H429M428.6 514.7H429M428.6 514.4V514.7M428.4 514.6H428.6M428.4 515.1H428.8M428.4 514.6V515.1M427.6 514.8H428.4M427.6 515.4H430.7M427.6 514.8V515.4M427.1 515.1H427.6M427.1 513.9V515.1M426.1 514.5H427.1M426.1 513.2V514.5M424.6 513.8H426.1M424.6 515.7H431.5M424.6 513.8V515.7M423.1 514.8H424.6M423.1 516H429.4M423.1 514.8V516M422.3 515.4H423.1M422.3 516.3H427.4M422.3 515.4V516.3M412 515.8H422.3M412 509.9V515.8M410.4 514.4H412M422.1 518.8H428.4M423.6 519.2H428.8M423.9 519.6H424.3M423.9 519.9H427M423.9 519.6V519.9M423.6 519.7H423.9M423.6 519.2V519.7M422.1 519.5H423.6M422.1 518.8V519.5M419.3 519.2H422.1M419.3 520.3H428.3M419.3 519.2V520.3M415.7 519.7H419.3M418.9 520.6H424.6M418.9 521H427.7M418.9 520.6V521M415.7 520.8H418.9M415.7 519.7V520.8M410.9 520.3H415.7M410.9 521.3H422.8M410.9 520.3V521.3M410.4 520.8H410.9M410.4 514.4V520.8M409.7 519.2H410.4M418.7 523.1H427.7M418.7 523.4H428.9M418.7 523.1V523.4M414.3 523.2H418.7M414.3 523.7H429.2M414.3 523.2V523.7M410.2 523.5H414.3M418.1 524H428.6M418.1 524.3H426.2M418.1 524V524.3M416.6 524.2H418.1M417.6 524.6H419.5M417.6 525H426.8M417.6 524.6V525M416.6 524.8H417.6M416.6 524.2V524.8M413.7 524.5H416.6M413.7 525.3H426.4M413.7 524.5V525.3M412.3 524.9H413.7M418.2 525.6H428.2M418.2 525.9H425.6M418.2 525.6V525.9M416.9 525.7H418.2M416.9 526.2H427.6M416.9 525.7V526.2M414.9 526H416.9M414.9 526.5H426.7M414.9 526V526.5M412.3 526.2H414.9M412.3 524.9V526.2M410.2 525.6H412.3M410.2 523.5V525.6M409.7 524.5H410.2M409.7 519.2V524.5M409.1 523.2H409.7M409.1 528.6H424.3M409.1 523.2V528.6M408.4 527.2H409.1M408.4 529.9H422.7M408.4 527.2V529.9M407.8 529.3H408.4M420 531.6H422.7M424.8 531.9H428.2M426.9 532.2H433M426.9 532.6H433.3M426.9 532.2V532.6M424.8 532.4H426.9M424.8 531.9V532.4M422.6 532.2H424.8M427.4 532.9H431.6M431 533.2H438.6M431 533.5H437.7M431 533.2V533.5M427.4 533.4H431M427.4 532.9V533.4M422.6 533.1H427.4M422.6 532.2V533.1M420 532.6H422.6M420 531.6V532.6M416.7 532.1H420M416.7 533.9H440.1M416.7 532.1V533.9M407.8 533H416.7M407.8 529.3V533M407.1 532.1H407.8M418.4 535.2H439.2M418.4 535.7H441.8M418.4 535.2V535.7M412.1 535.4H418.4M421.1 536.2H445.5M421.1 536.8H445.9M421.1 536.2V536.8M415.3 536.5H421.1M415.3 537.3H448.4M415.3 536.5V537.3M412.1 536.9H415.3M412.1 535.4V536.9M407.1 536.2H412.1M407.1 532.1V536.2M406.5 535.1H407.1M406.5 539.7H455.4M406.5 535.1V539.7M405.8 538.6H406.5M449.6 541.3H458.6M451.9 541.6H456.3M451.9 541.9H458.5M451.9 541.6V541.9M449.6 541.7H451.9M449.6 541.3V541.7M445.9 541.5H449.6M445.9 542.2H458.3M445.9 541.5V542.2M440.7 541.8H445.9M450.9 542.5H455.9M450.9 542.8H455M450.9 542.5V542.8M449.2 542.6H450.9M449.2 543.1H458.2M449.2 542.6V543.1M446.9 542.8H449.2M446.9 543.4H457.7M446.9 542.8V543.4M444.2 543.1H446.9M444.2 543.7H453M444.2 543.1V543.7M440.7 543.4H444.2M440.7 541.8V543.4M405.8 542.6H440.7M405.8 538.6V542.6M405.2 541.6H405.8M434 545.5H453M437 545.9H450.9M442 546.4H453.8M442 546.8H453M442 546.4V546.8M437 546.6H442M437 545.9V546.6M434 546.2H437M434 545.5V546.2M405.2 545.9H434M405.2 541.6V545.9M404.5 544.8H405.2M449.7 547.9H460.9M449.7 548.3H456.6M449.7 547.9V548.3M449 548.1H449.7M450.5 548.6H458.4M450.5 549H460.2M450.5 548.6V549M449 548.8H450.5M449 548.1V548.8M447.1 548.5H449M447.1 549.4H461.1M447.1 548.5V549.4M442.6 548.9H447.1M442.6 549.7H454.1M442.6 548.9V549.7M404.5 549.3H442.6M404.5 544.8V549.3M403.4 548.2H404.5M439.1 550.9H451.2M439.1 551.4H449.7M439.1 550.9V551.4M436.9 551.1H439.1M436.9 552H452.3M436.9 551.1V552M432.1 551.6H436.9M438.9 552.5H453.1M439.6 553.1H452.2M439.6 553.6H452.2M439.6 553.1V553.6M438.9 553.4H439.6M438.9 552.5V553.4M436.9 552.9H438.9M436.9 554.2H446.9M436.9 552.9V554.2M432.1 553.6H436.9M432.1 551.6V553.6M403.4 552.6H432.1M403.4 548.2V552.6M402.1 551.5H403.4M441 556.3H455.3M441 556.7H454.2M441 556.3V556.7M439.8 556.5H441M442.9 557.1H453.5M442.9 557.5H451.6M442.9 557.1V557.5M439.8 557.3H442.9M439.8 556.5V557.3M436 556.9H439.8M436 557.8H445.7M436 556.9V557.8M432.9 557.4H436M435.1 558.2H452.3M436.6 558.6H451.4M436.6 559H447.2M436.6 558.6V559M435.1 558.8H436.6M435.1 558.2V558.8M432.9 558.5H435.1M432.9 557.4V558.5M402.1 557.9H432.9M402.1 551.5V557.9M401.3 556.3H402.1M428.5 560.7H446.5M433.4 561.1H446.4M433.4 561.4H446.2M433.4 561.1V561.4M430.5 561.2H433.4M430.5 561.8H447.1M430.5 561.2V561.8M428.5 561.5H430.5M428.5 560.7V561.5M425.8 561.1H428.5M425.8 562.1H446.5M425.8 561.1V562.1M401.3 561.6H425.8M401.3 556.3V561.6M400.6 560.3H401.3M440.7 564.2H445.8M440.7 564.7H444.7M440.7 564.2V564.7M400.6 564.5H440.7M400.6 560.3V564.5M342.3 563.4H400.6M358.3 567H458M445.7 569.1H465.9M445.7 569.9H469.6M445.7 569.1V569.9M439.5 569.5H445.7M443.8 570.7H471.8M443.8 571.4H471.5M443.8 570.7V571.4M439.5 571H443.8M439.5 569.5V571M358.3 570.3H439.5M358.3 567V570.3M349.1 569.5H358.3M349.1 573.3H465.7M349.1 569.5V573.3M338.3 572.3H349.1M438.6 575.6H470.9M438.6 576.9H467.3M438.6 575.6V576.9M338.3 576.2H438.6M338.3 572.3V576.2M330.7 575.3H338.3M444.7 579.7H473.2M444.7 579.9H479M444.7 579.7V579.9M330.7 579.8H444.7M330.7 575.3V579.8M322.4 578.7H330.7M448.8 584.4H460M448.8 585.3H458.7M448.8 584.4V585.3M447.8 584.9H448.8M447.8 586.1H456.9M447.8 584.9V586.1M382 585.5H447.8M420.8 587.6H456.7M420.8 588.5H458M420.8 587.6V588.5M382 588H420.8M382 585.5V588M364.4 587.4H382M441 590.4H455.1M441 591.4H455.6M441 590.4V591.4M372.1 590.9H441M437.1 592.6H458.6M438.2 593.2H447.7M438.2 593.8H457M438.2 593.2V593.8M437.1 593.5H438.2M437.1 592.6V593.5M372.1 593.1H437.1M372.1 590.9V593.1M367.9 592.5H372.1M418.1 595.4H449.6M418.1 596H446.7M418.1 595.4V596M367.9 595.7H418.1M367.9 592.5V595.7M365 594.9H367.9M365 597.9H459.3M365 594.9V597.9M364.4 597.2H365M364.4 587.4V597.2M355.7 594.7H364.4M439.1 599.6H464.3M439.1 600.2H464.6M439.1 599.6V600.2M437.6 599.9H439.1M437.6 600.9H467.3M437.6 599.9V600.9M355.7 600.4H437.6M355.7 594.7V600.4M329.9 599H355.7M455.7 603.7H456.7M455.7 604.6H464.1M455.7 603.7V604.6M452.8 604.2H455.7M452.8 605.6H465.8M452.8 604.2V605.6M329.9 604.9H452.8M329.9 599V604.9M324.1 603.4H329.9M453 607.2H470.1M455.2 607.9H464.1M460.5 608.7H468M460.5 609.4H465.6M460.5 608.7V609.4M457 609H460.5M457 610.2H465.6M457 609V610.2M455.2 609.6H457M455.2 607.9V609.6M453 608.8H455.2M453 607.2V608.8M324.1 608H453M324.1 603.4V608M321.4 606.8H324.1M439.9 612.5H457.6M439.9 613.1H463.4M439.9 612.5V613.1M432.7 612.8H439.9M439.1 613.7H461M445.7 614.3H459.2M445.7 614.9H461.3M445.7 614.3V614.9M439.1 614.6H445.7M439.1 613.7V614.6M435.5 614.1H439.1M435.5 615.5H453M435.5 614.1V615.5M432.7 614.8H435.5M432.7 612.8V614.8M321.4 613.8H432.7M321.4 606.8V613.8M320.8 612.1H321.4M342.3 563.4V573.9M342.3 573.9H470M326.6 568H342.3M326.6 568V574.7M326.6 574.7H460M322.4 571.4H326.6M322.4 571.4V578.7M317.5 575.5H322.4M317.5 575.5V618.6M317.5 618.6H381M320.8 612.1V608.7M317.5 606H320.8" stroke="#a4a4a4" stroke-width="0.45" fill="none"/>
<path d="M435.1 456.8a1.2 1.2 0 1 0 2.4 0a1.2 1.2 0 1 0 -2.4 0M436.6 456.8a1.2 1.2 0 1 0 2.4 0a1.2 1.2 0 1 0 -2.4 0M438.4 457.3a1.2 1.2 0 1 0 2.4 0a1.2 1.2 0 1 0 -2.4 0M434.6 459.1a1.2 1.2 0 1 0 2.4 0a1.2 1.2 0 1 0 -2.4 0M438.6 458.8a1.2 1.2 0 1 0 2.4 0a1.2 1.2 0 1 0 -2.4 0M440.5 459.2a1.2 1.2 0 1 0 2.4 0a1.2 1.2 0 1 0 -2.4 0M442.5 458.9a1.2 1.2 0 1 0 2.4 0a1.2 1.2 0 1 0 -2.4 0M433.6 460.5a1.2 1.2 0 1 0 2.4 0a1.2 1.2 0 1 0 -2.4 0M435.9 461.1a1.2 1.2 0 1 0 2.4 0a1.2 1.2 0 1 0 -2.4 0M437.8 461a1.2 1.2 0 1 0 2.4 0a1.2 1.2 0 1 0 -2.4 0M439.4 460.6a1.2 1.2 0 1 0 2.4 0a1.2 1.2 0 1 0 -2.4 0M441.5 461a1.2 1.2 0 1 0 2.4 0a1.2 1.2 0 1 0 -2.4 0M443.5 460.5a1.2 1.2 0 1 0 2.4 0a1.2 1.2 0 1 0 -2.4 0M434.5 462.9a1.2 1.2 0 1 0 2.4 0a1.2 1.2 0 1 0 -2.4 0M436.8 463a1.2 1.2 0 1 0 2.4 0a1.2 1.2 0 1 0 -2.4 0M438.5 462.8a1.2 1.2 0 1 0 2.4 0a1.2 1.2 0 1 0 -2.4 0M440.3 462.8a1.2 1.2 0 1 0 2.4 0a1.2 1.2 0 1 0 -2.4 0M442.2 462.8a1.2 1.2 0 1 0 2.4 0a1.2 1.2 0 1 0 -2.4 0M435.8 464.5a1.2 1.2 0 1 0 2.4 0a1.2 1.2 0 1 0 -2.4 0M437.2 464.8a1.2 1.2 0 1 0 2.4 0a1.2 1.2 0 1 0 -2.4 0M439.3 464.4a1.2 1.2 0 1 0 2.4 0a1.2 1.2 0 1 0 -2.4 0M440.8 464.6a1.2 1.2 0 1 0 2.4 0a1.2 1.2 0 1 0 -2.4 0M443.1 464.3a1.2 1.2 0 1 0 2.4 0a1.2 1.2 0 1 0 -2.4 0M434.8 466.6a1.2 1.2 0 1 0 2.4 0a1.2 1.2 0 1 0 -2.4 0M436.3 466.8a1.2 1.2 0 1 0 2.4 0a1.2 1.2 0 1 0 -2.4 0M438.3 466.8a1.2 1.2 0 1 0 2.4 0a1.2 1.2 0 1 0 -2.4 0M440.4 466.7a1.2 1.2 0 1 0 2.4 0a1.2 1.2 0 1 0 -2.4 0M441.9 466.7a1.2 1.2 0 1 0 2.4 0a1.2 1.2 0 1 0 -2.4 0M434.8 468.5a1.2 1.2 0 1 0 2.4 0a1.2 1.2 0 1 0 -2.4 0M436.4 468.2a1.2 1.2 0 1 0 2.4 0a1.2 1.2 0 1 0 -2.4 0M438.3 468.6a1.2 1.2 0 1 0 2.4 0a1.2 1.2 0 1 0 -2.4 0M440.2 468.5a1.2 1.2 0 1 0 2.4 0a1.2 1.2 0 1 0 -2.4 0M442.2 468.6a1.2 1.2 0 1 0 2.4 0a1.2 1.2 0 1 0 -2.4 0M434.7 470.5a1.2 1.2 0 1 0 2.4 0a1.2 1.2 0 1 0 -2.4 0M436.4 470.4a1.2 1.2 0 1 0 2.4 0a1.2 1.2 0 1 0 -2.4 0M438.3 470.1a1.2 1.2 0 1 0 2.4 0a1.2 1.2 0 1 0 -2.4 0M440 470.3a1.2 1.2 0 1 0 2.4 0a1.2 1.2 0 1 0 -2.4 0M441.6 470.3a1.2 1.2 0 1 0 2.4 0a1.2 1.2 0 1 0 -2.4 0M437.4 472.5a1.2 1.2 0 1 0 2.4 0a1.2 1.2 0 1 0 -2.4 0M439.2 472a1.2 1.2 0 1 0 2.4 0a1.2 1.2 0 1 0 -2.4 0M441 472a1.2 1.2 0 1 0 2.4 0a1.2 1.2 0 1 0 -2.4 0M443.4 472.5a1.2 1.2 0 1 0 2.4 0a1.2 1.2 0 1 0 -2.4 0M434.2 474.2a1.2 1.2 0 1 0 2.4 0a1.2 1.2 0 1 0 -2.4 0M436.4 474.4a1.2 1.2 0 1 0 2.4 0a1.2 1.2 0 1 0 -2.4 0M438.3 474.3a1.2 1.2 0 1 0 2.4 0a1.2 1.2 0 1 0 -2.4 0M440 474.3a1.2 1.2 0 1 0 2.4 0a1.2 1.2 0 1 0 -2.4 0M441.7 474.4a1.2 1.2 0 1 0 2.4 0a1.2 1.2 0 1 0 -2.4 0M435.8 475.8a1.2 1.2 0 1 0 2.4 0a1.2 1.2 0 1 0 -2.4 0M437.9 476a1.2 1.2 0 1 0 2.4 0a1.2 1.2 0 1 0 -2.4 0M439.7 475.7a1.2 1.2 0 1 0 2.4 0a1.2 1.2 0 1 0 -2.4 0M441.5 476a1.2 1.2 0 1 0 2.4 0a1.2 1.2 0 1 0 -2.4 0M433.7 478.1a1.2 1.2 0 1 0 2.4 0a1.2 1.2 0 1 0 -2.4 0M435.8 477.9a1.2 1.2 0 1 0 2.4 0a1.2 1.2 0 1 0 -2.4 0M437.8 477.7a1.2 1.2 0 1 0 2.4 0a1.2 1.2 0 1 0 -2.4 0M439.5 478.2a1.2 1.2 0 1 0 2.4 0a1.2 1.2 0 1 0 -2.4 0M441.4 478.1a1.2 1.2 0 1 0 2.4 0a1.2 1.2 0 1 0 -2.4 0M434.3 479.6a1.2 1.2 0 1 0 2.4 0a1.2 1.2 0 1 0 -2.4 0M436.6 479.9a1.2 1.2 0 1 0 2.4 0a1.2 1.2 0 1 0 -2.4 0M438 479.7a1.2 1.2 0 1 0 2.4 0a1.2 1.2 0 1 0 -2.4 0M439.8 480.1a1.2 1.2 0 1 0 2.4 0a1.2 1.2 0 1 0 -2.4 0M441.8 479.6a1.2 1.2 0 1 0 2.4 0a1.2 1.2 0 1 0 -2.4 0M434.5 482a1.2 1.2 0 1 0 2.4 0a1.2 1.2 0 1 0 -2.4 0M437 481.8a1.2 1.2 0 1 0 2.4 0a1.2 1.2 0 1 0 -2.4 0M438.4 481.7a1.2 1.2 0 1 0 2.4 0a1.2 1.2 0 1 0 -2.4 0M440.3 482a1.2 1.2 0 1 0 2.4 0a1.2 1.2 0 1 0 -2.4 0M442.6 481.9a1.2 1.2 0 1 0 2.4 0a1.2 1.2 0 1 0 -2.4 0M434.7 483.5a1.2 1.2 0 1 0 2.4 0a1.2 1.2 0 1 0 -2.4 0M436.5 483.4a1.2 1.2 0 1 0 2.4 0a1.2 1.2 0 1 0 -2.4 0M438.6 483.6a1.2 1.2 0 1 0 2.4 0a1.2 1.2 0 1 0 -2.4 0M440 483.5a1.2 1.2 0 1 0 2.4 0a1.2 1.2 0 1 0 -2.4 0M442.2 483.3a1.2 1.2 0 1 0 2.4 0a1.2 1.2 0 1 0 -2.4 0M435.1 485.3a1.2 1.2 0 1 0 2.4 0a1.2 1.2 0 1 0 -2.4 0M436.6 485.7a1.2 1.2 0 1 0 2.4 0a1.2 1.2 0 1 0 -2.4 0M440.2 485.3a1.2 1.2 0 1 0 2.4 0a1.2 1.2 0 1 0 -2.4 0M442.4 485.6a1.2 1.2 0 1 0 2.4 0a1.2 1.2 0 1 0 -2.4 0M434.6 487.4a1.2 1.2 0 1 0 2.4 0a1.2 1.2 0 1 0 -2.4 0M436.7 487.7a1.2 1.2 0 1 0 2.4 0a1.2 1.2 0 1 0 -2.4 0M438.7 487.6a1.2 1.2 0 1 0 2.4 0a1.2 1.2 0 1 0 -2.4 0M440.3 487.2a1.2 1.2 0 1 0 2.4 0a1.2 1.2 0 1 0 -2.4 0M442.7 487.4a1.2 1.2 0 1 0 2.4 0a1.2 1.2 0 1 0 -2.4 0M434.4 489.5a1.2 1.2 0 1 0 2.4 0a1.2 1.2 0 1 0 -2.4 0M438.4 489.1a1.2 1.2 0 1 0 2.4 0a1.2 1.2 0 1 0 -2.4 0M442.2 489.4a1.2 1.2 0 1 0 2.4 0a1.2 1.2 0 1 0 -2.4 0M435.1 491.5a1.2 1.2 0 1 0 2.4 0a1.2 1.2 0 1 0 -2.4 0M436.9 490.9a1.2 1.2 0 1 0 2.4 0a1.2 1.2 0 1 0 -2.4 0M439 491a1.2 1.2 0 1 0 2.4 0a1.2 1.2 0 1 0 -2.4 0M440.8 491.2a1.2 1.2 0 1 0 2.4 0a1.2 1.2 0 1 0 -2.4 0M442.6 491a1.2 1.2 0 1 0 2.4 0a1.2 1.2 0 1 0 -2.4 0M434.2 492.9a1.2 1.2 0 1 0 2.4 0a1.2 1.2 0 1 0 -2.4 0M438.1 493.2a1.2 1.2 0 1 0 2.4 0a1.2 1.2 0 1 0 -2.4 0M439.5 492.8a1.2 1.2 0 1 0 2.4 0a1.2 1.2 0 1 0 -2.4 0M441.4 493.3a1.2 1.2 0 1 0 2.4 0a1.2 1.2 0 1 0 -2.4 0M433.3 495a1.2 1.2 0 1 0 2.4 0a1.2 1.2 0 1 0 -2.4 0M435 495.3a1.2 1.2 0 1 0 2.4 0a1.2 1.2 0 1 0 -2.4 0M437.2 495.1a1.2 1.2 0 1 0 2.4 0a1.2 1.2 0 1 0 -2.4 0M438.9 494.9a1.2 1.2 0 1 0 2.4 0a1.2 1.2 0 1 0 -2.4 0M431.9 496.8a1.2 1.2 0 1 0 2.4 0a1.2 1.2 0 1 0 -2.4 0M433.6 497.2a1.2 1.2 0 1 0 2.4 0a1.2 1.2 0 1 0 -2.4 0M437.7 496.9a1.2 1.2 0 1 0 2.4 0a1.2 1.2 0 1 0 -2.4 0M439.4 496.6a1.2 1.2 0 1 0 2.4 0a1.2 1.2 0 1 0 -2.4 0M430.6 499.1a1.2 1.2 0 1 0 2.4 0a1.2 1.2 0 1 0 -2.4 0M432.8 498.8a1.2 1.2 0 1 0 2.4 0a1.2 1.2 0 1 0 -2.4 0M434.6 499.1a1.2 1.2 0 1 0 2.4 0a1.2 1.2 0 1 0 -2.4 0M438.7 498.7a1.2 1.2 0 1 0 2.4 0a1.2 1.2 0 1 0 -2.4 0M428.5 500.7a1.2 1.2 0 1 0 2.4 0a1.2 1.2 0 1 0 -2.4 0M430.8 501a1.2 1.2 0 1 0 2.4 0a1.2 1.2 0 1 0 -2.4 0M434.7 500.9a1.2 1.2 0 1 0 2.4 0a1.2 1.2 0 1 0 -2.4 0M438.6 500.5a1.2 1.2 0 1 0 2.4 0a1.2 1.2 0 1 0 -2.4 0M428.8 502.9a1.2 1.2 0 1 0 2.4 0a1.2 1.2 0 1 0 -2.4 0M430.5 502.3a1.2 1.2 0 1 0 2.4 0a1.2 1.2 0 1 0 -2.4 0M432.4 502.3a1.2 1.2 0 1 0 2.4 0a1.2 1.2 0 1 0 -2.4 0M434.4 502.5a1.2 1.2 0 1 0 2.4 0a1.2 1.2 0 1 0 -2.4 0M436.1 502.8a1.2 1.2 0 1 0 2.4 0a1.2 1.2 0 1 0 -2.4 0M427.5 504.3a1.2 1.2 0 1 0 2.4 0a1.2 1.2 0 1 0 -2.4 0M430 504.8a1.2 1.2 0 1 0 2.4 0a1.2 1.2 0 1 0 -2.4 0M431.3 504.3a1.2 1.2 0 1 0 2.4 0a1.2 1.2 0 1 0 -2.4 0M433.5 504.8a1.2 1.2 0 1 0 2.4 0a1.2 1.2 0 1 0 -2.4 0M435.2 504.6a1.2 1.2 0 1 0 2.4 0a1.2 1.2 0 1 0 -2.4 0M437.1 504.5a1.2 1.2 0 1 0 2.4 0a1.2 1.2 0 1 0 -2.4 0M427.1 506.6a1.2 1.2 0 1 0 2.4 0a1.2 1.2 0 1 0 -2.4 0M428.9 506.5a1.2 1.2 0 1 0 2.4 0a1.2 1.2 0 1 0 -2.4 0M430.5 506.3a1.2 1.2 0 1 0 2.4 0a1.2 1.2 0 1 0 -2.4 0M432.6 506.6a1.2 1.2 0 1 0 2.4 0a1.2 1.2 0 1 0 -2.4 0M434.6 506.7a1.2 1.2 0 1 0 2.4 0a1.2 1.2 0 1 0 -2.4 0M436 506.3a1.2 1.2 0 1 0 2.4 0a1.2 1.2 0 1 0 -2.4 0M428 508.3a1.2 1.2 0 1 0 2.4 0a1.2 1.2 0 1 0 -2.4 0M429.9 508.3a1.2 1.2 0 1 0 2.4 0a1.2 1.2 0 1 0 -2.4 0M431.7 508.4a1.2 1.2 0 1 0 2.4 0a1.2 1.2 0 1 0 -2.4 0M433.6 508.1a1.2 1.2 0 1 0 2.4 0a1.2 1.2 0 1 0 -2.4 0M428.4 510a1.2 1.2 0 1 0 2.4 0a1.2 1.2 0 1 0 -2.4 0M430.6 509.9a1.2 1.2 0 1 0 2.4 0a1.2 1.2 0 1 0 -2.4 0M431.9 510.1a1.2 1.2 0 1 0 2.4 0a1.2 1.2 0 1 0 -2.4 0M434.1 510.4a1.2 1.2 0 1 0 2.4 0a1.2 1.2 0 1 0 -2.4 0M435.8 510.2a1.2 1.2 0 1 0 2.4 0a1.2 1.2 0 1 0 -2.4 0M425.6 512.1a1.2 1.2 0 1 0 2.4 0a1.2 1.2 0 1 0 -2.4 0M431.2 511.9a1.2 1.2 0 1 0 2.4 0a1.2 1.2 0 1 0 -2.4 0M433.4 511.9a1.2 1.2 0 1 0 2.4 0a1.2 1.2 0 1 0 -2.4 0M435 512a1.2 1.2 0 1 0 2.4 0a1.2 1.2 0 1 0 -2.4 0M425.7 514.1a1.2 1.2 0 1 0 2.4 0a1.2 1.2 0 1 0 -2.4 0M427.5 513.8a1.2 1.2 0 1 0 2.4 0a1.2 1.2 0 1 0 -2.4 0M429.6 513.7a1.2 1.2 0 1 0 2.4 0a1.2 1.2 0 1 0 -2.4 0M431.2 514a1.2 1.2 0 1 0 2.4 0a1.2 1.2 0 1 0 -2.4 0M433.1 514.1a1.2 1.2 0 1 0 2.4 0a1.2 1.2 0 1 0 -2.4 0M425.1 515.6a1.2 1.2 0 1 0 2.4 0a1.2 1.2 0 1 0 -2.4 0M427 515.7a1.2 1.2 0 1 0 2.4 0a1.2 1.2 0 1 0 -2.4 0M429.1 516.1a1.2 1.2 0 1 0 2.4 0a1.2 1.2 0 1 0 -2.4 0M431 516.1a1.2 1.2 0 1 0 2.4 0a1.2 1.2 0 1 0 -2.4 0M432.5 516.2a1.2 1.2 0 1 0 2.4 0a1.2 1.2 0 1 0 -2.4 0M425.5 517.9a1.2 1.2 0 1 0 2.4 0a1.2 1.2 0 1 0 -2.4 0M427.6 517.9a1.2 1.2 0 1 0 2.4 0a1.2 1.2 0 1 0 -2.4 0M429.5 517.7a1.2 1.2 0 1 0 2.4 0a1.2 1.2 0 1 0 -2.4 0M431.5 517.9a1.2 1.2 0 1 0 2.4 0a1.2 1.2 0 1 0 -2.4 0M424.2 519.4a1.2 1.2 0 1 0 2.4 0a1.2 1.2 0 1 0 -2.4 0M425.5 520a1.2 1.2 0 1 0 2.4 0a1.2 1.2 0 1 0 -2.4 0M427.9 519.5a1.2 1.2 0 1 0 2.4 0a1.2 1.2 0 1 0 -2.4 0M429.6 519.7a1.2 1.2 0 1 0 2.4 0a1.2 1.2 0 1 0 -2.4 0M422.2 521.7a1.2 1.2 0 1 0 2.4 0a1.2 1.2 0 1 0 -2.4 0M428.4 521.7a1.2 1.2 0 1 0 2.4 0a1.2 1.2 0 1 0 -2.4 0M420.8 523.6a1.2 1.2 0 1 0 2.4 0a1.2 1.2 0 1 0 -2.4 0M418.7 525.3a1.2 1.2 0 1 0 2.4 0a1.2 1.2 0 1 0 -2.4 0M422 525.2a1.2 1.2 0 1 0 2.4 0a1.2 1.2 0 1 0 -2.4 0M423.9 525.6a1.2 1.2 0 1 0 2.4 0a1.2 1.2 0 1 0 -2.4 0M426.1 525.3a1.2 1.2 0 1 0 2.4 0a1.2 1.2 0 1 0 -2.4 0M416.6 527.2a1.2 1.2 0 1 0 2.4 0a1.2 1.2 0 1 0 -2.4 0M418.7 527.3a1.2 1.2 0 1 0 2.4 0a1.2 1.2 0 1 0 -2.4 0M420.3 527.4a1.2 1.2 0 1 0 2.4 0a1.2 1.2 0 1 0 -2.4 0M422.2 527.4a1.2 1.2 0 1 0 2.4 0a1.2 1.2 0 1 0 -2.4 0M424.3 527.3a1.2 1.2 0 1 0 2.4 0a1.2 1.2 0 1 0 -2.4 0M416.5 529a1.2 1.2 0 1 0 2.4 0a1.2 1.2 0 1 0 -2.4 0M418.2 529.1a1.2 1.2 0 1 0 2.4 0a1.2 1.2 0 1 0 -2.4 0M420.4 529a1.2 1.2 0 1 0 2.4 0a1.2 1.2 0 1 0 -2.4 0M422.3 529.2a1.2 1.2 0 1 0 2.4 0a1.2 1.2 0 1 0 -2.4 0M414.4 530.9a1.2 1.2 0 1 0 2.4 0a1.2 1.2 0 1 0 -2.4 0M416.3 530.8a1.2 1.2 0 1 0 2.4 0a1.2 1.2 0 1 0 -2.4 0M417.8 531.4a1.2 1.2 0 1 0 2.4 0a1.2 1.2 0 1 0 -2.4 0M420.1 531a1.2 1.2 0 1 0 2.4 0a1.2 1.2 0 1 0 -2.4 0M447.1 466.3a1.2 1.2 0 1 0 2.4 0a1.2 1.2 0 1 0 -2.4 0M454 466.4a1.2 1.2 0 1 0 2.4 0a1.2 1.2 0 1 0 -2.4 0M448.8 475.7a1.2 1.2 0 1 0 2.4 0a1.2 1.2 0 1 0 -2.4 0M443.8 482.5a1.2 1.2 0 1 0 2.4 0a1.2 1.2 0 1 0 -2.4 0M448 482.6a1.2 1.2 0 1 0 2.4 0a1.2 1.2 0 1 0 -2.4 0M445.6 491.5a1.2 1.2 0 1 0 2.4 0a1.2 1.2 0 1 0 -2.4 0M448.7 496.3a1.2 1.2 0 1 0 2.4 0a1.2 1.2 0 1 0 -2.4 0M448 498.5a1.2 1.2 0 1 0 2.4 0a1.2 1.2 0 1 0 -2.4 0M437.9 507.3a1.2 1.2 0 1 0 2.4 0a1.2 1.2 0 1 0 -2.4 0M437.5 509.8a1.2 1.2 0 1 0 2.4 0a1.2 1.2 0 1 0 -2.4 0M442 509.7a1.2 1.2 0 1 0 2.4 0a1.2 1.2 0 1 0 -2.4 0M440.1 514.2a1.2 1.2 0 1 0 2.4 0a1.2 1.2 0 1 0 -2.4 0M436.7 517.1a1.2 1.2 0 1 0 2.4 0a1.2 1.2 0 1 0 -2.4 0M434.9 518.8a1.2 1.2 0 1 0 2.4 0a1.2 1.2 0 1 0 -2.4 0M462.2 537.6a1.2 1.2 0 1 0 2.4 0a1.2 1.2 0 1 0 -2.4 0M464.7 537.4a1.2 1.2 0 1 0 2.4 0a1.2 1.2 0 1 0 -2.4 0M462.9 539a1.2 1.2 0 1 0 2.4 0a1.2 1.2 0 1 0 -2.4 0M464.8 539.4a1.2 1.2 0 1 0 2.4 0a1.2 1.2 0 1 0 -2.4 0M466.2 539.3a1.2 1.2 0 1 0 2.4 0a1.2 1.2 0 1 0 -2.4 0M456.4 541.3a1.2 1.2 0 1 0 2.4 0a1.2 1.2 0 1 0 -2.4 0M460.7 541a1.2 1.2 0 1 0 2.4 0a1.2 1.2 0 1 0 -2.4 0M462.1 541.4a1.2 1.2 0 1 0 2.4 0a1.2 1.2 0 1 0 -2.4 0M464.4 541a1.2 1.2 0 1 0 2.4 0a1.2 1.2 0 1 0 -2.4 0M455 543a1.2 1.2 0 1 0 2.4 0a1.2 1.2 0 1 0 -2.4 0M456.6 543.4a1.2 1.2 0 1 0 2.4 0a1.2 1.2 0 1 0 -2.4 0M458.6 543.1a1.2 1.2 0 1 0 2.4 0a1.2 1.2 0 1 0 -2.4 0M460.7 542.8a1.2 1.2 0 1 0 2.4 0a1.2 1.2 0 1 0 -2.4 0M462.5 543.4a1.2 1.2 0 1 0 2.4 0a1.2 1.2 0 1 0 -2.4 0M451.6 545.3a1.2 1.2 0 1 0 2.4 0a1.2 1.2 0 1 0 -2.4 0M453.2 544.8a1.2 1.2 0 1 0 2.4 0a1.2 1.2 0 1 0 -2.4 0M455.2 545a1.2 1.2 0 1 0 2.4 0a1.2 1.2 0 1 0 -2.4 0M457.4 545a1.2 1.2 0 1 0 2.4 0a1.2 1.2 0 1 0 -2.4 0M459.4 545.1a1.2 1.2 0 1 0 2.4 0a1.2 1.2 0 1 0 -2.4 0M461.3 544.7a1.2 1.2 0 1 0 2.4 0a1.2 1.2 0 1 0 -2.4 0M448.5 547a1.2 1.2 0 1 0 2.4 0a1.2 1.2 0 1 0 -2.4 0M452.4 546.6a1.2 1.2 0 1 0 2.4 0a1.2 1.2 0 1 0 -2.4 0M454.7 546.6a1.2 1.2 0 1 0 2.4 0a1.2 1.2 0 1 0 -2.4 0M458.1 547a1.2 1.2 0 1 0 2.4 0a1.2 1.2 0 1 0 -2.4 0M442.1 548.5a1.2 1.2 0 1 0 2.4 0a1.2 1.2 0 1 0 -2.4 0M444.1 548.6a1.2 1.2 0 1 0 2.4 0a1.2 1.2 0 1 0 -2.4 0M447.6 548.7a1.2 1.2 0 1 0 2.4 0a1.2 1.2 0 1 0 -2.4 0M449.8 548.5a1.2 1.2 0 1 0 2.4 0a1.2 1.2 0 1 0 -2.4 0M451.3 549a1.2 1.2 0 1 0 2.4 0a1.2 1.2 0 1 0 -2.4 0M453.7 549a1.2 1.2 0 1 0 2.4 0a1.2 1.2 0 1 0 -2.4 0M455.1 548.9a1.2 1.2 0 1 0 2.4 0a1.2 1.2 0 1 0 -2.4 0M440.9 550.5a1.2 1.2 0 1 0 2.4 0a1.2 1.2 0 1 0 -2.4 0M442.7 550.7a1.2 1.2 0 1 0 2.4 0a1.2 1.2 0 1 0 -2.4 0M444.8 550.8a1.2 1.2 0 1 0 2.4 0a1.2 1.2 0 1 0 -2.4 0M446.6 550.9a1.2 1.2 0 1 0 2.4 0a1.2 1.2 0 1 0 -2.4 0M448.8 550.5a1.2 1.2 0 1 0 2.4 0a1.2 1.2 0 1 0 -2.4 0M431.8 551.8a1.2 1.2 0 1 0 2.4 0a1.2 1.2 0 1 0 -2.4 0M434 551.5a1.2 1.2 0 1 0 2.4 0a1.2 1.2 0 1 0 -2.4 0M436 551.2a1.2 1.2 0 1 0 2.4 0a1.2 1.2 0 1 0 -2.4 0M438.6 551.2a1.2 1.2 0 1 0 2.4 0a1.2 1.2 0 1 0 -2.4 0M414.4 528.4a1.2 1.2 0 1 0 2.4 0a1.2 1.2 0 1 0 -2.4 0M416.1 528.8a1.2 1.2 0 1 0 2.4 0a1.2 1.2 0 1 0 -2.4 0M415.4 530.1a1.2 1.2 0 1 0 2.4 0a1.2 1.2 0 1 0 -2.4 0M415.4 532.6a1.2 1.2 0 1 0 2.4 0a1.2 1.2 0 1 0 -2.4 0M415.5 552.2a1.2 1.2 0 1 0 2.4 0a1.2 1.2 0 1 0 -2.4 0M417.3 552a1.2 1.2 0 1 0 2.4 0a1.2 1.2 0 1 0 -2.4 0M419.1 551.8a1.2 1.2 0 1 0 2.4 0a1.2 1.2 0 1 0 -2.4 0M414.1 553.6a1.2 1.2 0 1 0 2.4 0a1.2 1.2 0 1 0 -2.4 0M416.4 554.1a1.2 1.2 0 1 0 2.4 0a1.2 1.2 0 1 0 -2.4 0M418.3 554a1.2 1.2 0 1 0 2.4 0a1.2 1.2 0 1 0 -2.4 0M419.8 553.8a1.2 1.2 0 1 0 2.4 0a1.2 1.2 0 1 0 -2.4 0M415.8 556.1a1.2 1.2 0 1 0 2.4 0a1.2 1.2 0 1 0 -2.4 0M417.3 555.7a1.2 1.2 0 1 0 2.4 0a1.2 1.2 0 1 0 -2.4 0M413.7 559.9a1.2 1.2 0 1 0 2.4 0a1.2 1.2 0 1 0 -2.4 0M415.8 559.9a1.2 1.2 0 1 0 2.4 0a1.2 1.2 0 1 0 -2.4 0M413.3 562.1a1.2 1.2 0 1 0 2.4 0a1.2 1.2 0 1 0 -2.4 0M415.5 561.8a1.2 1.2 0 1 0 2.4 0a1.2 1.2 0 1 0 -2.4 0M418.4 577a1.2 1.2 0 1 0 2.4 0a1.2 1.2 0 1 0 -2.4 0M420.1 577.2a1.2 1.2 0 1 0 2.4 0a1.2 1.2 0 1 0 -2.4 0M422.2 577.2a1.2 1.2 0 1 0 2.4 0a1.2 1.2 0 1 0 -2.4 0M424.3 577.3a1.2 1.2 0 1 0 2.4 0a1.2 1.2 0 1 0 -2.4 0M423.6 526.5a1.2 1.2 0 1 0 2.4 0a1.2 1.2 0 1 0 -2.4 0M426.8 527a1.2 1.2 0 1 0 2.4 0a1.2 1.2 0 1 0 -2.4 0M430.6 526a1.2 1.2 0 1 0 2.4 0a1.2 1.2 0 1 0 -2.4 0M438.8 528a1.2 1.2 0 1 0 2.4 0a1.2 1.2 0 1 0 -2.4 0M440.8 527a1.2 1.2 0 1 0 2.4 0a1.2 1.2 0 1 0 -2.4 0M423.6 551.5a1.2 1.2 0 1 0 2.4 0a1.2 1.2 0 1 0 -2.4 0M426.3 551.5a1.2 1.2 0 1 0 2.4 0a1.2 1.2 0 1 0 -2.4 0M408.8 557a1.2 1.2 0 1 0 2.4 0a1.2 1.2 0 1 0 -2.4 0M395.6 562.7a1.2 1.2 0 1 0 2.4 0a1.2 1.2 0 1 0 -2.4 0M378.6 563.5a1.2 1.2 0 1 0 2.4 0a1.2 1.2 0 1 0 -2.4 0M423.6 560.6a1.2 1.2 0 1 0 2.4 0a1.2 1.2 0 1 0 -2.4 0M436.8 558.6a1.2 1.2 0 1 0 2.4 0a1.2 1.2 0 1 0 -2.4 0M441.1 558.3a1.2 1.2 0 1 0 2.4 0a1.2 1.2 0 1 0 -2.4 0M449.8 557.4a1.2 1.2 0 1 0 2.4 0a1.2 1.2 0 1 0 -2.4 0M430.6 575.8a1.2 1.2 0 1 0 2.4 0a1.2 1.2 0 1 0 -2.4 0M439 577a1.2 1.2 0 1 0 2.4 0a1.2 1.2 0 1 0 -2.4 0M443.4 575.3a1.2 1.2 0 1 0 2.4 0a1.2 1.2 0 1 0 -2.4 0M429.8 606.5a1.2 1.2 0 1 0 2.4 0a1.2 1.2 0 1 0 -2.4 0M432.4 606.5a1.2 1.2 0 1 0 2.4 0a1.2 1.2 0 1 0 -2.4 0M473.5 607a1.2 1.2 0 1 0 2.4 0a1.2 1.2 0 1 0 -2.4 0M428 617a1.2 1.2 0 1 0 2.4 0a1.2 1.2 0 1 0 -2.4 0M454.8 458a1.2 1.2 0 1 0 2.4 0a1.2 1.2 0 1 0 -2.4 0M456.8 462a1.2 1.2 0 1 0 2.4 0a1.2 1.2 0 1 0 -2.4 0" fill="#960f0a"/>
<line x1="309.8" y1="621.6" x2="484" y2="621.6" stroke="#9a9a9a" stroke-width="0.8"/>
<text transform="translate(318.6,632.1) rotate(-90)" font-size="5.0" fill="#333" textLength="9.6" lengthAdjust="spacingAndGlyphs">1949</text>
<text transform="translate(327.2,632.1) rotate(-90)" font-size="5.0" fill="#333" textLength="9.6" lengthAdjust="spacingAndGlyphs">1953</text>
<text transform="translate(335.8,632.1) rotate(-90)" font-size="5.0" fill="#333" textLength="9.6" lengthAdjust="spacingAndGlyphs">1957</text>
<text transform="translate(344.4,632.1) rotate(-90)" font-size="5.0" fill="#333" textLength="9.6" lengthAdjust="spacingAndGlyphs">1961</text>
<text transform="translate(353,632.1) rotate(-90)" font-size="5.0" fill="#333" textLength="9.6" lengthAdjust="spacingAndGlyphs">1965</text>
<text transform="translate(361.6,632.1) rotate(-90)" font-size="5.0" fill="#333" textLength="9.6" lengthAdjust="spacingAndGlyphs">1969</text>
<text transform="translate(370.2,632.1) rotate(-90)" font-size="5.0" fill="#333" textLength="9.6" lengthAdjust="spacingAndGlyphs">1973</text>
<text transform="translate(378.8,632.1) rotate(-90)" font-size="5.0" fill="#333" textLength="9.6" lengthAdjust="spacingAndGlyphs">1977</text>
<text transform="translate(387.4,632.1) rotate(-90)" font-size="5.0" fill="#333" textLength="9.6" lengthAdjust="spacingAndGlyphs">1981</text>
<text transform="translate(396,632.1) rotate(-90)" font-size="5.0" fill="#333" textLength="9.6" lengthAdjust="spacingAndGlyphs">1985</text>
<text transform="translate(404.6,632.1) rotate(-90)" font-size="5.0" fill="#333" textLength="9.6" lengthAdjust="spacingAndGlyphs">1989</text>
<text transform="translate(413.2,632.1) rotate(-90)" font-size="5.0" fill="#333" textLength="9.6" lengthAdjust="spacingAndGlyphs">1993</text>
<text transform="translate(421.8,632.1) rotate(-90)" font-size="5.0" fill="#333" textLength="9.6" lengthAdjust="spacingAndGlyphs">1997</text>
<text transform="translate(430.4,632.1) rotate(-90)" font-size="5.0" fill="#333" textLength="9.6" lengthAdjust="spacingAndGlyphs">2001</text>
<text transform="translate(439,632.1) rotate(-90)" font-size="5.0" fill="#333" textLength="9.6" lengthAdjust="spacingAndGlyphs">2005</text>
<text transform="translate(447.6,632.1) rotate(-90)" font-size="5.0" fill="#333" textLength="9.6" lengthAdjust="spacingAndGlyphs">2009</text>
<text transform="translate(456.2,632.1) rotate(-90)" font-size="5.0" fill="#333" textLength="9.6" lengthAdjust="spacingAndGlyphs">2013</text>
<text transform="translate(464.8,632.1) rotate(-90)" font-size="5.0" fill="#333" textLength="9.6" lengthAdjust="spacingAndGlyphs">2017</text>
<text transform="translate(473.4,632.1) rotate(-90)" font-size="5.0" fill="#333" textLength="9.6" lengthAdjust="spacingAndGlyphs">2021</text>
<text transform="translate(482,632.1) rotate(-90)" font-size="5.0" fill="#333" textLength="9.6" lengthAdjust="spacingAndGlyphs">2025</text>
<path d="M316.8 621.6V622.9M325.4 621.6V622.9M334 621.6V622.9M342.6 621.6V622.9M351.2 621.6V622.9M359.8 621.6V622.9M368.4 621.6V622.9M377 621.6V622.9M385.6 621.6V622.9M394.2 621.6V622.9M402.8 621.6V622.9M411.4 621.6V622.9M420 621.6V622.9M428.6 621.6V622.9M437.2 621.6V622.9M445.8 621.6V622.9M454.4 621.6V622.9M463 621.6V622.9M471.6 621.6V622.9M480.2 621.6V622.9" stroke="#9a9a9a" stroke-width="0.5" fill="none"/>
<text x="475.3" y="519.5" font-size="13" fill="#000" textLength="17" lengthAdjust="spacingAndGlyphs">G-I</text>
<text x="486.7" y="604.5" font-size="13" fill="#b0b0b0" textLength="14.3" lengthAdjust="spacingAndGlyphs">G-II</text>
<line x1="449.8" y1="456.2" x2="628.6" y2="456.2" stroke="#444" stroke-width="0.8" stroke-dasharray="1.4 1.4"/>
<line x1="424.3" y1="574.9" x2="536.4" y2="462.7" stroke="#444" stroke-width="0.8" stroke-dasharray="1.4 1.4"/>
<line x1="424.3" y1="576.3" x2="512.3" y2="535.1" stroke="#444" stroke-width="0.8" stroke-dasharray="1.4 1.4"/>
<line x1="489.6" y1="607.6" x2="505.2" y2="613.2" stroke="#444" stroke-width="0.8" stroke-dasharray="1.4 1.4"/>
<path d="M515 490.4V520.2M515 490.4H523.5M523.5 476.2V503.2M523.5 476.2H532M532 470.6V487.6M532 470.6H534.8M534.8 463V473.4M534.8 463H543.3M534.8 473.4H591.6M543.3 461.5V465M543.3 461.5H545M543.3 465H545M532 487.6H557.5M557.5 480.5V486M557.5 480.5H567.5M557.5 486H567.5M523.5 503.2H543.3M543.3 500V506M543.3 500H545M543.3 506H545M515 520.2H542M542 513V526M542 513H548M548 511V516M548 511H552M548 516H562M542 526H551" stroke="#dba4f2" stroke-width="0.7" fill="none"/>
<line x1="510.5" y1="534.7" x2="594.9" y2="534.7" stroke="#9a9a9a" stroke-width="0.8"/>
<text transform="translate(519.2,545) rotate(-90)" font-size="3.2" fill="#666" textLength="8" lengthAdjust="spacingAndGlyphs">1982</text>
<text transform="translate(531.2,545) rotate(-90)" font-size="3.2" fill="#666" textLength="8" lengthAdjust="spacingAndGlyphs">1986</text>
<text transform="translate(543.2,545) rotate(-90)" font-size="3.2" fill="#666" textLength="8" lengthAdjust="spacingAndGlyphs">1990</text>
<text transform="translate(555.2,545) rotate(-90)" font-size="3.2" fill="#666" textLength="8" lengthAdjust="spacingAndGlyphs">1994</text>
<text transform="translate(567.2,545) rotate(-90)" font-size="3.2" fill="#666" textLength="8" lengthAdjust="spacingAndGlyphs">1998</text>
<text transform="translate(579.2,545) rotate(-90)" font-size="3.2" fill="#666" textLength="8" lengthAdjust="spacingAndGlyphs">2002</text>
<text transform="translate(591.2,545) rotate(-90)" font-size="3.2" fill="#666" textLength="8" lengthAdjust="spacingAndGlyphs">2006</text>
<path d="M518 534.7V536M530 534.7V536M542 534.7V536M554 534.7V536M566 534.7V536M578 534.7V536M590 534.7V536" stroke="#9a9a9a" stroke-width="0.5" fill="none"/>
<path d="M515 612.5V615.4M515 612.5V612.5M515 612.5H520.6M520.6 611V612.5M520.6 611V611M520.6 611H557.5M557.5 609.7V611M557.5 609.7V609.7M557.5 609.7H571.7M571.7 606.3V609.7M571.7 606.3V606.3M571.7 606.3H577.4M577.4 599.7V606.3M577.4 599.7V599.7M577.4 599.7H583M583 584V599.7M583 584V584M583 584H587.3M587.3 564.3V584M587.3 564.3V564.3M587.3 564.3H590M590 557V564.3M590 545V557M590 545H596M596 530V545M596 530H600M600 515V530M600 515H605M605 505V515M605 505H608M608 496V505M608 496H613M613 485V496M613 485H617M617 475V485M617 475H620M620 466V475M620 466H624M624 458V466M624 458H628M515 615.4H560M520.6 614H590M638 604.3H640.5M639.7 604.8H646.7M639.7 605.3H646.5M639.7 604.8V605.3M638 605H639.7M638 604.3V605M635.7 604.6H638M635.7 605.8H651.4M635.7 604.6V605.8M633.7 605.2H635.7M636.6 606.3H653.4M646.8 606.8H652.1M646.8 607.3H655.7M646.8 606.8V607.3M644.2 607H646.8M644.2 607.8H659.7M644.2 607V607.8M640.8 607.4H644.2M640.8 608.3H660.8M640.8 607.4V608.3M638.4 607.8H640.8M638.4 608.8H654.5M638.4 607.8V608.8M636.6 608.3H638.4M636.6 606.3V608.3M633.7 607.3H636.6M633.7 605.2V607.3M590.7 606.2H633.7M623.5 610.8H645.5M623.5 611.3H640.8M623.5 610.8V611.3M615.9 611H623.5M626.3 611.8H642.9M626.3 612.3H635.3M626.3 611.8V612.3M621 612H626.3M621 612.8H636M621 612V612.8M615.9 612.4H621M615.9 611V612.4M613.5 611.7H615.9M620.4 613.3H636.1M621.6 613.8H634.1M621.6 614.3H634.2M621.6 613.8V614.3M620.4 614H621.6M620.4 613.3V614M617.9 613.6H620.4M617.9 614.8H633.4M617.9 613.6V614.8M613.5 614.2H617.9M613.5 611.7V614.2M590.7 613H613.5M590.7 606.2V613M577.4 611.3H590.7M577.4 611V611.3M623 595.6H626.2M623 595.8H623.4M623 595.6V595.8M621.1 595.7H623M621.1 596.1H621.5M621.1 595.7V596.1M620.2 595.9H621.1M620.2 596.3H621.9M620.2 595.9V596.3M618.1 596.1H620.2M624.9 596.5H625.3M624.9 596.7H625.3M624.9 596.5V596.7M624.5 596.6H624.9M624.5 597H624.9M624.5 596.6V597M624.2 596.8H624.5M624.2 597.2H624.6M624.2 596.8V597.2M624.1 597H624.2M624.1 597.4H624.5M624.1 597V597.4M623.8 597.2H624.1M623.8 597.6H624.2M623.8 597.2V597.6M623 597.4H623.8M623 597.9H623.4M623 597.4V597.9M621.9 597.6H623M622.9 598.1H623.3M622.9 598.3H623.3M622.9 598.1V598.3M621.9 598.2H622.9M621.9 597.6V598.2M620.3 597.9H621.9M620.3 598.5H622.5M620.3 597.9V598.5M619 598.2H620.3M619 598.8H625.3M619 598.2V598.8M618.1 598.5H619M618.1 596.1V598.5M617.4 597.3H618.1M618.9 599H621.2M618.9 599.2H624.7M618.9 599V599.2M617.4 599.1H618.9M617.4 597.3V599.1M615.7 598.2H617.4M616.2 599.4H620.2M616.8 599.7H621.9M617.4 599.9H622.9M617.4 600.1H622.5M617.4 599.9V600.1M616.8 600H617.4M616.8 599.7V600M616.2 599.8H616.8M616.2 599.4V599.8M615.7 599.6H616.2M615.7 598.2V599.6M612.1 598.9H615.7M617.7 600.3H622.2M617.7 600.6H623.3M617.7 600.3V600.6M616 600.4H617.7M619.5 600.8H619.9M619.5 601H621.5M619.5 600.8V601M618.1 600.9H619.5M618.1 601.2H619.8M618.1 600.9V601.2M617.5 601.1H618.1M617.5 601.5H622.6M617.5 601.1V601.5M617.1 601.3H617.5M617.1 601.7H621.7M617.1 601.3V601.7M616 601.5H617.1M616 600.4V601.5M614.5 601H616M615.2 601.9H621.8M615.2 602.1H620.5M615.2 601.9V602.1M614.5 602H615.2M614.5 601V602M612.1 601.5H614.5M612.1 598.9V601.5M588.6 600.2H612.1M606.7 602.9H619.3M606.7 603.2H619.3M606.7 602.9V603.2M602.2 603H606.7M602.2 603.4H619.6M602.2 603V603.4M597.6 603.2H602.2M597.6 603.6H621M597.6 603.2V603.6M596 603.4H597.6M596 603.9H618.9M596 603.4V603.9M588.6 603.7H596M588.6 600.2V603.7M583 602.8H588.6M583 600V602.8M587.3 598V598M587.3 598H592M592 596V598M592 596V596M592 596H610M610 592V596M610 592V592M610 592H624M624 589V592M624 589V589M624 589H638M638 587V589M615.3 595.7H624M615.3 596.1H619.2M615.3 595.7V596.1M613.7 595.9H615.3M613.7 596.5H622.6M613.7 595.9V596.5M611.8 596.2H613.7M616.8 596.9H618.4M616.8 597.3H618M616.8 596.9V597.3M615.1 597.1H616.8M615.1 597.6H621.4M615.1 597.1V597.6M614.7 597.4H615.1M615.6 598H619.4M616 598.4H620M616.4 598.8H616.8M616.4 599.2H618.9M616.4 598.8V599.2M616 599H616.4M616 598.4V599M615.6 598.7H616M615.6 598V598.7M614.7 598.4H615.6M614.7 597.4V598.4M613.1 597.9H614.7M613.4 599.6H614.2M613.4 600H615.8M613.4 599.6V600M613.1 599.8H613.4M613.1 597.9V599.8M611.8 598.8H613.1M611.8 596.2V598.8M609.4 597.5H611.8M610.9 600.4H616.8M610.9 600.8H611.4M610.9 600.4V600.8M609.8 600.6H610.9M609.8 601.2H613M609.8 600.6V601.2M609.4 600.9H609.8M609.4 597.5V600.9M592 599.2H609.4M592 598.5V599.2M630.6 590.1H632.4M630.6 590.4H635.2M630.6 590.1V590.4M629.5 590.3H630.6M629.5 590.7H636.4M629.5 590.3V590.7M628.9 590.5H629.5M631.5 591H634.8M632.8 591.3H636M632.8 591.6H633.2M632.8 591.3V591.6M631.8 591.4H632.8M631.8 591.9H634.5M631.8 591.4V591.9M631.5 591.6H631.8M631.5 591V591.6M631.2 591.3H631.5M631.2 592.1H631.6M631.2 591.3V592.1M630.1 591.7H631.2M630.4 592.4H630.8M630.4 592.7H634.2M630.4 592.4V592.7M630.1 592.6H630.4M630.1 591.7V592.6M628.9 592.2H630.1M628.9 590.5V592.2M627.1 591.3H628.9M627.4 593H632.1M627.4 593.3H631.5M627.4 593V593.3M627.1 593.1H627.4M627.1 591.3V593.1M625.8 592.2H627.1M627.5 593.6H628.5M627.5 593.9H629.2M627.5 593.6V593.9M625.8 593.7H627.5M625.8 592.2V593.7M623.1 593H625.8M624.9 594.1H629.4M624.9 594.4H625.3M624.9 594.1V594.4M623.1 594.3H624.9M623.1 593V594.3M620.5 593.6H623.1M620.5 594.7H621.1M620.5 593.6V594.7M619.9 594.2H620.5M623.7 595H628.5M623.7 595.3H624.1M623.7 595V595.3M622.2 595.1H623.7M623.2 595.6H623.9M623.2 595.9H625.6M623.2 595.6V595.9M622.2 595.7H623.2M622.2 595.1V595.7M619.9 595.4H622.2M619.9 594.2V595.4M610 594.8H619.9M610 594V594.8M635.6 586.1H648.1M640.9 586.4H651.7M644.3 586.7H644.9M646.2 586.9H648.9M646.2 587.2H646.7M646.2 586.9V587.2M644.3 587H646.2M644.3 586.7V587M643.4 586.8H644.3M643.4 587.4H646M643.4 586.8V587.4M640.9 587.1H643.4M640.9 586.4V587.1M637 586.8H640.9M637 587.7H650.6M637 586.8V587.7M635.6 587.2H637M635.6 586.1V587.2M630.6 586.7H635.6M639.6 588H643.8M640.3 588.2H647.6M640.3 588.5H649.4M640.3 588.2V588.5M639.6 588.3H640.3M639.6 588V588.3M638.8 588.2H639.6M638.8 588.7H647M638.8 588.2V588.7M635.4 588.4H638.8M635.4 589H647.8M635.4 588.4V589M630.6 588.7H635.4M630.6 586.7V588.7M628.8 587.7H630.6M636.2 589.3H639.4M638.4 589.5H644.6M638.4 589.8H642.8M638.4 589.5V589.8M636.2 589.7H638.4M636.2 589.3V589.7M632.4 589.5H636.2M632.4 590H639.9M632.4 589.5V590M628.8 589.8H632.4M628.8 587.7V589.8M625.6 588.7H628.8M641.3 590.3H645.4M641.3 590.6H642M641.3 590.3V590.6M640.1 590.4H641.3M640.1 590.8H643.2M640.1 590.4V590.8M638.2 590.6H640.1M638.2 591.1H644.7M638.2 590.6V591.1M635.4 590.9H638.2M635.4 591.3H641.1M635.4 590.9V591.3M631.9 591.1H635.4M631.9 591.6H643.2M631.9 591.1V591.6M628.7 591.4H631.9M628.7 591.9H638.3M628.7 591.4V591.9M625.6 591.6H628.7M625.6 588.7V591.6M624 590.2H625.6M624 590.2V590.5M649.5 568.7H661.8M649.5 569.1H660.2M649.5 568.7V569.1M645.4 568.9H649.5M655.2 569.5H659.4M655.2 569.9H661.6M655.2 569.5V569.9M654.5 569.7H655.2M654.5 570.3H663.4M654.5 569.7V570.3M653.5 570H654.5M653.5 570.7H662.8M653.5 570V570.7M652.8 570.3H653.5M660.3 571H663M660.3 571.4H663.9M660.3 571V571.4M659.3 571.2H660.3M659.3 571.8H661.9M659.3 571.2V571.8M657.4 571.5H659.3M659.3 572.2H662.6M660.9 572.6H661.3M660.9 573H663.2M660.9 572.6V573M660.3 572.8H660.9M660.3 573.4H662.4M660.3 572.8V573.4M659.3 573.1H660.3M659.3 572.2V573.1M657.4 572.7H659.3M657.4 571.5V572.7M655.7 572.1H657.4M655.7 573.8H663.9M655.7 572.1V573.8M654.1 572.9H655.7M654.1 574.2H662.7M654.1 572.9V574.2M652.8 573.6H654.1M652.8 570.3V573.6M649.1 571.9H652.8M649.1 574.6H659M649.1 571.9V574.6M647.9 573.3H649.1M651.7 575H661.8M651.7 575.4H656.6M651.7 575V575.4M649.3 575.2H651.7M649.3 575.7H662.7M649.3 575.2V575.7M647.9 575.5H649.3M647.9 573.3V575.5M645.4 574.4H647.9M645.4 568.9V574.4M644.9 571.6H645.4M662.3 576.6H668.8M662.3 576.9H667.2M662.3 576.6V576.9M659.3 576.7H662.3M660.9 577.2H670M663.8 577.5H669.1M667 577.7H671.3M667 578H669.3M667 577.7V578M666.1 577.9H667M666.1 578.3H669.1M666.1 577.9V578.3M663.8 578.1H666.1M663.8 577.5V578.1M660.9 577.8H663.8M660.9 577.2V577.8M659.3 577.5H660.9M659.3 576.7V577.5M655.1 577.1H659.3M655.1 578.6H660.3M655.1 577.1V578.6M650 577.9H655.1M658 578.9H670.4M658 579.2H669.9M658 578.9V579.2M653.9 579.1H658M653.9 579.5H667.5M653.9 579.1V579.5M650 579.3H653.9M650 577.9V579.3M644.9 578.6H650M644.9 571.6V578.6M642.9 576.8H644.9M644.8 580.4H666.3M649.1 580.6H658.4M649.1 580.9H664.2M649.1 580.6V580.9M647.4 580.8H649.1M654 581.1H665.1M657.1 581.4H661M657.1 581.6H657.5M657.1 581.4V581.6M656.1 581.5H657.1M656.1 581.9H656.5M656.1 581.5V581.9M654 581.7H656.1M654 581.1V581.7M651.6 581.4H654M656.1 582.1H663.3M656.1 582.4H662.9M656.1 582.1V582.4M655.6 582.3H656.1M655.6 582.7H661.6M655.6 582.3V582.7M653 582.5H655.6M653 582.9H660.5M653 582.5V582.9M652.5 582.7H653M652.5 583.2H661.1M652.5 582.7V583.2M651.6 582.9H652.5M651.6 581.4V582.9M647.4 582.2H651.6M647.4 580.8V582.2M644.8 581.5H647.4M644.8 580.4V581.5M643.4 580.9H644.8M649.8 583.4H659.8M653.4 583.7H657.5M653.4 583.9H654.7M653.4 583.7V583.9M651.3 583.8H653.4M651.3 584.2H659.3M651.3 583.8V584.2M649.8 584H651.3M649.8 583.4V584M645.4 583.7H649.8M645.4 584.4H659.8M645.4 583.7V584.4M643.4 584.1H645.4M643.4 580.9V584.1M642.9 582.5H643.4M642.9 576.8V582.5M641.6 581.1H642.9M650 585.7H651.2M650 586H656.2M650 585.7V586M646.5 585.9H650M646.5 586.3H654.3M646.5 585.9V586.3M645.2 586.1H646.5M645.2 586.5H656M645.2 586.1V586.5M642.1 586.3H645.2M644.8 586.8H655.9M649.2 587.1H656M649.9 587.3H653.9M649.9 587.6H655.2M649.9 587.3V587.6M649.2 587.5H649.9M649.2 587.1V587.5M646.8 587.3H649.2M646.8 587.9H648M646.8 587.3V587.9M644.8 587.6H646.8M644.8 586.8V587.6M642.1 587.2H644.8M642.1 586.3V587.2M641.6 586.7H642.1M641.6 581.1V586.7M638 585.3H641.6M638 585.3V587M635.5 545.2H635.9M636.9 545.5H640.3M637.6 545.8H639.5M637.6 546.2H640M637.6 545.8V546.2M636.9 546H637.6M636.9 545.5V546M635.5 545.8H636.9M635.5 545.2V545.8M634.2 545.5H635.5M635.6 546.5H638.1M635.6 546.9H640.5M635.6 546.5V546.9M634.2 546.7H635.6M634.2 545.5V546.7M633.1 546.1H634.2M634.5 547.2H640.4M634.5 547.5H634.9M634.5 547.2V547.5M633.1 547.4H634.5M633.1 546.1V547.4M632.7 546.7H633.1M633.7 547.9H638.6M635.8 548.2H639M635.8 548.6H636.2M635.8 548.2V548.6M633.7 548.4H635.8M633.7 547.9V548.4M632.7 548.1H633.7M632.7 546.7V548.1M630.9 547.4H632.7M632.5 548.9H637.9M632.5 549.2H640.2M632.5 548.9V549.2M631.8 549.1H632.5M631.8 549.6H639.2M631.8 549.1V549.6M630.9 549.3H631.8M630.9 547.4V549.3M602.4 548.4H630.9M638.5 550.7H639.1M638.5 550.9H638.9M638.5 550.7V550.9M637.5 550.8H638.5M637.5 551.2H637.9M637.5 550.8V551.2M636.7 551H637.5M638.6 551.4H639M638.6 551.6H640.9M638.6 551.4V551.6M638.3 551.5H638.6M638.8 551.8H639.2M639.2 552H639.6M639.2 552.2H639.6M639.2 552V552.2M638.8 552.1H639.2M638.8 551.8V552.1M638.3 552H638.8M638.3 551.5V552M637.6 551.7H638.3M637.6 552.4H638M637.6 551.7V552.4M636.7 552.1H637.6M636.7 551V552.1M635.9 551.5H636.7M635.9 552.6H639.5M635.9 551.5V552.6M633.9 552.1H635.9M634.9 552.9H639.7M634.9 553.1H637M634.9 552.9V553.1M634.4 553H634.9M634.4 553.3H638.4M634.4 553V553.3M633.9 553.1H634.4M633.9 552.1V553.1M632.3 552.6H633.9M632.3 553.5H633.3M632.3 552.6V553.5M631.1 553H632.3M636.1 553.7H640.7M639.6 553.9H640M639.6 554.1H640M639.6 553.9V554.1M639 554H639.6M639 554.3H639.4M639 554V554.3M638.4 554.2H639M638.4 554.5H639.7M638.4 554.2V554.5M637.2 554.4H638.4M637.2 554.8H640.2M637.2 554.4V554.8M636.1 554.6H637.2M636.1 553.7V554.6M634.7 554.1H636.1M634.7 555H635.1M634.7 554.1V555M634.3 554.6H634.7M635.4 555.2H636.8M635.9 555.4H636.3M635.9 555.6H636.3M635.9 555.4V555.6M635.4 555.5H635.9M635.4 555.2V555.5M634.3 555.3H635.4M634.3 554.6V555.3M632.1 554.9H634.3M633 555.8H636.5M633 556H638M633 555.8V556M632.4 555.9H633M632.4 556.2H637.4M632.4 555.9V556.2M632.1 556.1H632.4M632.1 554.9V556.1M631.1 555.5H632.1M631.1 553V555.5M602.4 554.3H631.1M602.4 548.4V554.3M595.6 552.8H602.4M632.6 557H640.1M634.2 557.2H636.9M634.8 557.4H637.1M634.8 557.6H636.9M634.8 557.4V557.6M634.2 557.5H634.8M634.2 557.2V557.5M632.6 557.3H634.2M632.6 557V557.3M631.4 557.1H632.6M631.4 557.8H638.5M631.4 557.1V557.8M629.2 557.5H631.4M629.2 558H633.4M629.2 557.5V558M626.6 557.7H629.2M627.2 558.2H635.7M627.2 558.4H630.7M627.2 558.2V558.4M626.6 558.3H627.2M626.6 557.7V558.3M624.9 558H626.6M628.1 558.6H632.5M628.1 558.8H630.1M628.1 558.6V558.8M624.9 558.7H628.1M624.9 558V558.7M621.2 558.4H624.9M626.9 559.1H635.5M627.9 559.3H633M629.3 559.5H631.6M629.3 559.7H633.2M629.3 559.5V559.7M627.9 559.6H629.3M627.9 559.3V559.6M626.9 559.4H627.9M626.9 559.1V559.4M625 559.2H626.9M626.9 559.9H633.6M628.4 560.1H634.5M628.4 560.3H633.7M628.4 560.1V560.3M626.9 560.2H628.4M626.9 559.9V560.2M625 560.1H626.9M625 559.2V560.1M623.9 559.7H625M623.9 560.5H630.4M623.9 559.7V560.5M622.2 560.1H623.9M626.2 560.7H626.6M626.2 561H630.6M626.2 560.7V561M625.3 560.8H626.2M630.2 561.2H630.9M630.2 561.4H630.6M630.2 561.2V561.4M629.7 561.3H630.2M629.7 561.6H631.1M629.7 561.3V561.6M629 561.4H629.7M629 561.8H629.4M629 561.4V561.8M628.2 561.6H629M628.2 562H628.6M628.2 561.6V562M627.7 561.8H628.2M627.7 562.2H628.2M627.7 561.8V562.2M626.6 562H627.7M626.6 562.4H627M626.6 562V562.4M626.3 562.2H626.6M626.3 562.6H629.7M626.3 562.2V562.6M625.3 562.4H626.3M625.3 560.8V562.4M624 561.6H625.3M625.6 562.8H626.5M625.6 563.1H626M625.6 562.8V563.1M624.7 562.9H625.6M624.7 563.3H627.8M624.7 562.9V563.3M624 563.1H624.7M624 561.6V563.1M622.2 562.4H624M622.2 560.1V562.4M621.2 561.2H622.2M621.2 558.4V561.2M619 559.8H621.2M620.9 563.5H622.3M622.6 563.7H625.3M622.6 563.9H627.4M622.6 563.7V563.9M620.9 563.8H622.6M620.9 563.5V563.8M619 563.6H620.9M619 559.8V563.6M595.6 561.7H619M595.6 552.8V561.7M590 559.5H595.6M590 559.5V560M638.4 518.1H642.2M640.1 518.3H640.5M640.1 518.5H640.5M640.1 518.3V518.5M638.4 518.4H640.1M638.4 518.1V518.4M635.7 518.3H638.4M635.7 518.8H644.2M635.7 518.3V518.8M633 518.5H635.7M642.4 519H643.8M642.4 519.2H642.8M642.4 519V519.2M641.6 519.1H642.4M641.6 519.4H642M641.6 519.1V519.4M640.5 519.3H641.6M640.5 519.6H643.1M640.5 519.3V519.6M638.7 519.5H640.5M638.7 519.9H644.2M638.7 519.5V519.9M636.6 519.7H638.7M643.6 520.1H644.6M643.6 520.3H644M643.6 520.1V520.3M643.2 520.2H643.6M643.2 520.5H644.5M643.2 520.2V520.5M642.3 520.4H643.2M642.9 520.7H643.3M642.9 521H643.3M642.9 520.7V521M642.3 520.9H642.9M642.3 520.4V520.9M640.8 520.6H642.3M640.8 521.2H645.1M640.8 520.6V521.2M639.4 520.9H640.8M639.4 521.4H644.5M639.4 520.9V521.4M637.8 521.2H639.4M641.3 521.6H643.1M641.3 521.8H644.1M641.3 521.6V521.8M639.8 521.7H641.3M639.8 522.1H641.3M639.8 521.7V522.1M637.8 521.9H639.8M637.8 521.2V521.9M636.6 521.5H637.8M636.6 519.7V521.5M633 520.6H636.6M633 518.5V520.6M630.9 519.6H633M640.1 522.3H644.4M640.1 522.5H641M640.1 522.3V522.5M638.4 522.4H640.1M638.4 522.7H645.8M638.4 522.4V522.7M636.8 522.6H638.4M636.8 522.9H644.7M636.8 522.6V522.9M634.9 522.8H636.8M634.9 523.2H642.5M634.9 522.8V523.2M631.8 523H634.9M631.8 523.4H645.4M631.8 523V523.4M630.9 523.2H631.8M630.9 519.6V523.2M613.7 521.4H630.9M643.3 524.7H649.5M643.3 525H649.2M643.3 524.7V525M642 524.9H643.3M644.2 525.3H644.6M644.2 525.6H644.6M644.2 525.3V525.6M642 525.5H644.2M642 524.9V525.5M638.2 525.2H642M638.2 525.9H648.2M638.2 525.2V525.9M635.5 525.5H638.2M641.5 526.2H646.4M641.5 526.5H647.8M641.5 526.2V526.5M638.5 526.4H641.5M640 526.8H646.6M643.8 527.2H649.6M643.8 527.5H645.5M643.8 527.2V527.5M642.9 527.3H643.8M642.9 527.8H646.3M642.9 527.3V527.8M640 527.5H642.9M640 526.8V527.5M638.5 527.2H640M638.5 526.4V527.2M636.6 526.8H638.5M638.2 528.1H645.4M638.2 528.4H649.4M638.2 528.1V528.4M636.6 528.2H638.2M636.6 526.8V528.2M635.5 527.5H636.6M635.5 525.5V527.5M613.7 526.5H635.5M613.7 521.4V526.5M607.8 525.2H613.7M638 529H641.4M638 529.2H638.4M638 529V529.2M636.7 529.1H638M636.7 529.5H639.3M636.7 529.1V529.5M635.9 529.3H636.7M635.9 529.7H639M635.9 529.3V529.7M633.7 529.5H635.9M633.7 529.9H636.1M633.7 529.5V529.9M630.5 529.7H633.7M638.9 530.2H639.3M638.9 530.4H639.3M638.9 530.2V530.4M638.4 530.3H638.9M638.4 530.7H638.8M638.4 530.3V530.7M638 530.5H638.4M638 530.9H640.8M638 530.5V530.9M637.3 530.7H638M637.3 531.1H638.1M637.3 530.7V531.1M636.7 530.9H637.3M636.7 531.4H639.1M636.7 530.9V531.4M636 531.1H636.7M636 531.6H636.4M636 531.1V531.6M634.5 531.4H636M634.5 531.9H636.6M634.5 531.4V531.9M632.2 531.6H634.5M633.7 532.1H636.9M633.7 532.3H637.2M633.7 532.1V532.3M632.2 532.2H633.7M632.2 531.6V532.2M630.5 531.9H632.2M630.5 529.7V531.9M627.2 530.8H630.5M632.4 532.6H639M632.4 532.8H638.2M632.4 532.6V532.8M631.1 532.7H632.4M631.1 533.1H636.5M631.1 532.7V533.1M630.2 532.9H631.1M630.2 533.3H633.4M630.2 532.9V533.3M627.2 533.1H630.2M627.2 530.8V533.1M623 531.9H627.2M627.9 533.5H633.5M627.9 533.8H637M627.9 533.5V533.8M625.2 533.7H627.9M625.2 534H635.3M625.2 533.7V534M623 533.8H625.2M623 531.9V533.8M618 532.9H623M628.5 534.3H636M628.5 534.5H631.7M628.5 534.3V534.5M625.2 534.4H628.5M628.1 534.7H633.6M628.1 535H636.8M628.1 534.7V535M626.8 534.8H628.1M626.8 535.2H636.4M626.8 534.8V535.2M625.2 535H626.8M625.2 534.4V535M622.5 534.7H625.2M622.5 535.4H634.7M622.5 534.7V535.4M618 535.1H622.5M618 532.9V535.1M615.6 534H618M625 535.7H633.7M625 535.9H635M625 535.7V535.9M623.8 535.8H625M629.9 536.2H633.3M629.9 536.4H632.1M629.9 536.2V536.4M629.1 536.3H629.9M629.1 536.6H632.8M629.1 536.3V536.6M627 536.5H629.1M627 536.9H631.1M627 536.5V536.9M623.8 536.7H627M623.8 535.8V536.7M622.7 536.2H623.8M622.7 537.1H634.4M622.7 536.2V537.1M618.2 536.7H622.7M618.2 537.4H632.4M618.2 536.7V537.4M615.6 537H618.2M615.6 534V537M607.8 535.5H615.6M607.8 525.2V535.5M603.6 532.9H607.8M631.4 538.3H639.7M635.7 538.5H642.3M635.7 538.7H639.3M635.7 538.5V538.7M634.2 538.6H635.7M635.6 538.9H640.7M635.6 539.1H639.9M635.6 538.9V539.1M634.2 539H635.6M634.2 538.6V539M633.1 538.8H634.2M633.1 539.4H641.2M633.1 538.8V539.4M631.4 539.1H633.1M631.4 538.3V539.1M630.3 538.7H631.4M630.3 539.6H641.7M630.3 538.7V539.6M629 539.1H630.3M631.8 539.8H636.8M631.8 540H641.3M631.8 539.8V540M629 539.9H631.8M629 539.1V539.9M628 539.5H629M632.4 540.2H639.6M632.9 540.4H635.2M632.9 540.6H640.7M632.9 540.4V540.6M632.4 540.5H632.9M632.4 540.2V540.5M629.1 540.4H632.4M629.1 540.9H637.3M629.1 540.4V540.9M628 540.6H629.1M628 539.5V540.6M626.9 540.1H628M631.5 541.1H638.8M634 541.3H635.6M634 541.5H636.4M634 541.3V541.5M632.7 541.4H634M636.1 541.7H637.5M636.1 541.9H639M636.1 541.7V541.9M634.7 541.8H636.1M634.7 542.2H639.3M634.7 541.8V542.2M632.7 542H634.7M632.7 541.4V542M631.5 541.7H632.7M631.5 541.1V541.7M629.7 541.4H631.5M634 542.4H636.1M634 542.6H637.4M634 542.4V542.6M632.1 542.5H634M632.1 542.8H637.8M632.1 542.5V542.8M629.7 542.6H632.1M629.7 541.4V542.6M628.9 542H629.7M629.3 543H636M631.1 543.2H636.1M632.3 543.5H632.7M633.3 543.7H638.1M633.3 543.9H633.7M633.3 543.7V543.9M632.3 543.8H633.3M632.3 543.5V543.8M631.1 543.6H632.3M631.1 543.2V543.6M629.3 543.4H631.1M629.3 543V543.4M628.9 543.2H629.3M628.9 542V543.2M626.9 542.6H628.9M626.9 540.1V542.6M603.6 541.3H626.9M603.6 532.9V541.3M600 539.2H603.6M600 532V539.2M643.1 492.2H644.2M644 492.6H648.9M644.7 493H648M645.9 493.4H646.3M647.2 493.7H647.6M647.2 494.1H647.6M647.2 493.7V494.1M646.6 493.9H647.2M646.6 494.5H647M646.6 493.9V494.5M645.9 494.2H646.6M645.9 493.4V494.2M644.7 493.8H645.9M644.7 493V493.8M644 493.4H644.7M644 492.6V493.4M643.1 493H644M643.1 492.2V493M642.8 492.6H643.1M642.8 494.9H643.2M642.8 492.6V494.9M641.1 493.7H642.8M644.2 495.3H647.2M644.2 495.7H644.6M644.2 495.3V495.7M642.8 495.5H644.2M642.8 496.1H643.2M642.8 495.5V496.1M641.1 495.8H642.8M641.1 493.7V495.8M639.1 494.8H641.1M639.1 496.5H646.7M639.1 494.8V496.5M636.9 495.6H639.1M636.9 496.8H647.2M636.9 495.6V496.8M632 496.2H636.9M632 497.2H644.5M632 496.2V497.2M628.5 496.7H632M639 497.6H646.6M642.3 498H643M642.3 498.4H647M642.3 498V498.4M641.5 498.2H642.3M641.5 498.8H645.1M641.5 498.2V498.8M640.5 498.5H641.5M640.5 499.2H648.4M640.5 498.5V499.2M639 498.8H640.5M639 497.6V498.8M637.6 498.2H639M637.6 499.6H647.7M637.6 498.2V499.6M636.6 498.9H637.6M636.6 499.9H647.2M636.6 498.9V499.9M632.9 499.4H636.6M632.9 500.3H648.8M632.9 499.4V500.3M628.5 499.9H632.9M628.5 496.7V499.9M623.9 498.3H628.5M623.9 500.7H646.9M623.9 498.3V500.7M615 499.5H623.9M639 501.4H644.1M639 501.6H643.4M639 501.4V501.6M637.5 501.5H639M637.5 501.9H647.1M637.5 501.5V501.9M634.2 501.7H637.5M634.2 502.1H640.2M634.2 501.7V502.1M630.5 501.9H634.2M634.5 502.3H647M634.5 502.5H646.3M634.5 502.3V502.5M633.3 502.4H634.5M633.3 502.7H643.1M633.3 502.4V502.7M630.5 502.6H633.3M630.5 501.9V502.6M629.3 502.2H630.5M638.1 502.9H645.8M640.6 503.1H645.2M640.6 503.4H646.2M640.6 503.1V503.4M638.1 503.3H640.6M638.1 502.9V503.3M635.7 503.1H638.1M635.7 503.6H646.2M635.7 503.1V503.6M634.4 503.3H635.7M634.4 503.8H642.9M634.4 503.3V503.8M629.3 503.6H634.4M629.3 502.2V503.6M622.7 502.9H629.3M640.9 504H646.4M640.9 504.2H646.1M640.9 504V504.2M638.2 504.1H640.9M638.2 504.4H642.5M638.2 504.1V504.4M634.3 504.3H638.2M635.5 504.7H645M638 504.9H645.2M641 505.1H641.4M641 505.3H644.2M641 505.1V505.3M638.8 505.2H641M638.8 505.5H645.9M638.8 505.2V505.5M638 505.4H638.8M638 504.9V505.4M635.5 505.1H638M635.5 504.7V505.1M634.3 504.9H635.5M634.3 504.3V504.9M633.1 504.6H634.3M634.3 505.7H646M641.5 505.9H645.5M641.5 506.2H642M641.5 505.9V506.2M639.8 506.1H641.5M639.8 506.4H643.7M639.8 506.1V506.4M638.2 506.2H639.8M638.2 506.6H639.5M638.2 506.2V506.6M635 506.4H638.2M642 506.8H642.4M642 507H643.4M642 506.8V507M640.9 506.9H642M641.8 507.2H644.4M641.8 507.4H642.2M641.8 507.2V507.4M640.9 507.3H641.8M640.9 506.9V507.3M640.4 507.1H640.9M640.4 507.7H643.8M640.4 507.1V507.7M639.3 507.4H640.4M639.3 507.9H644.3M639.3 507.4V507.9M637.6 507.6H639.3M639.1 508.1H639.5M639.1 508.3H640.4M639.1 508.1V508.3M637.6 508.2H639.1M637.6 507.6V508.2M635 507.9H637.6M635 506.4V507.9M634.3 507.2H635M634.3 505.7V507.2M633.1 506.4H634.3M633.1 504.6V506.4M631.2 505.5H633.1M637.2 508.5H642.2M638.5 508.7H638.9M638.5 509H638.9M638.5 508.7V509M637.8 508.8H638.5M637.8 509.2H643M637.8 508.8V509.2M637.2 509H637.8M637.2 508.5V509M635.9 508.8H637.2M635.9 509.4H637.5M635.9 508.8V509.4M635.3 509.1H635.9M635.3 509.6H642.6M635.3 509.1V509.6M634.5 509.3H635.3M634.5 509.8H639.6M634.5 509.3V509.8M631.2 509.6H634.5M631.2 505.5V509.6M627.1 507.5H631.2M627.1 510H641M627.1 507.5V510M622.7 508.8H627.1M622.7 502.9V508.8M615 505.8H622.7M615 499.5V505.8M610.6 504.3H615M636.9 511.6H646M640.6 511.8H641M641.9 512.1H642.3M642.6 512.3H643M642.6 512.6H643M642.6 512.3V512.6M641.9 512.5H642.6M641.9 512.1V512.5M640.6 512.3H641.9M640.6 511.8V512.3M639.1 512H640.6M639.1 512.9H643.8M639.1 512V512.9M636.9 512.5H639.1M636.9 511.6V512.5M633.5 512H636.9M636.5 513.1H644.9M640.2 513.4H640.6M640.2 513.7H640.6M640.2 513.4V513.7M639 513.5H640.2M639 513.9H642.6M639 513.5V513.9M638.6 513.7H639M638.6 514.2H640.6M638.6 513.7V514.2M636.5 514H638.6M636.5 513.1V514M633.5 513.6H636.5M633.5 512V513.6M630.5 512.8H633.5M635 514.5H639.3M635 514.7H640.6M635 514.5V514.7M633.7 514.6H635M633.7 515H642M633.7 514.6V515M633.1 514.8H633.7M633.1 515.3H642.7M633.1 514.8V515.3M630.5 515H633.1M630.5 512.8V515M626.3 513.9H630.5M626.3 515.5H641.3M626.3 513.9V515.5M621.3 514.7H626.3M621.3 515.8H634.6M621.3 514.7V515.8M618.7 515.3H621.3M624.1 516.1H631M627.1 516.3H636.8M627.1 516.6H640.3M627.1 516.3V516.6M624.1 516.5H627.1M624.1 516.1V516.5M620.8 516.3H624.1M620.8 516.9H638.1M620.8 516.3V516.9M618.7 516.6H620.8M618.7 515.3V516.6M610.6 515.9H618.7M610.6 504.3V515.9M608 513H610.6M608 506V513M645.6 470.2H649.2M647.9 470.5H648.3M648.7 470.8H651.3M649.2 471.1H649.8M649.9 471.4H650.3M649.9 471.8H650.3M649.9 471.4V471.8M649.2 471.6H649.9M649.2 471.1V471.6M648.7 471.4H649.2M648.7 470.8V471.4M647.9 471.1H648.7M647.9 470.5V471.1M647.4 470.8H647.9M647.4 472.1H651.1M647.4 470.8V472.1M645.6 471.4H647.4M645.6 470.2V471.4M643.2 470.8H645.6M643.2 472.4H652M643.2 470.8V472.4M641.8 471.6H643.2M643.6 472.7H649.9M643.6 473H649.6M643.6 472.7V473M641.8 472.9H643.6M641.8 471.6V472.9M641 472.2H641.8M641.8 473.4H649.5M644.6 473.7H649.1M644.6 474H645.7M644.6 473.7V474M641.8 473.8H644.6M641.8 473.4V473.8M641 473.6H641.8M641 472.2V473.6M639.6 472.9H641M641.7 474.3H648.7M641.7 474.6H650.2M641.7 474.3V474.6M639.6 474.5H641.7M639.6 472.9V474.5M627 473.7H639.6M627 475.7H656.9M627 473.7V475.7M621.4 475.2H627M634 476.8H654.3M646 477.1H652.4M646 477.4H655.2M646 477.1V477.4M641.1 477.3H646M641.1 477.7H654.8M641.1 477.3V477.7M634 477.5H641.1M634 476.8V477.5M628.3 477.1H634M639.4 478H647.2M645.2 478.3H654M646.7 478.6H652.2M646.7 478.9H654.8M646.7 478.6V478.9M645.2 478.8H646.7M645.2 478.3V478.8M642.4 478.6H645.2M651.1 479.2H651.5M653.8 479.6H654.9M653.8 479.9H654.4M653.8 479.6V479.9M652.3 479.7H653.8M653.1 480.2H653.5M653.1 480.5H656.6M653.1 480.2V480.5M652.3 480.3H653.1M652.3 479.7V480.3M651.1 480H652.3M651.1 479.2V480M648.7 479.6H651.1M648.7 480.8H649.1M648.7 479.6V480.8M648.1 480.2H648.7M648.1 481.1H653.5M648.1 480.2V481.1M646 480.6H648.1M648 481.4H653.7M648 481.7H654.3M648 481.4V481.7M646 481.5H648M646 480.6V481.5M642.4 481.1H646M642.4 478.6V481.1M639.4 479.8H642.4M639.4 478V479.8M632.5 478.9H639.4M639.7 482H650.2M640.7 482.3H649.6M640.7 482.6H653.9M640.7 482.3V482.6M639.7 482.5H640.7M639.7 482V482.5M637.3 482.2H639.7M641.3 482.9H651.9M642.8 483.2H650M645.1 483.5H652M645.1 483.8H651.3M645.1 483.5V483.8M642.8 483.7H645.1M642.8 483.2V483.7M641.3 483.5H642.8M641.3 482.9V483.5M637.3 483.2H641.3M637.3 482.2V483.2M632.5 482.7H637.3M632.5 478.9V482.7M630.1 480.8H632.5M639.2 484.1H648.2M639.2 484.4H650.2M639.2 484.1V484.4M634.5 484.3H639.2M634.5 484.8H649.9M634.5 484.3V484.8M630.1 484.5H634.5M630.1 480.8V484.5M628.3 482.7H630.1M628.3 477.1V482.7M621.4 479.9H628.3M621.4 475.2V479.9M617.6 478.7H621.4M626.6 486.1H643.6M626.6 486.4H641.8M626.6 486.1V486.4M619.8 486.2H626.6M628.4 486.8H643.6M630.2 487.2H636.3M634.4 487.5H641.7M634.4 487.9H636.6M634.4 487.5V487.9M632.6 487.7H634.4M632.6 488.3H639.8M632.6 487.7V488.3M630.2 488H632.6M630.2 487.2V488M628.4 487.6H630.2M628.4 486.8V487.6M623.1 487.2H628.4M633 488.6H639.6M634.9 489H636M634.9 489.4H639.8M634.9 489V489.4M633 489.2H634.9M633 488.6V489.2M632.1 488.9H633M632.1 489.7H635.7M632.1 488.9V489.7M629.9 489.3H632.1M629.9 490.1H631M629.9 489.3V490.1M626.2 489.7H629.9M626.2 490.5H632.8M626.2 489.7V490.5M624.4 490.1H626.2M624.4 490.8H634.7M624.4 490.1V490.8M623.1 490.4H624.4M623.1 487.2V490.4M619.8 488.8H623.1M619.8 486.2V488.8M617.6 487.5H619.8M617.6 478.7V487.5M617 485.3H617.6M617 482V485.3M635.5 455.7H651.6M635.5 456.1H651.2M635.5 455.7V456.1M633.5 455.9H635.5M640.6 456.6H658M640.6 457H655M640.6 456.6V457M639.6 456.8H640.6M647.4 457.4H657.7M648 457.8H653.6M648 458.3H657.1M648 457.8V458.3M647.4 458.1H648M647.4 457.4V458.1M643.4 457.7H647.4M643.4 458.7H659.1M643.4 457.7V458.7M639.6 458.2H643.4M639.6 456.8V458.2M633.5 457.5H639.6M633.5 455.9V457.5M626.1 456.7H633.5M644.3 460.5H651.8M644.3 460.8H657.4M644.3 460.5V460.8M639.4 460.7H644.3M647.8 461.1H656M647.8 461.4H649.7M647.8 461.1V461.4M643.6 461.2H647.8M643.6 461.7H652.9M643.6 461.2V461.7M639.4 461.5H643.6M639.4 460.7V461.5M635.2 461.1H639.4M647.7 462H654.4M648.9 462.3H657M648.9 462.5H656.5M648.9 462.3V462.5M647.7 462.4H648.9M647.7 462V462.4M646.8 462.2H647.7M646.8 462.8H653.6M646.8 462.2V462.8M646 462.5H646.8M649.1 463.1H653.1M649.1 463.4H652.6M649.1 463.1V463.4M648.3 463.3H649.1M648.3 463.7H649.9M648.3 463.3V463.7M646 463.5H648.3M646 462.5V463.5M643.3 463H646M643.3 464H650.4M643.3 463V464M641.2 463.5H643.3M641.2 464.3H651.2M641.2 463.5V464.3M637.3 463.9H641.2M637.3 464.5H649.8M637.3 463.9V464.5M635.2 464.2H637.3M635.2 461.1V464.2M633.8 462.6H635.2M643 464.8H649.3M643 465.1H647.4M643 464.8V465.1M640.6 465H643M640.6 465.4H647.7M640.6 465V465.4M639 465.2H640.6M645.1 465.7H645.5M645.1 466H645.5M645.1 465.7V466M644.4 465.8H645.1M644.4 466.3H644.8M644.4 465.8V466.3M643.3 466.1H644.4M643.3 466.6H648.4M643.3 466.1V466.6M641.1 466.3H643.3M641.1 466.8H647.4M641.1 466.3V466.8M639 466.6H641.1M639 465.2V466.6M637.3 465.9H639M637.3 467.1H640.1M637.3 465.9V467.1M633.8 466.5H637.3M633.8 462.6V466.5M631.4 464.6H633.8M637.9 467.4H644.6M637.9 467.7H641.1M637.9 467.4V467.7M636.6 467.6H637.9M636.6 468H645.1M636.6 467.6V468M634.6 467.8H636.6M634.6 468.3H641.3M634.6 467.8V468.3M631.4 468H634.6M631.4 464.6V468M626.1 466.3H631.4M626.1 456.7V466.3M624 463.9H626.1M624 463.9V464" stroke="#5b2fb0" stroke-width="0.55" fill="none"/>
<line x1="507" y1="619.3" x2="682.6" y2="619.3" stroke="#9a9a9a" stroke-width="0.8"/>
<text transform="translate(523.9,632) rotate(-90)" font-size="5.6" fill="#333" textLength="11.4" lengthAdjust="spacingAndGlyphs">1977</text>
<text transform="translate(540.9,632) rotate(-90)" font-size="5.6" fill="#333" textLength="11.4" lengthAdjust="spacingAndGlyphs">1982</text>
<text transform="translate(557.9,632) rotate(-90)" font-size="5.6" fill="#333" textLength="11.4" lengthAdjust="spacingAndGlyphs">1987</text>
<text transform="translate(574.9,632) rotate(-90)" font-size="5.6" fill="#333" textLength="11.4" lengthAdjust="spacingAndGlyphs">1992</text>
<text transform="translate(591.9,632) rotate(-90)" font-size="5.6" fill="#333" textLength="11.4" lengthAdjust="spacingAndGlyphs">1997</text>
<text transform="translate(608.9,632) rotate(-90)" font-size="5.6" fill="#333" textLength="11.4" lengthAdjust="spacingAndGlyphs">2002</text>
<text transform="translate(625.9,632) rotate(-90)" font-size="5.6" fill="#333" textLength="11.4" lengthAdjust="spacingAndGlyphs">2007</text>
<text transform="translate(642.9,632) rotate(-90)" font-size="5.6" fill="#333" textLength="11.4" lengthAdjust="spacingAndGlyphs">2012</text>
<text transform="translate(659.9,632) rotate(-90)" font-size="5.6" fill="#333" textLength="11.4" lengthAdjust="spacingAndGlyphs">2017</text>
<text transform="translate(676.9,632) rotate(-90)" font-size="5.6" fill="#333" textLength="11.4" lengthAdjust="spacingAndGlyphs">2022</text>
<path d="M521.9 619.3V620.6M538.9 619.3V620.6M555.9 619.3V620.6M572.9 619.3V620.6M589.9 619.3V620.6M606.9 619.3V620.6M623.9 619.3V620.6M640.9 619.3V620.6M657.9 619.3V620.6M674.9 619.3V620.6" stroke="#9a9a9a" stroke-width="0.5" fill="none"/>
</svg></body></html>
